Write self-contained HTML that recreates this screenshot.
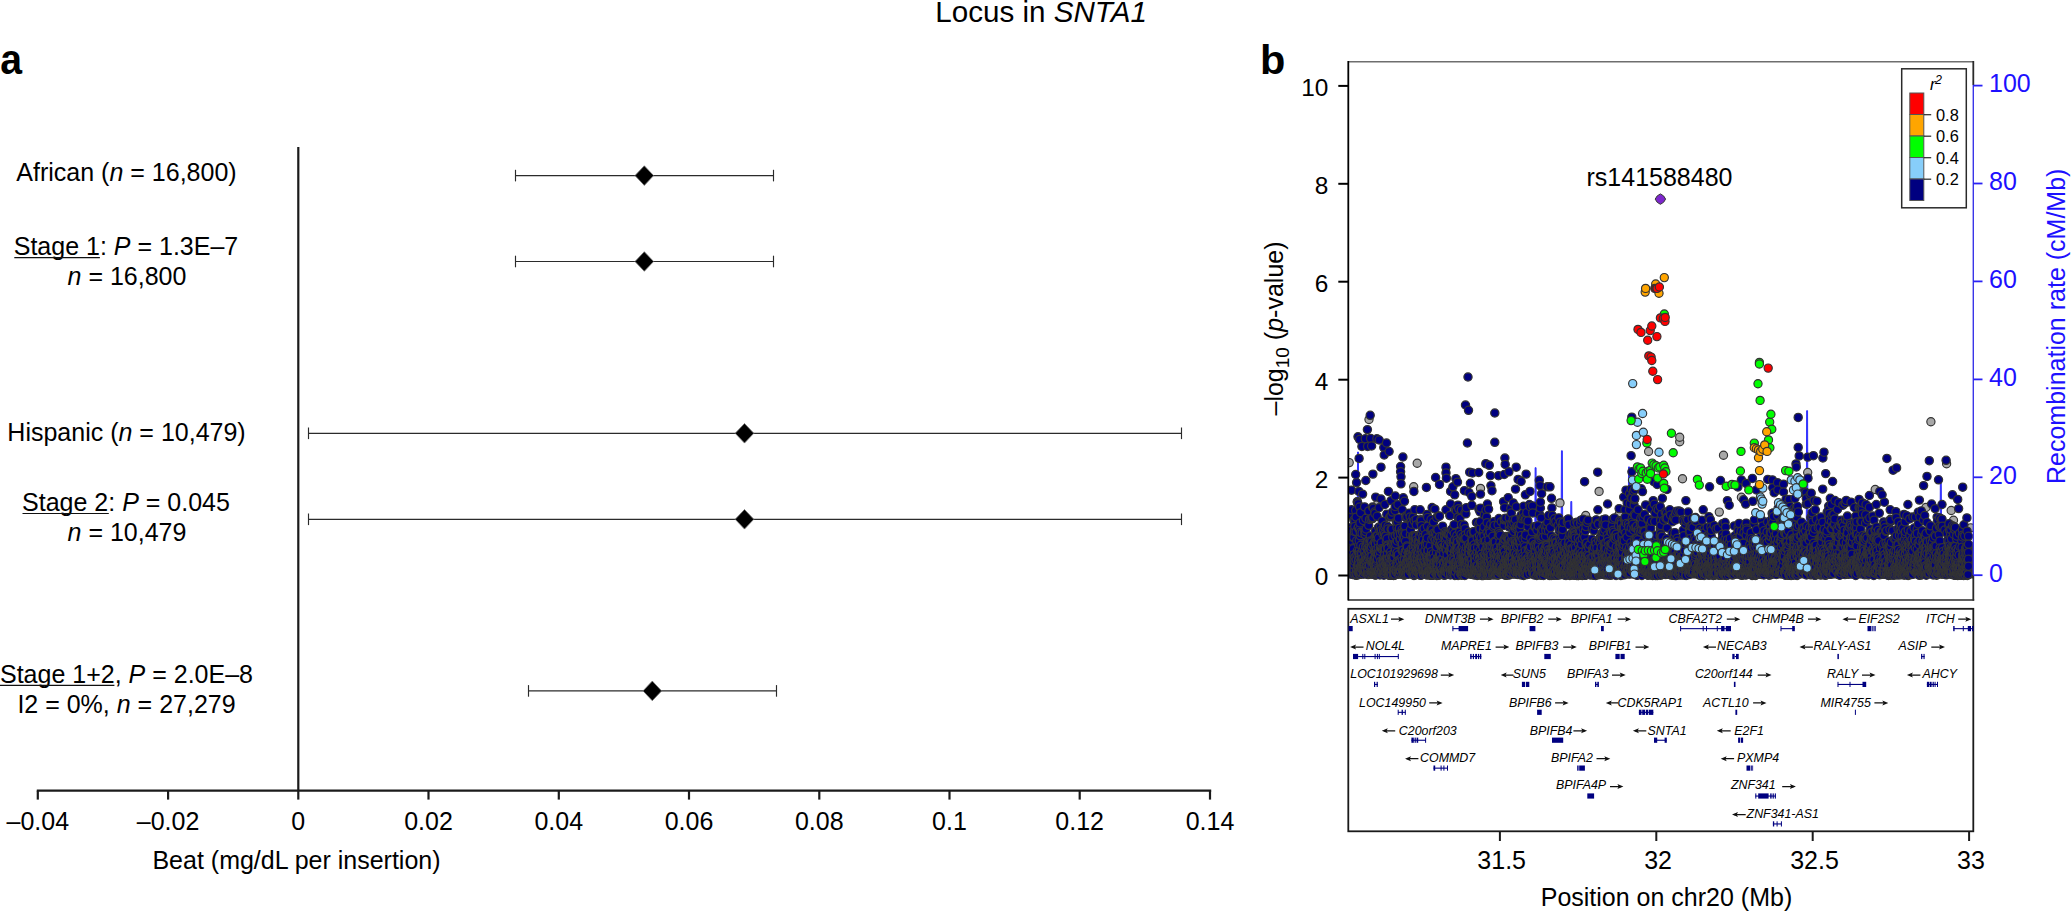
<!DOCTYPE html>
<html lang="en"><head><meta charset="utf-8"><title>Locus in SNTA1</title>
<style>
html,body{margin:0;padding:0;background:#fff;}
body{width:2071px;height:912px;overflow:hidden;}
svg{display:block;position:absolute;left:0;top:0;}
text{font-family:"Liberation Sans",Arial,Helvetica,sans-serif;fill:#000;}
.t25{font-size:25px;}
.i{font-style:italic;}
.b{font-weight:bold;}
.blue{fill:#1d10ff;}
.gene{font-size:12.4px;font-style:italic;}
.leg{font-size:16.4px;}
</style></head><body>
<svg width="2071" height="912" viewBox="0 0 2071 912">
<rect x="0" y="0" width="2071" height="912" fill="#fff"/>
<text x="935.3" y="22.2" style="font-size:29.6px">Locus in <tspan class="i">SNTA1</tspan></text>
<text x="0.2" y="73.6" class="b" style="font-size:42.6px" textLength="21.8" lengthAdjust="spacingAndGlyphs">a</text>
<text x="1260" y="73.6" class="b" style="font-size:41.5px">b</text>
<g stroke="#1a1a1a" stroke-width="2.2" fill="none">
<line x1="298.3" y1="147" x2="298.3" y2="790.6"/>
<line x1="36.8" y1="790.6" x2="1211.2" y2="790.6"/>
<line x1="37.8" y1="790.6" x2="37.8" y2="799.6"/>
<line x1="168.1" y1="790.6" x2="168.1" y2="799.6"/>
<line x1="298.3" y1="790.6" x2="298.3" y2="799.6"/>
<line x1="428.5" y1="790.6" x2="428.5" y2="799.6"/>
<line x1="558.8" y1="790.6" x2="558.8" y2="799.6"/>
<line x1="689.0" y1="790.6" x2="689.0" y2="799.6"/>
<line x1="819.3" y1="790.6" x2="819.3" y2="799.6"/>
<line x1="949.5" y1="790.6" x2="949.5" y2="799.6"/>
<line x1="1079.7" y1="790.6" x2="1079.7" y2="799.6"/>
<line x1="1210.0" y1="790.6" x2="1210.0" y2="799.6"/>
</g>
<text x="37.8" y="829.6" class="t25" text-anchor="middle">–0.04</text>
<text x="168.1" y="829.6" class="t25" text-anchor="middle">–0.02</text>
<text x="298.3" y="829.6" class="t25" text-anchor="middle">0</text>
<text x="428.5" y="829.6" class="t25" text-anchor="middle">0.02</text>
<text x="558.8" y="829.6" class="t25" text-anchor="middle">0.04</text>
<text x="689.0" y="829.6" class="t25" text-anchor="middle">0.06</text>
<text x="819.3" y="829.6" class="t25" text-anchor="middle">0.08</text>
<text x="949.5" y="829.6" class="t25" text-anchor="middle">0.1</text>
<text x="1079.7" y="829.6" class="t25" text-anchor="middle">0.12</text>
<text x="1210.0" y="829.6" class="t25" text-anchor="middle">0.14</text>
<text x="296.5" y="868.6" class="t25" text-anchor="middle">Beat (mg/dL per insertion)</text>
<g stroke="#2b2b2b" stroke-width="1.15" fill="none"><line x1="515.5" y1="175.6" x2="773.5" y2="175.6"/><line x1="515.5" y1="169.79999999999998" x2="515.5" y2="181.4"/><line x1="773.5" y1="169.79999999999998" x2="773.5" y2="181.4"/></g>
<path d="M635.0 175.6L644.3 165.79999999999998L653.5999999999999 175.6L644.3 185.4Z" fill="#000" stroke="#777" stroke-width="0.8"/>
<g stroke="#2b2b2b" stroke-width="1.15" fill="none"><line x1="515.5" y1="261.5" x2="773.5" y2="261.5"/><line x1="515.5" y1="255.7" x2="515.5" y2="267.3"/><line x1="773.5" y1="255.7" x2="773.5" y2="267.3"/></g>
<path d="M635.0 261.5L644.3 251.7L653.5999999999999 261.5L644.3 271.3Z" fill="#000" stroke="#777" stroke-width="0.8"/>
<g stroke="#2b2b2b" stroke-width="1.15" fill="none"><line x1="308.5" y1="433.3" x2="1181.5" y2="433.3"/><line x1="308.5" y1="427.5" x2="308.5" y2="439.1"/><line x1="1181.5" y1="427.5" x2="1181.5" y2="439.1"/></g>
<path d="M735.2 433.3L744.5 423.5L753.8 433.3L744.5 443.1Z" fill="#000" stroke="#777" stroke-width="0.8"/>
<g stroke="#2b2b2b" stroke-width="1.15" fill="none"><line x1="308.5" y1="519.3" x2="1181.5" y2="519.3"/><line x1="308.5" y1="513.5" x2="308.5" y2="525.0999999999999"/><line x1="1181.5" y1="513.5" x2="1181.5" y2="525.0999999999999"/></g>
<path d="M735.2 519.3L744.5 509.49999999999994L753.8 519.3L744.5 529.0999999999999Z" fill="#000" stroke="#777" stroke-width="0.8"/>
<g stroke="#2b2b2b" stroke-width="1.15" fill="none"><line x1="528.5" y1="690.9" x2="776.5" y2="690.9"/><line x1="528.5" y1="685.1" x2="528.5" y2="696.6999999999999"/><line x1="776.5" y1="685.1" x2="776.5" y2="696.6999999999999"/></g>
<path d="M643.0 690.9L652.3 681.1L661.5999999999999 690.9L652.3 700.6999999999999Z" fill="#000" stroke="#777" stroke-width="0.8"/>
<text x="126.5" y="181.3" class="t25" text-anchor="middle">African (<tspan class="i">n</tspan> = 16,800)</text>
<text x="126" y="254.6" class="t25" text-anchor="middle">Stage 1: <tspan class="i">P</tspan> = 1.3E–7</text>
<text x="127" y="284.5" class="t25" text-anchor="middle"><tspan class="i">n</tspan> = 16,800</text>
<text x="126.5" y="441.3" class="t25" text-anchor="middle">Hispanic (<tspan class="i">n</tspan> = 10,479)</text>
<text x="126" y="510.6" class="t25" text-anchor="middle">Stage 2: <tspan class="i">P</tspan> = 0.045</text>
<text x="127" y="540.5" class="t25" text-anchor="middle"><tspan class="i">n</tspan> = 10,479</text>
<text x="126.5" y="682.6" class="t25" text-anchor="middle">Stage 1+2, <tspan class="i">P</tspan> = 2.0E–8</text>
<text x="126.5" y="713.1" class="t25" text-anchor="middle">I2 = 0%, <tspan class="i">n</tspan> = 27,279</text>
<line x1="14.3" y1="257.6" x2="99.9" y2="257.6" stroke="#111" stroke-width="1.1"/>
<line x1="22.5" y1="513.5" x2="108.8" y2="513.5" stroke="#111" stroke-width="1.1"/>
<line x1="-1" y1="685.4" x2="114.4" y2="685.4" stroke="#111" stroke-width="1.1"/>
<g stroke="#2a22f5" stroke-width="1.6" fill="none">
<line x1="1348.3" y1="572" x2="1973.3" y2="572" stroke-width="1.2"/>
<path d="M1357.0 576L1357.55 452L1358.45 452L1359.0 576" fill="#3030ff" stroke="#3030ff" stroke-width="1"/>
<path d="M1534.6 576L1535.1499999999999 467.7L1536.05 467.7L1536.6 576" fill="#3030ff" stroke="#3030ff" stroke-width="1"/>
<path d="M1560.9 576L1561.45 450.8L1562.3500000000001 450.8L1562.9 576" fill="#3030ff" stroke="#3030ff" stroke-width="1"/>
<path d="M1570.3 576L1570.85 501.5L1571.75 501.5L1572.3 576" fill="#3030ff" stroke="#3030ff" stroke-width="1"/>
<path d="M1628.0 576L1628.55 466.9L1629.45 466.9L1630.0 576" fill="#3030ff" stroke="#3030ff" stroke-width="1"/>
<path d="M1806.1 576L1806.6499999999999 410.7L1807.55 410.7L1808.1 576" fill="#3030ff" stroke="#3030ff" stroke-width="1"/>
<path d="M1939.8 576L1940.35 482L1941.25 482L1941.8 576" fill="#3030ff" stroke="#3030ff" stroke-width="1"/>
</g>
<clipPath id="pc"><rect x="1348.3" y="61.7" width="625.0" height="538.1999999999999"/></clipPath>
<g clip-path="url(#pc)">
<polygon points="1348.3,578.5 1349,533.2 1358,532.0 1370,536.8 1385,535.6 1400,532.6 1420,538.6 1440,541.6 1455,533.8 1470,535.0 1490,537.4 1510,536.8 1530,533.8 1545,536.8 1560,542.2 1575,544.0 1590,543.4 1605,544.6 1618,542.8 1624,528.4 1630,523.9 1640,524.8 1648,533.2 1665,537.4 1685,539.8 1700,542.2 1712,544.6 1725,547.0 1745,545.8 1760,542.2 1768,539.2 1775,530.2 1790,528.4 1800,524.8 1810,525.4 1820,529.0 1835,530.8 1850,532.0 1868,532.6 1880,537.4 1895,542.8 1910,540.4 1920,538.0 1935,541.6 1950,544.6 1962,547.0 1973,542.2 1973.3,578.5" fill="#333"/>
<g fill="#a8a8a8" stroke="#333" stroke-width="1.15">
<circle cx="1369.0" cy="419.5" r="4.1"/>
<circle cx="1417.2" cy="463.3" r="4.1"/>
<circle cx="1349.2" cy="462.6" r="4.1"/>
<circle cx="1413.7" cy="486.8" r="4.1"/>
<circle cx="1480.5" cy="488.4" r="4.1"/>
<circle cx="1560.0" cy="502.9" r="4.1"/>
<circle cx="1378.0" cy="502.9" r="4.1"/>
<circle cx="1396.4" cy="505.2" r="4.1"/>
<circle cx="1599.1" cy="491.4" r="4.1"/>
<circle cx="1585.7" cy="515.5" r="4.1"/>
<circle cx="1682.5" cy="478.7" r="4.1"/>
<circle cx="1723.5" cy="455.2" r="4.1"/>
<circle cx="1719.3" cy="512.1" r="4.1"/>
<circle cx="1679.7" cy="441.8" r="4.1"/>
<circle cx="1679.7" cy="437.2" r="4.1"/>
<circle cx="1648.6" cy="451.5" r="4.1"/>
<circle cx="1619.1" cy="514.4" r="4.1"/>
<circle cx="1694.0" cy="528.2" r="4.1"/>
<circle cx="1946.6" cy="463.7" r="4.1"/>
<circle cx="1951.2" cy="510.5" r="4.1"/>
<circle cx="1925.9" cy="507.5" r="4.1"/>
<circle cx="1909.7" cy="517.2" r="4.1"/>
<circle cx="1953.5" cy="520.2" r="4.1"/>
<circle cx="1970.8" cy="527.8" r="4.1"/>
<circle cx="1875.2" cy="489.5" r="4.1"/>
<circle cx="1930.9" cy="421.8" r="4.1"/>
<circle cx="1807.7" cy="472.5" r="4.1"/>
<circle cx="1741.4" cy="497.3" r="4.1"/>
</g>
<g fill="#000080" stroke="#333" stroke-width="1.25">
<circle cx="1350.4" cy="562.7" r="4.1"/>
<circle cx="1350.4" cy="553.4" r="4.1"/>
<circle cx="1350.4" cy="571.6" r="4.1"/>
<circle cx="1350.5" cy="514.9" r="4.1"/>
<circle cx="1350.7" cy="572.0" r="4.1"/>
<circle cx="1350.9" cy="543.0" r="4.1"/>
<circle cx="1350.9" cy="565.6" r="4.1"/>
<circle cx="1350.9" cy="527.6" r="4.1"/>
<circle cx="1351.0" cy="564.1" r="4.1"/>
<circle cx="1351.1" cy="570.1" r="4.1"/>
<circle cx="1351.2" cy="573.7" r="4.1"/>
<circle cx="1351.3" cy="568.3" r="4.1"/>
<circle cx="1351.4" cy="542.5" r="4.1"/>
<circle cx="1351.5" cy="537.5" r="4.1"/>
<circle cx="1351.5" cy="490.2" r="4.1"/>
<circle cx="1351.5" cy="509.8" r="4.1"/>
<circle cx="1351.6" cy="565.1" r="4.1"/>
<circle cx="1351.7" cy="530.2" r="4.1"/>
<circle cx="1351.8" cy="537.4" r="4.1"/>
<circle cx="1351.9" cy="565.1" r="4.1"/>
<circle cx="1352.0" cy="545.1" r="4.1"/>
<circle cx="1352.1" cy="569.2" r="4.1"/>
<circle cx="1352.1" cy="573.2" r="4.1"/>
<circle cx="1352.3" cy="562.6" r="4.1"/>
<circle cx="1352.4" cy="551.9" r="4.1"/>
<circle cx="1352.5" cy="559.4" r="4.1"/>
<circle cx="1352.5" cy="574.5" r="4.1"/>
<circle cx="1352.6" cy="541.9" r="4.1"/>
<circle cx="1352.7" cy="566.8" r="4.1"/>
<circle cx="1352.7" cy="563.8" r="4.1"/>
<circle cx="1352.7" cy="537.2" r="4.1"/>
<circle cx="1352.7" cy="569.3" r="4.1"/>
<circle cx="1352.8" cy="568.7" r="4.1"/>
<circle cx="1352.8" cy="562.6" r="4.1"/>
<circle cx="1352.9" cy="562.6" r="4.1"/>
<circle cx="1353.0" cy="559.4" r="4.1"/>
<circle cx="1353.1" cy="559.5" r="4.1"/>
<circle cx="1353.1" cy="536.9" r="4.1"/>
<circle cx="1353.2" cy="573.0" r="4.1"/>
<circle cx="1353.2" cy="558.0" r="4.1"/>
<circle cx="1353.2" cy="568.2" r="4.1"/>
<circle cx="1353.3" cy="548.0" r="4.1"/>
<circle cx="1353.3" cy="548.7" r="4.1"/>
<circle cx="1353.4" cy="568.2" r="4.1"/>
<circle cx="1353.5" cy="568.4" r="4.1"/>
<circle cx="1353.5" cy="572.1" r="4.1"/>
<circle cx="1353.8" cy="537.3" r="4.1"/>
<circle cx="1353.8" cy="565.6" r="4.1"/>
<circle cx="1353.9" cy="520.0" r="4.1"/>
<circle cx="1354.0" cy="554.8" r="4.1"/>
<circle cx="1354.1" cy="570.5" r="4.1"/>
<circle cx="1354.2" cy="565.1" r="4.1"/>
<circle cx="1354.2" cy="531.0" r="4.1"/>
<circle cx="1354.4" cy="531.5" r="4.1"/>
<circle cx="1354.6" cy="557.6" r="4.1"/>
<circle cx="1354.8" cy="520.9" r="4.1"/>
<circle cx="1354.8" cy="526.4" r="4.1"/>
<circle cx="1354.8" cy="561.4" r="4.1"/>
<circle cx="1355.0" cy="574.9" r="4.1"/>
<circle cx="1355.7" cy="474.5" r="4.1"/>
<circle cx="1355.7" cy="510.5" r="4.1"/>
<circle cx="1356.0" cy="531.6" r="4.1"/>
<circle cx="1356.1" cy="556.2" r="4.1"/>
<circle cx="1356.1" cy="517.1" r="4.1"/>
<circle cx="1356.2" cy="560.0" r="4.1"/>
<circle cx="1356.4" cy="570.4" r="4.1"/>
<circle cx="1356.6" cy="482.6" r="4.1"/>
<circle cx="1356.6" cy="575.3" r="4.1"/>
<circle cx="1356.7" cy="540.7" r="4.1"/>
<circle cx="1356.9" cy="569.0" r="4.1"/>
<circle cx="1356.9" cy="574.3" r="4.1"/>
<circle cx="1357.3" cy="501.7" r="4.1"/>
<circle cx="1357.3" cy="565.9" r="4.1"/>
<circle cx="1357.4" cy="502.2" r="4.1"/>
<circle cx="1357.4" cy="550.5" r="4.1"/>
<circle cx="1357.6" cy="565.0" r="4.1"/>
<circle cx="1357.9" cy="556.1" r="4.1"/>
<circle cx="1358.0" cy="436.8" r="4.1"/>
<circle cx="1358.1" cy="503.8" r="4.1"/>
<circle cx="1358.1" cy="527.7" r="4.1"/>
<circle cx="1358.3" cy="561.3" r="4.1"/>
<circle cx="1358.3" cy="527.4" r="4.1"/>
<circle cx="1358.4" cy="570.0" r="4.1"/>
<circle cx="1358.4" cy="565.8" r="4.1"/>
<circle cx="1358.5" cy="551.8" r="4.1"/>
<circle cx="1358.5" cy="562.4" r="4.1"/>
<circle cx="1358.6" cy="573.2" r="4.1"/>
<circle cx="1358.6" cy="560.4" r="4.1"/>
<circle cx="1358.7" cy="545.3" r="4.1"/>
<circle cx="1358.7" cy="568.2" r="4.1"/>
<circle cx="1358.9" cy="491.4" r="4.1"/>
<circle cx="1358.9" cy="566.2" r="4.1"/>
<circle cx="1359.0" cy="563.8" r="4.1"/>
<circle cx="1359.1" cy="458.4" r="4.1"/>
<circle cx="1359.1" cy="571.6" r="4.1"/>
<circle cx="1359.2" cy="540.4" r="4.1"/>
<circle cx="1359.2" cy="574.4" r="4.1"/>
<circle cx="1359.4" cy="550.4" r="4.1"/>
<circle cx="1359.5" cy="529.8" r="4.1"/>
<circle cx="1359.5" cy="556.3" r="4.1"/>
<circle cx="1359.6" cy="557.2" r="4.1"/>
<circle cx="1359.6" cy="439.5" r="4.1"/>
<circle cx="1359.6" cy="507.0" r="4.1"/>
<circle cx="1359.6" cy="574.1" r="4.1"/>
<circle cx="1359.7" cy="554.0" r="4.1"/>
<circle cx="1360.0" cy="523.0" r="4.1"/>
<circle cx="1360.1" cy="571.6" r="4.1"/>
<circle cx="1360.1" cy="574.3" r="4.1"/>
<circle cx="1360.2" cy="570.4" r="4.1"/>
<circle cx="1360.2" cy="535.8" r="4.1"/>
<circle cx="1360.3" cy="532.4" r="4.1"/>
<circle cx="1360.4" cy="572.7" r="4.1"/>
<circle cx="1360.6" cy="566.1" r="4.1"/>
<circle cx="1360.6" cy="512.7" r="4.1"/>
<circle cx="1360.8" cy="545.3" r="4.1"/>
<circle cx="1361.0" cy="572.2" r="4.1"/>
<circle cx="1361.1" cy="561.0" r="4.1"/>
<circle cx="1361.2" cy="554.0" r="4.1"/>
<circle cx="1361.3" cy="560.1" r="4.1"/>
<circle cx="1361.5" cy="566.1" r="4.1"/>
<circle cx="1361.6" cy="568.7" r="4.1"/>
<circle cx="1361.6" cy="556.6" r="4.1"/>
<circle cx="1361.7" cy="562.9" r="4.1"/>
<circle cx="1361.7" cy="566.9" r="4.1"/>
<circle cx="1361.7" cy="566.5" r="4.1"/>
<circle cx="1361.8" cy="568.1" r="4.1"/>
<circle cx="1361.8" cy="553.4" r="4.1"/>
<circle cx="1361.9" cy="446.4" r="4.1"/>
<circle cx="1362.0" cy="569.2" r="4.1"/>
<circle cx="1362.1" cy="533.2" r="4.1"/>
<circle cx="1362.2" cy="564.5" r="4.1"/>
<circle cx="1362.6" cy="494.1" r="4.1"/>
<circle cx="1362.8" cy="559.1" r="4.1"/>
<circle cx="1362.8" cy="564.1" r="4.1"/>
<circle cx="1362.9" cy="549.5" r="4.1"/>
<circle cx="1363.0" cy="557.9" r="4.1"/>
<circle cx="1363.2" cy="572.0" r="4.1"/>
<circle cx="1363.2" cy="568.7" r="4.1"/>
<circle cx="1363.2" cy="569.5" r="4.1"/>
<circle cx="1363.3" cy="546.9" r="4.1"/>
<circle cx="1363.4" cy="574.1" r="4.1"/>
<circle cx="1363.4" cy="520.4" r="4.1"/>
<circle cx="1363.5" cy="563.7" r="4.1"/>
<circle cx="1363.7" cy="570.6" r="4.1"/>
<circle cx="1363.8" cy="571.4" r="4.1"/>
<circle cx="1363.8" cy="562.1" r="4.1"/>
<circle cx="1364.1" cy="565.6" r="4.1"/>
<circle cx="1364.2" cy="561.4" r="4.1"/>
<circle cx="1364.4" cy="572.3" r="4.1"/>
<circle cx="1364.5" cy="564.8" r="4.1"/>
<circle cx="1364.6" cy="506.9" r="4.1"/>
<circle cx="1364.6" cy="563.2" r="4.1"/>
<circle cx="1364.7" cy="553.6" r="4.1"/>
<circle cx="1364.8" cy="550.7" r="4.1"/>
<circle cx="1364.8" cy="531.3" r="4.1"/>
<circle cx="1364.9" cy="570.3" r="4.1"/>
<circle cx="1365.1" cy="534.2" r="4.1"/>
<circle cx="1365.1" cy="534.6" r="4.1"/>
<circle cx="1365.3" cy="438.8" r="4.1"/>
<circle cx="1365.4" cy="571.6" r="4.1"/>
<circle cx="1365.4" cy="561.2" r="4.1"/>
<circle cx="1365.5" cy="558.1" r="4.1"/>
<circle cx="1365.6" cy="531.8" r="4.1"/>
<circle cx="1365.7" cy="555.6" r="4.1"/>
<circle cx="1365.8" cy="480.5" r="4.1"/>
<circle cx="1365.8" cy="546.6" r="4.1"/>
<circle cx="1365.9" cy="560.4" r="4.1"/>
<circle cx="1365.9" cy="546.7" r="4.1"/>
<circle cx="1365.9" cy="518.3" r="4.1"/>
<circle cx="1366.1" cy="529.0" r="4.1"/>
<circle cx="1366.1" cy="555.4" r="4.1"/>
<circle cx="1366.1" cy="561.3" r="4.1"/>
<circle cx="1366.2" cy="563.0" r="4.1"/>
<circle cx="1366.2" cy="562.5" r="4.1"/>
<circle cx="1366.4" cy="566.3" r="4.1"/>
<circle cx="1366.7" cy="544.3" r="4.1"/>
<circle cx="1366.8" cy="573.3" r="4.1"/>
<circle cx="1366.8" cy="566.8" r="4.1"/>
<circle cx="1367.0" cy="558.9" r="4.1"/>
<circle cx="1367.4" cy="574.0" r="4.1"/>
<circle cx="1367.4" cy="542.5" r="4.1"/>
<circle cx="1367.4" cy="549.5" r="4.1"/>
<circle cx="1367.4" cy="429.6" r="4.1"/>
<circle cx="1367.5" cy="570.9" r="4.1"/>
<circle cx="1367.5" cy="570.2" r="4.1"/>
<circle cx="1367.6" cy="568.3" r="4.1"/>
<circle cx="1367.6" cy="572.3" r="4.1"/>
<circle cx="1367.6" cy="446.4" r="4.1"/>
<circle cx="1367.8" cy="560.0" r="4.1"/>
<circle cx="1367.9" cy="554.8" r="4.1"/>
<circle cx="1368.0" cy="570.5" r="4.1"/>
<circle cx="1368.1" cy="574.6" r="4.1"/>
<circle cx="1368.1" cy="570.0" r="4.1"/>
<circle cx="1368.1" cy="569.3" r="4.1"/>
<circle cx="1368.6" cy="550.6" r="4.1"/>
<circle cx="1368.6" cy="557.7" r="4.1"/>
<circle cx="1368.7" cy="525.3" r="4.1"/>
<circle cx="1368.8" cy="510.9" r="4.1"/>
<circle cx="1368.9" cy="573.3" r="4.1"/>
<circle cx="1369.0" cy="539.7" r="4.1"/>
<circle cx="1369.1" cy="542.8" r="4.1"/>
<circle cx="1369.4" cy="547.6" r="4.1"/>
<circle cx="1369.4" cy="564.7" r="4.1"/>
<circle cx="1369.4" cy="564.0" r="4.1"/>
<circle cx="1369.5" cy="519.4" r="4.1"/>
<circle cx="1369.5" cy="566.5" r="4.1"/>
<circle cx="1369.6" cy="565.2" r="4.1"/>
<circle cx="1369.7" cy="553.4" r="4.1"/>
<circle cx="1369.8" cy="557.2" r="4.1"/>
<circle cx="1370.1" cy="573.7" r="4.1"/>
<circle cx="1370.2" cy="415.3" r="4.1"/>
<circle cx="1370.2" cy="548.9" r="4.1"/>
<circle cx="1370.3" cy="536.0" r="4.1"/>
<circle cx="1370.5" cy="540.9" r="4.1"/>
<circle cx="1370.6" cy="438.4" r="4.1"/>
<circle cx="1370.9" cy="561.5" r="4.1"/>
<circle cx="1371.1" cy="549.5" r="4.1"/>
<circle cx="1371.1" cy="519.0" r="4.1"/>
<circle cx="1371.1" cy="559.9" r="4.1"/>
<circle cx="1371.2" cy="558.5" r="4.1"/>
<circle cx="1371.2" cy="572.0" r="4.1"/>
<circle cx="1371.2" cy="542.3" r="4.1"/>
<circle cx="1371.2" cy="558.1" r="4.1"/>
<circle cx="1371.3" cy="572.6" r="4.1"/>
<circle cx="1371.4" cy="546.7" r="4.1"/>
<circle cx="1371.6" cy="446.0" r="4.1"/>
<circle cx="1371.7" cy="541.8" r="4.1"/>
<circle cx="1371.8" cy="574.1" r="4.1"/>
<circle cx="1371.9" cy="556.2" r="4.1"/>
<circle cx="1372.1" cy="566.4" r="4.1"/>
<circle cx="1372.3" cy="572.3" r="4.1"/>
<circle cx="1372.4" cy="562.5" r="4.1"/>
<circle cx="1372.5" cy="507.0" r="4.1"/>
<circle cx="1372.6" cy="518.6" r="4.1"/>
<circle cx="1372.7" cy="517.5" r="4.1"/>
<circle cx="1372.9" cy="563.3" r="4.1"/>
<circle cx="1372.9" cy="474.1" r="4.1"/>
<circle cx="1373.0" cy="544.8" r="4.1"/>
<circle cx="1373.1" cy="571.1" r="4.1"/>
<circle cx="1373.4" cy="573.1" r="4.1"/>
<circle cx="1373.4" cy="508.1" r="4.1"/>
<circle cx="1373.5" cy="563.2" r="4.1"/>
<circle cx="1373.8" cy="574.4" r="4.1"/>
<circle cx="1373.8" cy="574.2" r="4.1"/>
<circle cx="1373.9" cy="558.5" r="4.1"/>
<circle cx="1373.9" cy="561.6" r="4.1"/>
<circle cx="1374.0" cy="573.4" r="4.1"/>
<circle cx="1374.3" cy="561.8" r="4.1"/>
<circle cx="1374.5" cy="551.5" r="4.1"/>
<circle cx="1374.5" cy="567.4" r="4.1"/>
<circle cx="1374.6" cy="512.1" r="4.1"/>
<circle cx="1374.6" cy="558.1" r="4.1"/>
<circle cx="1374.6" cy="572.7" r="4.1"/>
<circle cx="1374.7" cy="542.3" r="4.1"/>
<circle cx="1374.8" cy="542.7" r="4.1"/>
<circle cx="1374.8" cy="537.3" r="4.1"/>
<circle cx="1374.9" cy="513.5" r="4.1"/>
<circle cx="1375.0" cy="575.0" r="4.1"/>
<circle cx="1375.1" cy="547.6" r="4.1"/>
<circle cx="1375.1" cy="561.8" r="4.1"/>
<circle cx="1375.2" cy="567.9" r="4.1"/>
<circle cx="1375.3" cy="574.6" r="4.1"/>
<circle cx="1375.3" cy="552.8" r="4.1"/>
<circle cx="1375.4" cy="543.9" r="4.1"/>
<circle cx="1375.5" cy="531.2" r="4.1"/>
<circle cx="1375.7" cy="557.5" r="4.1"/>
<circle cx="1375.7" cy="497.1" r="4.1"/>
<circle cx="1375.7" cy="572.3" r="4.1"/>
<circle cx="1375.8" cy="568.5" r="4.1"/>
<circle cx="1376.0" cy="537.7" r="4.1"/>
<circle cx="1376.1" cy="575.0" r="4.1"/>
<circle cx="1376.1" cy="536.0" r="4.1"/>
<circle cx="1376.2" cy="536.7" r="4.1"/>
<circle cx="1376.3" cy="567.6" r="4.1"/>
<circle cx="1376.3" cy="573.2" r="4.1"/>
<circle cx="1376.4" cy="562.5" r="4.1"/>
<circle cx="1376.4" cy="549.5" r="4.1"/>
<circle cx="1376.4" cy="536.4" r="4.1"/>
<circle cx="1376.6" cy="574.0" r="4.1"/>
<circle cx="1376.7" cy="553.4" r="4.1"/>
<circle cx="1376.9" cy="438.8" r="4.1"/>
<circle cx="1377.0" cy="570.9" r="4.1"/>
<circle cx="1377.0" cy="560.0" r="4.1"/>
<circle cx="1377.1" cy="516.3" r="4.1"/>
<circle cx="1377.1" cy="554.8" r="4.1"/>
<circle cx="1377.2" cy="572.7" r="4.1"/>
<circle cx="1377.4" cy="536.0" r="4.1"/>
<circle cx="1377.4" cy="556.5" r="4.1"/>
<circle cx="1377.4" cy="570.0" r="4.1"/>
<circle cx="1377.4" cy="560.9" r="4.1"/>
<circle cx="1377.5" cy="558.9" r="4.1"/>
<circle cx="1377.6" cy="572.6" r="4.1"/>
<circle cx="1377.6" cy="571.3" r="4.1"/>
<circle cx="1377.7" cy="574.3" r="4.1"/>
<circle cx="1377.8" cy="571.6" r="4.1"/>
<circle cx="1378.1" cy="542.3" r="4.1"/>
<circle cx="1378.2" cy="572.6" r="4.1"/>
<circle cx="1378.2" cy="552.5" r="4.1"/>
<circle cx="1378.2" cy="548.0" r="4.1"/>
<circle cx="1378.3" cy="572.6" r="4.1"/>
<circle cx="1378.3" cy="572.0" r="4.1"/>
<circle cx="1378.4" cy="572.6" r="4.1"/>
<circle cx="1378.4" cy="553.9" r="4.1"/>
<circle cx="1378.5" cy="538.0" r="4.1"/>
<circle cx="1378.5" cy="527.3" r="4.1"/>
<circle cx="1379.1" cy="507.6" r="4.1"/>
<circle cx="1379.2" cy="440.0" r="4.1"/>
<circle cx="1379.6" cy="569.3" r="4.1"/>
<circle cx="1379.7" cy="557.0" r="4.1"/>
<circle cx="1379.8" cy="573.5" r="4.1"/>
<circle cx="1380.0" cy="530.6" r="4.1"/>
<circle cx="1380.0" cy="575.0" r="4.1"/>
<circle cx="1380.0" cy="551.2" r="4.1"/>
<circle cx="1380.2" cy="573.0" r="4.1"/>
<circle cx="1380.3" cy="527.1" r="4.1"/>
<circle cx="1380.4" cy="547.7" r="4.1"/>
<circle cx="1380.7" cy="561.1" r="4.1"/>
<circle cx="1380.7" cy="563.3" r="4.1"/>
<circle cx="1380.7" cy="561.4" r="4.1"/>
<circle cx="1381.0" cy="467.2" r="4.1"/>
<circle cx="1381.0" cy="499.0" r="4.1"/>
<circle cx="1381.0" cy="567.6" r="4.1"/>
<circle cx="1381.3" cy="542.7" r="4.1"/>
<circle cx="1381.4" cy="530.2" r="4.1"/>
<circle cx="1381.4" cy="570.5" r="4.1"/>
<circle cx="1381.5" cy="548.7" r="4.1"/>
<circle cx="1381.8" cy="563.8" r="4.1"/>
<circle cx="1381.9" cy="573.4" r="4.1"/>
<circle cx="1381.9" cy="567.5" r="4.1"/>
<circle cx="1381.9" cy="567.2" r="4.1"/>
<circle cx="1382.0" cy="568.0" r="4.1"/>
<circle cx="1382.0" cy="571.8" r="4.1"/>
<circle cx="1382.2" cy="521.1" r="4.1"/>
<circle cx="1382.5" cy="549.6" r="4.1"/>
<circle cx="1382.7" cy="568.7" r="4.1"/>
<circle cx="1382.8" cy="534.3" r="4.1"/>
<circle cx="1383.0" cy="560.4" r="4.1"/>
<circle cx="1383.4" cy="559.4" r="4.1"/>
<circle cx="1383.5" cy="571.7" r="4.1"/>
<circle cx="1383.5" cy="571.7" r="4.1"/>
<circle cx="1383.5" cy="573.5" r="4.1"/>
<circle cx="1383.6" cy="530.1" r="4.1"/>
<circle cx="1383.8" cy="447.6" r="4.1"/>
<circle cx="1383.8" cy="574.2" r="4.1"/>
<circle cx="1383.9" cy="548.9" r="4.1"/>
<circle cx="1383.9" cy="564.9" r="4.1"/>
<circle cx="1383.9" cy="572.4" r="4.1"/>
<circle cx="1383.9" cy="575.2" r="4.1"/>
<circle cx="1384.0" cy="568.5" r="4.1"/>
<circle cx="1384.1" cy="556.9" r="4.1"/>
<circle cx="1384.1" cy="526.4" r="4.1"/>
<circle cx="1384.1" cy="562.2" r="4.1"/>
<circle cx="1384.1" cy="573.5" r="4.1"/>
<circle cx="1384.2" cy="549.5" r="4.1"/>
<circle cx="1384.2" cy="455.0" r="4.1"/>
<circle cx="1384.3" cy="573.6" r="4.1"/>
<circle cx="1384.3" cy="550.2" r="4.1"/>
<circle cx="1384.4" cy="534.0" r="4.1"/>
<circle cx="1384.7" cy="554.6" r="4.1"/>
<circle cx="1384.8" cy="572.0" r="4.1"/>
<circle cx="1384.8" cy="566.5" r="4.1"/>
<circle cx="1384.8" cy="566.0" r="4.1"/>
<circle cx="1384.9" cy="504.5" r="4.1"/>
<circle cx="1385.2" cy="571.9" r="4.1"/>
<circle cx="1385.3" cy="549.0" r="4.1"/>
<circle cx="1385.4" cy="525.3" r="4.1"/>
<circle cx="1385.5" cy="535.4" r="4.1"/>
<circle cx="1385.6" cy="536.3" r="4.1"/>
<circle cx="1385.8" cy="563.6" r="4.1"/>
<circle cx="1385.9" cy="568.7" r="4.1"/>
<circle cx="1386.0" cy="562.8" r="4.1"/>
<circle cx="1386.0" cy="571.1" r="4.1"/>
<circle cx="1386.1" cy="559.9" r="4.1"/>
<circle cx="1386.1" cy="558.2" r="4.1"/>
<circle cx="1386.1" cy="559.7" r="4.1"/>
<circle cx="1386.4" cy="541.7" r="4.1"/>
<circle cx="1386.4" cy="559.7" r="4.1"/>
<circle cx="1386.5" cy="443.0" r="4.1"/>
<circle cx="1386.7" cy="558.6" r="4.1"/>
<circle cx="1386.7" cy="542.7" r="4.1"/>
<circle cx="1386.8" cy="514.2" r="4.1"/>
<circle cx="1386.8" cy="562.3" r="4.1"/>
<circle cx="1387.0" cy="565.6" r="4.1"/>
<circle cx="1387.1" cy="538.7" r="4.1"/>
<circle cx="1387.1" cy="570.3" r="4.1"/>
<circle cx="1387.4" cy="556.8" r="4.1"/>
<circle cx="1387.4" cy="554.5" r="4.1"/>
<circle cx="1387.4" cy="570.5" r="4.1"/>
<circle cx="1387.5" cy="553.1" r="4.1"/>
<circle cx="1387.5" cy="564.3" r="4.1"/>
<circle cx="1387.5" cy="559.8" r="4.1"/>
<circle cx="1387.5" cy="544.9" r="4.1"/>
<circle cx="1387.6" cy="568.1" r="4.1"/>
<circle cx="1387.7" cy="566.2" r="4.1"/>
<circle cx="1387.7" cy="545.9" r="4.1"/>
<circle cx="1387.8" cy="568.4" r="4.1"/>
<circle cx="1387.8" cy="548.3" r="4.1"/>
<circle cx="1387.9" cy="526.5" r="4.1"/>
<circle cx="1388.1" cy="529.0" r="4.1"/>
<circle cx="1388.2" cy="548.1" r="4.1"/>
<circle cx="1388.4" cy="491.4" r="4.1"/>
<circle cx="1388.4" cy="566.5" r="4.1"/>
<circle cx="1388.6" cy="564.4" r="4.1"/>
<circle cx="1388.7" cy="568.1" r="4.1"/>
<circle cx="1388.7" cy="575.2" r="4.1"/>
<circle cx="1388.8" cy="573.9" r="4.1"/>
<circle cx="1388.9" cy="571.0" r="4.1"/>
<circle cx="1389.0" cy="563.3" r="4.1"/>
<circle cx="1389.0" cy="560.8" r="4.1"/>
<circle cx="1389.1" cy="570.3" r="4.1"/>
<circle cx="1389.1" cy="451.5" r="4.1"/>
<circle cx="1389.3" cy="557.7" r="4.1"/>
<circle cx="1389.3" cy="566.2" r="4.1"/>
<circle cx="1389.4" cy="573.1" r="4.1"/>
<circle cx="1389.4" cy="564.7" r="4.1"/>
<circle cx="1389.6" cy="557.0" r="4.1"/>
<circle cx="1389.7" cy="517.1" r="4.1"/>
<circle cx="1389.8" cy="570.3" r="4.1"/>
<circle cx="1390.1" cy="575.3" r="4.1"/>
<circle cx="1390.6" cy="552.0" r="4.1"/>
<circle cx="1390.6" cy="570.2" r="4.1"/>
<circle cx="1390.7" cy="551.8" r="4.1"/>
<circle cx="1390.8" cy="575.3" r="4.1"/>
<circle cx="1390.8" cy="565.6" r="4.1"/>
<circle cx="1390.8" cy="516.1" r="4.1"/>
<circle cx="1390.9" cy="555.1" r="4.1"/>
<circle cx="1391.1" cy="529.2" r="4.1"/>
<circle cx="1391.1" cy="563.3" r="4.1"/>
<circle cx="1391.1" cy="515.8" r="4.1"/>
<circle cx="1391.1" cy="500.6" r="4.1"/>
<circle cx="1391.1" cy="573.8" r="4.1"/>
<circle cx="1391.4" cy="568.9" r="4.1"/>
<circle cx="1391.5" cy="529.9" r="4.1"/>
<circle cx="1391.5" cy="544.2" r="4.1"/>
<circle cx="1391.7" cy="575.2" r="4.1"/>
<circle cx="1391.7" cy="557.0" r="4.1"/>
<circle cx="1391.9" cy="529.1" r="4.1"/>
<circle cx="1392.0" cy="557.4" r="4.1"/>
<circle cx="1392.1" cy="529.3" r="4.1"/>
<circle cx="1392.2" cy="560.2" r="4.1"/>
<circle cx="1392.4" cy="512.1" r="4.1"/>
<circle cx="1392.7" cy="543.5" r="4.1"/>
<circle cx="1392.7" cy="537.3" r="4.1"/>
<circle cx="1392.8" cy="558.6" r="4.1"/>
<circle cx="1392.9" cy="568.5" r="4.1"/>
<circle cx="1392.9" cy="565.3" r="4.1"/>
<circle cx="1393.5" cy="573.3" r="4.1"/>
<circle cx="1393.5" cy="557.1" r="4.1"/>
<circle cx="1393.6" cy="575.4" r="4.1"/>
<circle cx="1393.6" cy="564.2" r="4.1"/>
<circle cx="1393.7" cy="569.4" r="4.1"/>
<circle cx="1393.8" cy="557.3" r="4.1"/>
<circle cx="1394.0" cy="573.9" r="4.1"/>
<circle cx="1394.0" cy="544.1" r="4.1"/>
<circle cx="1394.2" cy="566.4" r="4.1"/>
<circle cx="1394.3" cy="552.3" r="4.1"/>
<circle cx="1394.4" cy="574.9" r="4.1"/>
<circle cx="1394.5" cy="569.6" r="4.1"/>
<circle cx="1394.7" cy="575.2" r="4.1"/>
<circle cx="1394.8" cy="574.2" r="4.1"/>
<circle cx="1395.1" cy="510.5" r="4.1"/>
<circle cx="1395.1" cy="569.1" r="4.1"/>
<circle cx="1395.2" cy="535.6" r="4.1"/>
<circle cx="1395.2" cy="506.5" r="4.1"/>
<circle cx="1395.3" cy="496.0" r="4.1"/>
<circle cx="1395.5" cy="549.6" r="4.1"/>
<circle cx="1395.7" cy="542.8" r="4.1"/>
<circle cx="1395.7" cy="543.9" r="4.1"/>
<circle cx="1396.2" cy="521.3" r="4.1"/>
<circle cx="1396.3" cy="568.3" r="4.1"/>
<circle cx="1396.6" cy="572.7" r="4.1"/>
<circle cx="1396.7" cy="555.0" r="4.1"/>
<circle cx="1396.7" cy="562.9" r="4.1"/>
<circle cx="1397.0" cy="527.7" r="4.1"/>
<circle cx="1397.2" cy="533.6" r="4.1"/>
<circle cx="1397.2" cy="521.5" r="4.1"/>
<circle cx="1397.2" cy="566.1" r="4.1"/>
<circle cx="1397.2" cy="552.4" r="4.1"/>
<circle cx="1397.3" cy="540.9" r="4.1"/>
<circle cx="1397.3" cy="561.3" r="4.1"/>
<circle cx="1397.3" cy="521.8" r="4.1"/>
<circle cx="1397.3" cy="563.9" r="4.1"/>
<circle cx="1397.5" cy="555.6" r="4.1"/>
<circle cx="1397.8" cy="573.1" r="4.1"/>
<circle cx="1397.9" cy="565.3" r="4.1"/>
<circle cx="1398.0" cy="535.3" r="4.1"/>
<circle cx="1398.0" cy="504.6" r="4.1"/>
<circle cx="1398.1" cy="556.4" r="4.1"/>
<circle cx="1398.3" cy="574.2" r="4.1"/>
<circle cx="1398.4" cy="554.8" r="4.1"/>
<circle cx="1398.4" cy="518.2" r="4.1"/>
<circle cx="1399.2" cy="567.5" r="4.1"/>
<circle cx="1399.2" cy="528.8" r="4.1"/>
<circle cx="1399.3" cy="573.3" r="4.1"/>
<circle cx="1399.4" cy="528.1" r="4.1"/>
<circle cx="1399.8" cy="559.6" r="4.1"/>
<circle cx="1399.8" cy="570.8" r="4.1"/>
<circle cx="1400.0" cy="540.1" r="4.1"/>
<circle cx="1400.1" cy="561.3" r="4.1"/>
<circle cx="1400.3" cy="538.5" r="4.1"/>
<circle cx="1400.4" cy="570.5" r="4.1"/>
<circle cx="1400.5" cy="533.5" r="4.1"/>
<circle cx="1400.6" cy="466.5" r="4.1"/>
<circle cx="1400.6" cy="471.8" r="4.1"/>
<circle cx="1401.0" cy="476.8" r="4.1"/>
<circle cx="1401.0" cy="483.8" r="4.1"/>
<circle cx="1401.1" cy="565.9" r="4.1"/>
<circle cx="1401.6" cy="568.2" r="4.1"/>
<circle cx="1401.8" cy="558.0" r="4.1"/>
<circle cx="1401.9" cy="568.8" r="4.1"/>
<circle cx="1402.0" cy="550.3" r="4.1"/>
<circle cx="1402.0" cy="574.3" r="4.1"/>
<circle cx="1402.1" cy="529.8" r="4.1"/>
<circle cx="1402.2" cy="545.8" r="4.1"/>
<circle cx="1402.2" cy="509.8" r="4.1"/>
<circle cx="1402.3" cy="550.8" r="4.1"/>
<circle cx="1402.3" cy="543.8" r="4.1"/>
<circle cx="1402.5" cy="560.5" r="4.1"/>
<circle cx="1402.5" cy="532.3" r="4.1"/>
<circle cx="1402.6" cy="570.4" r="4.1"/>
<circle cx="1402.7" cy="550.2" r="4.1"/>
<circle cx="1402.8" cy="570.5" r="4.1"/>
<circle cx="1402.9" cy="457.0" r="4.1"/>
<circle cx="1403.0" cy="550.2" r="4.1"/>
<circle cx="1403.2" cy="537.8" r="4.1"/>
<circle cx="1403.3" cy="563.8" r="4.1"/>
<circle cx="1403.3" cy="497.8" r="4.1"/>
<circle cx="1403.4" cy="573.0" r="4.1"/>
<circle cx="1403.5" cy="568.6" r="4.1"/>
<circle cx="1403.7" cy="573.8" r="4.1"/>
<circle cx="1403.8" cy="567.7" r="4.1"/>
<circle cx="1404.0" cy="531.2" r="4.1"/>
<circle cx="1404.0" cy="575.1" r="4.1"/>
<circle cx="1404.2" cy="574.8" r="4.1"/>
<circle cx="1404.4" cy="561.1" r="4.1"/>
<circle cx="1404.5" cy="537.5" r="4.1"/>
<circle cx="1404.5" cy="501.3" r="4.1"/>
<circle cx="1404.5" cy="569.8" r="4.1"/>
<circle cx="1404.5" cy="565.5" r="4.1"/>
<circle cx="1404.6" cy="557.2" r="4.1"/>
<circle cx="1404.6" cy="559.5" r="4.1"/>
<circle cx="1404.7" cy="568.2" r="4.1"/>
<circle cx="1404.8" cy="528.5" r="4.1"/>
<circle cx="1404.8" cy="526.1" r="4.1"/>
<circle cx="1405.0" cy="572.0" r="4.1"/>
<circle cx="1405.2" cy="551.4" r="4.1"/>
<circle cx="1405.3" cy="553.1" r="4.1"/>
<circle cx="1405.4" cy="574.3" r="4.1"/>
<circle cx="1405.5" cy="541.2" r="4.1"/>
<circle cx="1405.5" cy="533.6" r="4.1"/>
<circle cx="1405.6" cy="574.1" r="4.1"/>
<circle cx="1405.7" cy="516.1" r="4.1"/>
<circle cx="1405.7" cy="570.0" r="4.1"/>
<circle cx="1405.7" cy="574.6" r="4.1"/>
<circle cx="1405.8" cy="563.8" r="4.1"/>
<circle cx="1405.9" cy="517.7" r="4.1"/>
<circle cx="1406.0" cy="563.0" r="4.1"/>
<circle cx="1406.2" cy="570.6" r="4.1"/>
<circle cx="1406.5" cy="572.5" r="4.1"/>
<circle cx="1406.5" cy="561.4" r="4.1"/>
<circle cx="1406.7" cy="564.1" r="4.1"/>
<circle cx="1406.7" cy="550.4" r="4.1"/>
<circle cx="1406.8" cy="574.2" r="4.1"/>
<circle cx="1406.8" cy="546.0" r="4.1"/>
<circle cx="1406.8" cy="516.6" r="4.1"/>
<circle cx="1406.9" cy="565.2" r="4.1"/>
<circle cx="1407.0" cy="562.2" r="4.1"/>
<circle cx="1407.4" cy="557.9" r="4.1"/>
<circle cx="1407.4" cy="546.9" r="4.1"/>
<circle cx="1407.5" cy="560.8" r="4.1"/>
<circle cx="1407.5" cy="568.4" r="4.1"/>
<circle cx="1408.1" cy="573.4" r="4.1"/>
<circle cx="1408.1" cy="561.4" r="4.1"/>
<circle cx="1408.2" cy="572.7" r="4.1"/>
<circle cx="1408.3" cy="574.2" r="4.1"/>
<circle cx="1408.3" cy="568.7" r="4.1"/>
<circle cx="1408.5" cy="555.7" r="4.1"/>
<circle cx="1408.6" cy="568.3" r="4.1"/>
<circle cx="1408.7" cy="552.2" r="4.1"/>
<circle cx="1408.8" cy="562.4" r="4.1"/>
<circle cx="1409.0" cy="569.0" r="4.1"/>
<circle cx="1409.1" cy="513.2" r="4.1"/>
<circle cx="1409.5" cy="552.8" r="4.1"/>
<circle cx="1409.5" cy="555.2" r="4.1"/>
<circle cx="1409.6" cy="566.0" r="4.1"/>
<circle cx="1409.6" cy="551.4" r="4.1"/>
<circle cx="1409.9" cy="560.2" r="4.1"/>
<circle cx="1410.2" cy="516.9" r="4.1"/>
<circle cx="1410.4" cy="552.4" r="4.1"/>
<circle cx="1410.4" cy="534.6" r="4.1"/>
<circle cx="1410.5" cy="529.5" r="4.1"/>
<circle cx="1410.6" cy="571.4" r="4.1"/>
<circle cx="1410.6" cy="567.9" r="4.1"/>
<circle cx="1410.6" cy="560.4" r="4.1"/>
<circle cx="1410.7" cy="562.6" r="4.1"/>
<circle cx="1410.8" cy="563.5" r="4.1"/>
<circle cx="1410.9" cy="556.4" r="4.1"/>
<circle cx="1411.0" cy="568.2" r="4.1"/>
<circle cx="1411.1" cy="521.5" r="4.1"/>
<circle cx="1411.5" cy="565.2" r="4.1"/>
<circle cx="1411.5" cy="550.1" r="4.1"/>
<circle cx="1411.8" cy="524.2" r="4.1"/>
<circle cx="1411.8" cy="548.4" r="4.1"/>
<circle cx="1412.0" cy="573.2" r="4.1"/>
<circle cx="1412.0" cy="560.2" r="4.1"/>
<circle cx="1412.2" cy="571.4" r="4.1"/>
<circle cx="1412.2" cy="566.6" r="4.1"/>
<circle cx="1412.4" cy="574.1" r="4.1"/>
<circle cx="1412.5" cy="563.9" r="4.1"/>
<circle cx="1412.6" cy="570.7" r="4.1"/>
<circle cx="1412.6" cy="573.3" r="4.1"/>
<circle cx="1412.7" cy="558.0" r="4.1"/>
<circle cx="1412.8" cy="556.9" r="4.1"/>
<circle cx="1412.8" cy="535.8" r="4.1"/>
<circle cx="1412.8" cy="559.3" r="4.1"/>
<circle cx="1413.0" cy="565.7" r="4.1"/>
<circle cx="1413.0" cy="572.2" r="4.1"/>
<circle cx="1413.0" cy="554.1" r="4.1"/>
<circle cx="1413.1" cy="565.0" r="4.1"/>
<circle cx="1413.1" cy="517.2" r="4.1"/>
<circle cx="1413.2" cy="573.5" r="4.1"/>
<circle cx="1413.2" cy="536.5" r="4.1"/>
<circle cx="1413.4" cy="537.1" r="4.1"/>
<circle cx="1413.4" cy="566.7" r="4.1"/>
<circle cx="1413.4" cy="557.5" r="4.1"/>
<circle cx="1413.4" cy="573.1" r="4.1"/>
<circle cx="1413.4" cy="547.0" r="4.1"/>
<circle cx="1413.5" cy="551.3" r="4.1"/>
<circle cx="1413.8" cy="566.0" r="4.1"/>
<circle cx="1413.9" cy="572.3" r="4.1"/>
<circle cx="1413.9" cy="491.4" r="4.1"/>
<circle cx="1414.0" cy="575.5" r="4.1"/>
<circle cx="1414.0" cy="557.5" r="4.1"/>
<circle cx="1414.0" cy="540.9" r="4.1"/>
<circle cx="1414.2" cy="520.8" r="4.1"/>
<circle cx="1414.3" cy="553.9" r="4.1"/>
<circle cx="1414.4" cy="555.8" r="4.1"/>
<circle cx="1414.6" cy="556.3" r="4.1"/>
<circle cx="1414.6" cy="575.1" r="4.1"/>
<circle cx="1414.8" cy="509.7" r="4.1"/>
<circle cx="1414.9" cy="561.7" r="4.1"/>
<circle cx="1414.9" cy="565.1" r="4.1"/>
<circle cx="1415.0" cy="562.5" r="4.1"/>
<circle cx="1415.1" cy="568.9" r="4.1"/>
<circle cx="1415.1" cy="538.2" r="4.1"/>
<circle cx="1415.1" cy="536.9" r="4.1"/>
<circle cx="1415.2" cy="545.6" r="4.1"/>
<circle cx="1415.3" cy="546.2" r="4.1"/>
<circle cx="1415.4" cy="567.2" r="4.1"/>
<circle cx="1415.5" cy="565.8" r="4.1"/>
<circle cx="1415.6" cy="538.5" r="4.1"/>
<circle cx="1415.7" cy="542.6" r="4.1"/>
<circle cx="1415.7" cy="561.7" r="4.1"/>
<circle cx="1415.9" cy="558.1" r="4.1"/>
<circle cx="1415.9" cy="554.2" r="4.1"/>
<circle cx="1415.9" cy="535.5" r="4.1"/>
<circle cx="1416.0" cy="566.1" r="4.1"/>
<circle cx="1416.0" cy="536.4" r="4.1"/>
<circle cx="1416.1" cy="566.4" r="4.1"/>
<circle cx="1416.1" cy="573.9" r="4.1"/>
<circle cx="1416.2" cy="519.5" r="4.1"/>
<circle cx="1416.3" cy="524.9" r="4.1"/>
<circle cx="1416.3" cy="569.4" r="4.1"/>
<circle cx="1416.3" cy="570.6" r="4.1"/>
<circle cx="1416.4" cy="540.0" r="4.1"/>
<circle cx="1416.5" cy="571.2" r="4.1"/>
<circle cx="1416.5" cy="570.6" r="4.1"/>
<circle cx="1416.9" cy="547.7" r="4.1"/>
<circle cx="1417.0" cy="566.3" r="4.1"/>
<circle cx="1417.2" cy="551.1" r="4.1"/>
<circle cx="1417.3" cy="569.2" r="4.1"/>
<circle cx="1417.3" cy="572.3" r="4.1"/>
<circle cx="1417.5" cy="561.4" r="4.1"/>
<circle cx="1417.5" cy="561.4" r="4.1"/>
<circle cx="1417.6" cy="558.2" r="4.1"/>
<circle cx="1417.7" cy="572.0" r="4.1"/>
<circle cx="1417.7" cy="555.0" r="4.1"/>
<circle cx="1417.8" cy="570.2" r="4.1"/>
<circle cx="1417.9" cy="571.8" r="4.1"/>
<circle cx="1418.0" cy="554.2" r="4.1"/>
<circle cx="1418.1" cy="540.8" r="4.1"/>
<circle cx="1418.2" cy="555.3" r="4.1"/>
<circle cx="1418.2" cy="554.4" r="4.1"/>
<circle cx="1418.5" cy="542.0" r="4.1"/>
<circle cx="1418.6" cy="552.0" r="4.1"/>
<circle cx="1418.6" cy="547.0" r="4.1"/>
<circle cx="1418.6" cy="570.2" r="4.1"/>
<circle cx="1418.9" cy="561.3" r="4.1"/>
<circle cx="1419.0" cy="565.2" r="4.1"/>
<circle cx="1419.0" cy="543.0" r="4.1"/>
<circle cx="1419.1" cy="567.9" r="4.1"/>
<circle cx="1419.1" cy="542.9" r="4.1"/>
<circle cx="1419.3" cy="548.8" r="4.1"/>
<circle cx="1419.5" cy="574.8" r="4.1"/>
<circle cx="1419.6" cy="567.9" r="4.1"/>
<circle cx="1419.6" cy="574.0" r="4.1"/>
<circle cx="1419.7" cy="572.2" r="4.1"/>
<circle cx="1419.7" cy="534.7" r="4.1"/>
<circle cx="1419.7" cy="537.3" r="4.1"/>
<circle cx="1419.7" cy="571.9" r="4.1"/>
<circle cx="1419.8" cy="536.6" r="4.1"/>
<circle cx="1420.0" cy="562.3" r="4.1"/>
<circle cx="1420.0" cy="560.4" r="4.1"/>
<circle cx="1420.0" cy="561.5" r="4.1"/>
<circle cx="1420.1" cy="522.2" r="4.1"/>
<circle cx="1420.1" cy="560.7" r="4.1"/>
<circle cx="1420.2" cy="509.8" r="4.1"/>
<circle cx="1420.2" cy="558.2" r="4.1"/>
<circle cx="1420.5" cy="575.1" r="4.1"/>
<circle cx="1420.7" cy="570.3" r="4.1"/>
<circle cx="1420.9" cy="544.4" r="4.1"/>
<circle cx="1420.9" cy="519.7" r="4.1"/>
<circle cx="1420.9" cy="571.4" r="4.1"/>
<circle cx="1421.0" cy="557.1" r="4.1"/>
<circle cx="1421.0" cy="553.6" r="4.1"/>
<circle cx="1421.0" cy="568.5" r="4.1"/>
<circle cx="1421.1" cy="546.7" r="4.1"/>
<circle cx="1421.3" cy="550.1" r="4.1"/>
<circle cx="1421.3" cy="520.8" r="4.1"/>
<circle cx="1421.3" cy="561.0" r="4.1"/>
<circle cx="1421.3" cy="575.2" r="4.1"/>
<circle cx="1421.4" cy="560.0" r="4.1"/>
<circle cx="1421.5" cy="525.7" r="4.1"/>
<circle cx="1421.6" cy="533.4" r="4.1"/>
<circle cx="1421.7" cy="548.7" r="4.1"/>
<circle cx="1421.9" cy="556.9" r="4.1"/>
<circle cx="1422.3" cy="540.3" r="4.1"/>
<circle cx="1422.4" cy="569.8" r="4.1"/>
<circle cx="1422.5" cy="547.2" r="4.1"/>
<circle cx="1422.5" cy="530.1" r="4.1"/>
<circle cx="1422.7" cy="553.6" r="4.1"/>
<circle cx="1422.7" cy="564.5" r="4.1"/>
<circle cx="1422.8" cy="567.7" r="4.1"/>
<circle cx="1422.8" cy="537.1" r="4.1"/>
<circle cx="1422.9" cy="567.0" r="4.1"/>
<circle cx="1423.0" cy="569.5" r="4.1"/>
<circle cx="1423.0" cy="562.7" r="4.1"/>
<circle cx="1423.0" cy="557.1" r="4.1"/>
<circle cx="1423.1" cy="572.2" r="4.1"/>
<circle cx="1423.2" cy="539.8" r="4.1"/>
<circle cx="1423.3" cy="570.4" r="4.1"/>
<circle cx="1423.4" cy="572.6" r="4.1"/>
<circle cx="1423.4" cy="574.1" r="4.1"/>
<circle cx="1423.4" cy="570.6" r="4.1"/>
<circle cx="1423.5" cy="567.2" r="4.1"/>
<circle cx="1424.0" cy="571.3" r="4.1"/>
<circle cx="1424.1" cy="528.4" r="4.1"/>
<circle cx="1424.2" cy="569.4" r="4.1"/>
<circle cx="1424.2" cy="561.2" r="4.1"/>
<circle cx="1424.7" cy="573.2" r="4.1"/>
<circle cx="1424.7" cy="557.3" r="4.1"/>
<circle cx="1424.7" cy="562.0" r="4.1"/>
<circle cx="1424.9" cy="552.4" r="4.1"/>
<circle cx="1424.9" cy="550.3" r="4.1"/>
<circle cx="1425.1" cy="566.5" r="4.1"/>
<circle cx="1425.4" cy="572.1" r="4.1"/>
<circle cx="1425.5" cy="563.8" r="4.1"/>
<circle cx="1425.6" cy="543.0" r="4.1"/>
<circle cx="1425.6" cy="545.2" r="4.1"/>
<circle cx="1425.6" cy="534.5" r="4.1"/>
<circle cx="1425.7" cy="569.9" r="4.1"/>
<circle cx="1425.9" cy="570.7" r="4.1"/>
<circle cx="1426.1" cy="566.1" r="4.1"/>
<circle cx="1426.3" cy="569.8" r="4.1"/>
<circle cx="1426.4" cy="487.4" r="4.1"/>
<circle cx="1426.4" cy="567.5" r="4.1"/>
<circle cx="1426.5" cy="569.9" r="4.1"/>
<circle cx="1426.5" cy="540.5" r="4.1"/>
<circle cx="1426.6" cy="555.3" r="4.1"/>
<circle cx="1426.7" cy="567.0" r="4.1"/>
<circle cx="1426.8" cy="570.5" r="4.1"/>
<circle cx="1426.8" cy="557.7" r="4.1"/>
<circle cx="1426.9" cy="572.7" r="4.1"/>
<circle cx="1426.9" cy="566.7" r="4.1"/>
<circle cx="1426.9" cy="568.8" r="4.1"/>
<circle cx="1427.1" cy="575.1" r="4.1"/>
<circle cx="1427.1" cy="514.4" r="4.1"/>
<circle cx="1427.1" cy="557.3" r="4.1"/>
<circle cx="1427.2" cy="544.2" r="4.1"/>
<circle cx="1427.3" cy="537.9" r="4.1"/>
<circle cx="1427.4" cy="559.2" r="4.1"/>
<circle cx="1427.4" cy="574.0" r="4.1"/>
<circle cx="1427.5" cy="526.5" r="4.1"/>
<circle cx="1427.6" cy="517.4" r="4.1"/>
<circle cx="1427.9" cy="561.1" r="4.1"/>
<circle cx="1427.9" cy="550.4" r="4.1"/>
<circle cx="1428.2" cy="563.2" r="4.1"/>
<circle cx="1428.2" cy="550.5" r="4.1"/>
<circle cx="1428.3" cy="564.6" r="4.1"/>
<circle cx="1428.3" cy="571.1" r="4.1"/>
<circle cx="1428.5" cy="570.6" r="4.1"/>
<circle cx="1428.6" cy="562.8" r="4.1"/>
<circle cx="1428.6" cy="573.1" r="4.1"/>
<circle cx="1428.8" cy="572.3" r="4.1"/>
<circle cx="1428.9" cy="565.9" r="4.1"/>
<circle cx="1429.1" cy="570.5" r="4.1"/>
<circle cx="1429.2" cy="572.6" r="4.1"/>
<circle cx="1429.4" cy="569.8" r="4.1"/>
<circle cx="1429.6" cy="556.8" r="4.1"/>
<circle cx="1429.6" cy="573.2" r="4.1"/>
<circle cx="1429.7" cy="564.4" r="4.1"/>
<circle cx="1430.0" cy="563.1" r="4.1"/>
<circle cx="1430.0" cy="575.1" r="4.1"/>
<circle cx="1430.2" cy="546.0" r="4.1"/>
<circle cx="1430.2" cy="569.9" r="4.1"/>
<circle cx="1430.4" cy="557.0" r="4.1"/>
<circle cx="1430.7" cy="554.8" r="4.1"/>
<circle cx="1430.8" cy="558.9" r="4.1"/>
<circle cx="1430.8" cy="530.4" r="4.1"/>
<circle cx="1430.9" cy="568.9" r="4.1"/>
<circle cx="1431.0" cy="519.5" r="4.1"/>
<circle cx="1431.2" cy="568.5" r="4.1"/>
<circle cx="1431.2" cy="575.2" r="4.1"/>
<circle cx="1431.3" cy="563.5" r="4.1"/>
<circle cx="1431.3" cy="575.1" r="4.1"/>
<circle cx="1431.3" cy="528.3" r="4.1"/>
<circle cx="1431.3" cy="561.7" r="4.1"/>
<circle cx="1431.4" cy="571.7" r="4.1"/>
<circle cx="1431.4" cy="551.6" r="4.1"/>
<circle cx="1431.7" cy="570.8" r="4.1"/>
<circle cx="1431.8" cy="554.8" r="4.1"/>
<circle cx="1431.8" cy="539.1" r="4.1"/>
<circle cx="1431.8" cy="575.3" r="4.1"/>
<circle cx="1431.9" cy="558.6" r="4.1"/>
<circle cx="1431.9" cy="570.5" r="4.1"/>
<circle cx="1432.0" cy="569.2" r="4.1"/>
<circle cx="1432.0" cy="530.5" r="4.1"/>
<circle cx="1432.0" cy="557.1" r="4.1"/>
<circle cx="1432.1" cy="507.5" r="4.1"/>
<circle cx="1432.1" cy="529.8" r="4.1"/>
<circle cx="1432.6" cy="566.8" r="4.1"/>
<circle cx="1432.8" cy="575.1" r="4.1"/>
<circle cx="1432.8" cy="567.4" r="4.1"/>
<circle cx="1433.0" cy="572.0" r="4.1"/>
<circle cx="1433.0" cy="568.5" r="4.1"/>
<circle cx="1433.0" cy="575.2" r="4.1"/>
<circle cx="1433.0" cy="564.5" r="4.1"/>
<circle cx="1433.2" cy="533.4" r="4.1"/>
<circle cx="1433.3" cy="574.6" r="4.1"/>
<circle cx="1433.4" cy="553.8" r="4.1"/>
<circle cx="1433.6" cy="522.0" r="4.1"/>
<circle cx="1433.6" cy="568.3" r="4.1"/>
<circle cx="1433.8" cy="564.4" r="4.1"/>
<circle cx="1433.8" cy="533.5" r="4.1"/>
<circle cx="1433.9" cy="537.5" r="4.1"/>
<circle cx="1434.0" cy="557.9" r="4.1"/>
<circle cx="1434.2" cy="564.7" r="4.1"/>
<circle cx="1434.4" cy="569.2" r="4.1"/>
<circle cx="1434.5" cy="571.8" r="4.1"/>
<circle cx="1434.9" cy="509.1" r="4.1"/>
<circle cx="1435.0" cy="561.7" r="4.1"/>
<circle cx="1435.2" cy="540.1" r="4.1"/>
<circle cx="1435.3" cy="533.9" r="4.1"/>
<circle cx="1435.4" cy="570.2" r="4.1"/>
<circle cx="1435.6" cy="477.5" r="4.1"/>
<circle cx="1435.7" cy="571.4" r="4.1"/>
<circle cx="1435.8" cy="545.7" r="4.1"/>
<circle cx="1436.1" cy="569.3" r="4.1"/>
<circle cx="1436.4" cy="561.3" r="4.1"/>
<circle cx="1436.5" cy="552.7" r="4.1"/>
<circle cx="1436.5" cy="546.9" r="4.1"/>
<circle cx="1436.7" cy="564.1" r="4.1"/>
<circle cx="1436.7" cy="535.0" r="4.1"/>
<circle cx="1436.7" cy="561.6" r="4.1"/>
<circle cx="1436.7" cy="517.7" r="4.1"/>
<circle cx="1436.9" cy="572.0" r="4.1"/>
<circle cx="1436.9" cy="571.9" r="4.1"/>
<circle cx="1436.9" cy="568.7" r="4.1"/>
<circle cx="1436.9" cy="575.5" r="4.1"/>
<circle cx="1437.0" cy="529.1" r="4.1"/>
<circle cx="1437.0" cy="558.8" r="4.1"/>
<circle cx="1437.1" cy="541.5" r="4.1"/>
<circle cx="1437.1" cy="566.3" r="4.1"/>
<circle cx="1437.2" cy="574.7" r="4.1"/>
<circle cx="1437.2" cy="565.4" r="4.1"/>
<circle cx="1437.3" cy="567.4" r="4.1"/>
<circle cx="1437.7" cy="571.1" r="4.1"/>
<circle cx="1437.8" cy="574.8" r="4.1"/>
<circle cx="1437.9" cy="561.4" r="4.1"/>
<circle cx="1437.9" cy="529.8" r="4.1"/>
<circle cx="1437.9" cy="557.9" r="4.1"/>
<circle cx="1438.0" cy="559.7" r="4.1"/>
<circle cx="1438.0" cy="574.5" r="4.1"/>
<circle cx="1438.0" cy="539.2" r="4.1"/>
<circle cx="1438.1" cy="575.3" r="4.1"/>
<circle cx="1438.1" cy="563.8" r="4.1"/>
<circle cx="1438.3" cy="571.8" r="4.1"/>
<circle cx="1438.7" cy="571.1" r="4.1"/>
<circle cx="1438.7" cy="558.0" r="4.1"/>
<circle cx="1438.7" cy="571.1" r="4.1"/>
<circle cx="1438.8" cy="515.9" r="4.1"/>
<circle cx="1439.0" cy="574.0" r="4.1"/>
<circle cx="1439.1" cy="573.6" r="4.1"/>
<circle cx="1439.2" cy="537.5" r="4.1"/>
<circle cx="1439.4" cy="556.7" r="4.1"/>
<circle cx="1439.4" cy="573.1" r="4.1"/>
<circle cx="1439.5" cy="544.4" r="4.1"/>
<circle cx="1439.5" cy="484.4" r="4.1"/>
<circle cx="1439.5" cy="516.2" r="4.1"/>
<circle cx="1439.5" cy="553.8" r="4.1"/>
<circle cx="1439.6" cy="558.8" r="4.1"/>
<circle cx="1439.7" cy="575.0" r="4.1"/>
<circle cx="1439.7" cy="536.8" r="4.1"/>
<circle cx="1439.9" cy="545.3" r="4.1"/>
<circle cx="1439.9" cy="559.3" r="4.1"/>
<circle cx="1439.9" cy="544.8" r="4.1"/>
<circle cx="1440.0" cy="561.9" r="4.1"/>
<circle cx="1440.1" cy="566.9" r="4.1"/>
<circle cx="1440.4" cy="557.6" r="4.1"/>
<circle cx="1440.5" cy="569.2" r="4.1"/>
<circle cx="1440.5" cy="554.6" r="4.1"/>
<circle cx="1440.6" cy="569.8" r="4.1"/>
<circle cx="1440.6" cy="542.1" r="4.1"/>
<circle cx="1440.7" cy="562.0" r="4.1"/>
<circle cx="1440.8" cy="566.0" r="4.1"/>
<circle cx="1441.0" cy="545.7" r="4.1"/>
<circle cx="1441.1" cy="570.5" r="4.1"/>
<circle cx="1441.3" cy="559.1" r="4.1"/>
<circle cx="1441.4" cy="569.9" r="4.1"/>
<circle cx="1441.6" cy="545.1" r="4.1"/>
<circle cx="1441.6" cy="573.5" r="4.1"/>
<circle cx="1441.7" cy="549.5" r="4.1"/>
<circle cx="1442.1" cy="536.5" r="4.1"/>
<circle cx="1442.4" cy="574.6" r="4.1"/>
<circle cx="1442.4" cy="573.6" r="4.1"/>
<circle cx="1442.4" cy="547.5" r="4.1"/>
<circle cx="1442.5" cy="572.6" r="4.1"/>
<circle cx="1442.5" cy="571.8" r="4.1"/>
<circle cx="1442.6" cy="571.7" r="4.1"/>
<circle cx="1442.6" cy="526.1" r="4.1"/>
<circle cx="1442.8" cy="558.4" r="4.1"/>
<circle cx="1443.0" cy="573.6" r="4.1"/>
<circle cx="1443.5" cy="549.0" r="4.1"/>
<circle cx="1443.5" cy="562.5" r="4.1"/>
<circle cx="1443.6" cy="565.3" r="4.1"/>
<circle cx="1443.7" cy="553.3" r="4.1"/>
<circle cx="1444.1" cy="575.2" r="4.1"/>
<circle cx="1444.2" cy="562.0" r="4.1"/>
<circle cx="1444.3" cy="546.4" r="4.1"/>
<circle cx="1444.4" cy="535.2" r="4.1"/>
<circle cx="1444.5" cy="571.3" r="4.1"/>
<circle cx="1444.8" cy="536.9" r="4.1"/>
<circle cx="1445.1" cy="531.7" r="4.1"/>
<circle cx="1445.1" cy="575.1" r="4.1"/>
<circle cx="1445.3" cy="569.2" r="4.1"/>
<circle cx="1445.3" cy="539.1" r="4.1"/>
<circle cx="1445.4" cy="569.6" r="4.1"/>
<circle cx="1445.4" cy="544.8" r="4.1"/>
<circle cx="1445.7" cy="559.6" r="4.1"/>
<circle cx="1445.7" cy="549.6" r="4.1"/>
<circle cx="1445.8" cy="567.1" r="4.1"/>
<circle cx="1445.8" cy="572.0" r="4.1"/>
<circle cx="1446.0" cy="549.5" r="4.1"/>
<circle cx="1446.0" cy="467.2" r="4.1"/>
<circle cx="1446.0" cy="472.9" r="4.1"/>
<circle cx="1446.0" cy="509.8" r="4.1"/>
<circle cx="1446.0" cy="548.8" r="4.1"/>
<circle cx="1446.3" cy="537.2" r="4.1"/>
<circle cx="1446.3" cy="532.9" r="4.1"/>
<circle cx="1446.4" cy="561.4" r="4.1"/>
<circle cx="1446.4" cy="478.2" r="4.1"/>
<circle cx="1446.5" cy="568.9" r="4.1"/>
<circle cx="1446.6" cy="550.0" r="4.1"/>
<circle cx="1446.7" cy="569.2" r="4.1"/>
<circle cx="1446.8" cy="572.3" r="4.1"/>
<circle cx="1446.9" cy="559.9" r="4.1"/>
<circle cx="1447.0" cy="568.3" r="4.1"/>
<circle cx="1447.0" cy="563.7" r="4.1"/>
<circle cx="1447.1" cy="555.0" r="4.1"/>
<circle cx="1447.2" cy="533.9" r="4.1"/>
<circle cx="1447.5" cy="570.1" r="4.1"/>
<circle cx="1447.6" cy="545.4" r="4.1"/>
<circle cx="1447.6" cy="568.0" r="4.1"/>
<circle cx="1447.7" cy="563.1" r="4.1"/>
<circle cx="1447.9" cy="561.5" r="4.1"/>
<circle cx="1448.0" cy="572.1" r="4.1"/>
<circle cx="1448.1" cy="534.5" r="4.1"/>
<circle cx="1448.2" cy="534.1" r="4.1"/>
<circle cx="1448.3" cy="574.0" r="4.1"/>
<circle cx="1449.0" cy="568.1" r="4.1"/>
<circle cx="1449.1" cy="534.7" r="4.1"/>
<circle cx="1449.2" cy="560.4" r="4.1"/>
<circle cx="1449.3" cy="565.7" r="4.1"/>
<circle cx="1449.3" cy="550.2" r="4.1"/>
<circle cx="1449.5" cy="550.6" r="4.1"/>
<circle cx="1449.6" cy="566.4" r="4.1"/>
<circle cx="1449.7" cy="542.5" r="4.1"/>
<circle cx="1449.8" cy="567.3" r="4.1"/>
<circle cx="1449.9" cy="564.0" r="4.1"/>
<circle cx="1449.9" cy="515.6" r="4.1"/>
<circle cx="1450.1" cy="563.2" r="4.1"/>
<circle cx="1450.1" cy="515.5" r="4.1"/>
<circle cx="1450.2" cy="550.4" r="4.1"/>
<circle cx="1450.4" cy="570.1" r="4.1"/>
<circle cx="1450.4" cy="570.7" r="4.1"/>
<circle cx="1450.5" cy="536.9" r="4.1"/>
<circle cx="1450.5" cy="574.9" r="4.1"/>
<circle cx="1450.6" cy="491.4" r="4.1"/>
<circle cx="1450.6" cy="504.0" r="4.1"/>
<circle cx="1450.6" cy="564.2" r="4.1"/>
<circle cx="1450.7" cy="573.4" r="4.1"/>
<circle cx="1450.9" cy="559.7" r="4.1"/>
<circle cx="1451.0" cy="543.8" r="4.1"/>
<circle cx="1451.1" cy="534.9" r="4.1"/>
<circle cx="1451.2" cy="552.9" r="4.1"/>
<circle cx="1451.4" cy="546.0" r="4.1"/>
<circle cx="1451.4" cy="553.3" r="4.1"/>
<circle cx="1451.5" cy="549.1" r="4.1"/>
<circle cx="1451.5" cy="553.0" r="4.1"/>
<circle cx="1451.6" cy="558.6" r="4.1"/>
<circle cx="1451.7" cy="529.3" r="4.1"/>
<circle cx="1451.7" cy="558.4" r="4.1"/>
<circle cx="1452.0" cy="548.1" r="4.1"/>
<circle cx="1452.0" cy="568.5" r="4.1"/>
<circle cx="1452.1" cy="569.4" r="4.1"/>
<circle cx="1452.2" cy="572.6" r="4.1"/>
<circle cx="1452.5" cy="570.7" r="4.1"/>
<circle cx="1452.9" cy="486.8" r="4.1"/>
<circle cx="1452.9" cy="530.9" r="4.1"/>
<circle cx="1453.1" cy="571.2" r="4.1"/>
<circle cx="1453.3" cy="561.3" r="4.1"/>
<circle cx="1453.5" cy="570.5" r="4.1"/>
<circle cx="1453.5" cy="541.8" r="4.1"/>
<circle cx="1453.7" cy="558.5" r="4.1"/>
<circle cx="1453.7" cy="571.5" r="4.1"/>
<circle cx="1454.0" cy="572.1" r="4.1"/>
<circle cx="1454.0" cy="565.8" r="4.1"/>
<circle cx="1454.0" cy="560.0" r="4.1"/>
<circle cx="1454.1" cy="524.6" r="4.1"/>
<circle cx="1454.1" cy="544.1" r="4.1"/>
<circle cx="1454.2" cy="572.6" r="4.1"/>
<circle cx="1454.2" cy="569.6" r="4.1"/>
<circle cx="1454.4" cy="533.5" r="4.1"/>
<circle cx="1454.4" cy="540.1" r="4.1"/>
<circle cx="1454.4" cy="551.9" r="4.1"/>
<circle cx="1454.6" cy="540.0" r="4.1"/>
<circle cx="1454.7" cy="573.9" r="4.1"/>
<circle cx="1454.7" cy="494.8" r="4.1"/>
<circle cx="1454.9" cy="573.7" r="4.1"/>
<circle cx="1454.9" cy="550.0" r="4.1"/>
<circle cx="1454.9" cy="575.4" r="4.1"/>
<circle cx="1455.0" cy="568.3" r="4.1"/>
<circle cx="1455.1" cy="562.1" r="4.1"/>
<circle cx="1455.2" cy="509.6" r="4.1"/>
<circle cx="1455.2" cy="565.1" r="4.1"/>
<circle cx="1455.3" cy="566.5" r="4.1"/>
<circle cx="1455.5" cy="571.6" r="4.1"/>
<circle cx="1455.8" cy="566.6" r="4.1"/>
<circle cx="1455.9" cy="478.7" r="4.1"/>
<circle cx="1455.9" cy="567.5" r="4.1"/>
<circle cx="1455.9" cy="562.2" r="4.1"/>
<circle cx="1456.1" cy="550.0" r="4.1"/>
<circle cx="1456.2" cy="550.7" r="4.1"/>
<circle cx="1456.4" cy="561.9" r="4.1"/>
<circle cx="1456.4" cy="510.7" r="4.1"/>
<circle cx="1456.5" cy="565.7" r="4.1"/>
<circle cx="1456.6" cy="568.4" r="4.1"/>
<circle cx="1456.7" cy="543.6" r="4.1"/>
<circle cx="1456.8" cy="560.7" r="4.1"/>
<circle cx="1456.8" cy="535.6" r="4.1"/>
<circle cx="1457.1" cy="539.8" r="4.1"/>
<circle cx="1457.1" cy="543.9" r="4.1"/>
<circle cx="1457.2" cy="545.1" r="4.1"/>
<circle cx="1457.2" cy="551.5" r="4.1"/>
<circle cx="1457.3" cy="548.0" r="4.1"/>
<circle cx="1457.4" cy="554.2" r="4.1"/>
<circle cx="1457.5" cy="482.1" r="4.1"/>
<circle cx="1457.6" cy="542.1" r="4.1"/>
<circle cx="1457.6" cy="548.5" r="4.1"/>
<circle cx="1457.9" cy="517.2" r="4.1"/>
<circle cx="1457.9" cy="569.1" r="4.1"/>
<circle cx="1457.9" cy="560.2" r="4.1"/>
<circle cx="1457.9" cy="505.2" r="4.1"/>
<circle cx="1458.0" cy="567.1" r="4.1"/>
<circle cx="1458.1" cy="575.4" r="4.1"/>
<circle cx="1458.4" cy="556.6" r="4.1"/>
<circle cx="1458.5" cy="565.5" r="4.1"/>
<circle cx="1458.7" cy="508.6" r="4.1"/>
<circle cx="1458.7" cy="568.6" r="4.1"/>
<circle cx="1458.8" cy="547.4" r="4.1"/>
<circle cx="1459.2" cy="569.4" r="4.1"/>
<circle cx="1459.2" cy="562.2" r="4.1"/>
<circle cx="1459.7" cy="531.7" r="4.1"/>
<circle cx="1459.8" cy="560.6" r="4.1"/>
<circle cx="1459.9" cy="518.4" r="4.1"/>
<circle cx="1460.2" cy="573.1" r="4.1"/>
<circle cx="1460.4" cy="563.5" r="4.1"/>
<circle cx="1460.6" cy="566.0" r="4.1"/>
<circle cx="1460.6" cy="539.8" r="4.1"/>
<circle cx="1460.7" cy="563.2" r="4.1"/>
<circle cx="1460.8" cy="539.9" r="4.1"/>
<circle cx="1460.9" cy="549.0" r="4.1"/>
<circle cx="1461.0" cy="556.2" r="4.1"/>
<circle cx="1461.1" cy="534.5" r="4.1"/>
<circle cx="1461.4" cy="568.9" r="4.1"/>
<circle cx="1461.4" cy="569.2" r="4.1"/>
<circle cx="1461.4" cy="509.9" r="4.1"/>
<circle cx="1461.5" cy="571.7" r="4.1"/>
<circle cx="1461.5" cy="575.2" r="4.1"/>
<circle cx="1461.5" cy="524.5" r="4.1"/>
<circle cx="1461.6" cy="541.8" r="4.1"/>
<circle cx="1461.7" cy="573.7" r="4.1"/>
<circle cx="1462.0" cy="547.8" r="4.1"/>
<circle cx="1462.0" cy="555.5" r="4.1"/>
<circle cx="1462.0" cy="561.3" r="4.1"/>
<circle cx="1462.1" cy="573.9" r="4.1"/>
<circle cx="1462.1" cy="554.0" r="4.1"/>
<circle cx="1462.3" cy="574.6" r="4.1"/>
<circle cx="1462.6" cy="546.4" r="4.1"/>
<circle cx="1462.8" cy="542.3" r="4.1"/>
<circle cx="1463.0" cy="536.5" r="4.1"/>
<circle cx="1463.0" cy="573.0" r="4.1"/>
<circle cx="1463.0" cy="572.7" r="4.1"/>
<circle cx="1463.1" cy="562.8" r="4.1"/>
<circle cx="1463.3" cy="560.2" r="4.1"/>
<circle cx="1463.4" cy="555.8" r="4.1"/>
<circle cx="1463.4" cy="570.8" r="4.1"/>
<circle cx="1463.4" cy="551.2" r="4.1"/>
<circle cx="1463.6" cy="543.9" r="4.1"/>
<circle cx="1463.6" cy="571.6" r="4.1"/>
<circle cx="1463.8" cy="560.6" r="4.1"/>
<circle cx="1463.9" cy="570.9" r="4.1"/>
<circle cx="1464.1" cy="525.0" r="4.1"/>
<circle cx="1464.1" cy="568.3" r="4.1"/>
<circle cx="1464.1" cy="567.2" r="4.1"/>
<circle cx="1464.2" cy="538.8" r="4.1"/>
<circle cx="1464.3" cy="559.9" r="4.1"/>
<circle cx="1464.4" cy="490.7" r="4.1"/>
<circle cx="1464.4" cy="557.7" r="4.1"/>
<circle cx="1464.7" cy="563.4" r="4.1"/>
<circle cx="1464.7" cy="560.7" r="4.1"/>
<circle cx="1464.8" cy="563.0" r="4.1"/>
<circle cx="1464.8" cy="575.4" r="4.1"/>
<circle cx="1464.8" cy="557.1" r="4.1"/>
<circle cx="1464.8" cy="572.2" r="4.1"/>
<circle cx="1464.8" cy="538.6" r="4.1"/>
<circle cx="1464.9" cy="512.9" r="4.1"/>
<circle cx="1465.1" cy="552.4" r="4.1"/>
<circle cx="1465.1" cy="528.8" r="4.1"/>
<circle cx="1465.1" cy="562.5" r="4.1"/>
<circle cx="1465.2" cy="570.9" r="4.1"/>
<circle cx="1465.2" cy="559.7" r="4.1"/>
<circle cx="1465.3" cy="568.0" r="4.1"/>
<circle cx="1465.3" cy="535.0" r="4.1"/>
<circle cx="1465.3" cy="561.3" r="4.1"/>
<circle cx="1465.5" cy="405.0" r="4.1"/>
<circle cx="1465.8" cy="557.5" r="4.1"/>
<circle cx="1465.8" cy="538.1" r="4.1"/>
<circle cx="1465.9" cy="513.8" r="4.1"/>
<circle cx="1465.9" cy="551.1" r="4.1"/>
<circle cx="1466.0" cy="567.1" r="4.1"/>
<circle cx="1466.3" cy="547.3" r="4.1"/>
<circle cx="1466.4" cy="560.8" r="4.1"/>
<circle cx="1466.4" cy="507.7" r="4.1"/>
<circle cx="1466.6" cy="570.9" r="4.1"/>
<circle cx="1466.6" cy="558.0" r="4.1"/>
<circle cx="1466.8" cy="562.2" r="4.1"/>
<circle cx="1467.2" cy="570.7" r="4.1"/>
<circle cx="1467.2" cy="564.4" r="4.1"/>
<circle cx="1467.4" cy="560.9" r="4.1"/>
<circle cx="1467.4" cy="443.0" r="4.1"/>
<circle cx="1467.5" cy="573.3" r="4.1"/>
<circle cx="1467.7" cy="560.9" r="4.1"/>
<circle cx="1468.0" cy="572.3" r="4.1"/>
<circle cx="1468.0" cy="377.0" r="4.1"/>
<circle cx="1468.4" cy="569.2" r="4.1"/>
<circle cx="1468.5" cy="568.0" r="4.1"/>
<circle cx="1468.5" cy="532.3" r="4.1"/>
<circle cx="1468.5" cy="547.6" r="4.1"/>
<circle cx="1468.5" cy="547.7" r="4.1"/>
<circle cx="1468.5" cy="410.3" r="4.1"/>
<circle cx="1468.5" cy="553.1" r="4.1"/>
<circle cx="1468.7" cy="544.3" r="4.1"/>
<circle cx="1468.7" cy="567.4" r="4.1"/>
<circle cx="1469.0" cy="492.5" r="4.1"/>
<circle cx="1469.0" cy="555.4" r="4.1"/>
<circle cx="1469.1" cy="559.0" r="4.1"/>
<circle cx="1469.2" cy="553.3" r="4.1"/>
<circle cx="1469.2" cy="573.4" r="4.1"/>
<circle cx="1469.3" cy="560.9" r="4.1"/>
<circle cx="1469.3" cy="548.2" r="4.1"/>
<circle cx="1469.6" cy="565.3" r="4.1"/>
<circle cx="1469.6" cy="563.4" r="4.1"/>
<circle cx="1469.7" cy="562.1" r="4.1"/>
<circle cx="1469.7" cy="472.2" r="4.1"/>
<circle cx="1470.0" cy="573.2" r="4.1"/>
<circle cx="1470.1" cy="573.9" r="4.1"/>
<circle cx="1470.1" cy="569.9" r="4.1"/>
<circle cx="1470.3" cy="545.5" r="4.1"/>
<circle cx="1470.4" cy="483.3" r="4.1"/>
<circle cx="1470.9" cy="560.4" r="4.1"/>
<circle cx="1471.0" cy="569.1" r="4.1"/>
<circle cx="1471.1" cy="533.6" r="4.1"/>
<circle cx="1471.1" cy="573.5" r="4.1"/>
<circle cx="1471.3" cy="566.9" r="4.1"/>
<circle cx="1471.5" cy="552.7" r="4.1"/>
<circle cx="1471.6" cy="566.2" r="4.1"/>
<circle cx="1471.6" cy="559.6" r="4.1"/>
<circle cx="1471.6" cy="542.9" r="4.1"/>
<circle cx="1471.7" cy="544.1" r="4.1"/>
<circle cx="1471.8" cy="559.1" r="4.1"/>
<circle cx="1471.8" cy="496.4" r="4.1"/>
<circle cx="1471.8" cy="539.4" r="4.1"/>
<circle cx="1471.9" cy="570.4" r="4.1"/>
<circle cx="1471.9" cy="505.3" r="4.1"/>
<circle cx="1471.9" cy="568.6" r="4.1"/>
<circle cx="1472.1" cy="548.4" r="4.1"/>
<circle cx="1472.2" cy="574.5" r="4.1"/>
<circle cx="1472.2" cy="544.2" r="4.1"/>
<circle cx="1472.3" cy="572.5" r="4.1"/>
<circle cx="1472.3" cy="549.1" r="4.1"/>
<circle cx="1472.3" cy="574.0" r="4.1"/>
<circle cx="1472.4" cy="540.6" r="4.1"/>
<circle cx="1472.5" cy="472.9" r="4.1"/>
<circle cx="1472.5" cy="548.3" r="4.1"/>
<circle cx="1472.5" cy="563.9" r="4.1"/>
<circle cx="1472.5" cy="553.6" r="4.1"/>
<circle cx="1472.6" cy="546.8" r="4.1"/>
<circle cx="1472.8" cy="570.0" r="4.1"/>
<circle cx="1472.9" cy="573.4" r="4.1"/>
<circle cx="1472.9" cy="572.7" r="4.1"/>
<circle cx="1473.2" cy="553.5" r="4.1"/>
<circle cx="1473.3" cy="553.6" r="4.1"/>
<circle cx="1473.4" cy="531.8" r="4.1"/>
<circle cx="1473.4" cy="574.6" r="4.1"/>
<circle cx="1473.6" cy="554.6" r="4.1"/>
<circle cx="1473.7" cy="554.1" r="4.1"/>
<circle cx="1474.0" cy="532.4" r="4.1"/>
<circle cx="1474.0" cy="546.8" r="4.1"/>
<circle cx="1474.0" cy="574.7" r="4.1"/>
<circle cx="1474.1" cy="531.7" r="4.1"/>
<circle cx="1474.2" cy="544.6" r="4.1"/>
<circle cx="1474.3" cy="566.2" r="4.1"/>
<circle cx="1474.4" cy="556.7" r="4.1"/>
<circle cx="1474.5" cy="559.9" r="4.1"/>
<circle cx="1474.5" cy="574.7" r="4.1"/>
<circle cx="1474.5" cy="571.1" r="4.1"/>
<circle cx="1474.6" cy="547.9" r="4.1"/>
<circle cx="1474.7" cy="574.5" r="4.1"/>
<circle cx="1474.9" cy="570.3" r="4.1"/>
<circle cx="1474.9" cy="563.3" r="4.1"/>
<circle cx="1475.0" cy="567.5" r="4.1"/>
<circle cx="1475.1" cy="555.9" r="4.1"/>
<circle cx="1475.1" cy="574.3" r="4.1"/>
<circle cx="1475.2" cy="571.5" r="4.1"/>
<circle cx="1475.3" cy="574.0" r="4.1"/>
<circle cx="1475.4" cy="561.1" r="4.1"/>
<circle cx="1475.8" cy="571.0" r="4.1"/>
<circle cx="1475.9" cy="569.5" r="4.1"/>
<circle cx="1476.0" cy="566.1" r="4.1"/>
<circle cx="1476.0" cy="572.5" r="4.1"/>
<circle cx="1476.4" cy="522.5" r="4.1"/>
<circle cx="1476.5" cy="572.1" r="4.1"/>
<circle cx="1476.7" cy="552.8" r="4.1"/>
<circle cx="1476.8" cy="567.3" r="4.1"/>
<circle cx="1477.1" cy="575.4" r="4.1"/>
<circle cx="1477.2" cy="537.7" r="4.1"/>
<circle cx="1477.2" cy="551.5" r="4.1"/>
<circle cx="1477.4" cy="569.3" r="4.1"/>
<circle cx="1477.6" cy="547.3" r="4.1"/>
<circle cx="1477.6" cy="557.7" r="4.1"/>
<circle cx="1477.7" cy="568.8" r="4.1"/>
<circle cx="1477.7" cy="565.4" r="4.1"/>
<circle cx="1477.7" cy="569.7" r="4.1"/>
<circle cx="1478.0" cy="569.0" r="4.1"/>
<circle cx="1478.1" cy="571.2" r="4.1"/>
<circle cx="1478.2" cy="572.3" r="4.1"/>
<circle cx="1478.5" cy="575.0" r="4.1"/>
<circle cx="1478.7" cy="472.5" r="4.1"/>
<circle cx="1478.8" cy="523.6" r="4.1"/>
<circle cx="1478.9" cy="509.3" r="4.1"/>
<circle cx="1478.9" cy="571.1" r="4.1"/>
<circle cx="1479.0" cy="541.9" r="4.1"/>
<circle cx="1479.0" cy="568.8" r="4.1"/>
<circle cx="1479.3" cy="571.6" r="4.1"/>
<circle cx="1479.4" cy="572.1" r="4.1"/>
<circle cx="1479.5" cy="535.4" r="4.1"/>
<circle cx="1479.5" cy="552.6" r="4.1"/>
<circle cx="1479.6" cy="568.9" r="4.1"/>
<circle cx="1479.6" cy="557.8" r="4.1"/>
<circle cx="1479.6" cy="569.1" r="4.1"/>
<circle cx="1479.7" cy="573.8" r="4.1"/>
<circle cx="1479.8" cy="529.5" r="4.1"/>
<circle cx="1480.0" cy="528.4" r="4.1"/>
<circle cx="1480.0" cy="511.8" r="4.1"/>
<circle cx="1480.0" cy="572.5" r="4.1"/>
<circle cx="1480.0" cy="572.0" r="4.1"/>
<circle cx="1480.1" cy="550.3" r="4.1"/>
<circle cx="1480.2" cy="521.7" r="4.1"/>
<circle cx="1480.2" cy="573.0" r="4.1"/>
<circle cx="1480.3" cy="540.8" r="4.1"/>
<circle cx="1480.5" cy="508.1" r="4.1"/>
<circle cx="1480.5" cy="556.5" r="4.1"/>
<circle cx="1480.5" cy="494.1" r="4.1"/>
<circle cx="1480.5" cy="563.0" r="4.1"/>
<circle cx="1480.8" cy="570.3" r="4.1"/>
<circle cx="1481.1" cy="537.8" r="4.1"/>
<circle cx="1481.2" cy="554.3" r="4.1"/>
<circle cx="1481.3" cy="554.3" r="4.1"/>
<circle cx="1481.3" cy="543.7" r="4.1"/>
<circle cx="1481.4" cy="572.8" r="4.1"/>
<circle cx="1481.5" cy="574.6" r="4.1"/>
<circle cx="1481.5" cy="562.8" r="4.1"/>
<circle cx="1481.6" cy="575.5" r="4.1"/>
<circle cx="1481.9" cy="562.4" r="4.1"/>
<circle cx="1481.9" cy="575.2" r="4.1"/>
<circle cx="1481.9" cy="573.5" r="4.1"/>
<circle cx="1482.0" cy="567.7" r="4.1"/>
<circle cx="1482.3" cy="545.2" r="4.1"/>
<circle cx="1482.4" cy="575.4" r="4.1"/>
<circle cx="1482.4" cy="564.7" r="4.1"/>
<circle cx="1482.6" cy="556.4" r="4.1"/>
<circle cx="1482.6" cy="575.3" r="4.1"/>
<circle cx="1482.6" cy="566.5" r="4.1"/>
<circle cx="1482.9" cy="546.9" r="4.1"/>
<circle cx="1483.1" cy="568.8" r="4.1"/>
<circle cx="1483.4" cy="575.3" r="4.1"/>
<circle cx="1483.4" cy="575.4" r="4.1"/>
<circle cx="1483.5" cy="530.1" r="4.1"/>
<circle cx="1483.9" cy="536.1" r="4.1"/>
<circle cx="1484.0" cy="527.0" r="4.1"/>
<circle cx="1484.2" cy="557.3" r="4.1"/>
<circle cx="1484.3" cy="514.9" r="4.1"/>
<circle cx="1484.3" cy="564.2" r="4.1"/>
<circle cx="1484.4" cy="574.7" r="4.1"/>
<circle cx="1484.5" cy="569.1" r="4.1"/>
<circle cx="1484.6" cy="554.8" r="4.1"/>
<circle cx="1484.8" cy="565.6" r="4.1"/>
<circle cx="1484.9" cy="563.1" r="4.1"/>
<circle cx="1484.9" cy="541.5" r="4.1"/>
<circle cx="1485.1" cy="564.5" r="4.1"/>
<circle cx="1485.6" cy="569.3" r="4.1"/>
<circle cx="1485.6" cy="540.7" r="4.1"/>
<circle cx="1485.6" cy="556.0" r="4.1"/>
<circle cx="1485.7" cy="549.5" r="4.1"/>
<circle cx="1485.8" cy="463.7" r="4.1"/>
<circle cx="1485.9" cy="574.9" r="4.1"/>
<circle cx="1486.0" cy="563.8" r="4.1"/>
<circle cx="1486.0" cy="510.0" r="4.1"/>
<circle cx="1486.0" cy="551.6" r="4.1"/>
<circle cx="1486.2" cy="559.2" r="4.1"/>
<circle cx="1486.3" cy="570.8" r="4.1"/>
<circle cx="1486.4" cy="570.6" r="4.1"/>
<circle cx="1486.5" cy="570.0" r="4.1"/>
<circle cx="1486.6" cy="517.2" r="4.1"/>
<circle cx="1486.7" cy="562.1" r="4.1"/>
<circle cx="1486.9" cy="568.1" r="4.1"/>
<circle cx="1487.0" cy="549.0" r="4.1"/>
<circle cx="1487.0" cy="567.5" r="4.1"/>
<circle cx="1487.0" cy="532.4" r="4.1"/>
<circle cx="1487.0" cy="569.9" r="4.1"/>
<circle cx="1487.0" cy="572.2" r="4.1"/>
<circle cx="1487.1" cy="522.7" r="4.1"/>
<circle cx="1487.2" cy="544.9" r="4.1"/>
<circle cx="1487.2" cy="560.1" r="4.1"/>
<circle cx="1487.3" cy="574.3" r="4.1"/>
<circle cx="1487.3" cy="574.7" r="4.1"/>
<circle cx="1487.4" cy="575.0" r="4.1"/>
<circle cx="1487.4" cy="504.0" r="4.1"/>
<circle cx="1487.7" cy="552.6" r="4.1"/>
<circle cx="1487.7" cy="546.3" r="4.1"/>
<circle cx="1487.7" cy="573.7" r="4.1"/>
<circle cx="1487.8" cy="573.7" r="4.1"/>
<circle cx="1487.9" cy="564.7" r="4.1"/>
<circle cx="1488.1" cy="563.2" r="4.1"/>
<circle cx="1488.1" cy="563.6" r="4.1"/>
<circle cx="1488.2" cy="568.4" r="4.1"/>
<circle cx="1488.3" cy="574.1" r="4.1"/>
<circle cx="1488.3" cy="555.3" r="4.1"/>
<circle cx="1488.3" cy="559.6" r="4.1"/>
<circle cx="1488.3" cy="564.0" r="4.1"/>
<circle cx="1488.3" cy="558.7" r="4.1"/>
<circle cx="1488.4" cy="575.3" r="4.1"/>
<circle cx="1488.4" cy="569.5" r="4.1"/>
<circle cx="1488.5" cy="561.4" r="4.1"/>
<circle cx="1488.5" cy="535.4" r="4.1"/>
<circle cx="1488.6" cy="509.1" r="4.1"/>
<circle cx="1488.6" cy="573.4" r="4.1"/>
<circle cx="1488.8" cy="574.8" r="4.1"/>
<circle cx="1488.8" cy="570.3" r="4.1"/>
<circle cx="1488.8" cy="569.3" r="4.1"/>
<circle cx="1488.9" cy="528.5" r="4.1"/>
<circle cx="1488.9" cy="556.9" r="4.1"/>
<circle cx="1488.9" cy="539.8" r="4.1"/>
<circle cx="1489.0" cy="546.7" r="4.1"/>
<circle cx="1489.2" cy="575.2" r="4.1"/>
<circle cx="1489.2" cy="575.2" r="4.1"/>
<circle cx="1489.3" cy="465.3" r="4.1"/>
<circle cx="1489.3" cy="571.5" r="4.1"/>
<circle cx="1489.4" cy="572.4" r="4.1"/>
<circle cx="1489.5" cy="572.0" r="4.1"/>
<circle cx="1489.7" cy="564.0" r="4.1"/>
<circle cx="1489.9" cy="572.5" r="4.1"/>
<circle cx="1489.9" cy="573.1" r="4.1"/>
<circle cx="1490.0" cy="529.3" r="4.1"/>
<circle cx="1490.1" cy="532.6" r="4.1"/>
<circle cx="1490.2" cy="549.6" r="4.1"/>
<circle cx="1490.3" cy="557.5" r="4.1"/>
<circle cx="1490.4" cy="560.0" r="4.1"/>
<circle cx="1490.4" cy="475.7" r="4.1"/>
<circle cx="1490.5" cy="574.8" r="4.1"/>
<circle cx="1490.5" cy="546.2" r="4.1"/>
<circle cx="1490.5" cy="556.2" r="4.1"/>
<circle cx="1490.6" cy="567.8" r="4.1"/>
<circle cx="1490.7" cy="524.5" r="4.1"/>
<circle cx="1490.9" cy="557.8" r="4.1"/>
<circle cx="1490.9" cy="485.6" r="4.1"/>
<circle cx="1491.1" cy="554.7" r="4.1"/>
<circle cx="1491.3" cy="561.5" r="4.1"/>
<circle cx="1491.4" cy="570.3" r="4.1"/>
<circle cx="1491.6" cy="564.9" r="4.1"/>
<circle cx="1491.8" cy="566.6" r="4.1"/>
<circle cx="1492.0" cy="571.9" r="4.1"/>
<circle cx="1492.0" cy="568.5" r="4.1"/>
<circle cx="1492.0" cy="546.0" r="4.1"/>
<circle cx="1492.0" cy="490.7" r="4.1"/>
<circle cx="1492.4" cy="574.8" r="4.1"/>
<circle cx="1492.8" cy="536.1" r="4.1"/>
<circle cx="1492.9" cy="563.2" r="4.1"/>
<circle cx="1492.9" cy="574.4" r="4.1"/>
<circle cx="1493.2" cy="543.2" r="4.1"/>
<circle cx="1493.2" cy="573.4" r="4.1"/>
<circle cx="1493.3" cy="570.7" r="4.1"/>
<circle cx="1493.3" cy="527.0" r="4.1"/>
<circle cx="1493.7" cy="570.8" r="4.1"/>
<circle cx="1493.8" cy="554.1" r="4.1"/>
<circle cx="1493.9" cy="574.7" r="4.1"/>
<circle cx="1493.9" cy="549.6" r="4.1"/>
<circle cx="1494.0" cy="521.8" r="4.1"/>
<circle cx="1494.0" cy="573.3" r="4.1"/>
<circle cx="1494.1" cy="542.3" r="4.1"/>
<circle cx="1494.2" cy="563.5" r="4.1"/>
<circle cx="1494.3" cy="525.4" r="4.1"/>
<circle cx="1494.4" cy="561.7" r="4.1"/>
<circle cx="1494.4" cy="568.8" r="4.1"/>
<circle cx="1494.4" cy="556.1" r="4.1"/>
<circle cx="1494.5" cy="561.4" r="4.1"/>
<circle cx="1494.6" cy="541.4" r="4.1"/>
<circle cx="1494.6" cy="562.3" r="4.1"/>
<circle cx="1494.7" cy="543.6" r="4.1"/>
<circle cx="1494.8" cy="542.8" r="4.1"/>
<circle cx="1494.8" cy="413.0" r="4.1"/>
<circle cx="1494.8" cy="442.3" r="4.1"/>
<circle cx="1494.8" cy="561.8" r="4.1"/>
<circle cx="1494.9" cy="548.0" r="4.1"/>
<circle cx="1495.0" cy="560.8" r="4.1"/>
<circle cx="1495.0" cy="572.3" r="4.1"/>
<circle cx="1495.0" cy="564.0" r="4.1"/>
<circle cx="1495.1" cy="571.6" r="4.1"/>
<circle cx="1495.2" cy="554.4" r="4.1"/>
<circle cx="1495.3" cy="542.0" r="4.1"/>
<circle cx="1495.4" cy="569.5" r="4.1"/>
<circle cx="1495.4" cy="574.9" r="4.1"/>
<circle cx="1496.3" cy="573.6" r="4.1"/>
<circle cx="1496.5" cy="565.8" r="4.1"/>
<circle cx="1496.5" cy="549.2" r="4.1"/>
<circle cx="1496.6" cy="556.0" r="4.1"/>
<circle cx="1496.7" cy="565.6" r="4.1"/>
<circle cx="1496.8" cy="569.2" r="4.1"/>
<circle cx="1496.8" cy="563.5" r="4.1"/>
<circle cx="1496.9" cy="574.7" r="4.1"/>
<circle cx="1496.9" cy="547.4" r="4.1"/>
<circle cx="1497.2" cy="565.1" r="4.1"/>
<circle cx="1497.3" cy="552.3" r="4.1"/>
<circle cx="1497.3" cy="567.7" r="4.1"/>
<circle cx="1497.3" cy="569.6" r="4.1"/>
<circle cx="1497.4" cy="557.9" r="4.1"/>
<circle cx="1497.4" cy="565.3" r="4.1"/>
<circle cx="1497.5" cy="559.1" r="4.1"/>
<circle cx="1497.7" cy="572.2" r="4.1"/>
<circle cx="1498.1" cy="569.1" r="4.1"/>
<circle cx="1498.1" cy="524.7" r="4.1"/>
<circle cx="1498.1" cy="575.2" r="4.1"/>
<circle cx="1498.1" cy="574.4" r="4.1"/>
<circle cx="1498.2" cy="574.6" r="4.1"/>
<circle cx="1498.3" cy="536.1" r="4.1"/>
<circle cx="1498.5" cy="571.5" r="4.1"/>
<circle cx="1498.5" cy="475.7" r="4.1"/>
<circle cx="1498.5" cy="553.1" r="4.1"/>
<circle cx="1498.5" cy="568.9" r="4.1"/>
<circle cx="1498.5" cy="531.7" r="4.1"/>
<circle cx="1498.8" cy="556.5" r="4.1"/>
<circle cx="1498.9" cy="566.8" r="4.1"/>
<circle cx="1498.9" cy="534.0" r="4.1"/>
<circle cx="1498.9" cy="562.1" r="4.1"/>
<circle cx="1498.9" cy="518.5" r="4.1"/>
<circle cx="1499.0" cy="556.6" r="4.1"/>
<circle cx="1499.0" cy="563.1" r="4.1"/>
<circle cx="1499.1" cy="561.7" r="4.1"/>
<circle cx="1499.3" cy="569.2" r="4.1"/>
<circle cx="1499.4" cy="533.6" r="4.1"/>
<circle cx="1499.6" cy="569.7" r="4.1"/>
<circle cx="1499.7" cy="572.1" r="4.1"/>
<circle cx="1499.8" cy="566.5" r="4.1"/>
<circle cx="1499.9" cy="542.3" r="4.1"/>
<circle cx="1500.2" cy="535.3" r="4.1"/>
<circle cx="1500.4" cy="564.9" r="4.1"/>
<circle cx="1500.7" cy="571.4" r="4.1"/>
<circle cx="1500.7" cy="569.8" r="4.1"/>
<circle cx="1500.8" cy="556.6" r="4.1"/>
<circle cx="1500.8" cy="546.6" r="4.1"/>
<circle cx="1500.8" cy="572.0" r="4.1"/>
<circle cx="1500.9" cy="566.8" r="4.1"/>
<circle cx="1500.9" cy="557.7" r="4.1"/>
<circle cx="1501.0" cy="573.3" r="4.1"/>
<circle cx="1501.2" cy="557.2" r="4.1"/>
<circle cx="1501.3" cy="521.6" r="4.1"/>
<circle cx="1501.3" cy="571.9" r="4.1"/>
<circle cx="1501.4" cy="550.5" r="4.1"/>
<circle cx="1501.6" cy="547.2" r="4.1"/>
<circle cx="1501.8" cy="558.0" r="4.1"/>
<circle cx="1501.8" cy="570.8" r="4.1"/>
<circle cx="1502.2" cy="571.2" r="4.1"/>
<circle cx="1502.2" cy="555.9" r="4.1"/>
<circle cx="1502.3" cy="572.3" r="4.1"/>
<circle cx="1502.4" cy="568.3" r="4.1"/>
<circle cx="1503.1" cy="574.1" r="4.1"/>
<circle cx="1503.2" cy="546.4" r="4.1"/>
<circle cx="1503.2" cy="569.5" r="4.1"/>
<circle cx="1503.3" cy="557.1" r="4.1"/>
<circle cx="1503.3" cy="567.0" r="4.1"/>
<circle cx="1503.4" cy="571.6" r="4.1"/>
<circle cx="1503.4" cy="550.4" r="4.1"/>
<circle cx="1503.6" cy="501.7" r="4.1"/>
<circle cx="1503.7" cy="541.4" r="4.1"/>
<circle cx="1503.8" cy="573.6" r="4.1"/>
<circle cx="1503.9" cy="569.1" r="4.1"/>
<circle cx="1503.9" cy="568.5" r="4.1"/>
<circle cx="1503.9" cy="525.4" r="4.1"/>
<circle cx="1503.9" cy="568.1" r="4.1"/>
<circle cx="1504.1" cy="572.7" r="4.1"/>
<circle cx="1504.2" cy="519.8" r="4.1"/>
<circle cx="1504.2" cy="539.3" r="4.1"/>
<circle cx="1504.2" cy="474.5" r="4.1"/>
<circle cx="1504.4" cy="563.7" r="4.1"/>
<circle cx="1504.4" cy="568.9" r="4.1"/>
<circle cx="1504.4" cy="574.5" r="4.1"/>
<circle cx="1504.4" cy="573.2" r="4.1"/>
<circle cx="1504.4" cy="551.4" r="4.1"/>
<circle cx="1504.5" cy="518.8" r="4.1"/>
<circle cx="1504.6" cy="507.7" r="4.1"/>
<circle cx="1504.6" cy="564.1" r="4.1"/>
<circle cx="1504.9" cy="458.0" r="4.1"/>
<circle cx="1505.1" cy="575.2" r="4.1"/>
<circle cx="1505.1" cy="539.0" r="4.1"/>
<circle cx="1505.2" cy="464.4" r="4.1"/>
<circle cx="1505.2" cy="555.4" r="4.1"/>
<circle cx="1505.3" cy="566.2" r="4.1"/>
<circle cx="1505.7" cy="518.1" r="4.1"/>
<circle cx="1505.8" cy="565.7" r="4.1"/>
<circle cx="1505.8" cy="558.7" r="4.1"/>
<circle cx="1505.9" cy="560.0" r="4.1"/>
<circle cx="1505.9" cy="568.1" r="4.1"/>
<circle cx="1506.0" cy="569.6" r="4.1"/>
<circle cx="1506.0" cy="536.4" r="4.1"/>
<circle cx="1506.2" cy="566.3" r="4.1"/>
<circle cx="1506.4" cy="567.8" r="4.1"/>
<circle cx="1506.5" cy="573.6" r="4.1"/>
<circle cx="1506.6" cy="560.4" r="4.1"/>
<circle cx="1506.6" cy="575.0" r="4.1"/>
<circle cx="1506.8" cy="569.8" r="4.1"/>
<circle cx="1506.9" cy="574.9" r="4.1"/>
<circle cx="1507.0" cy="573.4" r="4.1"/>
<circle cx="1507.0" cy="561.7" r="4.1"/>
<circle cx="1507.2" cy="537.3" r="4.1"/>
<circle cx="1507.3" cy="574.7" r="4.1"/>
<circle cx="1507.6" cy="564.1" r="4.1"/>
<circle cx="1507.7" cy="556.5" r="4.1"/>
<circle cx="1507.7" cy="555.2" r="4.1"/>
<circle cx="1507.7" cy="545.6" r="4.1"/>
<circle cx="1507.8" cy="555.8" r="4.1"/>
<circle cx="1507.9" cy="538.1" r="4.1"/>
<circle cx="1507.9" cy="572.2" r="4.1"/>
<circle cx="1508.0" cy="561.9" r="4.1"/>
<circle cx="1508.0" cy="574.8" r="4.1"/>
<circle cx="1508.2" cy="497.6" r="4.1"/>
<circle cx="1508.2" cy="540.0" r="4.1"/>
<circle cx="1508.2" cy="567.8" r="4.1"/>
<circle cx="1508.3" cy="571.7" r="4.1"/>
<circle cx="1508.3" cy="565.5" r="4.1"/>
<circle cx="1508.4" cy="566.2" r="4.1"/>
<circle cx="1508.5" cy="570.9" r="4.1"/>
<circle cx="1508.5" cy="560.1" r="4.1"/>
<circle cx="1508.5" cy="561.4" r="4.1"/>
<circle cx="1508.5" cy="547.9" r="4.1"/>
<circle cx="1508.6" cy="540.5" r="4.1"/>
<circle cx="1508.9" cy="471.8" r="4.1"/>
<circle cx="1508.9" cy="546.2" r="4.1"/>
<circle cx="1509.0" cy="538.5" r="4.1"/>
<circle cx="1509.1" cy="572.6" r="4.1"/>
<circle cx="1509.2" cy="517.8" r="4.1"/>
<circle cx="1509.2" cy="544.3" r="4.1"/>
<circle cx="1509.2" cy="539.2" r="4.1"/>
<circle cx="1509.2" cy="557.6" r="4.1"/>
<circle cx="1509.3" cy="527.1" r="4.1"/>
<circle cx="1509.5" cy="575.0" r="4.1"/>
<circle cx="1509.5" cy="566.0" r="4.1"/>
<circle cx="1509.5" cy="524.6" r="4.1"/>
<circle cx="1509.6" cy="570.6" r="4.1"/>
<circle cx="1509.6" cy="572.0" r="4.1"/>
<circle cx="1509.6" cy="562.5" r="4.1"/>
<circle cx="1509.8" cy="559.3" r="4.1"/>
<circle cx="1510.1" cy="563.6" r="4.1"/>
<circle cx="1510.1" cy="573.2" r="4.1"/>
<circle cx="1510.2" cy="570.1" r="4.1"/>
<circle cx="1510.2" cy="561.5" r="4.1"/>
<circle cx="1510.3" cy="565.1" r="4.1"/>
<circle cx="1510.4" cy="551.9" r="4.1"/>
<circle cx="1510.4" cy="553.9" r="4.1"/>
<circle cx="1510.5" cy="568.5" r="4.1"/>
<circle cx="1510.5" cy="550.0" r="4.1"/>
<circle cx="1510.5" cy="573.2" r="4.1"/>
<circle cx="1510.6" cy="563.8" r="4.1"/>
<circle cx="1510.7" cy="546.3" r="4.1"/>
<circle cx="1510.8" cy="572.4" r="4.1"/>
<circle cx="1510.8" cy="508.3" r="4.1"/>
<circle cx="1510.9" cy="543.0" r="4.1"/>
<circle cx="1511.0" cy="569.5" r="4.1"/>
<circle cx="1511.0" cy="545.3" r="4.1"/>
<circle cx="1511.0" cy="557.0" r="4.1"/>
<circle cx="1511.2" cy="569.7" r="4.1"/>
<circle cx="1511.2" cy="541.2" r="4.1"/>
<circle cx="1511.3" cy="513.1" r="4.1"/>
<circle cx="1511.6" cy="535.1" r="4.1"/>
<circle cx="1511.7" cy="565.6" r="4.1"/>
<circle cx="1511.7" cy="558.4" r="4.1"/>
<circle cx="1511.8" cy="526.3" r="4.1"/>
<circle cx="1511.9" cy="523.7" r="4.1"/>
<circle cx="1512.3" cy="557.2" r="4.1"/>
<circle cx="1512.3" cy="548.1" r="4.1"/>
<circle cx="1512.4" cy="555.0" r="4.1"/>
<circle cx="1512.4" cy="559.1" r="4.1"/>
<circle cx="1512.4" cy="563.1" r="4.1"/>
<circle cx="1512.7" cy="569.2" r="4.1"/>
<circle cx="1512.8" cy="541.3" r="4.1"/>
<circle cx="1512.8" cy="542.5" r="4.1"/>
<circle cx="1513.0" cy="570.9" r="4.1"/>
<circle cx="1513.1" cy="519.9" r="4.1"/>
<circle cx="1513.2" cy="502.9" r="4.1"/>
<circle cx="1513.3" cy="565.9" r="4.1"/>
<circle cx="1513.6" cy="531.5" r="4.1"/>
<circle cx="1513.8" cy="553.1" r="4.1"/>
<circle cx="1513.9" cy="573.9" r="4.1"/>
<circle cx="1513.9" cy="548.4" r="4.1"/>
<circle cx="1514.0" cy="573.6" r="4.1"/>
<circle cx="1514.0" cy="523.1" r="4.1"/>
<circle cx="1514.0" cy="568.8" r="4.1"/>
<circle cx="1514.2" cy="548.3" r="4.1"/>
<circle cx="1514.3" cy="553.0" r="4.1"/>
<circle cx="1514.4" cy="569.4" r="4.1"/>
<circle cx="1514.6" cy="564.3" r="4.1"/>
<circle cx="1514.7" cy="565.5" r="4.1"/>
<circle cx="1514.7" cy="552.7" r="4.1"/>
<circle cx="1514.8" cy="569.5" r="4.1"/>
<circle cx="1514.9" cy="563.8" r="4.1"/>
<circle cx="1515.0" cy="560.7" r="4.1"/>
<circle cx="1515.0" cy="541.1" r="4.1"/>
<circle cx="1515.3" cy="571.6" r="4.1"/>
<circle cx="1515.4" cy="519.7" r="4.1"/>
<circle cx="1515.4" cy="543.0" r="4.1"/>
<circle cx="1515.5" cy="489.1" r="4.1"/>
<circle cx="1515.6" cy="528.7" r="4.1"/>
<circle cx="1515.8" cy="558.9" r="4.1"/>
<circle cx="1515.8" cy="565.4" r="4.1"/>
<circle cx="1515.8" cy="572.5" r="4.1"/>
<circle cx="1516.0" cy="527.0" r="4.1"/>
<circle cx="1516.2" cy="561.6" r="4.1"/>
<circle cx="1516.2" cy="467.2" r="4.1"/>
<circle cx="1516.2" cy="506.8" r="4.1"/>
<circle cx="1516.4" cy="554.8" r="4.1"/>
<circle cx="1516.5" cy="557.7" r="4.1"/>
<circle cx="1516.6" cy="554.1" r="4.1"/>
<circle cx="1516.6" cy="547.1" r="4.1"/>
<circle cx="1516.7" cy="542.4" r="4.1"/>
<circle cx="1517.1" cy="560.7" r="4.1"/>
<circle cx="1517.1" cy="568.0" r="4.1"/>
<circle cx="1517.2" cy="527.8" r="4.1"/>
<circle cx="1517.2" cy="574.4" r="4.1"/>
<circle cx="1517.4" cy="572.0" r="4.1"/>
<circle cx="1517.4" cy="542.8" r="4.1"/>
<circle cx="1517.4" cy="572.4" r="4.1"/>
<circle cx="1517.5" cy="572.2" r="4.1"/>
<circle cx="1517.6" cy="557.0" r="4.1"/>
<circle cx="1517.7" cy="560.7" r="4.1"/>
<circle cx="1517.8" cy="569.2" r="4.1"/>
<circle cx="1517.8" cy="564.8" r="4.1"/>
<circle cx="1517.9" cy="545.8" r="4.1"/>
<circle cx="1517.9" cy="525.9" r="4.1"/>
<circle cx="1518.0" cy="569.2" r="4.1"/>
<circle cx="1518.1" cy="479.4" r="4.1"/>
<circle cx="1518.2" cy="559.6" r="4.1"/>
<circle cx="1518.3" cy="569.6" r="4.1"/>
<circle cx="1518.7" cy="534.9" r="4.1"/>
<circle cx="1518.9" cy="570.8" r="4.1"/>
<circle cx="1518.9" cy="574.1" r="4.1"/>
<circle cx="1519.0" cy="571.2" r="4.1"/>
<circle cx="1519.0" cy="570.2" r="4.1"/>
<circle cx="1519.2" cy="560.0" r="4.1"/>
<circle cx="1519.3" cy="542.7" r="4.1"/>
<circle cx="1519.4" cy="540.0" r="4.1"/>
<circle cx="1519.4" cy="574.2" r="4.1"/>
<circle cx="1519.5" cy="527.2" r="4.1"/>
<circle cx="1519.5" cy="533.9" r="4.1"/>
<circle cx="1519.5" cy="571.1" r="4.1"/>
<circle cx="1519.5" cy="563.7" r="4.1"/>
<circle cx="1519.6" cy="570.3" r="4.1"/>
<circle cx="1519.9" cy="564.1" r="4.1"/>
<circle cx="1519.9" cy="529.0" r="4.1"/>
<circle cx="1520.0" cy="568.7" r="4.1"/>
<circle cx="1520.1" cy="552.5" r="4.1"/>
<circle cx="1520.1" cy="570.9" r="4.1"/>
<circle cx="1520.3" cy="553.9" r="4.1"/>
<circle cx="1520.3" cy="573.9" r="4.1"/>
<circle cx="1520.3" cy="574.4" r="4.1"/>
<circle cx="1520.4" cy="574.8" r="4.1"/>
<circle cx="1520.5" cy="544.9" r="4.1"/>
<circle cx="1520.6" cy="563.3" r="4.1"/>
<circle cx="1520.6" cy="541.3" r="4.1"/>
<circle cx="1520.7" cy="564.0" r="4.1"/>
<circle cx="1520.9" cy="524.6" r="4.1"/>
<circle cx="1521.0" cy="571.8" r="4.1"/>
<circle cx="1521.0" cy="515.3" r="4.1"/>
<circle cx="1521.1" cy="481.5" r="4.1"/>
<circle cx="1521.2" cy="518.7" r="4.1"/>
<circle cx="1521.3" cy="572.8" r="4.1"/>
<circle cx="1521.4" cy="535.5" r="4.1"/>
<circle cx="1521.5" cy="547.9" r="4.1"/>
<circle cx="1521.7" cy="558.7" r="4.1"/>
<circle cx="1521.7" cy="559.8" r="4.1"/>
<circle cx="1521.8" cy="571.5" r="4.1"/>
<circle cx="1521.9" cy="553.8" r="4.1"/>
<circle cx="1521.9" cy="559.1" r="4.1"/>
<circle cx="1522.4" cy="563.4" r="4.1"/>
<circle cx="1522.5" cy="574.6" r="4.1"/>
<circle cx="1522.6" cy="572.6" r="4.1"/>
<circle cx="1522.6" cy="518.4" r="4.1"/>
<circle cx="1522.6" cy="572.9" r="4.1"/>
<circle cx="1522.7" cy="560.5" r="4.1"/>
<circle cx="1522.8" cy="556.7" r="4.1"/>
<circle cx="1522.8" cy="539.2" r="4.1"/>
<circle cx="1522.9" cy="570.1" r="4.1"/>
<circle cx="1523.1" cy="556.2" r="4.1"/>
<circle cx="1523.1" cy="572.6" r="4.1"/>
<circle cx="1523.2" cy="571.2" r="4.1"/>
<circle cx="1523.2" cy="565.7" r="4.1"/>
<circle cx="1523.4" cy="565.9" r="4.1"/>
<circle cx="1523.5" cy="512.9" r="4.1"/>
<circle cx="1523.5" cy="575.4" r="4.1"/>
<circle cx="1523.6" cy="558.6" r="4.1"/>
<circle cx="1523.8" cy="506.1" r="4.1"/>
<circle cx="1523.9" cy="517.5" r="4.1"/>
<circle cx="1524.1" cy="544.5" r="4.1"/>
<circle cx="1524.1" cy="573.4" r="4.1"/>
<circle cx="1524.1" cy="569.1" r="4.1"/>
<circle cx="1524.1" cy="565.6" r="4.1"/>
<circle cx="1524.1" cy="561.3" r="4.1"/>
<circle cx="1524.5" cy="569.2" r="4.1"/>
<circle cx="1524.6" cy="568.3" r="4.1"/>
<circle cx="1524.7" cy="567.5" r="4.1"/>
<circle cx="1524.8" cy="563.7" r="4.1"/>
<circle cx="1524.9" cy="566.3" r="4.1"/>
<circle cx="1524.9" cy="546.8" r="4.1"/>
<circle cx="1525.1" cy="561.1" r="4.1"/>
<circle cx="1525.2" cy="538.2" r="4.1"/>
<circle cx="1525.4" cy="550.8" r="4.1"/>
<circle cx="1525.4" cy="562.9" r="4.1"/>
<circle cx="1525.4" cy="494.8" r="4.1"/>
<circle cx="1525.5" cy="563.0" r="4.1"/>
<circle cx="1525.6" cy="518.3" r="4.1"/>
<circle cx="1525.6" cy="570.0" r="4.1"/>
<circle cx="1525.7" cy="534.4" r="4.1"/>
<circle cx="1525.7" cy="535.0" r="4.1"/>
<circle cx="1525.8" cy="573.5" r="4.1"/>
<circle cx="1525.8" cy="565.3" r="4.1"/>
<circle cx="1525.8" cy="555.8" r="4.1"/>
<circle cx="1525.9" cy="519.9" r="4.1"/>
<circle cx="1526.1" cy="574.6" r="4.1"/>
<circle cx="1526.1" cy="474.1" r="4.1"/>
<circle cx="1526.6" cy="564.5" r="4.1"/>
<circle cx="1526.7" cy="567.1" r="4.1"/>
<circle cx="1526.8" cy="512.6" r="4.1"/>
<circle cx="1527.0" cy="558.9" r="4.1"/>
<circle cx="1527.0" cy="561.1" r="4.1"/>
<circle cx="1527.2" cy="574.3" r="4.1"/>
<circle cx="1527.2" cy="564.1" r="4.1"/>
<circle cx="1527.3" cy="574.5" r="4.1"/>
<circle cx="1527.9" cy="526.5" r="4.1"/>
<circle cx="1527.9" cy="520.9" r="4.1"/>
<circle cx="1528.0" cy="563.2" r="4.1"/>
<circle cx="1528.2" cy="549.1" r="4.1"/>
<circle cx="1528.3" cy="557.3" r="4.1"/>
<circle cx="1528.4" cy="559.1" r="4.1"/>
<circle cx="1528.5" cy="569.1" r="4.1"/>
<circle cx="1528.9" cy="564.7" r="4.1"/>
<circle cx="1529.0" cy="561.6" r="4.1"/>
<circle cx="1529.3" cy="569.9" r="4.1"/>
<circle cx="1529.3" cy="567.6" r="4.1"/>
<circle cx="1529.4" cy="504.5" r="4.1"/>
<circle cx="1529.5" cy="548.6" r="4.1"/>
<circle cx="1529.8" cy="563.6" r="4.1"/>
<circle cx="1530.0" cy="565.6" r="4.1"/>
<circle cx="1530.0" cy="491.4" r="4.1"/>
<circle cx="1530.0" cy="573.5" r="4.1"/>
<circle cx="1530.1" cy="506.7" r="4.1"/>
<circle cx="1530.5" cy="546.8" r="4.1"/>
<circle cx="1530.7" cy="538.1" r="4.1"/>
<circle cx="1530.9" cy="556.4" r="4.1"/>
<circle cx="1531.3" cy="567.9" r="4.1"/>
<circle cx="1531.4" cy="561.3" r="4.1"/>
<circle cx="1531.7" cy="555.6" r="4.1"/>
<circle cx="1531.7" cy="563.5" r="4.1"/>
<circle cx="1531.8" cy="569.4" r="4.1"/>
<circle cx="1531.9" cy="568.5" r="4.1"/>
<circle cx="1532.0" cy="563.1" r="4.1"/>
<circle cx="1532.0" cy="555.7" r="4.1"/>
<circle cx="1532.2" cy="531.8" r="4.1"/>
<circle cx="1532.5" cy="570.1" r="4.1"/>
<circle cx="1532.6" cy="505.9" r="4.1"/>
<circle cx="1532.7" cy="513.0" r="4.1"/>
<circle cx="1532.8" cy="573.0" r="4.1"/>
<circle cx="1532.9" cy="541.6" r="4.1"/>
<circle cx="1533.1" cy="562.1" r="4.1"/>
<circle cx="1533.2" cy="573.0" r="4.1"/>
<circle cx="1533.8" cy="561.9" r="4.1"/>
<circle cx="1533.8" cy="573.9" r="4.1"/>
<circle cx="1533.9" cy="556.2" r="4.1"/>
<circle cx="1534.1" cy="570.8" r="4.1"/>
<circle cx="1534.2" cy="574.9" r="4.1"/>
<circle cx="1534.2" cy="564.5" r="4.1"/>
<circle cx="1534.3" cy="545.0" r="4.1"/>
<circle cx="1534.4" cy="526.7" r="4.1"/>
<circle cx="1534.5" cy="547.3" r="4.1"/>
<circle cx="1534.6" cy="573.9" r="4.1"/>
<circle cx="1534.8" cy="544.8" r="4.1"/>
<circle cx="1534.9" cy="546.4" r="4.1"/>
<circle cx="1535.1" cy="554.2" r="4.1"/>
<circle cx="1535.2" cy="555.5" r="4.1"/>
<circle cx="1535.3" cy="526.6" r="4.1"/>
<circle cx="1535.5" cy="558.6" r="4.1"/>
<circle cx="1535.7" cy="550.9" r="4.1"/>
<circle cx="1535.8" cy="561.5" r="4.1"/>
<circle cx="1536.2" cy="568.8" r="4.1"/>
<circle cx="1536.3" cy="563.8" r="4.1"/>
<circle cx="1536.4" cy="557.8" r="4.1"/>
<circle cx="1536.6" cy="560.5" r="4.1"/>
<circle cx="1536.6" cy="567.2" r="4.1"/>
<circle cx="1536.6" cy="561.6" r="4.1"/>
<circle cx="1536.7" cy="547.2" r="4.1"/>
<circle cx="1536.7" cy="546.2" r="4.1"/>
<circle cx="1536.8" cy="560.8" r="4.1"/>
<circle cx="1536.8" cy="575.5" r="4.1"/>
<circle cx="1537.0" cy="563.2" r="4.1"/>
<circle cx="1537.0" cy="530.2" r="4.1"/>
<circle cx="1537.1" cy="558.1" r="4.1"/>
<circle cx="1537.3" cy="568.5" r="4.1"/>
<circle cx="1537.3" cy="563.4" r="4.1"/>
<circle cx="1537.4" cy="555.7" r="4.1"/>
<circle cx="1537.6" cy="564.8" r="4.1"/>
<circle cx="1537.6" cy="566.6" r="4.1"/>
<circle cx="1537.7" cy="563.7" r="4.1"/>
<circle cx="1537.8" cy="574.3" r="4.1"/>
<circle cx="1538.0" cy="564.2" r="4.1"/>
<circle cx="1538.1" cy="525.8" r="4.1"/>
<circle cx="1538.1" cy="574.0" r="4.1"/>
<circle cx="1538.2" cy="543.4" r="4.1"/>
<circle cx="1538.3" cy="546.2" r="4.1"/>
<circle cx="1538.3" cy="569.6" r="4.1"/>
<circle cx="1538.8" cy="558.9" r="4.1"/>
<circle cx="1538.9" cy="560.3" r="4.1"/>
<circle cx="1539.0" cy="566.8" r="4.1"/>
<circle cx="1539.0" cy="552.3" r="4.1"/>
<circle cx="1539.1" cy="539.5" r="4.1"/>
<circle cx="1539.2" cy="573.5" r="4.1"/>
<circle cx="1539.3" cy="480.3" r="4.1"/>
<circle cx="1539.4" cy="568.9" r="4.1"/>
<circle cx="1539.4" cy="514.2" r="4.1"/>
<circle cx="1539.5" cy="554.1" r="4.1"/>
<circle cx="1539.5" cy="561.2" r="4.1"/>
<circle cx="1539.5" cy="564.1" r="4.1"/>
<circle cx="1539.9" cy="549.5" r="4.1"/>
<circle cx="1540.0" cy="485.6" r="4.1"/>
<circle cx="1540.2" cy="557.6" r="4.1"/>
<circle cx="1540.3" cy="575.0" r="4.1"/>
<circle cx="1540.4" cy="508.0" r="4.1"/>
<circle cx="1540.4" cy="502.2" r="4.1"/>
<circle cx="1540.8" cy="573.1" r="4.1"/>
<circle cx="1540.9" cy="555.2" r="4.1"/>
<circle cx="1540.9" cy="538.2" r="4.1"/>
<circle cx="1541.2" cy="518.0" r="4.1"/>
<circle cx="1541.2" cy="536.1" r="4.1"/>
<circle cx="1541.2" cy="575.2" r="4.1"/>
<circle cx="1541.4" cy="529.8" r="4.1"/>
<circle cx="1541.4" cy="534.1" r="4.1"/>
<circle cx="1541.5" cy="567.7" r="4.1"/>
<circle cx="1541.6" cy="493.7" r="4.1"/>
<circle cx="1541.6" cy="565.8" r="4.1"/>
<circle cx="1541.8" cy="534.2" r="4.1"/>
<circle cx="1541.8" cy="533.7" r="4.1"/>
<circle cx="1541.8" cy="553.6" r="4.1"/>
<circle cx="1541.8" cy="563.5" r="4.1"/>
<circle cx="1541.9" cy="562.5" r="4.1"/>
<circle cx="1542.2" cy="569.4" r="4.1"/>
<circle cx="1542.2" cy="572.3" r="4.1"/>
<circle cx="1542.2" cy="569.2" r="4.1"/>
<circle cx="1542.3" cy="566.3" r="4.1"/>
<circle cx="1542.4" cy="547.3" r="4.1"/>
<circle cx="1542.5" cy="556.5" r="4.1"/>
<circle cx="1542.5" cy="547.0" r="4.1"/>
<circle cx="1542.7" cy="569.9" r="4.1"/>
<circle cx="1542.7" cy="563.8" r="4.1"/>
<circle cx="1542.7" cy="572.6" r="4.1"/>
<circle cx="1542.7" cy="569.4" r="4.1"/>
<circle cx="1542.8" cy="530.4" r="4.1"/>
<circle cx="1542.9" cy="537.1" r="4.1"/>
<circle cx="1543.1" cy="574.3" r="4.1"/>
<circle cx="1543.1" cy="567.6" r="4.1"/>
<circle cx="1543.2" cy="570.6" r="4.1"/>
<circle cx="1543.3" cy="557.3" r="4.1"/>
<circle cx="1543.4" cy="565.5" r="4.1"/>
<circle cx="1543.5" cy="575.5" r="4.1"/>
<circle cx="1543.7" cy="554.0" r="4.1"/>
<circle cx="1543.8" cy="569.1" r="4.1"/>
<circle cx="1543.8" cy="572.6" r="4.1"/>
<circle cx="1544.1" cy="550.6" r="4.1"/>
<circle cx="1544.1" cy="566.0" r="4.1"/>
<circle cx="1544.1" cy="554.2" r="4.1"/>
<circle cx="1544.4" cy="555.7" r="4.1"/>
<circle cx="1544.4" cy="556.5" r="4.1"/>
<circle cx="1544.8" cy="551.7" r="4.1"/>
<circle cx="1544.8" cy="571.9" r="4.1"/>
<circle cx="1544.8" cy="526.1" r="4.1"/>
<circle cx="1545.2" cy="560.9" r="4.1"/>
<circle cx="1545.2" cy="558.7" r="4.1"/>
<circle cx="1545.3" cy="548.0" r="4.1"/>
<circle cx="1545.4" cy="552.8" r="4.1"/>
<circle cx="1545.5" cy="560.4" r="4.1"/>
<circle cx="1545.5" cy="561.7" r="4.1"/>
<circle cx="1545.6" cy="536.2" r="4.1"/>
<circle cx="1545.7" cy="571.1" r="4.1"/>
<circle cx="1545.9" cy="568.6" r="4.1"/>
<circle cx="1545.9" cy="530.4" r="4.1"/>
<circle cx="1546.2" cy="545.5" r="4.1"/>
<circle cx="1546.4" cy="572.2" r="4.1"/>
<circle cx="1546.5" cy="551.0" r="4.1"/>
<circle cx="1546.5" cy="573.8" r="4.1"/>
<circle cx="1546.7" cy="559.9" r="4.1"/>
<circle cx="1546.9" cy="526.1" r="4.1"/>
<circle cx="1547.0" cy="561.8" r="4.1"/>
<circle cx="1547.0" cy="545.5" r="4.1"/>
<circle cx="1547.1" cy="563.6" r="4.1"/>
<circle cx="1547.3" cy="573.6" r="4.1"/>
<circle cx="1547.3" cy="486.8" r="4.1"/>
<circle cx="1547.5" cy="563.9" r="4.1"/>
<circle cx="1547.7" cy="547.0" r="4.1"/>
<circle cx="1547.8" cy="566.1" r="4.1"/>
<circle cx="1547.8" cy="522.3" r="4.1"/>
<circle cx="1548.2" cy="564.2" r="4.1"/>
<circle cx="1548.5" cy="515.5" r="4.1"/>
<circle cx="1548.5" cy="530.9" r="4.1"/>
<circle cx="1548.6" cy="563.5" r="4.1"/>
<circle cx="1548.7" cy="549.7" r="4.1"/>
<circle cx="1548.7" cy="570.9" r="4.1"/>
<circle cx="1548.7" cy="552.9" r="4.1"/>
<circle cx="1548.9" cy="564.3" r="4.1"/>
<circle cx="1549.0" cy="566.5" r="4.1"/>
<circle cx="1549.1" cy="562.2" r="4.1"/>
<circle cx="1549.2" cy="564.7" r="4.1"/>
<circle cx="1549.2" cy="569.2" r="4.1"/>
<circle cx="1549.3" cy="574.7" r="4.1"/>
<circle cx="1549.3" cy="575.4" r="4.1"/>
<circle cx="1549.3" cy="564.7" r="4.1"/>
<circle cx="1549.3" cy="574.4" r="4.1"/>
<circle cx="1549.3" cy="568.2" r="4.1"/>
<circle cx="1549.9" cy="556.3" r="4.1"/>
<circle cx="1550.0" cy="486.8" r="4.1"/>
<circle cx="1550.3" cy="562.9" r="4.1"/>
<circle cx="1550.4" cy="527.7" r="4.1"/>
<circle cx="1550.4" cy="572.2" r="4.1"/>
<circle cx="1550.4" cy="574.3" r="4.1"/>
<circle cx="1550.4" cy="551.5" r="4.1"/>
<circle cx="1550.5" cy="569.8" r="4.1"/>
<circle cx="1550.6" cy="566.8" r="4.1"/>
<circle cx="1550.7" cy="564.6" r="4.1"/>
<circle cx="1550.8" cy="562.6" r="4.1"/>
<circle cx="1550.9" cy="567.0" r="4.1"/>
<circle cx="1551.1" cy="575.5" r="4.1"/>
<circle cx="1551.1" cy="557.0" r="4.1"/>
<circle cx="1551.2" cy="569.3" r="4.1"/>
<circle cx="1551.2" cy="548.2" r="4.1"/>
<circle cx="1551.3" cy="572.5" r="4.1"/>
<circle cx="1551.4" cy="554.5" r="4.1"/>
<circle cx="1551.4" cy="568.8" r="4.1"/>
<circle cx="1551.4" cy="535.8" r="4.1"/>
<circle cx="1551.5" cy="557.6" r="4.1"/>
<circle cx="1551.5" cy="498.3" r="4.1"/>
<circle cx="1551.8" cy="560.7" r="4.1"/>
<circle cx="1551.9" cy="507.9" r="4.1"/>
<circle cx="1552.1" cy="553.6" r="4.1"/>
<circle cx="1552.1" cy="575.3" r="4.1"/>
<circle cx="1552.2" cy="571.4" r="4.1"/>
<circle cx="1552.2" cy="547.7" r="4.1"/>
<circle cx="1552.3" cy="515.5" r="4.1"/>
<circle cx="1552.5" cy="575.0" r="4.1"/>
<circle cx="1553.1" cy="571.3" r="4.1"/>
<circle cx="1553.2" cy="560.7" r="4.1"/>
<circle cx="1553.3" cy="538.4" r="4.1"/>
<circle cx="1553.3" cy="570.5" r="4.1"/>
<circle cx="1553.4" cy="546.3" r="4.1"/>
<circle cx="1553.6" cy="542.4" r="4.1"/>
<circle cx="1553.6" cy="549.4" r="4.1"/>
<circle cx="1553.7" cy="538.1" r="4.1"/>
<circle cx="1553.7" cy="573.6" r="4.1"/>
<circle cx="1553.8" cy="552.1" r="4.1"/>
<circle cx="1553.8" cy="568.3" r="4.1"/>
<circle cx="1553.8" cy="573.2" r="4.1"/>
<circle cx="1553.8" cy="572.3" r="4.1"/>
<circle cx="1553.9" cy="574.0" r="4.1"/>
<circle cx="1553.9" cy="572.2" r="4.1"/>
<circle cx="1554.0" cy="570.5" r="4.1"/>
<circle cx="1554.1" cy="575.1" r="4.1"/>
<circle cx="1554.1" cy="522.1" r="4.1"/>
<circle cx="1554.2" cy="573.4" r="4.1"/>
<circle cx="1554.5" cy="575.2" r="4.1"/>
<circle cx="1554.6" cy="518.8" r="4.1"/>
<circle cx="1554.8" cy="573.4" r="4.1"/>
<circle cx="1554.8" cy="568.0" r="4.1"/>
<circle cx="1554.9" cy="559.1" r="4.1"/>
<circle cx="1555.2" cy="539.5" r="4.1"/>
<circle cx="1555.3" cy="572.7" r="4.1"/>
<circle cx="1555.4" cy="560.3" r="4.1"/>
<circle cx="1555.4" cy="572.4" r="4.1"/>
<circle cx="1555.5" cy="557.4" r="4.1"/>
<circle cx="1555.6" cy="565.7" r="4.1"/>
<circle cx="1555.7" cy="542.1" r="4.1"/>
<circle cx="1555.8" cy="521.6" r="4.1"/>
<circle cx="1555.8" cy="558.7" r="4.1"/>
<circle cx="1555.8" cy="544.2" r="4.1"/>
<circle cx="1556.1" cy="553.5" r="4.1"/>
<circle cx="1556.2" cy="564.0" r="4.1"/>
<circle cx="1556.2" cy="542.6" r="4.1"/>
<circle cx="1556.4" cy="543.0" r="4.1"/>
<circle cx="1556.6" cy="575.1" r="4.1"/>
<circle cx="1556.9" cy="561.5" r="4.1"/>
<circle cx="1557.0" cy="562.5" r="4.1"/>
<circle cx="1557.2" cy="546.9" r="4.1"/>
<circle cx="1557.2" cy="556.6" r="4.1"/>
<circle cx="1557.3" cy="569.6" r="4.1"/>
<circle cx="1557.4" cy="565.9" r="4.1"/>
<circle cx="1557.5" cy="573.4" r="4.1"/>
<circle cx="1557.6" cy="561.4" r="4.1"/>
<circle cx="1557.6" cy="570.9" r="4.1"/>
<circle cx="1557.6" cy="549.2" r="4.1"/>
<circle cx="1557.7" cy="561.8" r="4.1"/>
<circle cx="1557.7" cy="575.3" r="4.1"/>
<circle cx="1558.0" cy="547.9" r="4.1"/>
<circle cx="1558.1" cy="556.8" r="4.1"/>
<circle cx="1558.1" cy="525.4" r="4.1"/>
<circle cx="1558.1" cy="553.9" r="4.1"/>
<circle cx="1558.2" cy="572.1" r="4.1"/>
<circle cx="1558.3" cy="573.5" r="4.1"/>
<circle cx="1558.4" cy="572.9" r="4.1"/>
<circle cx="1558.5" cy="573.3" r="4.1"/>
<circle cx="1558.6" cy="566.0" r="4.1"/>
<circle cx="1558.7" cy="555.8" r="4.1"/>
<circle cx="1558.8" cy="560.5" r="4.1"/>
<circle cx="1558.8" cy="517.9" r="4.1"/>
<circle cx="1559.0" cy="552.0" r="4.1"/>
<circle cx="1559.2" cy="530.8" r="4.1"/>
<circle cx="1559.2" cy="557.1" r="4.1"/>
<circle cx="1559.2" cy="565.3" r="4.1"/>
<circle cx="1559.3" cy="543.3" r="4.1"/>
<circle cx="1559.4" cy="555.9" r="4.1"/>
<circle cx="1559.6" cy="538.6" r="4.1"/>
<circle cx="1559.6" cy="565.4" r="4.1"/>
<circle cx="1559.6" cy="564.7" r="4.1"/>
<circle cx="1559.7" cy="570.2" r="4.1"/>
<circle cx="1559.8" cy="565.4" r="4.1"/>
<circle cx="1559.8" cy="569.6" r="4.1"/>
<circle cx="1560.0" cy="547.2" r="4.1"/>
<circle cx="1560.0" cy="574.6" r="4.1"/>
<circle cx="1560.1" cy="529.0" r="4.1"/>
<circle cx="1560.2" cy="558.8" r="4.1"/>
<circle cx="1560.2" cy="568.3" r="4.1"/>
<circle cx="1560.4" cy="573.0" r="4.1"/>
<circle cx="1560.5" cy="574.5" r="4.1"/>
<circle cx="1560.5" cy="521.9" r="4.1"/>
<circle cx="1560.5" cy="540.9" r="4.1"/>
<circle cx="1560.7" cy="567.6" r="4.1"/>
<circle cx="1561.1" cy="560.7" r="4.1"/>
<circle cx="1561.1" cy="572.8" r="4.1"/>
<circle cx="1561.2" cy="574.6" r="4.1"/>
<circle cx="1561.3" cy="556.1" r="4.1"/>
<circle cx="1561.3" cy="548.9" r="4.1"/>
<circle cx="1561.4" cy="571.7" r="4.1"/>
<circle cx="1561.5" cy="571.6" r="4.1"/>
<circle cx="1561.5" cy="566.3" r="4.1"/>
<circle cx="1561.6" cy="573.7" r="4.1"/>
<circle cx="1561.7" cy="558.3" r="4.1"/>
<circle cx="1561.9" cy="572.5" r="4.1"/>
<circle cx="1562.0" cy="569.8" r="4.1"/>
<circle cx="1562.1" cy="542.6" r="4.1"/>
<circle cx="1562.2" cy="570.4" r="4.1"/>
<circle cx="1562.3" cy="531.7" r="4.1"/>
<circle cx="1562.4" cy="555.2" r="4.1"/>
<circle cx="1562.4" cy="525.9" r="4.1"/>
<circle cx="1562.5" cy="535.7" r="4.1"/>
<circle cx="1562.6" cy="529.6" r="4.1"/>
<circle cx="1562.7" cy="565.1" r="4.1"/>
<circle cx="1562.9" cy="574.0" r="4.1"/>
<circle cx="1562.9" cy="545.3" r="4.1"/>
<circle cx="1562.9" cy="571.4" r="4.1"/>
<circle cx="1563.1" cy="522.5" r="4.1"/>
<circle cx="1563.1" cy="572.7" r="4.1"/>
<circle cx="1563.2" cy="555.4" r="4.1"/>
<circle cx="1563.3" cy="565.1" r="4.1"/>
<circle cx="1563.4" cy="572.7" r="4.1"/>
<circle cx="1564.0" cy="560.8" r="4.1"/>
<circle cx="1564.0" cy="573.9" r="4.1"/>
<circle cx="1564.0" cy="547.6" r="4.1"/>
<circle cx="1564.2" cy="545.8" r="4.1"/>
<circle cx="1564.2" cy="551.0" r="4.1"/>
<circle cx="1564.4" cy="572.5" r="4.1"/>
<circle cx="1564.6" cy="553.3" r="4.1"/>
<circle cx="1564.7" cy="573.9" r="4.1"/>
<circle cx="1564.7" cy="570.7" r="4.1"/>
<circle cx="1564.7" cy="575.2" r="4.1"/>
<circle cx="1564.8" cy="569.4" r="4.1"/>
<circle cx="1564.9" cy="543.0" r="4.1"/>
<circle cx="1565.0" cy="551.5" r="4.1"/>
<circle cx="1565.3" cy="553.9" r="4.1"/>
<circle cx="1565.5" cy="562.9" r="4.1"/>
<circle cx="1565.7" cy="568.4" r="4.1"/>
<circle cx="1565.7" cy="568.3" r="4.1"/>
<circle cx="1565.9" cy="558.1" r="4.1"/>
<circle cx="1566.0" cy="575.5" r="4.1"/>
<circle cx="1566.1" cy="574.1" r="4.1"/>
<circle cx="1566.1" cy="572.3" r="4.1"/>
<circle cx="1566.1" cy="562.9" r="4.1"/>
<circle cx="1566.1" cy="572.9" r="4.1"/>
<circle cx="1566.1" cy="559.0" r="4.1"/>
<circle cx="1566.5" cy="561.8" r="4.1"/>
<circle cx="1566.6" cy="571.8" r="4.1"/>
<circle cx="1566.6" cy="549.6" r="4.1"/>
<circle cx="1566.9" cy="561.1" r="4.1"/>
<circle cx="1567.2" cy="565.7" r="4.1"/>
<circle cx="1567.2" cy="551.4" r="4.1"/>
<circle cx="1567.3" cy="571.8" r="4.1"/>
<circle cx="1567.3" cy="522.2" r="4.1"/>
<circle cx="1567.4" cy="570.4" r="4.1"/>
<circle cx="1567.5" cy="519.5" r="4.1"/>
<circle cx="1567.7" cy="559.6" r="4.1"/>
<circle cx="1567.7" cy="562.1" r="4.1"/>
<circle cx="1567.8" cy="563.2" r="4.1"/>
<circle cx="1567.9" cy="570.0" r="4.1"/>
<circle cx="1568.0" cy="559.0" r="4.1"/>
<circle cx="1568.1" cy="555.3" r="4.1"/>
<circle cx="1568.2" cy="573.7" r="4.1"/>
<circle cx="1568.2" cy="544.3" r="4.1"/>
<circle cx="1568.4" cy="567.1" r="4.1"/>
<circle cx="1568.4" cy="552.5" r="4.1"/>
<circle cx="1568.4" cy="519.0" r="4.1"/>
<circle cx="1568.5" cy="557.2" r="4.1"/>
<circle cx="1568.6" cy="545.4" r="4.1"/>
<circle cx="1568.7" cy="573.7" r="4.1"/>
<circle cx="1568.8" cy="563.2" r="4.1"/>
<circle cx="1568.8" cy="538.2" r="4.1"/>
<circle cx="1568.9" cy="525.0" r="4.1"/>
<circle cx="1568.9" cy="542.1" r="4.1"/>
<circle cx="1568.9" cy="564.5" r="4.1"/>
<circle cx="1569.2" cy="558.8" r="4.1"/>
<circle cx="1569.4" cy="557.7" r="4.1"/>
<circle cx="1569.5" cy="574.2" r="4.1"/>
<circle cx="1569.6" cy="547.6" r="4.1"/>
<circle cx="1569.8" cy="563.0" r="4.1"/>
<circle cx="1569.9" cy="534.5" r="4.1"/>
<circle cx="1569.9" cy="575.5" r="4.1"/>
<circle cx="1570.0" cy="574.5" r="4.1"/>
<circle cx="1570.0" cy="570.3" r="4.1"/>
<circle cx="1570.0" cy="575.0" r="4.1"/>
<circle cx="1570.1" cy="553.7" r="4.1"/>
<circle cx="1570.7" cy="544.8" r="4.1"/>
<circle cx="1570.9" cy="571.3" r="4.1"/>
<circle cx="1570.9" cy="549.0" r="4.1"/>
<circle cx="1571.0" cy="556.3" r="4.1"/>
<circle cx="1571.0" cy="565.9" r="4.1"/>
<circle cx="1571.1" cy="560.3" r="4.1"/>
<circle cx="1571.2" cy="575.0" r="4.1"/>
<circle cx="1571.4" cy="559.4" r="4.1"/>
<circle cx="1571.4" cy="568.2" r="4.1"/>
<circle cx="1571.5" cy="554.9" r="4.1"/>
<circle cx="1571.5" cy="569.0" r="4.1"/>
<circle cx="1571.8" cy="571.8" r="4.1"/>
<circle cx="1572.0" cy="566.8" r="4.1"/>
<circle cx="1572.0" cy="537.3" r="4.1"/>
<circle cx="1572.2" cy="534.7" r="4.1"/>
<circle cx="1572.3" cy="574.1" r="4.1"/>
<circle cx="1572.4" cy="550.6" r="4.1"/>
<circle cx="1572.5" cy="554.3" r="4.1"/>
<circle cx="1572.7" cy="548.4" r="4.1"/>
<circle cx="1572.7" cy="568.6" r="4.1"/>
<circle cx="1572.9" cy="549.9" r="4.1"/>
<circle cx="1572.9" cy="534.0" r="4.1"/>
<circle cx="1573.0" cy="559.1" r="4.1"/>
<circle cx="1573.0" cy="548.8" r="4.1"/>
<circle cx="1573.1" cy="571.4" r="4.1"/>
<circle cx="1573.2" cy="574.9" r="4.1"/>
<circle cx="1573.2" cy="565.6" r="4.1"/>
<circle cx="1573.5" cy="564.3" r="4.1"/>
<circle cx="1573.5" cy="573.3" r="4.1"/>
<circle cx="1573.7" cy="563.3" r="4.1"/>
<circle cx="1573.7" cy="572.8" r="4.1"/>
<circle cx="1573.8" cy="574.1" r="4.1"/>
<circle cx="1573.8" cy="566.8" r="4.1"/>
<circle cx="1573.8" cy="530.1" r="4.1"/>
<circle cx="1573.9" cy="556.4" r="4.1"/>
<circle cx="1574.2" cy="523.0" r="4.1"/>
<circle cx="1574.2" cy="570.8" r="4.1"/>
<circle cx="1574.2" cy="567.6" r="4.1"/>
<circle cx="1574.4" cy="575.3" r="4.1"/>
<circle cx="1574.5" cy="531.7" r="4.1"/>
<circle cx="1574.5" cy="565.9" r="4.1"/>
<circle cx="1574.5" cy="560.9" r="4.1"/>
<circle cx="1574.5" cy="532.6" r="4.1"/>
<circle cx="1574.6" cy="569.7" r="4.1"/>
<circle cx="1574.6" cy="572.3" r="4.1"/>
<circle cx="1574.8" cy="534.7" r="4.1"/>
<circle cx="1574.8" cy="557.3" r="4.1"/>
<circle cx="1574.9" cy="545.6" r="4.1"/>
<circle cx="1574.9" cy="535.9" r="4.1"/>
<circle cx="1575.0" cy="552.7" r="4.1"/>
<circle cx="1575.0" cy="568.6" r="4.1"/>
<circle cx="1575.0" cy="553.0" r="4.1"/>
<circle cx="1575.1" cy="571.6" r="4.1"/>
<circle cx="1575.2" cy="538.1" r="4.1"/>
<circle cx="1575.2" cy="564.3" r="4.1"/>
<circle cx="1575.3" cy="565.1" r="4.1"/>
<circle cx="1575.3" cy="563.7" r="4.1"/>
<circle cx="1575.4" cy="573.2" r="4.1"/>
<circle cx="1575.4" cy="556.5" r="4.1"/>
<circle cx="1575.5" cy="572.0" r="4.1"/>
<circle cx="1575.5" cy="547.8" r="4.1"/>
<circle cx="1575.5" cy="563.7" r="4.1"/>
<circle cx="1575.6" cy="575.2" r="4.1"/>
<circle cx="1576.2" cy="573.5" r="4.1"/>
<circle cx="1576.3" cy="561.9" r="4.1"/>
<circle cx="1576.4" cy="572.3" r="4.1"/>
<circle cx="1576.6" cy="564.2" r="4.1"/>
<circle cx="1576.7" cy="553.0" r="4.1"/>
<circle cx="1576.7" cy="575.5" r="4.1"/>
<circle cx="1576.8" cy="568.1" r="4.1"/>
<circle cx="1576.9" cy="553.6" r="4.1"/>
<circle cx="1576.9" cy="522.1" r="4.1"/>
<circle cx="1577.2" cy="572.4" r="4.1"/>
<circle cx="1577.2" cy="561.9" r="4.1"/>
<circle cx="1577.2" cy="560.2" r="4.1"/>
<circle cx="1577.2" cy="573.3" r="4.1"/>
<circle cx="1577.4" cy="555.7" r="4.1"/>
<circle cx="1577.5" cy="560.4" r="4.1"/>
<circle cx="1577.5" cy="569.2" r="4.1"/>
<circle cx="1577.6" cy="561.7" r="4.1"/>
<circle cx="1577.6" cy="559.8" r="4.1"/>
<circle cx="1577.6" cy="523.6" r="4.1"/>
<circle cx="1577.7" cy="570.5" r="4.1"/>
<circle cx="1577.7" cy="568.7" r="4.1"/>
<circle cx="1577.8" cy="570.1" r="4.1"/>
<circle cx="1578.0" cy="575.4" r="4.1"/>
<circle cx="1578.0" cy="565.5" r="4.1"/>
<circle cx="1578.0" cy="561.4" r="4.1"/>
<circle cx="1578.2" cy="572.0" r="4.1"/>
<circle cx="1578.2" cy="551.9" r="4.1"/>
<circle cx="1578.2" cy="569.8" r="4.1"/>
<circle cx="1578.3" cy="565.5" r="4.1"/>
<circle cx="1578.3" cy="538.1" r="4.1"/>
<circle cx="1578.5" cy="575.4" r="4.1"/>
<circle cx="1578.5" cy="560.8" r="4.1"/>
<circle cx="1578.5" cy="544.1" r="4.1"/>
<circle cx="1578.6" cy="562.3" r="4.1"/>
<circle cx="1579.0" cy="561.8" r="4.1"/>
<circle cx="1579.3" cy="566.8" r="4.1"/>
<circle cx="1579.3" cy="531.0" r="4.1"/>
<circle cx="1579.4" cy="568.2" r="4.1"/>
<circle cx="1579.4" cy="560.9" r="4.1"/>
<circle cx="1579.5" cy="563.1" r="4.1"/>
<circle cx="1579.7" cy="559.6" r="4.1"/>
<circle cx="1579.7" cy="554.3" r="4.1"/>
<circle cx="1579.7" cy="570.2" r="4.1"/>
<circle cx="1579.9" cy="548.1" r="4.1"/>
<circle cx="1579.9" cy="568.1" r="4.1"/>
<circle cx="1580.0" cy="574.7" r="4.1"/>
<circle cx="1580.0" cy="564.0" r="4.1"/>
<circle cx="1580.0" cy="565.0" r="4.1"/>
<circle cx="1580.0" cy="564.9" r="4.1"/>
<circle cx="1580.1" cy="550.2" r="4.1"/>
<circle cx="1580.1" cy="540.6" r="4.1"/>
<circle cx="1580.1" cy="566.0" r="4.1"/>
<circle cx="1580.2" cy="557.8" r="4.1"/>
<circle cx="1580.2" cy="575.2" r="4.1"/>
<circle cx="1580.2" cy="560.2" r="4.1"/>
<circle cx="1580.3" cy="566.7" r="4.1"/>
<circle cx="1580.4" cy="556.2" r="4.1"/>
<circle cx="1580.4" cy="570.9" r="4.1"/>
<circle cx="1580.5" cy="554.0" r="4.1"/>
<circle cx="1580.6" cy="523.4" r="4.1"/>
<circle cx="1580.6" cy="531.0" r="4.1"/>
<circle cx="1580.9" cy="567.3" r="4.1"/>
<circle cx="1581.0" cy="520.2" r="4.1"/>
<circle cx="1581.2" cy="562.9" r="4.1"/>
<circle cx="1581.3" cy="557.3" r="4.1"/>
<circle cx="1581.4" cy="566.1" r="4.1"/>
<circle cx="1581.4" cy="568.4" r="4.1"/>
<circle cx="1581.6" cy="544.3" r="4.1"/>
<circle cx="1581.8" cy="567.8" r="4.1"/>
<circle cx="1581.8" cy="568.0" r="4.1"/>
<circle cx="1582.0" cy="552.1" r="4.1"/>
<circle cx="1582.0" cy="565.9" r="4.1"/>
<circle cx="1582.1" cy="564.1" r="4.1"/>
<circle cx="1582.2" cy="575.5" r="4.1"/>
<circle cx="1582.2" cy="566.0" r="4.1"/>
<circle cx="1582.3" cy="538.3" r="4.1"/>
<circle cx="1582.4" cy="574.9" r="4.1"/>
<circle cx="1582.4" cy="555.7" r="4.1"/>
<circle cx="1582.8" cy="570.3" r="4.1"/>
<circle cx="1582.9" cy="572.8" r="4.1"/>
<circle cx="1583.0" cy="569.9" r="4.1"/>
<circle cx="1583.0" cy="569.9" r="4.1"/>
<circle cx="1583.1" cy="555.0" r="4.1"/>
<circle cx="1583.1" cy="528.7" r="4.1"/>
<circle cx="1583.2" cy="568.2" r="4.1"/>
<circle cx="1583.2" cy="560.2" r="4.1"/>
<circle cx="1583.2" cy="519.1" r="4.1"/>
<circle cx="1583.3" cy="570.6" r="4.1"/>
<circle cx="1583.4" cy="574.8" r="4.1"/>
<circle cx="1583.5" cy="534.8" r="4.1"/>
<circle cx="1583.6" cy="555.7" r="4.1"/>
<circle cx="1583.7" cy="562.2" r="4.1"/>
<circle cx="1583.9" cy="574.2" r="4.1"/>
<circle cx="1584.1" cy="573.4" r="4.1"/>
<circle cx="1584.3" cy="560.8" r="4.1"/>
<circle cx="1584.3" cy="574.8" r="4.1"/>
<circle cx="1584.5" cy="569.3" r="4.1"/>
<circle cx="1584.5" cy="575.3" r="4.1"/>
<circle cx="1584.6" cy="481.7" r="4.1"/>
<circle cx="1584.7" cy="575.3" r="4.1"/>
<circle cx="1584.7" cy="537.3" r="4.1"/>
<circle cx="1585.1" cy="557.3" r="4.1"/>
<circle cx="1585.4" cy="530.8" r="4.1"/>
<circle cx="1585.5" cy="555.7" r="4.1"/>
<circle cx="1585.5" cy="564.9" r="4.1"/>
<circle cx="1585.6" cy="571.5" r="4.1"/>
<circle cx="1585.6" cy="572.7" r="4.1"/>
<circle cx="1585.8" cy="575.2" r="4.1"/>
<circle cx="1585.9" cy="567.8" r="4.1"/>
<circle cx="1585.9" cy="553.4" r="4.1"/>
<circle cx="1585.9" cy="543.8" r="4.1"/>
<circle cx="1586.0" cy="569.9" r="4.1"/>
<circle cx="1586.0" cy="550.8" r="4.1"/>
<circle cx="1586.0" cy="526.6" r="4.1"/>
<circle cx="1586.1" cy="566.2" r="4.1"/>
<circle cx="1586.2" cy="573.6" r="4.1"/>
<circle cx="1586.3" cy="563.2" r="4.1"/>
<circle cx="1586.6" cy="542.9" r="4.1"/>
<circle cx="1586.7" cy="566.4" r="4.1"/>
<circle cx="1586.8" cy="574.0" r="4.1"/>
<circle cx="1586.9" cy="522.5" r="4.1"/>
<circle cx="1586.9" cy="570.0" r="4.1"/>
<circle cx="1586.9" cy="562.9" r="4.1"/>
<circle cx="1587.0" cy="564.5" r="4.1"/>
<circle cx="1587.1" cy="559.8" r="4.1"/>
<circle cx="1587.2" cy="554.6" r="4.1"/>
<circle cx="1587.3" cy="570.1" r="4.1"/>
<circle cx="1587.5" cy="569.7" r="4.1"/>
<circle cx="1587.6" cy="561.2" r="4.1"/>
<circle cx="1587.7" cy="567.4" r="4.1"/>
<circle cx="1587.9" cy="546.5" r="4.1"/>
<circle cx="1587.9" cy="568.6" r="4.1"/>
<circle cx="1588.0" cy="520.1" r="4.1"/>
<circle cx="1588.1" cy="556.4" r="4.1"/>
<circle cx="1588.3" cy="555.9" r="4.1"/>
<circle cx="1588.3" cy="561.2" r="4.1"/>
<circle cx="1588.5" cy="566.3" r="4.1"/>
<circle cx="1588.5" cy="560.1" r="4.1"/>
<circle cx="1588.6" cy="560.4" r="4.1"/>
<circle cx="1588.7" cy="548.0" r="4.1"/>
<circle cx="1588.7" cy="573.8" r="4.1"/>
<circle cx="1588.7" cy="555.8" r="4.1"/>
<circle cx="1589.2" cy="571.3" r="4.1"/>
<circle cx="1589.2" cy="570.3" r="4.1"/>
<circle cx="1589.5" cy="566.8" r="4.1"/>
<circle cx="1589.5" cy="558.7" r="4.1"/>
<circle cx="1589.6" cy="572.2" r="4.1"/>
<circle cx="1589.6" cy="574.6" r="4.1"/>
<circle cx="1589.7" cy="544.6" r="4.1"/>
<circle cx="1589.8" cy="568.2" r="4.1"/>
<circle cx="1589.9" cy="560.8" r="4.1"/>
<circle cx="1590.0" cy="567.7" r="4.1"/>
<circle cx="1590.1" cy="572.6" r="4.1"/>
<circle cx="1590.1" cy="571.0" r="4.1"/>
<circle cx="1590.3" cy="574.9" r="4.1"/>
<circle cx="1590.5" cy="564.8" r="4.1"/>
<circle cx="1590.5" cy="565.8" r="4.1"/>
<circle cx="1590.7" cy="565.6" r="4.1"/>
<circle cx="1591.0" cy="568.5" r="4.1"/>
<circle cx="1591.3" cy="573.9" r="4.1"/>
<circle cx="1591.3" cy="572.7" r="4.1"/>
<circle cx="1591.7" cy="561.1" r="4.1"/>
<circle cx="1591.8" cy="557.4" r="4.1"/>
<circle cx="1591.9" cy="568.0" r="4.1"/>
<circle cx="1591.9" cy="539.0" r="4.1"/>
<circle cx="1592.2" cy="574.9" r="4.1"/>
<circle cx="1592.3" cy="529.0" r="4.1"/>
<circle cx="1592.5" cy="565.8" r="4.1"/>
<circle cx="1592.5" cy="572.2" r="4.1"/>
<circle cx="1592.5" cy="571.3" r="4.1"/>
<circle cx="1592.6" cy="548.3" r="4.1"/>
<circle cx="1592.7" cy="551.1" r="4.1"/>
<circle cx="1592.8" cy="566.5" r="4.1"/>
<circle cx="1592.8" cy="568.9" r="4.1"/>
<circle cx="1592.9" cy="550.0" r="4.1"/>
<circle cx="1592.9" cy="556.8" r="4.1"/>
<circle cx="1593.1" cy="573.9" r="4.1"/>
<circle cx="1593.2" cy="563.0" r="4.1"/>
<circle cx="1593.3" cy="550.5" r="4.1"/>
<circle cx="1593.4" cy="566.9" r="4.1"/>
<circle cx="1593.7" cy="550.9" r="4.1"/>
<circle cx="1593.8" cy="566.9" r="4.1"/>
<circle cx="1594.0" cy="563.2" r="4.1"/>
<circle cx="1594.0" cy="530.6" r="4.1"/>
<circle cx="1594.3" cy="570.0" r="4.1"/>
<circle cx="1594.3" cy="563.9" r="4.1"/>
<circle cx="1594.3" cy="575.3" r="4.1"/>
<circle cx="1594.4" cy="563.2" r="4.1"/>
<circle cx="1594.5" cy="547.4" r="4.1"/>
<circle cx="1594.5" cy="565.0" r="4.1"/>
<circle cx="1594.6" cy="561.4" r="4.1"/>
<circle cx="1594.8" cy="525.4" r="4.1"/>
<circle cx="1595.2" cy="566.6" r="4.1"/>
<circle cx="1595.2" cy="555.1" r="4.1"/>
<circle cx="1595.3" cy="541.1" r="4.1"/>
<circle cx="1595.6" cy="564.8" r="4.1"/>
<circle cx="1595.6" cy="575.4" r="4.1"/>
<circle cx="1595.8" cy="561.5" r="4.1"/>
<circle cx="1596.0" cy="556.0" r="4.1"/>
<circle cx="1596.1" cy="543.6" r="4.1"/>
<circle cx="1596.1" cy="520.2" r="4.1"/>
<circle cx="1596.2" cy="564.0" r="4.1"/>
<circle cx="1596.3" cy="519.9" r="4.1"/>
<circle cx="1596.4" cy="563.8" r="4.1"/>
<circle cx="1596.9" cy="548.0" r="4.1"/>
<circle cx="1597.1" cy="568.8" r="4.1"/>
<circle cx="1597.1" cy="567.0" r="4.1"/>
<circle cx="1597.2" cy="571.6" r="4.1"/>
<circle cx="1597.3" cy="554.4" r="4.1"/>
<circle cx="1597.3" cy="565.1" r="4.1"/>
<circle cx="1597.6" cy="563.4" r="4.1"/>
<circle cx="1597.7" cy="472.2" r="4.1"/>
<circle cx="1597.9" cy="509.8" r="4.1"/>
<circle cx="1598.0" cy="555.1" r="4.1"/>
<circle cx="1598.1" cy="561.1" r="4.1"/>
<circle cx="1598.1" cy="562.1" r="4.1"/>
<circle cx="1598.3" cy="523.1" r="4.1"/>
<circle cx="1598.3" cy="566.7" r="4.1"/>
<circle cx="1598.4" cy="524.2" r="4.1"/>
<circle cx="1598.5" cy="574.3" r="4.1"/>
<circle cx="1598.5" cy="574.8" r="4.1"/>
<circle cx="1598.6" cy="540.6" r="4.1"/>
<circle cx="1598.7" cy="570.1" r="4.1"/>
<circle cx="1598.7" cy="555.6" r="4.1"/>
<circle cx="1598.7" cy="571.4" r="4.1"/>
<circle cx="1598.8" cy="572.4" r="4.1"/>
<circle cx="1599.0" cy="562.6" r="4.1"/>
<circle cx="1599.0" cy="562.8" r="4.1"/>
<circle cx="1599.0" cy="573.1" r="4.1"/>
<circle cx="1599.3" cy="569.7" r="4.1"/>
<circle cx="1599.5" cy="574.3" r="4.1"/>
<circle cx="1599.6" cy="567.9" r="4.1"/>
<circle cx="1599.6" cy="566.1" r="4.1"/>
<circle cx="1599.8" cy="560.6" r="4.1"/>
<circle cx="1600.3" cy="542.9" r="4.1"/>
<circle cx="1600.4" cy="537.1" r="4.1"/>
<circle cx="1600.4" cy="568.1" r="4.1"/>
<circle cx="1600.4" cy="552.0" r="4.1"/>
<circle cx="1600.5" cy="573.8" r="4.1"/>
<circle cx="1600.6" cy="550.2" r="4.1"/>
<circle cx="1601.0" cy="572.9" r="4.1"/>
<circle cx="1601.1" cy="551.9" r="4.1"/>
<circle cx="1601.2" cy="563.6" r="4.1"/>
<circle cx="1601.2" cy="570.8" r="4.1"/>
<circle cx="1601.3" cy="566.0" r="4.1"/>
<circle cx="1601.3" cy="547.2" r="4.1"/>
<circle cx="1601.3" cy="538.3" r="4.1"/>
<circle cx="1601.4" cy="573.9" r="4.1"/>
<circle cx="1601.9" cy="573.9" r="4.1"/>
<circle cx="1602.1" cy="559.1" r="4.1"/>
<circle cx="1602.1" cy="533.0" r="4.1"/>
<circle cx="1602.4" cy="554.1" r="4.1"/>
<circle cx="1602.4" cy="557.4" r="4.1"/>
<circle cx="1602.5" cy="574.2" r="4.1"/>
<circle cx="1602.5" cy="561.4" r="4.1"/>
<circle cx="1602.5" cy="561.0" r="4.1"/>
<circle cx="1602.8" cy="572.6" r="4.1"/>
<circle cx="1602.9" cy="519.8" r="4.1"/>
<circle cx="1603.0" cy="524.5" r="4.1"/>
<circle cx="1603.0" cy="537.6" r="4.1"/>
<circle cx="1603.2" cy="565.2" r="4.1"/>
<circle cx="1603.2" cy="563.2" r="4.1"/>
<circle cx="1603.4" cy="558.5" r="4.1"/>
<circle cx="1603.4" cy="574.5" r="4.1"/>
<circle cx="1603.5" cy="569.7" r="4.1"/>
<circle cx="1603.6" cy="532.1" r="4.1"/>
<circle cx="1603.7" cy="572.8" r="4.1"/>
<circle cx="1603.8" cy="561.4" r="4.1"/>
<circle cx="1603.9" cy="524.5" r="4.1"/>
<circle cx="1603.9" cy="559.9" r="4.1"/>
<circle cx="1603.9" cy="558.7" r="4.1"/>
<circle cx="1604.0" cy="558.1" r="4.1"/>
<circle cx="1604.0" cy="551.5" r="4.1"/>
<circle cx="1604.2" cy="546.7" r="4.1"/>
<circle cx="1604.3" cy="571.9" r="4.1"/>
<circle cx="1604.3" cy="570.6" r="4.1"/>
<circle cx="1604.6" cy="548.8" r="4.1"/>
<circle cx="1604.7" cy="571.6" r="4.1"/>
<circle cx="1604.8" cy="529.5" r="4.1"/>
<circle cx="1604.9" cy="543.1" r="4.1"/>
<circle cx="1605.0" cy="522.4" r="4.1"/>
<circle cx="1605.1" cy="575.0" r="4.1"/>
<circle cx="1605.2" cy="573.6" r="4.1"/>
<circle cx="1605.3" cy="557.0" r="4.1"/>
<circle cx="1605.3" cy="519.0" r="4.1"/>
<circle cx="1605.3" cy="562.0" r="4.1"/>
<circle cx="1605.4" cy="547.1" r="4.1"/>
<circle cx="1605.7" cy="525.0" r="4.1"/>
<circle cx="1605.8" cy="551.9" r="4.1"/>
<circle cx="1605.9" cy="542.8" r="4.1"/>
<circle cx="1606.0" cy="548.8" r="4.1"/>
<circle cx="1606.0" cy="574.3" r="4.1"/>
<circle cx="1606.1" cy="562.7" r="4.1"/>
<circle cx="1606.2" cy="556.4" r="4.1"/>
<circle cx="1606.3" cy="572.7" r="4.1"/>
<circle cx="1606.6" cy="556.9" r="4.1"/>
<circle cx="1606.7" cy="573.2" r="4.1"/>
<circle cx="1607.0" cy="556.9" r="4.1"/>
<circle cx="1607.1" cy="568.0" r="4.1"/>
<circle cx="1607.2" cy="560.7" r="4.1"/>
<circle cx="1607.2" cy="535.0" r="4.1"/>
<circle cx="1607.4" cy="571.2" r="4.1"/>
<circle cx="1607.5" cy="574.9" r="4.1"/>
<circle cx="1607.6" cy="504.0" r="4.1"/>
<circle cx="1607.6" cy="562.4" r="4.1"/>
<circle cx="1607.6" cy="538.5" r="4.1"/>
<circle cx="1608.1" cy="541.7" r="4.1"/>
<circle cx="1608.6" cy="560.2" r="4.1"/>
<circle cx="1608.7" cy="550.7" r="4.1"/>
<circle cx="1608.7" cy="574.9" r="4.1"/>
<circle cx="1608.8" cy="564.5" r="4.1"/>
<circle cx="1608.9" cy="545.3" r="4.1"/>
<circle cx="1609.1" cy="572.3" r="4.1"/>
<circle cx="1609.2" cy="556.2" r="4.1"/>
<circle cx="1609.9" cy="570.3" r="4.1"/>
<circle cx="1609.9" cy="560.1" r="4.1"/>
<circle cx="1609.9" cy="562.2" r="4.1"/>
<circle cx="1610.0" cy="562.8" r="4.1"/>
<circle cx="1610.2" cy="557.4" r="4.1"/>
<circle cx="1610.2" cy="554.4" r="4.1"/>
<circle cx="1610.2" cy="531.5" r="4.1"/>
<circle cx="1610.6" cy="570.9" r="4.1"/>
<circle cx="1610.6" cy="573.3" r="4.1"/>
<circle cx="1610.7" cy="575.3" r="4.1"/>
<circle cx="1610.8" cy="544.1" r="4.1"/>
<circle cx="1610.8" cy="550.6" r="4.1"/>
<circle cx="1611.0" cy="565.4" r="4.1"/>
<circle cx="1611.1" cy="546.9" r="4.1"/>
<circle cx="1611.3" cy="532.6" r="4.1"/>
<circle cx="1611.3" cy="561.2" r="4.1"/>
<circle cx="1611.4" cy="559.9" r="4.1"/>
<circle cx="1611.5" cy="570.7" r="4.1"/>
<circle cx="1611.6" cy="543.7" r="4.1"/>
<circle cx="1611.6" cy="543.4" r="4.1"/>
<circle cx="1611.8" cy="561.7" r="4.1"/>
<circle cx="1612.1" cy="564.7" r="4.1"/>
<circle cx="1612.1" cy="569.0" r="4.1"/>
<circle cx="1612.2" cy="545.0" r="4.1"/>
<circle cx="1612.2" cy="525.9" r="4.1"/>
<circle cx="1612.2" cy="559.1" r="4.1"/>
<circle cx="1612.3" cy="574.3" r="4.1"/>
<circle cx="1612.7" cy="544.3" r="4.1"/>
<circle cx="1612.8" cy="519.3" r="4.1"/>
<circle cx="1612.8" cy="572.7" r="4.1"/>
<circle cx="1612.8" cy="567.1" r="4.1"/>
<circle cx="1613.1" cy="567.8" r="4.1"/>
<circle cx="1613.3" cy="530.2" r="4.1"/>
<circle cx="1613.4" cy="556.3" r="4.1"/>
<circle cx="1613.4" cy="568.1" r="4.1"/>
<circle cx="1613.5" cy="570.4" r="4.1"/>
<circle cx="1613.5" cy="565.7" r="4.1"/>
<circle cx="1613.6" cy="571.8" r="4.1"/>
<circle cx="1613.7" cy="561.6" r="4.1"/>
<circle cx="1613.8" cy="565.4" r="4.1"/>
<circle cx="1613.8" cy="532.3" r="4.1"/>
<circle cx="1614.0" cy="560.3" r="4.1"/>
<circle cx="1614.1" cy="567.2" r="4.1"/>
<circle cx="1614.1" cy="556.3" r="4.1"/>
<circle cx="1614.2" cy="554.9" r="4.1"/>
<circle cx="1614.3" cy="571.7" r="4.1"/>
<circle cx="1614.4" cy="568.6" r="4.1"/>
<circle cx="1614.5" cy="517.9" r="4.1"/>
<circle cx="1614.5" cy="565.0" r="4.1"/>
<circle cx="1614.7" cy="566.5" r="4.1"/>
<circle cx="1615.0" cy="539.1" r="4.1"/>
<circle cx="1615.0" cy="562.6" r="4.1"/>
<circle cx="1615.1" cy="557.3" r="4.1"/>
<circle cx="1615.2" cy="536.1" r="4.1"/>
<circle cx="1615.2" cy="559.0" r="4.1"/>
<circle cx="1615.2" cy="558.7" r="4.1"/>
<circle cx="1615.3" cy="572.2" r="4.1"/>
<circle cx="1615.5" cy="573.4" r="4.1"/>
<circle cx="1615.5" cy="573.9" r="4.1"/>
<circle cx="1615.5" cy="567.1" r="4.1"/>
<circle cx="1615.6" cy="573.8" r="4.1"/>
<circle cx="1615.9" cy="570.5" r="4.1"/>
<circle cx="1616.0" cy="563.2" r="4.1"/>
<circle cx="1616.1" cy="575.5" r="4.1"/>
<circle cx="1616.2" cy="572.1" r="4.1"/>
<circle cx="1616.2" cy="546.9" r="4.1"/>
<circle cx="1616.2" cy="534.2" r="4.1"/>
<circle cx="1616.2" cy="534.2" r="4.1"/>
<circle cx="1616.3" cy="569.8" r="4.1"/>
<circle cx="1616.3" cy="573.5" r="4.1"/>
<circle cx="1616.5" cy="572.4" r="4.1"/>
<circle cx="1616.5" cy="537.4" r="4.1"/>
<circle cx="1617.0" cy="570.6" r="4.1"/>
<circle cx="1617.1" cy="570.8" r="4.1"/>
<circle cx="1617.3" cy="567.5" r="4.1"/>
<circle cx="1617.4" cy="560.5" r="4.1"/>
<circle cx="1617.5" cy="552.5" r="4.1"/>
<circle cx="1617.6" cy="569.1" r="4.1"/>
<circle cx="1617.8" cy="554.8" r="4.1"/>
<circle cx="1617.8" cy="572.5" r="4.1"/>
<circle cx="1617.9" cy="568.6" r="4.1"/>
<circle cx="1617.9" cy="562.7" r="4.1"/>
<circle cx="1618.1" cy="558.4" r="4.1"/>
<circle cx="1618.2" cy="566.7" r="4.1"/>
<circle cx="1618.3" cy="559.1" r="4.1"/>
<circle cx="1618.4" cy="537.0" r="4.1"/>
<circle cx="1618.5" cy="571.4" r="4.1"/>
<circle cx="1618.6" cy="525.9" r="4.1"/>
<circle cx="1618.7" cy="571.5" r="4.1"/>
<circle cx="1618.7" cy="569.3" r="4.1"/>
<circle cx="1618.8" cy="565.9" r="4.1"/>
<circle cx="1618.8" cy="572.1" r="4.1"/>
<circle cx="1619.0" cy="561.9" r="4.1"/>
<circle cx="1619.1" cy="546.7" r="4.1"/>
<circle cx="1619.1" cy="572.8" r="4.1"/>
<circle cx="1619.1" cy="552.8" r="4.1"/>
<circle cx="1619.1" cy="508.6" r="4.1"/>
<circle cx="1619.2" cy="564.7" r="4.1"/>
<circle cx="1619.3" cy="570.3" r="4.1"/>
<circle cx="1619.4" cy="564.8" r="4.1"/>
<circle cx="1619.5" cy="565.9" r="4.1"/>
<circle cx="1619.8" cy="520.6" r="4.1"/>
<circle cx="1620.0" cy="560.5" r="4.1"/>
<circle cx="1620.0" cy="544.5" r="4.1"/>
<circle cx="1620.2" cy="559.7" r="4.1"/>
<circle cx="1620.2" cy="551.9" r="4.1"/>
<circle cx="1620.2" cy="562.8" r="4.1"/>
<circle cx="1620.4" cy="544.1" r="4.1"/>
<circle cx="1620.4" cy="568.4" r="4.1"/>
<circle cx="1620.5" cy="547.7" r="4.1"/>
<circle cx="1620.5" cy="571.3" r="4.1"/>
<circle cx="1620.9" cy="575.4" r="4.1"/>
<circle cx="1621.1" cy="561.4" r="4.1"/>
<circle cx="1621.2" cy="572.7" r="4.1"/>
<circle cx="1621.3" cy="526.9" r="4.1"/>
<circle cx="1621.4" cy="521.3" r="4.1"/>
<circle cx="1621.4" cy="523.6" r="4.1"/>
<circle cx="1621.4" cy="549.8" r="4.1"/>
<circle cx="1621.6" cy="572.0" r="4.1"/>
<circle cx="1621.8" cy="562.8" r="4.1"/>
<circle cx="1621.9" cy="570.5" r="4.1"/>
<circle cx="1621.9" cy="528.8" r="4.1"/>
<circle cx="1621.9" cy="563.6" r="4.1"/>
<circle cx="1622.0" cy="538.7" r="4.1"/>
<circle cx="1622.0" cy="536.0" r="4.1"/>
<circle cx="1622.0" cy="573.9" r="4.1"/>
<circle cx="1622.0" cy="552.7" r="4.1"/>
<circle cx="1622.1" cy="559.5" r="4.1"/>
<circle cx="1622.2" cy="543.9" r="4.1"/>
<circle cx="1622.2" cy="533.2" r="4.1"/>
<circle cx="1622.3" cy="570.7" r="4.1"/>
<circle cx="1622.3" cy="552.0" r="4.1"/>
<circle cx="1622.4" cy="564.5" r="4.1"/>
<circle cx="1622.5" cy="540.6" r="4.1"/>
<circle cx="1622.9" cy="573.7" r="4.1"/>
<circle cx="1622.9" cy="573.7" r="4.1"/>
<circle cx="1623.1" cy="529.6" r="4.1"/>
<circle cx="1623.1" cy="546.8" r="4.1"/>
<circle cx="1623.1" cy="574.7" r="4.1"/>
<circle cx="1623.3" cy="544.5" r="4.1"/>
<circle cx="1623.6" cy="570.5" r="4.1"/>
<circle cx="1623.7" cy="497.1" r="4.1"/>
<circle cx="1623.8" cy="526.6" r="4.1"/>
<circle cx="1623.8" cy="529.5" r="4.1"/>
<circle cx="1623.8" cy="563.6" r="4.1"/>
<circle cx="1623.9" cy="545.0" r="4.1"/>
<circle cx="1624.2" cy="540.8" r="4.1"/>
<circle cx="1624.3" cy="527.8" r="4.1"/>
<circle cx="1624.4" cy="520.0" r="4.1"/>
<circle cx="1624.8" cy="574.7" r="4.1"/>
<circle cx="1624.9" cy="509.7" r="4.1"/>
<circle cx="1625.2" cy="566.6" r="4.1"/>
<circle cx="1625.2" cy="519.2" r="4.1"/>
<circle cx="1625.2" cy="517.1" r="4.1"/>
<circle cx="1625.6" cy="558.8" r="4.1"/>
<circle cx="1625.7" cy="533.0" r="4.1"/>
<circle cx="1625.7" cy="568.3" r="4.1"/>
<circle cx="1625.8" cy="555.9" r="4.1"/>
<circle cx="1625.9" cy="558.4" r="4.1"/>
<circle cx="1626.0" cy="564.8" r="4.1"/>
<circle cx="1626.0" cy="490.2" r="4.1"/>
<circle cx="1626.1" cy="561.3" r="4.1"/>
<circle cx="1626.3" cy="554.6" r="4.1"/>
<circle cx="1626.4" cy="523.5" r="4.1"/>
<circle cx="1626.4" cy="559.8" r="4.1"/>
<circle cx="1626.4" cy="563.0" r="4.1"/>
<circle cx="1626.6" cy="547.5" r="4.1"/>
<circle cx="1626.9" cy="573.3" r="4.1"/>
<circle cx="1627.0" cy="537.2" r="4.1"/>
<circle cx="1627.2" cy="502.9" r="4.1"/>
<circle cx="1627.2" cy="572.2" r="4.1"/>
<circle cx="1627.2" cy="570.4" r="4.1"/>
<circle cx="1627.2" cy="570.7" r="4.1"/>
<circle cx="1627.4" cy="570.7" r="4.1"/>
<circle cx="1628.0" cy="551.0" r="4.1"/>
<circle cx="1628.1" cy="566.7" r="4.1"/>
<circle cx="1628.2" cy="552.0" r="4.1"/>
<circle cx="1628.3" cy="571.5" r="4.1"/>
<circle cx="1628.3" cy="561.8" r="4.1"/>
<circle cx="1628.4" cy="571.3" r="4.1"/>
<circle cx="1628.5" cy="524.2" r="4.1"/>
<circle cx="1628.7" cy="527.3" r="4.1"/>
<circle cx="1628.9" cy="565.3" r="4.1"/>
<circle cx="1629.1" cy="553.1" r="4.1"/>
<circle cx="1629.4" cy="574.0" r="4.1"/>
<circle cx="1629.5" cy="493.7" r="4.1"/>
<circle cx="1629.5" cy="509.8" r="4.1"/>
<circle cx="1629.5" cy="547.5" r="4.1"/>
<circle cx="1629.8" cy="532.3" r="4.1"/>
<circle cx="1629.8" cy="557.9" r="4.1"/>
<circle cx="1629.8" cy="563.6" r="4.1"/>
<circle cx="1629.8" cy="553.6" r="4.1"/>
<circle cx="1630.0" cy="555.4" r="4.1"/>
<circle cx="1630.1" cy="571.5" r="4.1"/>
<circle cx="1630.1" cy="572.9" r="4.1"/>
<circle cx="1630.2" cy="503.7" r="4.1"/>
<circle cx="1630.3" cy="564.5" r="4.1"/>
<circle cx="1630.3" cy="558.6" r="4.1"/>
<circle cx="1630.4" cy="566.1" r="4.1"/>
<circle cx="1630.4" cy="565.3" r="4.1"/>
<circle cx="1630.5" cy="568.9" r="4.1"/>
<circle cx="1630.7" cy="563.6" r="4.1"/>
<circle cx="1630.9" cy="542.6" r="4.1"/>
<circle cx="1631.1" cy="455.7" r="4.1"/>
<circle cx="1631.2" cy="527.9" r="4.1"/>
<circle cx="1631.3" cy="497.1" r="4.1"/>
<circle cx="1631.3" cy="555.7" r="4.1"/>
<circle cx="1631.3" cy="488.9" r="4.1"/>
<circle cx="1631.5" cy="565.6" r="4.1"/>
<circle cx="1631.8" cy="417.2" r="4.1"/>
<circle cx="1631.8" cy="498.3" r="4.1"/>
<circle cx="1631.8" cy="568.3" r="4.1"/>
<circle cx="1631.9" cy="471.8" r="4.1"/>
<circle cx="1631.9" cy="546.4" r="4.1"/>
<circle cx="1632.2" cy="518.3" r="4.1"/>
<circle cx="1632.3" cy="571.1" r="4.1"/>
<circle cx="1632.4" cy="550.2" r="4.1"/>
<circle cx="1632.4" cy="521.9" r="4.1"/>
<circle cx="1632.5" cy="552.1" r="4.1"/>
<circle cx="1632.9" cy="569.1" r="4.1"/>
<circle cx="1632.9" cy="524.3" r="4.1"/>
<circle cx="1632.9" cy="552.5" r="4.1"/>
<circle cx="1633.3" cy="567.8" r="4.1"/>
<circle cx="1633.3" cy="571.8" r="4.1"/>
<circle cx="1633.4" cy="566.8" r="4.1"/>
<circle cx="1633.5" cy="550.1" r="4.1"/>
<circle cx="1633.5" cy="491.2" r="4.1"/>
<circle cx="1633.5" cy="569.8" r="4.1"/>
<circle cx="1633.8" cy="561.0" r="4.1"/>
<circle cx="1633.8" cy="530.2" r="4.1"/>
<circle cx="1634.1" cy="505.2" r="4.1"/>
<circle cx="1634.1" cy="571.0" r="4.1"/>
<circle cx="1634.4" cy="571.5" r="4.1"/>
<circle cx="1634.4" cy="499.8" r="4.1"/>
<circle cx="1634.4" cy="514.4" r="4.1"/>
<circle cx="1634.4" cy="545.7" r="4.1"/>
<circle cx="1634.6" cy="540.0" r="4.1"/>
<circle cx="1634.6" cy="552.5" r="4.1"/>
<circle cx="1634.7" cy="489.4" r="4.1"/>
<circle cx="1634.8" cy="546.3" r="4.1"/>
<circle cx="1634.9" cy="498.6" r="4.1"/>
<circle cx="1635.0" cy="527.7" r="4.1"/>
<circle cx="1635.0" cy="554.1" r="4.1"/>
<circle cx="1635.1" cy="557.9" r="4.1"/>
<circle cx="1635.1" cy="552.8" r="4.1"/>
<circle cx="1635.1" cy="570.4" r="4.1"/>
<circle cx="1635.2" cy="515.5" r="4.1"/>
<circle cx="1635.4" cy="551.1" r="4.1"/>
<circle cx="1635.7" cy="569.2" r="4.1"/>
<circle cx="1635.8" cy="560.4" r="4.1"/>
<circle cx="1635.9" cy="560.9" r="4.1"/>
<circle cx="1636.2" cy="557.8" r="4.1"/>
<circle cx="1636.2" cy="539.9" r="4.1"/>
<circle cx="1636.4" cy="527.8" r="4.1"/>
<circle cx="1636.6" cy="526.2" r="4.1"/>
<circle cx="1636.7" cy="575.1" r="4.1"/>
<circle cx="1636.9" cy="574.2" r="4.1"/>
<circle cx="1636.9" cy="538.5" r="4.1"/>
<circle cx="1636.9" cy="574.2" r="4.1"/>
<circle cx="1637.0" cy="565.9" r="4.1"/>
<circle cx="1637.0" cy="564.8" r="4.1"/>
<circle cx="1637.2" cy="556.4" r="4.1"/>
<circle cx="1637.4" cy="557.5" r="4.1"/>
<circle cx="1637.4" cy="575.2" r="4.1"/>
<circle cx="1637.8" cy="539.8" r="4.1"/>
<circle cx="1637.9" cy="568.9" r="4.1"/>
<circle cx="1637.9" cy="565.8" r="4.1"/>
<circle cx="1638.1" cy="509.7" r="4.1"/>
<circle cx="1638.3" cy="529.4" r="4.1"/>
<circle cx="1638.3" cy="556.8" r="4.1"/>
<circle cx="1638.5" cy="571.9" r="4.1"/>
<circle cx="1638.6" cy="562.6" r="4.1"/>
<circle cx="1638.7" cy="531.6" r="4.1"/>
<circle cx="1639.0" cy="571.1" r="4.1"/>
<circle cx="1639.2" cy="573.2" r="4.1"/>
<circle cx="1639.4" cy="551.2" r="4.1"/>
<circle cx="1639.5" cy="552.1" r="4.1"/>
<circle cx="1639.5" cy="571.6" r="4.1"/>
<circle cx="1639.6" cy="565.6" r="4.1"/>
<circle cx="1639.7" cy="572.8" r="4.1"/>
<circle cx="1639.8" cy="560.5" r="4.1"/>
<circle cx="1639.9" cy="572.3" r="4.1"/>
<circle cx="1640.1" cy="555.0" r="4.1"/>
<circle cx="1640.2" cy="552.3" r="4.1"/>
<circle cx="1640.4" cy="524.3" r="4.1"/>
<circle cx="1640.5" cy="567.6" r="4.1"/>
<circle cx="1640.5" cy="561.8" r="4.1"/>
<circle cx="1640.6" cy="552.7" r="4.1"/>
<circle cx="1640.7" cy="531.9" r="4.1"/>
<circle cx="1640.8" cy="571.3" r="4.1"/>
<circle cx="1640.8" cy="518.3" r="4.1"/>
<circle cx="1640.8" cy="554.4" r="4.1"/>
<circle cx="1640.9" cy="556.7" r="4.1"/>
<circle cx="1641.1" cy="565.9" r="4.1"/>
<circle cx="1641.2" cy="561.4" r="4.1"/>
<circle cx="1641.2" cy="568.0" r="4.1"/>
<circle cx="1641.3" cy="488.8" r="4.1"/>
<circle cx="1641.6" cy="569.5" r="4.1"/>
<circle cx="1641.6" cy="569.8" r="4.1"/>
<circle cx="1641.7" cy="530.0" r="4.1"/>
<circle cx="1641.9" cy="575.5" r="4.1"/>
<circle cx="1642.0" cy="524.7" r="4.1"/>
<circle cx="1642.1" cy="564.1" r="4.1"/>
<circle cx="1642.1" cy="523.6" r="4.1"/>
<circle cx="1642.2" cy="569.6" r="4.1"/>
<circle cx="1642.2" cy="548.0" r="4.1"/>
<circle cx="1642.3" cy="544.4" r="4.1"/>
<circle cx="1642.5" cy="491.6" r="4.1"/>
<circle cx="1642.5" cy="572.1" r="4.1"/>
<circle cx="1642.7" cy="572.5" r="4.1"/>
<circle cx="1642.8" cy="541.5" r="4.1"/>
<circle cx="1642.8" cy="542.3" r="4.1"/>
<circle cx="1642.9" cy="571.5" r="4.1"/>
<circle cx="1643.0" cy="517.0" r="4.1"/>
<circle cx="1643.3" cy="571.3" r="4.1"/>
<circle cx="1643.3" cy="546.8" r="4.1"/>
<circle cx="1643.5" cy="572.8" r="4.1"/>
<circle cx="1643.6" cy="557.3" r="4.1"/>
<circle cx="1643.7" cy="530.9" r="4.1"/>
<circle cx="1643.9" cy="562.4" r="4.1"/>
<circle cx="1644.2" cy="565.2" r="4.1"/>
<circle cx="1644.2" cy="558.4" r="4.1"/>
<circle cx="1644.3" cy="571.1" r="4.1"/>
<circle cx="1644.3" cy="548.1" r="4.1"/>
<circle cx="1644.4" cy="514.4" r="4.1"/>
<circle cx="1644.6" cy="531.4" r="4.1"/>
<circle cx="1644.8" cy="569.4" r="4.1"/>
<circle cx="1644.8" cy="552.9" r="4.1"/>
<circle cx="1645.0" cy="565.3" r="4.1"/>
<circle cx="1645.1" cy="559.1" r="4.1"/>
<circle cx="1645.4" cy="567.0" r="4.1"/>
<circle cx="1645.6" cy="554.9" r="4.1"/>
<circle cx="1645.6" cy="571.9" r="4.1"/>
<circle cx="1645.7" cy="504.9" r="4.1"/>
<circle cx="1645.7" cy="557.6" r="4.1"/>
<circle cx="1645.9" cy="535.8" r="4.1"/>
<circle cx="1646.1" cy="571.7" r="4.1"/>
<circle cx="1646.1" cy="564.0" r="4.1"/>
<circle cx="1646.2" cy="568.1" r="4.1"/>
<circle cx="1646.3" cy="547.3" r="4.1"/>
<circle cx="1646.6" cy="570.9" r="4.1"/>
<circle cx="1646.7" cy="558.9" r="4.1"/>
<circle cx="1646.8" cy="558.8" r="4.1"/>
<circle cx="1647.3" cy="545.6" r="4.1"/>
<circle cx="1647.3" cy="564.1" r="4.1"/>
<circle cx="1647.6" cy="570.7" r="4.1"/>
<circle cx="1647.7" cy="562.4" r="4.1"/>
<circle cx="1647.8" cy="571.1" r="4.1"/>
<circle cx="1647.8" cy="519.8" r="4.1"/>
<circle cx="1647.8" cy="564.7" r="4.1"/>
<circle cx="1647.9" cy="575.2" r="4.1"/>
<circle cx="1648.0" cy="575.1" r="4.1"/>
<circle cx="1648.0" cy="518.9" r="4.1"/>
<circle cx="1648.2" cy="534.7" r="4.1"/>
<circle cx="1648.4" cy="549.8" r="4.1"/>
<circle cx="1648.5" cy="544.7" r="4.1"/>
<circle cx="1648.6" cy="574.2" r="4.1"/>
<circle cx="1648.8" cy="565.9" r="4.1"/>
<circle cx="1648.9" cy="569.7" r="4.1"/>
<circle cx="1649.0" cy="553.1" r="4.1"/>
<circle cx="1649.1" cy="568.7" r="4.1"/>
<circle cx="1649.2" cy="572.3" r="4.1"/>
<circle cx="1649.3" cy="561.5" r="4.1"/>
<circle cx="1649.3" cy="542.2" r="4.1"/>
<circle cx="1649.4" cy="532.9" r="4.1"/>
<circle cx="1649.4" cy="573.8" r="4.1"/>
<circle cx="1649.6" cy="550.7" r="4.1"/>
<circle cx="1649.6" cy="557.3" r="4.1"/>
<circle cx="1649.7" cy="538.8" r="4.1"/>
<circle cx="1649.7" cy="551.7" r="4.1"/>
<circle cx="1649.7" cy="562.1" r="4.1"/>
<circle cx="1649.9" cy="529.0" r="4.1"/>
<circle cx="1650.3" cy="542.1" r="4.1"/>
<circle cx="1650.4" cy="524.0" r="4.1"/>
<circle cx="1650.7" cy="574.9" r="4.1"/>
<circle cx="1650.7" cy="572.0" r="4.1"/>
<circle cx="1650.8" cy="528.3" r="4.1"/>
<circle cx="1650.8" cy="508.4" r="4.1"/>
<circle cx="1650.9" cy="574.1" r="4.1"/>
<circle cx="1650.9" cy="570.7" r="4.1"/>
<circle cx="1651.1" cy="538.5" r="4.1"/>
<circle cx="1651.2" cy="541.7" r="4.1"/>
<circle cx="1651.4" cy="521.3" r="4.1"/>
<circle cx="1651.7" cy="564.9" r="4.1"/>
<circle cx="1651.8" cy="564.8" r="4.1"/>
<circle cx="1652.0" cy="573.3" r="4.1"/>
<circle cx="1652.1" cy="571.1" r="4.1"/>
<circle cx="1652.1" cy="539.5" r="4.1"/>
<circle cx="1652.2" cy="570.5" r="4.1"/>
<circle cx="1652.3" cy="568.1" r="4.1"/>
<circle cx="1652.7" cy="557.0" r="4.1"/>
<circle cx="1652.7" cy="575.4" r="4.1"/>
<circle cx="1652.7" cy="562.7" r="4.1"/>
<circle cx="1652.7" cy="574.6" r="4.1"/>
<circle cx="1652.7" cy="568.9" r="4.1"/>
<circle cx="1652.8" cy="550.8" r="4.1"/>
<circle cx="1652.8" cy="569.4" r="4.1"/>
<circle cx="1652.8" cy="575.1" r="4.1"/>
<circle cx="1652.9" cy="571.9" r="4.1"/>
<circle cx="1653.0" cy="557.5" r="4.1"/>
<circle cx="1653.0" cy="574.7" r="4.1"/>
<circle cx="1653.2" cy="500.6" r="4.1"/>
<circle cx="1653.2" cy="564.3" r="4.1"/>
<circle cx="1653.8" cy="574.2" r="4.1"/>
<circle cx="1653.8" cy="567.6" r="4.1"/>
<circle cx="1653.9" cy="481.7" r="4.1"/>
<circle cx="1654.0" cy="559.8" r="4.1"/>
<circle cx="1654.0" cy="561.8" r="4.1"/>
<circle cx="1654.0" cy="564.1" r="4.1"/>
<circle cx="1654.0" cy="539.3" r="4.1"/>
<circle cx="1654.2" cy="570.8" r="4.1"/>
<circle cx="1654.3" cy="504.3" r="4.1"/>
<circle cx="1654.3" cy="559.8" r="4.1"/>
<circle cx="1654.3" cy="563.7" r="4.1"/>
<circle cx="1654.4" cy="573.6" r="4.1"/>
<circle cx="1654.5" cy="550.8" r="4.1"/>
<circle cx="1654.7" cy="521.5" r="4.1"/>
<circle cx="1655.0" cy="560.2" r="4.1"/>
<circle cx="1655.0" cy="566.3" r="4.1"/>
<circle cx="1655.0" cy="575.1" r="4.1"/>
<circle cx="1655.0" cy="513.3" r="4.1"/>
<circle cx="1655.0" cy="574.1" r="4.1"/>
<circle cx="1655.1" cy="539.6" r="4.1"/>
<circle cx="1655.3" cy="565.4" r="4.1"/>
<circle cx="1655.3" cy="559.8" r="4.1"/>
<circle cx="1655.5" cy="543.7" r="4.1"/>
<circle cx="1655.6" cy="564.6" r="4.1"/>
<circle cx="1655.7" cy="575.4" r="4.1"/>
<circle cx="1655.8" cy="559.9" r="4.1"/>
<circle cx="1656.2" cy="535.2" r="4.1"/>
<circle cx="1656.6" cy="508.6" r="4.1"/>
<circle cx="1656.7" cy="569.7" r="4.1"/>
<circle cx="1656.7" cy="570.9" r="4.1"/>
<circle cx="1656.9" cy="558.4" r="4.1"/>
<circle cx="1657.1" cy="574.4" r="4.1"/>
<circle cx="1657.2" cy="484.4" r="4.1"/>
<circle cx="1657.2" cy="575.4" r="4.1"/>
<circle cx="1657.4" cy="570.9" r="4.1"/>
<circle cx="1657.5" cy="570.0" r="4.1"/>
<circle cx="1657.6" cy="545.5" r="4.1"/>
<circle cx="1657.9" cy="553.0" r="4.1"/>
<circle cx="1658.0" cy="557.6" r="4.1"/>
<circle cx="1658.3" cy="550.7" r="4.1"/>
<circle cx="1658.3" cy="551.3" r="4.1"/>
<circle cx="1658.3" cy="509.8" r="4.1"/>
<circle cx="1658.7" cy="551.0" r="4.1"/>
<circle cx="1658.9" cy="559.6" r="4.1"/>
<circle cx="1659.0" cy="562.6" r="4.1"/>
<circle cx="1659.2" cy="561.4" r="4.1"/>
<circle cx="1659.4" cy="571.2" r="4.1"/>
<circle cx="1659.5" cy="551.2" r="4.1"/>
<circle cx="1659.7" cy="574.7" r="4.1"/>
<circle cx="1659.8" cy="572.9" r="4.1"/>
<circle cx="1659.8" cy="570.5" r="4.1"/>
<circle cx="1660.0" cy="557.5" r="4.1"/>
<circle cx="1660.2" cy="536.3" r="4.1"/>
<circle cx="1660.2" cy="535.3" r="4.1"/>
<circle cx="1660.3" cy="506.7" r="4.1"/>
<circle cx="1660.3" cy="558.9" r="4.1"/>
<circle cx="1660.3" cy="571.4" r="4.1"/>
<circle cx="1660.4" cy="530.4" r="4.1"/>
<circle cx="1660.4" cy="527.2" r="4.1"/>
<circle cx="1660.4" cy="568.8" r="4.1"/>
<circle cx="1660.5" cy="543.6" r="4.1"/>
<circle cx="1660.6" cy="519.0" r="4.1"/>
<circle cx="1660.6" cy="533.8" r="4.1"/>
<circle cx="1660.7" cy="520.4" r="4.1"/>
<circle cx="1660.8" cy="525.6" r="4.1"/>
<circle cx="1660.8" cy="575.2" r="4.1"/>
<circle cx="1660.8" cy="554.4" r="4.1"/>
<circle cx="1661.1" cy="558.8" r="4.1"/>
<circle cx="1661.2" cy="547.0" r="4.1"/>
<circle cx="1661.4" cy="553.9" r="4.1"/>
<circle cx="1661.5" cy="514.4" r="4.1"/>
<circle cx="1661.6" cy="536.2" r="4.1"/>
<circle cx="1661.6" cy="568.6" r="4.1"/>
<circle cx="1661.7" cy="548.0" r="4.1"/>
<circle cx="1661.7" cy="563.7" r="4.1"/>
<circle cx="1661.7" cy="545.8" r="4.1"/>
<circle cx="1661.7" cy="565.2" r="4.1"/>
<circle cx="1662.0" cy="536.5" r="4.1"/>
<circle cx="1662.3" cy="569.8" r="4.1"/>
<circle cx="1662.3" cy="564.7" r="4.1"/>
<circle cx="1662.3" cy="569.9" r="4.1"/>
<circle cx="1662.3" cy="570.5" r="4.1"/>
<circle cx="1662.4" cy="498.3" r="4.1"/>
<circle cx="1662.6" cy="574.5" r="4.1"/>
<circle cx="1662.7" cy="573.6" r="4.1"/>
<circle cx="1663.0" cy="545.4" r="4.1"/>
<circle cx="1663.0" cy="567.2" r="4.1"/>
<circle cx="1663.1" cy="545.8" r="4.1"/>
<circle cx="1663.5" cy="565.7" r="4.1"/>
<circle cx="1663.5" cy="542.4" r="4.1"/>
<circle cx="1663.6" cy="553.5" r="4.1"/>
<circle cx="1663.7" cy="520.2" r="4.1"/>
<circle cx="1663.8" cy="572.2" r="4.1"/>
<circle cx="1663.8" cy="569.9" r="4.1"/>
<circle cx="1663.9" cy="572.8" r="4.1"/>
<circle cx="1664.0" cy="568.2" r="4.1"/>
<circle cx="1664.0" cy="558.9" r="4.1"/>
<circle cx="1664.1" cy="568.2" r="4.1"/>
<circle cx="1664.1" cy="570.3" r="4.1"/>
<circle cx="1664.3" cy="574.3" r="4.1"/>
<circle cx="1664.4" cy="556.9" r="4.1"/>
<circle cx="1665.0" cy="561.8" r="4.1"/>
<circle cx="1665.1" cy="574.2" r="4.1"/>
<circle cx="1665.1" cy="550.8" r="4.1"/>
<circle cx="1665.2" cy="512.1" r="4.1"/>
<circle cx="1665.2" cy="567.5" r="4.1"/>
<circle cx="1665.2" cy="572.1" r="4.1"/>
<circle cx="1665.3" cy="541.9" r="4.1"/>
<circle cx="1665.4" cy="560.8" r="4.1"/>
<circle cx="1665.6" cy="574.6" r="4.1"/>
<circle cx="1665.6" cy="569.1" r="4.1"/>
<circle cx="1665.7" cy="550.5" r="4.1"/>
<circle cx="1665.9" cy="561.1" r="4.1"/>
<circle cx="1665.9" cy="561.5" r="4.1"/>
<circle cx="1665.9" cy="571.6" r="4.1"/>
<circle cx="1665.9" cy="571.3" r="4.1"/>
<circle cx="1666.0" cy="518.5" r="4.1"/>
<circle cx="1666.0" cy="565.6" r="4.1"/>
<circle cx="1666.1" cy="571.0" r="4.1"/>
<circle cx="1666.1" cy="564.0" r="4.1"/>
<circle cx="1666.4" cy="560.3" r="4.1"/>
<circle cx="1666.4" cy="574.3" r="4.1"/>
<circle cx="1666.5" cy="560.7" r="4.1"/>
<circle cx="1666.5" cy="513.0" r="4.1"/>
<circle cx="1666.6" cy="538.7" r="4.1"/>
<circle cx="1666.6" cy="562.7" r="4.1"/>
<circle cx="1666.8" cy="556.8" r="4.1"/>
<circle cx="1666.8" cy="563.2" r="4.1"/>
<circle cx="1666.8" cy="550.6" r="4.1"/>
<circle cx="1666.8" cy="517.3" r="4.1"/>
<circle cx="1666.8" cy="554.0" r="4.1"/>
<circle cx="1667.0" cy="489.4" r="4.1"/>
<circle cx="1667.1" cy="573.0" r="4.1"/>
<circle cx="1667.1" cy="527.9" r="4.1"/>
<circle cx="1667.2" cy="560.2" r="4.1"/>
<circle cx="1667.2" cy="518.2" r="4.1"/>
<circle cx="1667.3" cy="569.4" r="4.1"/>
<circle cx="1667.4" cy="559.0" r="4.1"/>
<circle cx="1667.5" cy="546.7" r="4.1"/>
<circle cx="1667.5" cy="570.9" r="4.1"/>
<circle cx="1667.5" cy="559.6" r="4.1"/>
<circle cx="1667.8" cy="572.1" r="4.1"/>
<circle cx="1667.8" cy="561.9" r="4.1"/>
<circle cx="1668.0" cy="541.6" r="4.1"/>
<circle cx="1668.2" cy="573.2" r="4.1"/>
<circle cx="1668.3" cy="564.0" r="4.1"/>
<circle cx="1668.5" cy="568.4" r="4.1"/>
<circle cx="1668.7" cy="566.3" r="4.1"/>
<circle cx="1668.8" cy="564.8" r="4.1"/>
<circle cx="1668.8" cy="563.2" r="4.1"/>
<circle cx="1668.9" cy="555.4" r="4.1"/>
<circle cx="1668.9" cy="567.3" r="4.1"/>
<circle cx="1668.9" cy="566.8" r="4.1"/>
<circle cx="1669.0" cy="544.8" r="4.1"/>
<circle cx="1669.1" cy="559.3" r="4.1"/>
<circle cx="1669.2" cy="558.2" r="4.1"/>
<circle cx="1669.2" cy="565.3" r="4.1"/>
<circle cx="1669.3" cy="569.9" r="4.1"/>
<circle cx="1669.3" cy="563.4" r="4.1"/>
<circle cx="1669.5" cy="562.4" r="4.1"/>
<circle cx="1669.6" cy="571.5" r="4.1"/>
<circle cx="1669.8" cy="509.8" r="4.1"/>
<circle cx="1670.0" cy="574.6" r="4.1"/>
<circle cx="1670.1" cy="560.3" r="4.1"/>
<circle cx="1670.2" cy="543.4" r="4.1"/>
<circle cx="1670.2" cy="572.4" r="4.1"/>
<circle cx="1670.4" cy="565.4" r="4.1"/>
<circle cx="1670.5" cy="568.3" r="4.1"/>
<circle cx="1670.5" cy="515.0" r="4.1"/>
<circle cx="1670.8" cy="561.7" r="4.1"/>
<circle cx="1670.8" cy="556.4" r="4.1"/>
<circle cx="1671.0" cy="561.3" r="4.1"/>
<circle cx="1671.1" cy="553.6" r="4.1"/>
<circle cx="1671.1" cy="571.7" r="4.1"/>
<circle cx="1671.2" cy="564.0" r="4.1"/>
<circle cx="1671.3" cy="575.1" r="4.1"/>
<circle cx="1671.7" cy="562.9" r="4.1"/>
<circle cx="1671.8" cy="541.0" r="4.1"/>
<circle cx="1671.8" cy="563.7" r="4.1"/>
<circle cx="1671.9" cy="572.7" r="4.1"/>
<circle cx="1672.1" cy="569.9" r="4.1"/>
<circle cx="1672.2" cy="533.1" r="4.1"/>
<circle cx="1672.2" cy="572.3" r="4.1"/>
<circle cx="1672.2" cy="544.8" r="4.1"/>
<circle cx="1672.4" cy="521.7" r="4.1"/>
<circle cx="1672.5" cy="566.2" r="4.1"/>
<circle cx="1672.5" cy="570.2" r="4.1"/>
<circle cx="1672.8" cy="571.3" r="4.1"/>
<circle cx="1672.9" cy="562.1" r="4.1"/>
<circle cx="1673.0" cy="575.2" r="4.1"/>
<circle cx="1673.0" cy="571.9" r="4.1"/>
<circle cx="1673.0" cy="552.2" r="4.1"/>
<circle cx="1673.0" cy="557.5" r="4.1"/>
<circle cx="1673.1" cy="551.8" r="4.1"/>
<circle cx="1673.2" cy="539.7" r="4.1"/>
<circle cx="1673.2" cy="549.9" r="4.1"/>
<circle cx="1673.3" cy="560.7" r="4.1"/>
<circle cx="1673.4" cy="568.1" r="4.1"/>
<circle cx="1673.5" cy="540.3" r="4.1"/>
<circle cx="1673.5" cy="573.1" r="4.1"/>
<circle cx="1673.6" cy="570.2" r="4.1"/>
<circle cx="1673.7" cy="517.1" r="4.1"/>
<circle cx="1673.8" cy="575.1" r="4.1"/>
<circle cx="1673.9" cy="569.7" r="4.1"/>
<circle cx="1673.9" cy="540.1" r="4.1"/>
<circle cx="1674.0" cy="544.0" r="4.1"/>
<circle cx="1674.0" cy="552.2" r="4.1"/>
<circle cx="1674.1" cy="560.1" r="4.1"/>
<circle cx="1674.2" cy="564.2" r="4.1"/>
<circle cx="1674.4" cy="519.0" r="4.1"/>
<circle cx="1674.4" cy="557.5" r="4.1"/>
<circle cx="1674.5" cy="572.1" r="4.1"/>
<circle cx="1674.6" cy="536.0" r="4.1"/>
<circle cx="1674.6" cy="562.0" r="4.1"/>
<circle cx="1674.9" cy="532.7" r="4.1"/>
<circle cx="1674.9" cy="574.9" r="4.1"/>
<circle cx="1675.0" cy="552.0" r="4.1"/>
<circle cx="1675.1" cy="575.4" r="4.1"/>
<circle cx="1675.1" cy="545.3" r="4.1"/>
<circle cx="1675.3" cy="561.4" r="4.1"/>
<circle cx="1675.4" cy="558.5" r="4.1"/>
<circle cx="1675.5" cy="556.0" r="4.1"/>
<circle cx="1675.6" cy="513.9" r="4.1"/>
<circle cx="1675.7" cy="519.9" r="4.1"/>
<circle cx="1675.9" cy="569.9" r="4.1"/>
<circle cx="1676.0" cy="573.9" r="4.1"/>
<circle cx="1676.1" cy="575.5" r="4.1"/>
<circle cx="1676.1" cy="568.4" r="4.1"/>
<circle cx="1676.7" cy="568.2" r="4.1"/>
<circle cx="1676.7" cy="511.2" r="4.1"/>
<circle cx="1676.8" cy="569.5" r="4.1"/>
<circle cx="1676.8" cy="571.6" r="4.1"/>
<circle cx="1676.8" cy="572.3" r="4.1"/>
<circle cx="1677.1" cy="556.5" r="4.1"/>
<circle cx="1677.2" cy="538.1" r="4.1"/>
<circle cx="1677.3" cy="557.5" r="4.1"/>
<circle cx="1677.4" cy="568.6" r="4.1"/>
<circle cx="1677.6" cy="567.0" r="4.1"/>
<circle cx="1677.9" cy="565.5" r="4.1"/>
<circle cx="1677.9" cy="541.1" r="4.1"/>
<circle cx="1678.1" cy="571.5" r="4.1"/>
<circle cx="1678.2" cy="553.1" r="4.1"/>
<circle cx="1678.3" cy="569.6" r="4.1"/>
<circle cx="1678.3" cy="548.0" r="4.1"/>
<circle cx="1678.3" cy="574.0" r="4.1"/>
<circle cx="1678.4" cy="554.2" r="4.1"/>
<circle cx="1678.5" cy="571.3" r="4.1"/>
<circle cx="1678.5" cy="569.3" r="4.1"/>
<circle cx="1678.6" cy="545.6" r="4.1"/>
<circle cx="1678.7" cy="571.9" r="4.1"/>
<circle cx="1678.8" cy="547.0" r="4.1"/>
<circle cx="1678.8" cy="565.5" r="4.1"/>
<circle cx="1678.9" cy="551.1" r="4.1"/>
<circle cx="1678.9" cy="560.6" r="4.1"/>
<circle cx="1679.0" cy="569.0" r="4.1"/>
<circle cx="1679.0" cy="510.9" r="4.1"/>
<circle cx="1679.1" cy="567.5" r="4.1"/>
<circle cx="1679.1" cy="575.1" r="4.1"/>
<circle cx="1679.4" cy="554.9" r="4.1"/>
<circle cx="1679.4" cy="569.0" r="4.1"/>
<circle cx="1679.4" cy="570.4" r="4.1"/>
<circle cx="1679.4" cy="544.9" r="4.1"/>
<circle cx="1679.7" cy="564.9" r="4.1"/>
<circle cx="1679.8" cy="549.4" r="4.1"/>
<circle cx="1680.0" cy="568.8" r="4.1"/>
<circle cx="1680.2" cy="565.7" r="4.1"/>
<circle cx="1680.2" cy="572.3" r="4.1"/>
<circle cx="1680.4" cy="573.9" r="4.1"/>
<circle cx="1680.5" cy="557.9" r="4.1"/>
<circle cx="1680.7" cy="561.6" r="4.1"/>
<circle cx="1680.7" cy="571.8" r="4.1"/>
<circle cx="1680.9" cy="512.1" r="4.1"/>
<circle cx="1680.9" cy="568.8" r="4.1"/>
<circle cx="1681.0" cy="561.8" r="4.1"/>
<circle cx="1681.0" cy="557.2" r="4.1"/>
<circle cx="1681.5" cy="566.3" r="4.1"/>
<circle cx="1681.9" cy="557.7" r="4.1"/>
<circle cx="1682.1" cy="566.1" r="4.1"/>
<circle cx="1682.4" cy="575.1" r="4.1"/>
<circle cx="1682.4" cy="566.8" r="4.1"/>
<circle cx="1682.5" cy="560.2" r="4.1"/>
<circle cx="1682.6" cy="563.9" r="4.1"/>
<circle cx="1682.7" cy="570.6" r="4.1"/>
<circle cx="1682.7" cy="570.6" r="4.1"/>
<circle cx="1682.7" cy="557.7" r="4.1"/>
<circle cx="1682.8" cy="542.2" r="4.1"/>
<circle cx="1682.9" cy="573.4" r="4.1"/>
<circle cx="1683.0" cy="519.9" r="4.1"/>
<circle cx="1683.0" cy="538.8" r="4.1"/>
<circle cx="1683.2" cy="557.7" r="4.1"/>
<circle cx="1683.2" cy="530.2" r="4.1"/>
<circle cx="1683.4" cy="569.1" r="4.1"/>
<circle cx="1683.5" cy="567.3" r="4.1"/>
<circle cx="1683.6" cy="521.3" r="4.1"/>
<circle cx="1683.7" cy="535.8" r="4.1"/>
<circle cx="1683.8" cy="566.7" r="4.1"/>
<circle cx="1683.8" cy="554.6" r="4.1"/>
<circle cx="1684.2" cy="563.4" r="4.1"/>
<circle cx="1684.7" cy="550.4" r="4.1"/>
<circle cx="1685.4" cy="524.3" r="4.1"/>
<circle cx="1685.4" cy="566.2" r="4.1"/>
<circle cx="1685.5" cy="569.3" r="4.1"/>
<circle cx="1685.5" cy="543.9" r="4.1"/>
<circle cx="1685.8" cy="521.0" r="4.1"/>
<circle cx="1685.9" cy="500.6" r="4.1"/>
<circle cx="1685.9" cy="575.3" r="4.1"/>
<circle cx="1686.0" cy="575.0" r="4.1"/>
<circle cx="1686.1" cy="575.5" r="4.1"/>
<circle cx="1686.2" cy="558.2" r="4.1"/>
<circle cx="1686.4" cy="569.8" r="4.1"/>
<circle cx="1686.5" cy="559.8" r="4.1"/>
<circle cx="1686.7" cy="564.7" r="4.1"/>
<circle cx="1687.3" cy="565.8" r="4.1"/>
<circle cx="1687.4" cy="568.7" r="4.1"/>
<circle cx="1687.5" cy="566.4" r="4.1"/>
<circle cx="1687.6" cy="519.8" r="4.1"/>
<circle cx="1687.6" cy="543.1" r="4.1"/>
<circle cx="1687.9" cy="557.9" r="4.1"/>
<circle cx="1688.2" cy="512.1" r="4.1"/>
<circle cx="1688.5" cy="565.0" r="4.1"/>
<circle cx="1688.6" cy="568.1" r="4.1"/>
<circle cx="1688.7" cy="542.6" r="4.1"/>
<circle cx="1688.8" cy="574.2" r="4.1"/>
<circle cx="1688.8" cy="563.6" r="4.1"/>
<circle cx="1689.0" cy="569.2" r="4.1"/>
<circle cx="1689.1" cy="547.6" r="4.1"/>
<circle cx="1689.1" cy="572.9" r="4.1"/>
<circle cx="1689.2" cy="565.9" r="4.1"/>
<circle cx="1689.2" cy="574.5" r="4.1"/>
<circle cx="1689.3" cy="568.3" r="4.1"/>
<circle cx="1689.3" cy="567.1" r="4.1"/>
<circle cx="1689.4" cy="529.2" r="4.1"/>
<circle cx="1689.5" cy="569.5" r="4.1"/>
<circle cx="1689.5" cy="543.9" r="4.1"/>
<circle cx="1689.7" cy="565.5" r="4.1"/>
<circle cx="1689.7" cy="556.9" r="4.1"/>
<circle cx="1689.8" cy="565.5" r="4.1"/>
<circle cx="1689.9" cy="533.7" r="4.1"/>
<circle cx="1689.9" cy="567.1" r="4.1"/>
<circle cx="1690.1" cy="542.9" r="4.1"/>
<circle cx="1690.1" cy="531.4" r="4.1"/>
<circle cx="1690.2" cy="567.8" r="4.1"/>
<circle cx="1690.3" cy="570.9" r="4.1"/>
<circle cx="1690.3" cy="561.5" r="4.1"/>
<circle cx="1690.4" cy="548.2" r="4.1"/>
<circle cx="1690.5" cy="525.9" r="4.1"/>
<circle cx="1690.5" cy="551.2" r="4.1"/>
<circle cx="1690.6" cy="572.7" r="4.1"/>
<circle cx="1690.6" cy="549.9" r="4.1"/>
<circle cx="1690.7" cy="565.4" r="4.1"/>
<circle cx="1690.7" cy="538.5" r="4.1"/>
<circle cx="1690.8" cy="526.1" r="4.1"/>
<circle cx="1691.2" cy="545.5" r="4.1"/>
<circle cx="1691.5" cy="565.5" r="4.1"/>
<circle cx="1691.5" cy="557.7" r="4.1"/>
<circle cx="1691.5" cy="557.2" r="4.1"/>
<circle cx="1691.8" cy="572.0" r="4.1"/>
<circle cx="1692.1" cy="518.4" r="4.1"/>
<circle cx="1692.1" cy="525.2" r="4.1"/>
<circle cx="1692.2" cy="571.1" r="4.1"/>
<circle cx="1692.3" cy="571.9" r="4.1"/>
<circle cx="1692.4" cy="550.6" r="4.1"/>
<circle cx="1692.5" cy="544.8" r="4.1"/>
<circle cx="1692.5" cy="564.5" r="4.1"/>
<circle cx="1692.6" cy="559.1" r="4.1"/>
<circle cx="1692.7" cy="560.4" r="4.1"/>
<circle cx="1692.7" cy="560.6" r="4.1"/>
<circle cx="1692.7" cy="548.0" r="4.1"/>
<circle cx="1692.7" cy="564.4" r="4.1"/>
<circle cx="1692.7" cy="568.5" r="4.1"/>
<circle cx="1692.7" cy="565.5" r="4.1"/>
<circle cx="1692.8" cy="554.7" r="4.1"/>
<circle cx="1692.9" cy="527.5" r="4.1"/>
<circle cx="1693.2" cy="568.0" r="4.1"/>
<circle cx="1693.2" cy="544.0" r="4.1"/>
<circle cx="1693.3" cy="555.0" r="4.1"/>
<circle cx="1693.3" cy="569.6" r="4.1"/>
<circle cx="1693.4" cy="558.2" r="4.1"/>
<circle cx="1693.4" cy="571.7" r="4.1"/>
<circle cx="1693.5" cy="566.9" r="4.1"/>
<circle cx="1693.6" cy="546.2" r="4.1"/>
<circle cx="1693.8" cy="542.6" r="4.1"/>
<circle cx="1694.3" cy="562.6" r="4.1"/>
<circle cx="1694.4" cy="550.8" r="4.1"/>
<circle cx="1694.6" cy="565.1" r="4.1"/>
<circle cx="1694.7" cy="566.0" r="4.1"/>
<circle cx="1694.8" cy="536.6" r="4.1"/>
<circle cx="1695.2" cy="520.9" r="4.1"/>
<circle cx="1695.5" cy="517.5" r="4.1"/>
<circle cx="1695.5" cy="556.8" r="4.1"/>
<circle cx="1695.5" cy="564.4" r="4.1"/>
<circle cx="1695.6" cy="554.5" r="4.1"/>
<circle cx="1695.7" cy="539.8" r="4.1"/>
<circle cx="1695.9" cy="573.6" r="4.1"/>
<circle cx="1696.1" cy="521.3" r="4.1"/>
<circle cx="1696.1" cy="547.1" r="4.1"/>
<circle cx="1696.4" cy="572.6" r="4.1"/>
<circle cx="1696.5" cy="552.7" r="4.1"/>
<circle cx="1696.7" cy="572.0" r="4.1"/>
<circle cx="1696.7" cy="572.4" r="4.1"/>
<circle cx="1696.8" cy="544.1" r="4.1"/>
<circle cx="1696.8" cy="547.8" r="4.1"/>
<circle cx="1696.8" cy="567.1" r="4.1"/>
<circle cx="1697.1" cy="570.0" r="4.1"/>
<circle cx="1697.1" cy="550.3" r="4.1"/>
<circle cx="1697.3" cy="573.2" r="4.1"/>
<circle cx="1697.4" cy="548.7" r="4.1"/>
<circle cx="1697.5" cy="571.5" r="4.1"/>
<circle cx="1697.5" cy="552.2" r="4.1"/>
<circle cx="1697.7" cy="569.9" r="4.1"/>
<circle cx="1697.8" cy="567.4" r="4.1"/>
<circle cx="1698.1" cy="544.9" r="4.1"/>
<circle cx="1698.1" cy="573.2" r="4.1"/>
<circle cx="1698.3" cy="571.2" r="4.1"/>
<circle cx="1698.3" cy="572.8" r="4.1"/>
<circle cx="1698.5" cy="567.5" r="4.1"/>
<circle cx="1698.5" cy="562.3" r="4.1"/>
<circle cx="1699.0" cy="537.1" r="4.1"/>
<circle cx="1699.4" cy="566.1" r="4.1"/>
<circle cx="1699.4" cy="568.2" r="4.1"/>
<circle cx="1699.4" cy="562.7" r="4.1"/>
<circle cx="1699.5" cy="561.6" r="4.1"/>
<circle cx="1699.5" cy="575.2" r="4.1"/>
<circle cx="1699.7" cy="528.2" r="4.1"/>
<circle cx="1699.8" cy="539.6" r="4.1"/>
<circle cx="1700.1" cy="558.5" r="4.1"/>
<circle cx="1700.1" cy="572.8" r="4.1"/>
<circle cx="1700.5" cy="549.6" r="4.1"/>
<circle cx="1700.6" cy="568.2" r="4.1"/>
<circle cx="1700.6" cy="569.1" r="4.1"/>
<circle cx="1700.6" cy="557.2" r="4.1"/>
<circle cx="1700.6" cy="569.5" r="4.1"/>
<circle cx="1700.6" cy="566.9" r="4.1"/>
<circle cx="1700.8" cy="562.3" r="4.1"/>
<circle cx="1700.8" cy="569.9" r="4.1"/>
<circle cx="1700.9" cy="574.7" r="4.1"/>
<circle cx="1701.1" cy="568.6" r="4.1"/>
<circle cx="1701.2" cy="575.3" r="4.1"/>
<circle cx="1701.3" cy="530.5" r="4.1"/>
<circle cx="1701.3" cy="571.1" r="4.1"/>
<circle cx="1701.3" cy="560.5" r="4.1"/>
<circle cx="1701.4" cy="552.2" r="4.1"/>
<circle cx="1701.5" cy="562.3" r="4.1"/>
<circle cx="1701.6" cy="575.3" r="4.1"/>
<circle cx="1701.6" cy="564.9" r="4.1"/>
<circle cx="1701.7" cy="553.7" r="4.1"/>
<circle cx="1701.8" cy="568.9" r="4.1"/>
<circle cx="1702.0" cy="520.2" r="4.1"/>
<circle cx="1702.3" cy="562.3" r="4.1"/>
<circle cx="1702.3" cy="535.6" r="4.1"/>
<circle cx="1702.4" cy="550.0" r="4.1"/>
<circle cx="1702.5" cy="535.2" r="4.1"/>
<circle cx="1702.5" cy="551.7" r="4.1"/>
<circle cx="1702.7" cy="556.3" r="4.1"/>
<circle cx="1702.7" cy="570.7" r="4.1"/>
<circle cx="1702.8" cy="571.8" r="4.1"/>
<circle cx="1702.8" cy="568.8" r="4.1"/>
<circle cx="1702.8" cy="554.2" r="4.1"/>
<circle cx="1702.9" cy="567.7" r="4.1"/>
<circle cx="1702.9" cy="553.5" r="4.1"/>
<circle cx="1703.1" cy="568.6" r="4.1"/>
<circle cx="1703.2" cy="509.8" r="4.1"/>
<circle cx="1703.2" cy="561.9" r="4.1"/>
<circle cx="1703.4" cy="572.8" r="4.1"/>
<circle cx="1703.5" cy="570.9" r="4.1"/>
<circle cx="1703.5" cy="552.7" r="4.1"/>
<circle cx="1703.7" cy="569.7" r="4.1"/>
<circle cx="1703.8" cy="565.7" r="4.1"/>
<circle cx="1704.1" cy="575.4" r="4.1"/>
<circle cx="1704.2" cy="573.0" r="4.1"/>
<circle cx="1704.3" cy="528.9" r="4.1"/>
<circle cx="1704.3" cy="556.6" r="4.1"/>
<circle cx="1704.4" cy="568.4" r="4.1"/>
<circle cx="1704.4" cy="545.0" r="4.1"/>
<circle cx="1704.5" cy="548.2" r="4.1"/>
<circle cx="1704.5" cy="555.7" r="4.1"/>
<circle cx="1704.5" cy="553.9" r="4.1"/>
<circle cx="1704.6" cy="573.5" r="4.1"/>
<circle cx="1704.6" cy="571.0" r="4.1"/>
<circle cx="1704.6" cy="532.6" r="4.1"/>
<circle cx="1704.9" cy="573.6" r="4.1"/>
<circle cx="1704.9" cy="539.7" r="4.1"/>
<circle cx="1704.9" cy="543.6" r="4.1"/>
<circle cx="1705.0" cy="550.6" r="4.1"/>
<circle cx="1705.1" cy="537.4" r="4.1"/>
<circle cx="1705.2" cy="557.9" r="4.1"/>
<circle cx="1705.3" cy="560.7" r="4.1"/>
<circle cx="1705.3" cy="566.0" r="4.1"/>
<circle cx="1705.5" cy="538.0" r="4.1"/>
<circle cx="1705.6" cy="572.7" r="4.1"/>
<circle cx="1705.8" cy="544.2" r="4.1"/>
<circle cx="1706.1" cy="564.8" r="4.1"/>
<circle cx="1706.2" cy="571.9" r="4.1"/>
<circle cx="1706.4" cy="542.5" r="4.1"/>
<circle cx="1706.6" cy="562.3" r="4.1"/>
<circle cx="1706.6" cy="536.1" r="4.1"/>
<circle cx="1706.7" cy="574.6" r="4.1"/>
<circle cx="1706.9" cy="566.5" r="4.1"/>
<circle cx="1707.1" cy="557.5" r="4.1"/>
<circle cx="1707.2" cy="527.3" r="4.1"/>
<circle cx="1707.7" cy="568.5" r="4.1"/>
<circle cx="1707.7" cy="565.1" r="4.1"/>
<circle cx="1707.8" cy="570.4" r="4.1"/>
<circle cx="1707.8" cy="570.8" r="4.1"/>
<circle cx="1707.8" cy="566.2" r="4.1"/>
<circle cx="1708.0" cy="556.6" r="4.1"/>
<circle cx="1708.3" cy="537.7" r="4.1"/>
<circle cx="1708.4" cy="564.6" r="4.1"/>
<circle cx="1708.5" cy="535.5" r="4.1"/>
<circle cx="1708.7" cy="564.8" r="4.1"/>
<circle cx="1708.7" cy="570.5" r="4.1"/>
<circle cx="1708.8" cy="537.9" r="4.1"/>
<circle cx="1708.8" cy="555.2" r="4.1"/>
<circle cx="1708.9" cy="516.7" r="4.1"/>
<circle cx="1709.0" cy="575.3" r="4.1"/>
<circle cx="1709.0" cy="569.1" r="4.1"/>
<circle cx="1709.0" cy="540.8" r="4.1"/>
<circle cx="1709.2" cy="559.6" r="4.1"/>
<circle cx="1709.3" cy="566.0" r="4.1"/>
<circle cx="1709.3" cy="555.0" r="4.1"/>
<circle cx="1709.4" cy="570.7" r="4.1"/>
<circle cx="1709.4" cy="574.0" r="4.1"/>
<circle cx="1709.6" cy="486.8" r="4.1"/>
<circle cx="1709.7" cy="573.9" r="4.1"/>
<circle cx="1709.8" cy="569.9" r="4.1"/>
<circle cx="1710.0" cy="563.3" r="4.1"/>
<circle cx="1710.0" cy="563.9" r="4.1"/>
<circle cx="1710.0" cy="568.7" r="4.1"/>
<circle cx="1710.0" cy="568.8" r="4.1"/>
<circle cx="1710.1" cy="568.0" r="4.1"/>
<circle cx="1710.3" cy="573.5" r="4.1"/>
<circle cx="1710.3" cy="564.8" r="4.1"/>
<circle cx="1710.4" cy="519.7" r="4.1"/>
<circle cx="1710.4" cy="572.9" r="4.1"/>
<circle cx="1710.5" cy="574.0" r="4.1"/>
<circle cx="1710.6" cy="553.2" r="4.1"/>
<circle cx="1710.6" cy="573.1" r="4.1"/>
<circle cx="1710.7" cy="565.2" r="4.1"/>
<circle cx="1710.8" cy="526.9" r="4.1"/>
<circle cx="1710.8" cy="534.8" r="4.1"/>
<circle cx="1711.1" cy="567.6" r="4.1"/>
<circle cx="1711.3" cy="536.9" r="4.1"/>
<circle cx="1711.3" cy="530.5" r="4.1"/>
<circle cx="1711.3" cy="563.1" r="4.1"/>
<circle cx="1711.8" cy="566.7" r="4.1"/>
<circle cx="1711.9" cy="549.0" r="4.1"/>
<circle cx="1712.0" cy="573.6" r="4.1"/>
<circle cx="1712.1" cy="559.1" r="4.1"/>
<circle cx="1712.2" cy="562.6" r="4.1"/>
<circle cx="1712.2" cy="565.2" r="4.1"/>
<circle cx="1712.2" cy="569.4" r="4.1"/>
<circle cx="1712.4" cy="556.8" r="4.1"/>
<circle cx="1712.4" cy="560.8" r="4.1"/>
<circle cx="1712.8" cy="573.9" r="4.1"/>
<circle cx="1712.8" cy="566.0" r="4.1"/>
<circle cx="1713.1" cy="565.0" r="4.1"/>
<circle cx="1713.1" cy="566.8" r="4.1"/>
<circle cx="1713.2" cy="575.5" r="4.1"/>
<circle cx="1713.4" cy="545.3" r="4.1"/>
<circle cx="1713.4" cy="566.7" r="4.1"/>
<circle cx="1713.7" cy="571.2" r="4.1"/>
<circle cx="1714.0" cy="574.1" r="4.1"/>
<circle cx="1714.0" cy="548.1" r="4.1"/>
<circle cx="1714.0" cy="566.2" r="4.1"/>
<circle cx="1714.1" cy="525.5" r="4.1"/>
<circle cx="1714.2" cy="571.7" r="4.1"/>
<circle cx="1714.2" cy="559.7" r="4.1"/>
<circle cx="1714.4" cy="571.6" r="4.1"/>
<circle cx="1714.4" cy="570.3" r="4.1"/>
<circle cx="1714.4" cy="575.3" r="4.1"/>
<circle cx="1714.4" cy="574.7" r="4.1"/>
<circle cx="1714.5" cy="570.4" r="4.1"/>
<circle cx="1714.5" cy="572.5" r="4.1"/>
<circle cx="1714.6" cy="545.9" r="4.1"/>
<circle cx="1714.6" cy="546.0" r="4.1"/>
<circle cx="1714.8" cy="573.2" r="4.1"/>
<circle cx="1714.9" cy="556.4" r="4.1"/>
<circle cx="1715.2" cy="565.9" r="4.1"/>
<circle cx="1715.2" cy="564.1" r="4.1"/>
<circle cx="1715.2" cy="561.4" r="4.1"/>
<circle cx="1715.4" cy="572.8" r="4.1"/>
<circle cx="1715.5" cy="562.3" r="4.1"/>
<circle cx="1715.6" cy="557.5" r="4.1"/>
<circle cx="1715.7" cy="550.4" r="4.1"/>
<circle cx="1715.8" cy="566.1" r="4.1"/>
<circle cx="1715.8" cy="551.7" r="4.1"/>
<circle cx="1715.9" cy="562.8" r="4.1"/>
<circle cx="1716.0" cy="574.1" r="4.1"/>
<circle cx="1716.0" cy="567.8" r="4.1"/>
<circle cx="1716.0" cy="542.4" r="4.1"/>
<circle cx="1716.1" cy="572.9" r="4.1"/>
<circle cx="1716.1" cy="528.9" r="4.1"/>
<circle cx="1716.8" cy="566.8" r="4.1"/>
<circle cx="1717.7" cy="556.7" r="4.1"/>
<circle cx="1717.7" cy="548.8" r="4.1"/>
<circle cx="1718.0" cy="563.4" r="4.1"/>
<circle cx="1718.0" cy="547.5" r="4.1"/>
<circle cx="1718.2" cy="528.2" r="4.1"/>
<circle cx="1718.2" cy="570.6" r="4.1"/>
<circle cx="1718.2" cy="550.1" r="4.1"/>
<circle cx="1718.2" cy="550.7" r="4.1"/>
<circle cx="1718.3" cy="550.8" r="4.1"/>
<circle cx="1718.4" cy="565.3" r="4.1"/>
<circle cx="1718.7" cy="559.5" r="4.1"/>
<circle cx="1718.8" cy="572.2" r="4.1"/>
<circle cx="1718.9" cy="575.3" r="4.1"/>
<circle cx="1719.3" cy="558.9" r="4.1"/>
<circle cx="1719.4" cy="568.5" r="4.1"/>
<circle cx="1719.5" cy="569.6" r="4.1"/>
<circle cx="1719.5" cy="561.9" r="4.1"/>
<circle cx="1719.6" cy="565.6" r="4.1"/>
<circle cx="1719.6" cy="542.8" r="4.1"/>
<circle cx="1719.7" cy="570.4" r="4.1"/>
<circle cx="1719.7" cy="574.7" r="4.1"/>
<circle cx="1719.7" cy="562.7" r="4.1"/>
<circle cx="1719.8" cy="570.6" r="4.1"/>
<circle cx="1719.8" cy="556.0" r="4.1"/>
<circle cx="1719.9" cy="567.2" r="4.1"/>
<circle cx="1719.9" cy="550.2" r="4.1"/>
<circle cx="1720.3" cy="565.4" r="4.1"/>
<circle cx="1720.5" cy="480.5" r="4.1"/>
<circle cx="1720.5" cy="574.4" r="4.1"/>
<circle cx="1720.8" cy="562.5" r="4.1"/>
<circle cx="1721.6" cy="573.8" r="4.1"/>
<circle cx="1721.7" cy="574.2" r="4.1"/>
<circle cx="1721.8" cy="575.3" r="4.1"/>
<circle cx="1721.8" cy="569.5" r="4.1"/>
<circle cx="1721.9" cy="563.5" r="4.1"/>
<circle cx="1722.1" cy="569.0" r="4.1"/>
<circle cx="1722.2" cy="538.9" r="4.1"/>
<circle cx="1722.3" cy="564.0" r="4.1"/>
<circle cx="1722.5" cy="534.1" r="4.1"/>
<circle cx="1722.7" cy="523.6" r="4.1"/>
<circle cx="1722.9" cy="543.4" r="4.1"/>
<circle cx="1722.9" cy="537.8" r="4.1"/>
<circle cx="1723.0" cy="562.6" r="4.1"/>
<circle cx="1723.2" cy="547.6" r="4.1"/>
<circle cx="1723.4" cy="574.0" r="4.1"/>
<circle cx="1723.4" cy="573.8" r="4.1"/>
<circle cx="1723.6" cy="566.6" r="4.1"/>
<circle cx="1723.6" cy="570.0" r="4.1"/>
<circle cx="1723.7" cy="570.8" r="4.1"/>
<circle cx="1723.8" cy="552.3" r="4.1"/>
<circle cx="1724.0" cy="565.7" r="4.1"/>
<circle cx="1724.1" cy="573.1" r="4.1"/>
<circle cx="1724.1" cy="558.7" r="4.1"/>
<circle cx="1724.1" cy="563.0" r="4.1"/>
<circle cx="1724.3" cy="541.3" r="4.1"/>
<circle cx="1724.6" cy="571.9" r="4.1"/>
<circle cx="1724.8" cy="575.2" r="4.1"/>
<circle cx="1724.8" cy="573.6" r="4.1"/>
<circle cx="1725.1" cy="557.0" r="4.1"/>
<circle cx="1725.1" cy="522.5" r="4.1"/>
<circle cx="1725.1" cy="539.0" r="4.1"/>
<circle cx="1725.2" cy="560.4" r="4.1"/>
<circle cx="1725.4" cy="557.5" r="4.1"/>
<circle cx="1725.5" cy="544.1" r="4.1"/>
<circle cx="1725.6" cy="569.2" r="4.1"/>
<circle cx="1725.6" cy="527.1" r="4.1"/>
<circle cx="1725.6" cy="567.9" r="4.1"/>
<circle cx="1725.8" cy="574.2" r="4.1"/>
<circle cx="1725.9" cy="534.0" r="4.1"/>
<circle cx="1726.0" cy="566.9" r="4.1"/>
<circle cx="1726.2" cy="571.7" r="4.1"/>
<circle cx="1726.2" cy="552.0" r="4.1"/>
<circle cx="1726.2" cy="573.8" r="4.1"/>
<circle cx="1726.3" cy="551.3" r="4.1"/>
<circle cx="1726.4" cy="575.4" r="4.1"/>
<circle cx="1726.4" cy="563.6" r="4.1"/>
<circle cx="1726.4" cy="564.6" r="4.1"/>
<circle cx="1726.9" cy="566.7" r="4.1"/>
<circle cx="1727.0" cy="544.1" r="4.1"/>
<circle cx="1727.2" cy="554.3" r="4.1"/>
<circle cx="1727.2" cy="572.4" r="4.1"/>
<circle cx="1727.4" cy="500.6" r="4.1"/>
<circle cx="1727.4" cy="539.7" r="4.1"/>
<circle cx="1727.9" cy="569.9" r="4.1"/>
<circle cx="1727.9" cy="573.9" r="4.1"/>
<circle cx="1728.4" cy="575.0" r="4.1"/>
<circle cx="1728.5" cy="571.9" r="4.1"/>
<circle cx="1728.8" cy="555.8" r="4.1"/>
<circle cx="1728.8" cy="564.2" r="4.1"/>
<circle cx="1729.0" cy="565.4" r="4.1"/>
<circle cx="1729.1" cy="549.2" r="4.1"/>
<circle cx="1729.2" cy="572.5" r="4.1"/>
<circle cx="1729.2" cy="505.2" r="4.1"/>
<circle cx="1729.2" cy="542.6" r="4.1"/>
<circle cx="1729.7" cy="554.9" r="4.1"/>
<circle cx="1729.8" cy="572.9" r="4.1"/>
<circle cx="1729.8" cy="569.2" r="4.1"/>
<circle cx="1730.1" cy="546.1" r="4.1"/>
<circle cx="1730.1" cy="567.9" r="4.1"/>
<circle cx="1730.2" cy="538.3" r="4.1"/>
<circle cx="1730.3" cy="562.2" r="4.1"/>
<circle cx="1730.5" cy="569.4" r="4.1"/>
<circle cx="1730.8" cy="571.9" r="4.1"/>
<circle cx="1731.0" cy="566.4" r="4.1"/>
<circle cx="1731.1" cy="572.0" r="4.1"/>
<circle cx="1731.1" cy="572.2" r="4.1"/>
<circle cx="1731.2" cy="545.0" r="4.1"/>
<circle cx="1731.2" cy="567.1" r="4.1"/>
<circle cx="1731.4" cy="573.8" r="4.1"/>
<circle cx="1731.4" cy="559.6" r="4.1"/>
<circle cx="1731.4" cy="551.2" r="4.1"/>
<circle cx="1731.9" cy="574.5" r="4.1"/>
<circle cx="1731.9" cy="555.5" r="4.1"/>
<circle cx="1732.4" cy="569.7" r="4.1"/>
<circle cx="1732.4" cy="557.5" r="4.1"/>
<circle cx="1732.4" cy="556.5" r="4.1"/>
<circle cx="1732.5" cy="573.1" r="4.1"/>
<circle cx="1732.5" cy="575.1" r="4.1"/>
<circle cx="1732.7" cy="573.7" r="4.1"/>
<circle cx="1732.7" cy="563.0" r="4.1"/>
<circle cx="1733.0" cy="569.9" r="4.1"/>
<circle cx="1733.1" cy="569.7" r="4.1"/>
<circle cx="1733.1" cy="552.1" r="4.1"/>
<circle cx="1733.2" cy="566.2" r="4.1"/>
<circle cx="1733.4" cy="562.9" r="4.1"/>
<circle cx="1733.6" cy="567.4" r="4.1"/>
<circle cx="1733.7" cy="557.4" r="4.1"/>
<circle cx="1733.8" cy="568.1" r="4.1"/>
<circle cx="1733.9" cy="574.4" r="4.1"/>
<circle cx="1734.2" cy="571.6" r="4.1"/>
<circle cx="1734.2" cy="570.8" r="4.1"/>
<circle cx="1734.3" cy="525.9" r="4.1"/>
<circle cx="1734.4" cy="567.0" r="4.1"/>
<circle cx="1735.1" cy="535.7" r="4.1"/>
<circle cx="1735.3" cy="543.5" r="4.1"/>
<circle cx="1735.5" cy="565.0" r="4.1"/>
<circle cx="1735.6" cy="566.9" r="4.1"/>
<circle cx="1735.9" cy="563.8" r="4.1"/>
<circle cx="1735.9" cy="565.0" r="4.1"/>
<circle cx="1736.0" cy="556.1" r="4.1"/>
<circle cx="1736.0" cy="538.1" r="4.1"/>
<circle cx="1736.0" cy="543.8" r="4.1"/>
<circle cx="1736.0" cy="573.4" r="4.1"/>
<circle cx="1736.1" cy="565.1" r="4.1"/>
<circle cx="1736.3" cy="572.1" r="4.1"/>
<circle cx="1736.3" cy="540.3" r="4.1"/>
<circle cx="1736.6" cy="540.3" r="4.1"/>
<circle cx="1736.7" cy="569.6" r="4.1"/>
<circle cx="1736.8" cy="547.5" r="4.1"/>
<circle cx="1736.9" cy="570.2" r="4.1"/>
<circle cx="1737.2" cy="573.3" r="4.1"/>
<circle cx="1737.3" cy="556.9" r="4.1"/>
<circle cx="1737.3" cy="574.1" r="4.1"/>
<circle cx="1737.8" cy="559.2" r="4.1"/>
<circle cx="1737.8" cy="569.5" r="4.1"/>
<circle cx="1737.9" cy="487.0" r="4.1"/>
<circle cx="1738.1" cy="527.4" r="4.1"/>
<circle cx="1738.2" cy="530.9" r="4.1"/>
<circle cx="1738.4" cy="568.3" r="4.1"/>
<circle cx="1738.5" cy="565.7" r="4.1"/>
<circle cx="1738.5" cy="573.0" r="4.1"/>
<circle cx="1738.5" cy="560.6" r="4.1"/>
<circle cx="1738.7" cy="559.7" r="4.1"/>
<circle cx="1738.8" cy="555.3" r="4.1"/>
<circle cx="1738.9" cy="572.2" r="4.1"/>
<circle cx="1739.0" cy="562.7" r="4.1"/>
<circle cx="1739.1" cy="557.4" r="4.1"/>
<circle cx="1739.1" cy="523.4" r="4.1"/>
<circle cx="1739.3" cy="558.0" r="4.1"/>
<circle cx="1739.3" cy="568.7" r="4.1"/>
<circle cx="1739.3" cy="562.0" r="4.1"/>
<circle cx="1739.4" cy="570.8" r="4.1"/>
<circle cx="1739.5" cy="566.7" r="4.1"/>
<circle cx="1739.5" cy="569.9" r="4.1"/>
<circle cx="1739.5" cy="567.3" r="4.1"/>
<circle cx="1739.6" cy="554.4" r="4.1"/>
<circle cx="1739.7" cy="560.4" r="4.1"/>
<circle cx="1739.8" cy="570.6" r="4.1"/>
<circle cx="1739.9" cy="560.4" r="4.1"/>
<circle cx="1739.9" cy="566.0" r="4.1"/>
<circle cx="1739.9" cy="553.5" r="4.1"/>
<circle cx="1740.0" cy="569.4" r="4.1"/>
<circle cx="1740.1" cy="556.2" r="4.1"/>
<circle cx="1740.1" cy="563.0" r="4.1"/>
<circle cx="1740.2" cy="535.4" r="4.1"/>
<circle cx="1740.2" cy="573.5" r="4.1"/>
<circle cx="1740.3" cy="548.9" r="4.1"/>
<circle cx="1740.3" cy="572.4" r="4.1"/>
<circle cx="1740.4" cy="558.6" r="4.1"/>
<circle cx="1740.5" cy="574.1" r="4.1"/>
<circle cx="1740.6" cy="569.9" r="4.1"/>
<circle cx="1740.7" cy="572.4" r="4.1"/>
<circle cx="1740.8" cy="562.6" r="4.1"/>
<circle cx="1740.8" cy="567.8" r="4.1"/>
<circle cx="1741.0" cy="571.0" r="4.1"/>
<circle cx="1741.1" cy="531.2" r="4.1"/>
<circle cx="1741.1" cy="565.3" r="4.1"/>
<circle cx="1741.2" cy="571.8" r="4.1"/>
<circle cx="1741.3" cy="568.1" r="4.1"/>
<circle cx="1741.4" cy="479.9" r="4.1"/>
<circle cx="1741.6" cy="559.0" r="4.1"/>
<circle cx="1741.6" cy="575.3" r="4.1"/>
<circle cx="1741.9" cy="546.1" r="4.1"/>
<circle cx="1742.0" cy="553.3" r="4.1"/>
<circle cx="1742.1" cy="556.1" r="4.1"/>
<circle cx="1742.1" cy="571.0" r="4.1"/>
<circle cx="1742.1" cy="562.6" r="4.1"/>
<circle cx="1742.1" cy="562.3" r="4.1"/>
<circle cx="1742.2" cy="546.8" r="4.1"/>
<circle cx="1742.3" cy="563.0" r="4.1"/>
<circle cx="1742.4" cy="567.0" r="4.1"/>
<circle cx="1742.4" cy="548.9" r="4.1"/>
<circle cx="1742.6" cy="550.3" r="4.1"/>
<circle cx="1742.8" cy="574.5" r="4.1"/>
<circle cx="1742.9" cy="568.4" r="4.1"/>
<circle cx="1742.9" cy="556.0" r="4.1"/>
<circle cx="1742.9" cy="574.7" r="4.1"/>
<circle cx="1743.1" cy="564.7" r="4.1"/>
<circle cx="1743.4" cy="568.5" r="4.1"/>
<circle cx="1743.4" cy="543.2" r="4.1"/>
<circle cx="1743.5" cy="555.7" r="4.1"/>
<circle cx="1743.5" cy="568.1" r="4.1"/>
<circle cx="1743.6" cy="499.8" r="4.1"/>
<circle cx="1743.6" cy="555.3" r="4.1"/>
<circle cx="1743.6" cy="574.1" r="4.1"/>
<circle cx="1743.7" cy="550.0" r="4.1"/>
<circle cx="1743.7" cy="574.8" r="4.1"/>
<circle cx="1743.7" cy="554.4" r="4.1"/>
<circle cx="1743.9" cy="567.7" r="4.1"/>
<circle cx="1743.9" cy="532.7" r="4.1"/>
<circle cx="1744.0" cy="558.8" r="4.1"/>
<circle cx="1744.0" cy="550.6" r="4.1"/>
<circle cx="1744.6" cy="526.4" r="4.1"/>
<circle cx="1744.7" cy="568.6" r="4.1"/>
<circle cx="1744.8" cy="572.2" r="4.1"/>
<circle cx="1744.9" cy="572.2" r="4.1"/>
<circle cx="1745.1" cy="567.8" r="4.1"/>
<circle cx="1745.2" cy="574.0" r="4.1"/>
<circle cx="1745.3" cy="573.9" r="4.1"/>
<circle cx="1745.4" cy="574.7" r="4.1"/>
<circle cx="1745.7" cy="556.0" r="4.1"/>
<circle cx="1745.7" cy="504.1" r="4.1"/>
<circle cx="1745.8" cy="568.2" r="4.1"/>
<circle cx="1745.9" cy="555.8" r="4.1"/>
<circle cx="1746.0" cy="558.6" r="4.1"/>
<circle cx="1746.1" cy="483.4" r="4.1"/>
<circle cx="1746.2" cy="535.4" r="4.1"/>
<circle cx="1746.2" cy="523.2" r="4.1"/>
<circle cx="1746.2" cy="535.3" r="4.1"/>
<circle cx="1746.3" cy="575.0" r="4.1"/>
<circle cx="1746.6" cy="528.1" r="4.1"/>
<circle cx="1746.7" cy="564.8" r="4.1"/>
<circle cx="1746.7" cy="570.0" r="4.1"/>
<circle cx="1746.8" cy="565.4" r="4.1"/>
<circle cx="1746.8" cy="570.3" r="4.1"/>
<circle cx="1746.9" cy="529.9" r="4.1"/>
<circle cx="1747.0" cy="573.0" r="4.1"/>
<circle cx="1747.0" cy="560.3" r="4.1"/>
<circle cx="1747.1" cy="558.6" r="4.1"/>
<circle cx="1747.2" cy="569.5" r="4.1"/>
<circle cx="1747.5" cy="574.1" r="4.1"/>
<circle cx="1747.6" cy="556.2" r="4.1"/>
<circle cx="1747.8" cy="568.3" r="4.1"/>
<circle cx="1748.1" cy="566.6" r="4.1"/>
<circle cx="1748.6" cy="571.4" r="4.1"/>
<circle cx="1748.6" cy="573.0" r="4.1"/>
<circle cx="1749.1" cy="547.4" r="4.1"/>
<circle cx="1749.2" cy="569.3" r="4.1"/>
<circle cx="1749.3" cy="563.5" r="4.1"/>
<circle cx="1749.3" cy="565.5" r="4.1"/>
<circle cx="1749.3" cy="556.9" r="4.1"/>
<circle cx="1749.3" cy="573.5" r="4.1"/>
<circle cx="1749.4" cy="558.0" r="4.1"/>
<circle cx="1749.6" cy="545.1" r="4.1"/>
<circle cx="1749.6" cy="550.7" r="4.1"/>
<circle cx="1749.7" cy="561.8" r="4.1"/>
<circle cx="1749.7" cy="544.8" r="4.1"/>
<circle cx="1749.8" cy="556.0" r="4.1"/>
<circle cx="1749.8" cy="537.8" r="4.1"/>
<circle cx="1750.3" cy="570.8" r="4.1"/>
<circle cx="1750.4" cy="550.5" r="4.1"/>
<circle cx="1750.4" cy="569.4" r="4.1"/>
<circle cx="1750.5" cy="572.1" r="4.1"/>
<circle cx="1750.7" cy="573.9" r="4.1"/>
<circle cx="1750.8" cy="571.7" r="4.1"/>
<circle cx="1750.8" cy="549.3" r="4.1"/>
<circle cx="1750.9" cy="547.6" r="4.1"/>
<circle cx="1751.0" cy="569.2" r="4.1"/>
<circle cx="1751.1" cy="532.4" r="4.1"/>
<circle cx="1751.3" cy="538.8" r="4.1"/>
<circle cx="1751.3" cy="566.5" r="4.1"/>
<circle cx="1751.5" cy="574.4" r="4.1"/>
<circle cx="1751.7" cy="556.3" r="4.1"/>
<circle cx="1751.7" cy="555.2" r="4.1"/>
<circle cx="1752.0" cy="571.4" r="4.1"/>
<circle cx="1752.1" cy="575.4" r="4.1"/>
<circle cx="1752.1" cy="566.5" r="4.1"/>
<circle cx="1752.4" cy="478.4" r="4.1"/>
<circle cx="1752.5" cy="573.3" r="4.1"/>
<circle cx="1752.6" cy="569.2" r="4.1"/>
<circle cx="1752.6" cy="574.2" r="4.1"/>
<circle cx="1752.7" cy="559.2" r="4.1"/>
<circle cx="1752.8" cy="501.3" r="4.1"/>
<circle cx="1752.9" cy="555.7" r="4.1"/>
<circle cx="1753.0" cy="571.5" r="4.1"/>
<circle cx="1753.4" cy="539.9" r="4.1"/>
<circle cx="1753.4" cy="560.6" r="4.1"/>
<circle cx="1753.4" cy="545.0" r="4.1"/>
<circle cx="1753.5" cy="563.2" r="4.1"/>
<circle cx="1753.5" cy="543.5" r="4.1"/>
<circle cx="1753.5" cy="573.7" r="4.1"/>
<circle cx="1753.6" cy="570.4" r="4.1"/>
<circle cx="1753.7" cy="573.5" r="4.1"/>
<circle cx="1753.8" cy="562.7" r="4.1"/>
<circle cx="1753.8" cy="547.0" r="4.1"/>
<circle cx="1753.9" cy="567.7" r="4.1"/>
<circle cx="1753.9" cy="574.0" r="4.1"/>
<circle cx="1753.9" cy="575.1" r="4.1"/>
<circle cx="1753.9" cy="568.0" r="4.1"/>
<circle cx="1754.0" cy="523.7" r="4.1"/>
<circle cx="1754.1" cy="562.7" r="4.1"/>
<circle cx="1754.1" cy="572.4" r="4.1"/>
<circle cx="1754.2" cy="558.6" r="4.1"/>
<circle cx="1754.3" cy="575.3" r="4.1"/>
<circle cx="1754.4" cy="519.8" r="4.1"/>
<circle cx="1754.4" cy="573.4" r="4.1"/>
<circle cx="1754.5" cy="566.6" r="4.1"/>
<circle cx="1754.5" cy="557.6" r="4.1"/>
<circle cx="1754.7" cy="569.7" r="4.1"/>
<circle cx="1754.7" cy="571.0" r="4.1"/>
<circle cx="1754.8" cy="547.5" r="4.1"/>
<circle cx="1754.8" cy="561.7" r="4.1"/>
<circle cx="1754.8" cy="555.4" r="4.1"/>
<circle cx="1755.1" cy="574.1" r="4.1"/>
<circle cx="1755.1" cy="575.1" r="4.1"/>
<circle cx="1755.2" cy="541.4" r="4.1"/>
<circle cx="1755.3" cy="544.0" r="4.1"/>
<circle cx="1755.4" cy="575.5" r="4.1"/>
<circle cx="1755.5" cy="567.2" r="4.1"/>
<circle cx="1755.6" cy="562.8" r="4.1"/>
<circle cx="1755.7" cy="566.9" r="4.1"/>
<circle cx="1755.7" cy="563.2" r="4.1"/>
<circle cx="1755.7" cy="570.3" r="4.1"/>
<circle cx="1755.7" cy="569.1" r="4.1"/>
<circle cx="1755.7" cy="559.5" r="4.1"/>
<circle cx="1756.0" cy="574.6" r="4.1"/>
<circle cx="1756.1" cy="556.8" r="4.1"/>
<circle cx="1756.1" cy="565.0" r="4.1"/>
<circle cx="1756.2" cy="556.2" r="4.1"/>
<circle cx="1756.4" cy="489.9" r="4.1"/>
<circle cx="1756.5" cy="529.8" r="4.1"/>
<circle cx="1756.9" cy="566.1" r="4.1"/>
<circle cx="1756.9" cy="574.2" r="4.1"/>
<circle cx="1757.0" cy="547.3" r="4.1"/>
<circle cx="1757.0" cy="559.5" r="4.1"/>
<circle cx="1757.5" cy="553.0" r="4.1"/>
<circle cx="1757.6" cy="568.5" r="4.1"/>
<circle cx="1757.7" cy="559.4" r="4.1"/>
<circle cx="1757.7" cy="567.3" r="4.1"/>
<circle cx="1757.7" cy="574.3" r="4.1"/>
<circle cx="1758.2" cy="568.8" r="4.1"/>
<circle cx="1758.3" cy="558.9" r="4.1"/>
<circle cx="1758.3" cy="572.7" r="4.1"/>
<circle cx="1758.7" cy="560.4" r="4.1"/>
<circle cx="1758.8" cy="545.3" r="4.1"/>
<circle cx="1758.9" cy="571.8" r="4.1"/>
<circle cx="1758.9" cy="573.7" r="4.1"/>
<circle cx="1759.2" cy="539.2" r="4.1"/>
<circle cx="1759.4" cy="567.8" r="4.1"/>
<circle cx="1759.5" cy="550.5" r="4.1"/>
<circle cx="1759.5" cy="562.9" r="4.1"/>
<circle cx="1759.5" cy="569.0" r="4.1"/>
<circle cx="1759.7" cy="555.3" r="4.1"/>
<circle cx="1759.7" cy="569.9" r="4.1"/>
<circle cx="1760.1" cy="572.2" r="4.1"/>
<circle cx="1760.2" cy="549.3" r="4.1"/>
<circle cx="1760.2" cy="548.4" r="4.1"/>
<circle cx="1760.3" cy="560.0" r="4.1"/>
<circle cx="1760.4" cy="537.0" r="4.1"/>
<circle cx="1760.4" cy="567.4" r="4.1"/>
<circle cx="1760.4" cy="541.8" r="4.1"/>
<circle cx="1760.4" cy="566.0" r="4.1"/>
<circle cx="1760.7" cy="571.7" r="4.1"/>
<circle cx="1760.8" cy="567.7" r="4.1"/>
<circle cx="1760.9" cy="573.1" r="4.1"/>
<circle cx="1760.9" cy="566.6" r="4.1"/>
<circle cx="1761.3" cy="574.4" r="4.1"/>
<circle cx="1761.5" cy="519.5" r="4.1"/>
<circle cx="1761.5" cy="540.9" r="4.1"/>
<circle cx="1761.6" cy="571.1" r="4.1"/>
<circle cx="1761.7" cy="563.4" r="4.1"/>
<circle cx="1761.7" cy="547.0" r="4.1"/>
<circle cx="1761.7" cy="556.6" r="4.1"/>
<circle cx="1761.8" cy="563.0" r="4.1"/>
<circle cx="1762.0" cy="542.4" r="4.1"/>
<circle cx="1762.1" cy="573.6" r="4.1"/>
<circle cx="1762.2" cy="572.7" r="4.1"/>
<circle cx="1762.3" cy="564.2" r="4.1"/>
<circle cx="1762.3" cy="569.9" r="4.1"/>
<circle cx="1762.5" cy="563.8" r="4.1"/>
<circle cx="1762.6" cy="568.7" r="4.1"/>
<circle cx="1762.7" cy="526.0" r="4.1"/>
<circle cx="1762.8" cy="553.1" r="4.1"/>
<circle cx="1763.0" cy="559.0" r="4.1"/>
<circle cx="1763.2" cy="571.3" r="4.1"/>
<circle cx="1763.3" cy="570.9" r="4.1"/>
<circle cx="1763.4" cy="532.3" r="4.1"/>
<circle cx="1763.5" cy="570.7" r="4.1"/>
<circle cx="1763.7" cy="571.0" r="4.1"/>
<circle cx="1763.9" cy="562.3" r="4.1"/>
<circle cx="1763.9" cy="574.9" r="4.1"/>
<circle cx="1764.0" cy="530.6" r="4.1"/>
<circle cx="1764.1" cy="564.5" r="4.1"/>
<circle cx="1764.1" cy="565.2" r="4.1"/>
<circle cx="1764.2" cy="565.8" r="4.1"/>
<circle cx="1764.3" cy="562.2" r="4.1"/>
<circle cx="1764.3" cy="566.5" r="4.1"/>
<circle cx="1764.3" cy="572.3" r="4.1"/>
<circle cx="1764.4" cy="540.5" r="4.1"/>
<circle cx="1764.5" cy="567.4" r="4.1"/>
<circle cx="1764.6" cy="568.9" r="4.1"/>
<circle cx="1764.6" cy="549.2" r="4.1"/>
<circle cx="1764.6" cy="536.7" r="4.1"/>
<circle cx="1764.8" cy="570.6" r="4.1"/>
<circle cx="1764.8" cy="568.8" r="4.1"/>
<circle cx="1764.8" cy="569.1" r="4.1"/>
<circle cx="1765.0" cy="569.3" r="4.1"/>
<circle cx="1765.6" cy="552.3" r="4.1"/>
<circle cx="1765.7" cy="543.8" r="4.1"/>
<circle cx="1765.9" cy="570.3" r="4.1"/>
<circle cx="1765.9" cy="555.3" r="4.1"/>
<circle cx="1765.9" cy="567.6" r="4.1"/>
<circle cx="1766.0" cy="539.9" r="4.1"/>
<circle cx="1766.1" cy="564.0" r="4.1"/>
<circle cx="1766.1" cy="550.7" r="4.1"/>
<circle cx="1766.2" cy="570.8" r="4.1"/>
<circle cx="1766.3" cy="553.3" r="4.1"/>
<circle cx="1766.4" cy="570.2" r="4.1"/>
<circle cx="1766.7" cy="559.1" r="4.1"/>
<circle cx="1766.7" cy="553.1" r="4.1"/>
<circle cx="1766.8" cy="550.3" r="4.1"/>
<circle cx="1766.9" cy="572.0" r="4.1"/>
<circle cx="1767.1" cy="532.1" r="4.1"/>
<circle cx="1767.1" cy="542.6" r="4.1"/>
<circle cx="1767.5" cy="564.8" r="4.1"/>
<circle cx="1767.5" cy="565.7" r="4.1"/>
<circle cx="1767.6" cy="569.6" r="4.1"/>
<circle cx="1767.6" cy="521.9" r="4.1"/>
<circle cx="1767.8" cy="479.4" r="4.1"/>
<circle cx="1767.9" cy="561.6" r="4.1"/>
<circle cx="1767.9" cy="568.6" r="4.1"/>
<circle cx="1768.0" cy="571.9" r="4.1"/>
<circle cx="1768.2" cy="574.4" r="4.1"/>
<circle cx="1768.3" cy="556.3" r="4.1"/>
<circle cx="1768.4" cy="560.2" r="4.1"/>
<circle cx="1768.4" cy="566.2" r="4.1"/>
<circle cx="1768.6" cy="568.2" r="4.1"/>
<circle cx="1768.6" cy="553.7" r="4.1"/>
<circle cx="1768.7" cy="569.3" r="4.1"/>
<circle cx="1768.8" cy="567.4" r="4.1"/>
<circle cx="1768.9" cy="564.0" r="4.1"/>
<circle cx="1769.1" cy="575.2" r="4.1"/>
<circle cx="1769.2" cy="565.8" r="4.1"/>
<circle cx="1769.3" cy="549.4" r="4.1"/>
<circle cx="1769.4" cy="539.7" r="4.1"/>
<circle cx="1769.5" cy="571.9" r="4.1"/>
<circle cx="1769.5" cy="571.1" r="4.1"/>
<circle cx="1769.5" cy="571.0" r="4.1"/>
<circle cx="1769.6" cy="568.7" r="4.1"/>
<circle cx="1769.7" cy="568.3" r="4.1"/>
<circle cx="1769.7" cy="563.3" r="4.1"/>
<circle cx="1769.7" cy="558.6" r="4.1"/>
<circle cx="1769.7" cy="562.8" r="4.1"/>
<circle cx="1769.8" cy="572.0" r="4.1"/>
<circle cx="1769.8" cy="536.1" r="4.1"/>
<circle cx="1769.9" cy="572.9" r="4.1"/>
<circle cx="1769.9" cy="566.6" r="4.1"/>
<circle cx="1770.0" cy="566.6" r="4.1"/>
<circle cx="1770.2" cy="564.6" r="4.1"/>
<circle cx="1770.3" cy="574.3" r="4.1"/>
<circle cx="1770.3" cy="572.7" r="4.1"/>
<circle cx="1770.3" cy="526.1" r="4.1"/>
<circle cx="1770.4" cy="570.1" r="4.1"/>
<circle cx="1770.4" cy="531.9" r="4.1"/>
<circle cx="1770.4" cy="557.8" r="4.1"/>
<circle cx="1770.6" cy="571.2" r="4.1"/>
<circle cx="1770.7" cy="565.4" r="4.1"/>
<circle cx="1770.8" cy="572.5" r="4.1"/>
<circle cx="1770.8" cy="563.1" r="4.1"/>
<circle cx="1770.9" cy="536.6" r="4.1"/>
<circle cx="1771.0" cy="574.7" r="4.1"/>
<circle cx="1771.1" cy="533.0" r="4.1"/>
<circle cx="1771.1" cy="572.9" r="4.1"/>
<circle cx="1771.1" cy="570.1" r="4.1"/>
<circle cx="1771.6" cy="522.3" r="4.1"/>
<circle cx="1771.6" cy="571.7" r="4.1"/>
<circle cx="1771.6" cy="519.3" r="4.1"/>
<circle cx="1772.1" cy="570.4" r="4.1"/>
<circle cx="1772.1" cy="513.4" r="4.1"/>
<circle cx="1772.2" cy="568.5" r="4.1"/>
<circle cx="1772.3" cy="573.3" r="4.1"/>
<circle cx="1772.3" cy="547.9" r="4.1"/>
<circle cx="1772.4" cy="479.9" r="4.1"/>
<circle cx="1772.4" cy="563.7" r="4.1"/>
<circle cx="1772.6" cy="557.6" r="4.1"/>
<circle cx="1772.6" cy="573.4" r="4.1"/>
<circle cx="1772.7" cy="556.3" r="4.1"/>
<circle cx="1772.8" cy="487.7" r="4.1"/>
<circle cx="1772.8" cy="522.7" r="4.1"/>
<circle cx="1773.0" cy="569.5" r="4.1"/>
<circle cx="1773.2" cy="513.0" r="4.1"/>
<circle cx="1773.2" cy="530.2" r="4.1"/>
<circle cx="1773.4" cy="516.5" r="4.1"/>
<circle cx="1773.4" cy="561.1" r="4.1"/>
<circle cx="1773.7" cy="539.1" r="4.1"/>
<circle cx="1773.8" cy="563.5" r="4.1"/>
<circle cx="1773.8" cy="545.3" r="4.1"/>
<circle cx="1774.0" cy="572.6" r="4.1"/>
<circle cx="1774.0" cy="573.5" r="4.1"/>
<circle cx="1774.1" cy="546.1" r="4.1"/>
<circle cx="1774.2" cy="565.7" r="4.1"/>
<circle cx="1774.2" cy="571.4" r="4.1"/>
<circle cx="1774.2" cy="492.7" r="4.1"/>
<circle cx="1774.3" cy="561.1" r="4.1"/>
<circle cx="1774.5" cy="536.2" r="4.1"/>
<circle cx="1774.6" cy="571.0" r="4.1"/>
<circle cx="1774.8" cy="546.1" r="4.1"/>
<circle cx="1774.9" cy="557.6" r="4.1"/>
<circle cx="1774.9" cy="560.9" r="4.1"/>
<circle cx="1775.1" cy="549.2" r="4.1"/>
<circle cx="1775.3" cy="549.8" r="4.1"/>
<circle cx="1775.4" cy="562.0" r="4.1"/>
<circle cx="1775.5" cy="571.0" r="4.1"/>
<circle cx="1775.5" cy="539.3" r="4.1"/>
<circle cx="1775.5" cy="557.1" r="4.1"/>
<circle cx="1775.6" cy="548.8" r="4.1"/>
<circle cx="1775.6" cy="561.5" r="4.1"/>
<circle cx="1775.8" cy="556.3" r="4.1"/>
<circle cx="1775.8" cy="557.5" r="4.1"/>
<circle cx="1776.2" cy="572.6" r="4.1"/>
<circle cx="1776.4" cy="574.5" r="4.1"/>
<circle cx="1776.4" cy="533.7" r="4.1"/>
<circle cx="1776.4" cy="560.6" r="4.1"/>
<circle cx="1776.7" cy="572.5" r="4.1"/>
<circle cx="1777.0" cy="566.0" r="4.1"/>
<circle cx="1777.0" cy="571.0" r="4.1"/>
<circle cx="1777.1" cy="571.1" r="4.1"/>
<circle cx="1777.2" cy="562.9" r="4.1"/>
<circle cx="1777.3" cy="561.1" r="4.1"/>
<circle cx="1777.4" cy="550.8" r="4.1"/>
<circle cx="1777.4" cy="559.8" r="4.1"/>
<circle cx="1777.5" cy="482.7" r="4.1"/>
<circle cx="1777.5" cy="515.2" r="4.1"/>
<circle cx="1777.5" cy="571.3" r="4.1"/>
<circle cx="1777.6" cy="542.4" r="4.1"/>
<circle cx="1777.8" cy="489.9" r="4.1"/>
<circle cx="1777.9" cy="560.8" r="4.1"/>
<circle cx="1778.0" cy="559.3" r="4.1"/>
<circle cx="1778.0" cy="554.2" r="4.1"/>
<circle cx="1778.0" cy="568.0" r="4.1"/>
<circle cx="1778.1" cy="550.4" r="4.1"/>
<circle cx="1778.1" cy="508.4" r="4.1"/>
<circle cx="1778.2" cy="552.3" r="4.1"/>
<circle cx="1778.3" cy="549.9" r="4.1"/>
<circle cx="1778.3" cy="563.1" r="4.1"/>
<circle cx="1778.5" cy="563.8" r="4.1"/>
<circle cx="1778.5" cy="539.2" r="4.1"/>
<circle cx="1778.7" cy="563.9" r="4.1"/>
<circle cx="1778.8" cy="562.3" r="4.1"/>
<circle cx="1778.8" cy="557.8" r="4.1"/>
<circle cx="1778.9" cy="552.9" r="4.1"/>
<circle cx="1779.1" cy="567.9" r="4.1"/>
<circle cx="1779.3" cy="565.5" r="4.1"/>
<circle cx="1779.5" cy="572.6" r="4.1"/>
<circle cx="1779.6" cy="562.7" r="4.1"/>
<circle cx="1779.8" cy="560.3" r="4.1"/>
<circle cx="1779.8" cy="562.6" r="4.1"/>
<circle cx="1779.8" cy="555.2" r="4.1"/>
<circle cx="1779.9" cy="527.8" r="4.1"/>
<circle cx="1779.9" cy="559.6" r="4.1"/>
<circle cx="1780.0" cy="552.4" r="4.1"/>
<circle cx="1780.1" cy="572.0" r="4.1"/>
<circle cx="1780.5" cy="562.2" r="4.1"/>
<circle cx="1780.5" cy="573.3" r="4.1"/>
<circle cx="1780.5" cy="541.0" r="4.1"/>
<circle cx="1780.7" cy="571.4" r="4.1"/>
<circle cx="1780.7" cy="552.3" r="4.1"/>
<circle cx="1780.8" cy="564.5" r="4.1"/>
<circle cx="1781.0" cy="523.9" r="4.1"/>
<circle cx="1781.1" cy="541.3" r="4.1"/>
<circle cx="1781.1" cy="535.9" r="4.1"/>
<circle cx="1781.1" cy="536.6" r="4.1"/>
<circle cx="1781.2" cy="546.8" r="4.1"/>
<circle cx="1781.3" cy="573.7" r="4.1"/>
<circle cx="1781.4" cy="525.5" r="4.1"/>
<circle cx="1781.7" cy="555.3" r="4.1"/>
<circle cx="1781.7" cy="520.0" r="4.1"/>
<circle cx="1781.8" cy="534.6" r="4.1"/>
<circle cx="1781.8" cy="528.5" r="4.1"/>
<circle cx="1782.3" cy="569.9" r="4.1"/>
<circle cx="1782.4" cy="521.7" r="4.1"/>
<circle cx="1782.4" cy="568.2" r="4.1"/>
<circle cx="1782.4" cy="525.1" r="4.1"/>
<circle cx="1782.5" cy="559.5" r="4.1"/>
<circle cx="1782.6" cy="573.6" r="4.1"/>
<circle cx="1782.6" cy="557.8" r="4.1"/>
<circle cx="1783.0" cy="544.6" r="4.1"/>
<circle cx="1783.1" cy="565.4" r="4.1"/>
<circle cx="1783.3" cy="556.0" r="4.1"/>
<circle cx="1783.4" cy="552.1" r="4.1"/>
<circle cx="1783.4" cy="553.1" r="4.1"/>
<circle cx="1783.4" cy="554.1" r="4.1"/>
<circle cx="1783.5" cy="484.2" r="4.1"/>
<circle cx="1783.5" cy="492.0" r="4.1"/>
<circle cx="1783.6" cy="560.4" r="4.1"/>
<circle cx="1784.1" cy="556.5" r="4.1"/>
<circle cx="1784.1" cy="556.7" r="4.1"/>
<circle cx="1784.3" cy="556.2" r="4.1"/>
<circle cx="1784.4" cy="529.5" r="4.1"/>
<circle cx="1784.5" cy="519.0" r="4.1"/>
<circle cx="1784.5" cy="572.7" r="4.1"/>
<circle cx="1784.6" cy="533.1" r="4.1"/>
<circle cx="1784.9" cy="527.5" r="4.1"/>
<circle cx="1784.9" cy="530.0" r="4.1"/>
<circle cx="1785.0" cy="550.4" r="4.1"/>
<circle cx="1785.2" cy="532.4" r="4.1"/>
<circle cx="1785.2" cy="550.9" r="4.1"/>
<circle cx="1785.2" cy="571.6" r="4.1"/>
<circle cx="1785.4" cy="570.8" r="4.1"/>
<circle cx="1785.4" cy="570.6" r="4.1"/>
<circle cx="1785.4" cy="541.8" r="4.1"/>
<circle cx="1785.6" cy="569.1" r="4.1"/>
<circle cx="1785.7" cy="573.7" r="4.1"/>
<circle cx="1785.7" cy="575.3" r="4.1"/>
<circle cx="1785.8" cy="529.9" r="4.1"/>
<circle cx="1786.0" cy="499.3" r="4.1"/>
<circle cx="1786.1" cy="548.3" r="4.1"/>
<circle cx="1786.1" cy="531.2" r="4.1"/>
<circle cx="1786.2" cy="541.9" r="4.1"/>
<circle cx="1786.5" cy="534.2" r="4.1"/>
<circle cx="1786.5" cy="570.5" r="4.1"/>
<circle cx="1786.6" cy="562.8" r="4.1"/>
<circle cx="1786.7" cy="560.2" r="4.1"/>
<circle cx="1786.7" cy="563.8" r="4.1"/>
<circle cx="1786.8" cy="505.8" r="4.1"/>
<circle cx="1786.9" cy="567.6" r="4.1"/>
<circle cx="1787.0" cy="541.9" r="4.1"/>
<circle cx="1787.1" cy="549.2" r="4.1"/>
<circle cx="1787.2" cy="546.6" r="4.1"/>
<circle cx="1787.2" cy="568.9" r="4.1"/>
<circle cx="1787.3" cy="503.6" r="4.1"/>
<circle cx="1787.5" cy="561.0" r="4.1"/>
<circle cx="1787.9" cy="566.5" r="4.1"/>
<circle cx="1788.0" cy="557.6" r="4.1"/>
<circle cx="1788.0" cy="549.6" r="4.1"/>
<circle cx="1788.1" cy="559.7" r="4.1"/>
<circle cx="1788.2" cy="566.7" r="4.1"/>
<circle cx="1788.3" cy="530.9" r="4.1"/>
<circle cx="1788.7" cy="554.1" r="4.1"/>
<circle cx="1788.9" cy="544.8" r="4.1"/>
<circle cx="1788.9" cy="560.0" r="4.1"/>
<circle cx="1789.0" cy="575.1" r="4.1"/>
<circle cx="1789.0" cy="559.4" r="4.1"/>
<circle cx="1789.0" cy="506.0" r="4.1"/>
<circle cx="1789.1" cy="557.8" r="4.1"/>
<circle cx="1789.2" cy="499.4" r="4.1"/>
<circle cx="1789.3" cy="575.3" r="4.1"/>
<circle cx="1789.3" cy="573.8" r="4.1"/>
<circle cx="1789.4" cy="514.6" r="4.1"/>
<circle cx="1789.5" cy="565.5" r="4.1"/>
<circle cx="1789.6" cy="560.6" r="4.1"/>
<circle cx="1789.6" cy="573.8" r="4.1"/>
<circle cx="1789.7" cy="558.2" r="4.1"/>
<circle cx="1789.8" cy="559.9" r="4.1"/>
<circle cx="1789.9" cy="523.9" r="4.1"/>
<circle cx="1790.0" cy="537.7" r="4.1"/>
<circle cx="1790.1" cy="506.5" r="4.1"/>
<circle cx="1790.1" cy="569.8" r="4.1"/>
<circle cx="1790.1" cy="567.4" r="4.1"/>
<circle cx="1790.4" cy="516.1" r="4.1"/>
<circle cx="1790.4" cy="542.9" r="4.1"/>
<circle cx="1790.4" cy="569.0" r="4.1"/>
<circle cx="1790.4" cy="562.3" r="4.1"/>
<circle cx="1790.5" cy="511.3" r="4.1"/>
<circle cx="1790.5" cy="536.8" r="4.1"/>
<circle cx="1790.6" cy="566.3" r="4.1"/>
<circle cx="1790.7" cy="541.1" r="4.1"/>
<circle cx="1791.1" cy="575.5" r="4.1"/>
<circle cx="1791.1" cy="571.8" r="4.1"/>
<circle cx="1791.2" cy="554.4" r="4.1"/>
<circle cx="1791.3" cy="524.3" r="4.1"/>
<circle cx="1791.4" cy="554.1" r="4.1"/>
<circle cx="1791.4" cy="566.7" r="4.1"/>
<circle cx="1791.4" cy="520.1" r="4.1"/>
<circle cx="1791.6" cy="557.7" r="4.1"/>
<circle cx="1791.7" cy="534.7" r="4.1"/>
<circle cx="1791.7" cy="558.6" r="4.1"/>
<circle cx="1791.8" cy="561.2" r="4.1"/>
<circle cx="1792.0" cy="568.6" r="4.1"/>
<circle cx="1792.0" cy="564.9" r="4.1"/>
<circle cx="1792.2" cy="571.1" r="4.1"/>
<circle cx="1792.5" cy="563.8" r="4.1"/>
<circle cx="1792.5" cy="564.1" r="4.1"/>
<circle cx="1792.6" cy="559.9" r="4.1"/>
<circle cx="1792.8" cy="518.9" r="4.1"/>
<circle cx="1792.9" cy="563.9" r="4.1"/>
<circle cx="1792.9" cy="554.3" r="4.1"/>
<circle cx="1793.0" cy="555.3" r="4.1"/>
<circle cx="1793.0" cy="550.8" r="4.1"/>
<circle cx="1793.0" cy="518.2" r="4.1"/>
<circle cx="1793.2" cy="567.6" r="4.1"/>
<circle cx="1793.2" cy="574.7" r="4.1"/>
<circle cx="1793.2" cy="554.2" r="4.1"/>
<circle cx="1793.3" cy="574.6" r="4.1"/>
<circle cx="1793.3" cy="572.2" r="4.1"/>
<circle cx="1793.3" cy="525.0" r="4.1"/>
<circle cx="1793.3" cy="548.2" r="4.1"/>
<circle cx="1793.3" cy="538.4" r="4.1"/>
<circle cx="1793.4" cy="568.5" r="4.1"/>
<circle cx="1793.5" cy="575.2" r="4.1"/>
<circle cx="1793.5" cy="569.7" r="4.1"/>
<circle cx="1793.7" cy="568.0" r="4.1"/>
<circle cx="1793.8" cy="543.4" r="4.1"/>
<circle cx="1794.0" cy="557.4" r="4.1"/>
<circle cx="1794.1" cy="554.7" r="4.1"/>
<circle cx="1794.1" cy="508.5" r="4.1"/>
<circle cx="1794.1" cy="566.8" r="4.1"/>
<circle cx="1794.1" cy="548.9" r="4.1"/>
<circle cx="1794.3" cy="568.7" r="4.1"/>
<circle cx="1794.3" cy="546.9" r="4.1"/>
<circle cx="1794.5" cy="544.3" r="4.1"/>
<circle cx="1794.5" cy="540.1" r="4.1"/>
<circle cx="1794.5" cy="565.8" r="4.1"/>
<circle cx="1794.5" cy="537.6" r="4.1"/>
<circle cx="1794.5" cy="556.9" r="4.1"/>
<circle cx="1794.7" cy="565.0" r="4.1"/>
<circle cx="1794.9" cy="568.0" r="4.1"/>
<circle cx="1794.9" cy="569.1" r="4.1"/>
<circle cx="1794.9" cy="498.4" r="4.1"/>
<circle cx="1795.0" cy="574.1" r="4.1"/>
<circle cx="1795.4" cy="562.5" r="4.1"/>
<circle cx="1795.6" cy="510.5" r="4.1"/>
<circle cx="1795.7" cy="537.6" r="4.1"/>
<circle cx="1795.9" cy="566.6" r="4.1"/>
<circle cx="1796.0" cy="463.9" r="4.1"/>
<circle cx="1796.1" cy="568.8" r="4.1"/>
<circle cx="1796.1" cy="574.4" r="4.1"/>
<circle cx="1796.2" cy="538.1" r="4.1"/>
<circle cx="1796.2" cy="551.4" r="4.1"/>
<circle cx="1796.3" cy="573.9" r="4.1"/>
<circle cx="1796.3" cy="467.0" r="4.1"/>
<circle cx="1796.3" cy="508.1" r="4.1"/>
<circle cx="1796.4" cy="574.3" r="4.1"/>
<circle cx="1796.4" cy="568.9" r="4.1"/>
<circle cx="1796.4" cy="568.4" r="4.1"/>
<circle cx="1796.5" cy="548.1" r="4.1"/>
<circle cx="1796.6" cy="575.0" r="4.1"/>
<circle cx="1796.6" cy="517.1" r="4.1"/>
<circle cx="1796.8" cy="540.4" r="4.1"/>
<circle cx="1796.9" cy="572.2" r="4.1"/>
<circle cx="1797.0" cy="556.0" r="4.1"/>
<circle cx="1797.0" cy="531.2" r="4.1"/>
<circle cx="1797.1" cy="572.2" r="4.1"/>
<circle cx="1797.1" cy="575.4" r="4.1"/>
<circle cx="1797.2" cy="565.9" r="4.1"/>
<circle cx="1797.2" cy="526.8" r="4.1"/>
<circle cx="1797.2" cy="555.9" r="4.1"/>
<circle cx="1797.3" cy="552.2" r="4.1"/>
<circle cx="1797.5" cy="555.8" r="4.1"/>
<circle cx="1797.6" cy="537.5" r="4.1"/>
<circle cx="1797.6" cy="571.5" r="4.1"/>
<circle cx="1797.6" cy="506.5" r="4.1"/>
<circle cx="1797.8" cy="546.9" r="4.1"/>
<circle cx="1798.0" cy="574.0" r="4.1"/>
<circle cx="1798.2" cy="417.4" r="4.1"/>
<circle cx="1798.2" cy="447.4" r="4.1"/>
<circle cx="1798.2" cy="570.3" r="4.1"/>
<circle cx="1798.3" cy="512.0" r="4.1"/>
<circle cx="1798.5" cy="552.8" r="4.1"/>
<circle cx="1798.7" cy="566.6" r="4.1"/>
<circle cx="1799.0" cy="553.0" r="4.1"/>
<circle cx="1799.2" cy="455.9" r="4.1"/>
<circle cx="1799.2" cy="567.2" r="4.1"/>
<circle cx="1799.3" cy="565.7" r="4.1"/>
<circle cx="1799.4" cy="553.0" r="4.1"/>
<circle cx="1799.4" cy="568.8" r="4.1"/>
<circle cx="1799.4" cy="525.4" r="4.1"/>
<circle cx="1799.4" cy="558.8" r="4.1"/>
<circle cx="1799.5" cy="568.2" r="4.1"/>
<circle cx="1799.7" cy="547.2" r="4.1"/>
<circle cx="1800.2" cy="569.1" r="4.1"/>
<circle cx="1800.2" cy="535.8" r="4.1"/>
<circle cx="1800.3" cy="566.7" r="4.1"/>
<circle cx="1800.4" cy="559.6" r="4.1"/>
<circle cx="1800.4" cy="572.7" r="4.1"/>
<circle cx="1800.7" cy="563.7" r="4.1"/>
<circle cx="1800.7" cy="569.3" r="4.1"/>
<circle cx="1801.0" cy="569.0" r="4.1"/>
<circle cx="1801.1" cy="565.9" r="4.1"/>
<circle cx="1801.2" cy="551.2" r="4.1"/>
<circle cx="1801.3" cy="573.0" r="4.1"/>
<circle cx="1801.3" cy="535.4" r="4.1"/>
<circle cx="1801.5" cy="522.1" r="4.1"/>
<circle cx="1801.6" cy="544.3" r="4.1"/>
<circle cx="1801.6" cy="571.8" r="4.1"/>
<circle cx="1801.6" cy="546.0" r="4.1"/>
<circle cx="1801.7" cy="543.4" r="4.1"/>
<circle cx="1802.0" cy="572.9" r="4.1"/>
<circle cx="1802.3" cy="573.3" r="4.1"/>
<circle cx="1802.3" cy="548.6" r="4.1"/>
<circle cx="1802.5" cy="563.9" r="4.1"/>
<circle cx="1802.7" cy="528.0" r="4.1"/>
<circle cx="1802.8" cy="568.2" r="4.1"/>
<circle cx="1802.9" cy="558.6" r="4.1"/>
<circle cx="1802.9" cy="561.9" r="4.1"/>
<circle cx="1803.1" cy="549.3" r="4.1"/>
<circle cx="1803.1" cy="530.7" r="4.1"/>
<circle cx="1803.1" cy="560.7" r="4.1"/>
<circle cx="1803.3" cy="553.0" r="4.1"/>
<circle cx="1803.4" cy="492.7" r="4.1"/>
<circle cx="1803.5" cy="559.5" r="4.1"/>
<circle cx="1803.5" cy="564.4" r="4.1"/>
<circle cx="1803.5" cy="569.0" r="4.1"/>
<circle cx="1803.6" cy="539.7" r="4.1"/>
<circle cx="1803.6" cy="533.2" r="4.1"/>
<circle cx="1803.6" cy="554.2" r="4.1"/>
<circle cx="1803.6" cy="569.7" r="4.1"/>
<circle cx="1803.8" cy="528.5" r="4.1"/>
<circle cx="1803.9" cy="571.0" r="4.1"/>
<circle cx="1803.9" cy="571.6" r="4.1"/>
<circle cx="1803.9" cy="559.8" r="4.1"/>
<circle cx="1803.9" cy="540.5" r="4.1"/>
<circle cx="1804.4" cy="542.7" r="4.1"/>
<circle cx="1804.5" cy="544.3" r="4.1"/>
<circle cx="1804.6" cy="491.8" r="4.1"/>
<circle cx="1804.6" cy="551.5" r="4.1"/>
<circle cx="1804.7" cy="563.0" r="4.1"/>
<circle cx="1804.8" cy="570.5" r="4.1"/>
<circle cx="1805.0" cy="541.7" r="4.1"/>
<circle cx="1805.1" cy="546.6" r="4.1"/>
<circle cx="1805.2" cy="562.0" r="4.1"/>
<circle cx="1805.2" cy="538.2" r="4.1"/>
<circle cx="1805.6" cy="549.8" r="4.1"/>
<circle cx="1805.6" cy="531.1" r="4.1"/>
<circle cx="1805.6" cy="567.4" r="4.1"/>
<circle cx="1805.8" cy="572.6" r="4.1"/>
<circle cx="1805.9" cy="551.6" r="4.1"/>
<circle cx="1805.9" cy="492.6" r="4.1"/>
<circle cx="1806.0" cy="543.0" r="4.1"/>
<circle cx="1806.2" cy="504.2" r="4.1"/>
<circle cx="1806.3" cy="498.4" r="4.1"/>
<circle cx="1806.4" cy="569.3" r="4.1"/>
<circle cx="1806.4" cy="574.9" r="4.1"/>
<circle cx="1806.5" cy="556.5" r="4.1"/>
<circle cx="1806.6" cy="570.3" r="4.1"/>
<circle cx="1806.8" cy="525.9" r="4.1"/>
<circle cx="1806.9" cy="537.4" r="4.1"/>
<circle cx="1807.1" cy="568.8" r="4.1"/>
<circle cx="1807.3" cy="555.6" r="4.1"/>
<circle cx="1807.5" cy="565.5" r="4.1"/>
<circle cx="1807.7" cy="563.0" r="4.1"/>
<circle cx="1807.7" cy="457.1" r="4.1"/>
<circle cx="1807.8" cy="553.3" r="4.1"/>
<circle cx="1807.8" cy="537.8" r="4.1"/>
<circle cx="1807.9" cy="571.6" r="4.1"/>
<circle cx="1807.9" cy="503.7" r="4.1"/>
<circle cx="1807.9" cy="554.0" r="4.1"/>
<circle cx="1808.0" cy="478.2" r="4.1"/>
<circle cx="1808.3" cy="567.2" r="4.1"/>
<circle cx="1808.3" cy="570.0" r="4.1"/>
<circle cx="1808.3" cy="569.3" r="4.1"/>
<circle cx="1808.5" cy="566.8" r="4.1"/>
<circle cx="1808.7" cy="558.7" r="4.1"/>
<circle cx="1808.9" cy="534.1" r="4.1"/>
<circle cx="1809.0" cy="556.5" r="4.1"/>
<circle cx="1809.0" cy="572.6" r="4.1"/>
<circle cx="1809.1" cy="536.8" r="4.1"/>
<circle cx="1809.2" cy="540.3" r="4.1"/>
<circle cx="1809.3" cy="540.5" r="4.1"/>
<circle cx="1809.5" cy="527.5" r="4.1"/>
<circle cx="1809.5" cy="558.7" r="4.1"/>
<circle cx="1809.6" cy="565.4" r="4.1"/>
<circle cx="1809.7" cy="562.2" r="4.1"/>
<circle cx="1809.7" cy="535.8" r="4.1"/>
<circle cx="1809.8" cy="574.1" r="4.1"/>
<circle cx="1810.0" cy="494.8" r="4.1"/>
<circle cx="1810.2" cy="535.2" r="4.1"/>
<circle cx="1810.2" cy="552.5" r="4.1"/>
<circle cx="1810.4" cy="533.2" r="4.1"/>
<circle cx="1810.5" cy="548.9" r="4.1"/>
<circle cx="1810.5" cy="568.2" r="4.1"/>
<circle cx="1810.6" cy="547.8" r="4.1"/>
<circle cx="1810.7" cy="574.8" r="4.1"/>
<circle cx="1810.8" cy="517.6" r="4.1"/>
<circle cx="1810.8" cy="558.1" r="4.1"/>
<circle cx="1811.0" cy="567.5" r="4.1"/>
<circle cx="1811.1" cy="571.5" r="4.1"/>
<circle cx="1811.2" cy="493.2" r="4.1"/>
<circle cx="1811.2" cy="550.4" r="4.1"/>
<circle cx="1811.3" cy="536.9" r="4.1"/>
<circle cx="1811.4" cy="547.7" r="4.1"/>
<circle cx="1811.4" cy="564.6" r="4.1"/>
<circle cx="1811.5" cy="574.6" r="4.1"/>
<circle cx="1811.7" cy="570.6" r="4.1"/>
<circle cx="1811.8" cy="562.7" r="4.1"/>
<circle cx="1812.0" cy="515.9" r="4.1"/>
<circle cx="1812.0" cy="560.0" r="4.1"/>
<circle cx="1812.1" cy="512.6" r="4.1"/>
<circle cx="1812.2" cy="564.8" r="4.1"/>
<circle cx="1812.3" cy="527.1" r="4.1"/>
<circle cx="1812.4" cy="556.2" r="4.1"/>
<circle cx="1812.5" cy="524.1" r="4.1"/>
<circle cx="1812.6" cy="521.9" r="4.1"/>
<circle cx="1812.7" cy="529.0" r="4.1"/>
<circle cx="1813.1" cy="555.8" r="4.1"/>
<circle cx="1813.3" cy="571.2" r="4.1"/>
<circle cx="1813.3" cy="573.4" r="4.1"/>
<circle cx="1813.4" cy="532.4" r="4.1"/>
<circle cx="1813.4" cy="455.7" r="4.1"/>
<circle cx="1813.5" cy="554.0" r="4.1"/>
<circle cx="1813.5" cy="573.1" r="4.1"/>
<circle cx="1813.6" cy="561.0" r="4.1"/>
<circle cx="1813.7" cy="574.5" r="4.1"/>
<circle cx="1813.7" cy="543.2" r="4.1"/>
<circle cx="1813.8" cy="567.5" r="4.1"/>
<circle cx="1813.9" cy="557.9" r="4.1"/>
<circle cx="1813.9" cy="549.1" r="4.1"/>
<circle cx="1814.0" cy="556.9" r="4.1"/>
<circle cx="1814.1" cy="560.6" r="4.1"/>
<circle cx="1814.1" cy="546.5" r="4.1"/>
<circle cx="1814.1" cy="500.6" r="4.1"/>
<circle cx="1814.2" cy="568.6" r="4.1"/>
<circle cx="1814.7" cy="548.2" r="4.1"/>
<circle cx="1814.8" cy="528.9" r="4.1"/>
<circle cx="1815.0" cy="575.1" r="4.1"/>
<circle cx="1815.1" cy="575.3" r="4.1"/>
<circle cx="1815.3" cy="509.8" r="4.1"/>
<circle cx="1815.3" cy="569.2" r="4.1"/>
<circle cx="1815.4" cy="566.9" r="4.1"/>
<circle cx="1815.4" cy="547.8" r="4.1"/>
<circle cx="1815.5" cy="556.6" r="4.1"/>
<circle cx="1815.5" cy="566.9" r="4.1"/>
<circle cx="1815.6" cy="547.7" r="4.1"/>
<circle cx="1815.8" cy="548.4" r="4.1"/>
<circle cx="1815.8" cy="553.3" r="4.1"/>
<circle cx="1816.1" cy="545.3" r="4.1"/>
<circle cx="1816.1" cy="545.3" r="4.1"/>
<circle cx="1816.3" cy="562.4" r="4.1"/>
<circle cx="1816.3" cy="519.4" r="4.1"/>
<circle cx="1816.3" cy="557.0" r="4.1"/>
<circle cx="1816.4" cy="558.5" r="4.1"/>
<circle cx="1816.4" cy="574.2" r="4.1"/>
<circle cx="1816.4" cy="551.2" r="4.1"/>
<circle cx="1816.9" cy="501.2" r="4.1"/>
<circle cx="1817.1" cy="562.4" r="4.1"/>
<circle cx="1817.2" cy="555.3" r="4.1"/>
<circle cx="1817.2" cy="571.8" r="4.1"/>
<circle cx="1817.4" cy="557.9" r="4.1"/>
<circle cx="1817.5" cy="573.7" r="4.1"/>
<circle cx="1817.5" cy="562.9" r="4.1"/>
<circle cx="1817.6" cy="570.9" r="4.1"/>
<circle cx="1817.9" cy="558.1" r="4.1"/>
<circle cx="1817.9" cy="573.0" r="4.1"/>
<circle cx="1818.0" cy="568.2" r="4.1"/>
<circle cx="1818.1" cy="572.3" r="4.1"/>
<circle cx="1818.2" cy="527.4" r="4.1"/>
<circle cx="1818.2" cy="558.8" r="4.1"/>
<circle cx="1818.2" cy="572.6" r="4.1"/>
<circle cx="1818.4" cy="569.5" r="4.1"/>
<circle cx="1818.4" cy="574.5" r="4.1"/>
<circle cx="1818.9" cy="558.8" r="4.1"/>
<circle cx="1819.1" cy="574.3" r="4.1"/>
<circle cx="1819.2" cy="571.3" r="4.1"/>
<circle cx="1819.4" cy="555.4" r="4.1"/>
<circle cx="1819.5" cy="548.7" r="4.1"/>
<circle cx="1819.7" cy="572.6" r="4.1"/>
<circle cx="1819.7" cy="566.6" r="4.1"/>
<circle cx="1819.7" cy="554.4" r="4.1"/>
<circle cx="1819.7" cy="522.9" r="4.1"/>
<circle cx="1819.8" cy="565.6" r="4.1"/>
<circle cx="1819.8" cy="562.1" r="4.1"/>
<circle cx="1819.8" cy="569.8" r="4.1"/>
<circle cx="1819.8" cy="558.8" r="4.1"/>
<circle cx="1820.0" cy="569.2" r="4.1"/>
<circle cx="1820.1" cy="527.4" r="4.1"/>
<circle cx="1820.7" cy="555.3" r="4.1"/>
<circle cx="1820.7" cy="560.7" r="4.1"/>
<circle cx="1820.7" cy="550.7" r="4.1"/>
<circle cx="1820.9" cy="517.0" r="4.1"/>
<circle cx="1820.9" cy="575.1" r="4.1"/>
<circle cx="1821.0" cy="545.0" r="4.1"/>
<circle cx="1821.2" cy="574.3" r="4.1"/>
<circle cx="1821.2" cy="571.0" r="4.1"/>
<circle cx="1821.3" cy="559.0" r="4.1"/>
<circle cx="1821.5" cy="571.4" r="4.1"/>
<circle cx="1821.5" cy="563.8" r="4.1"/>
<circle cx="1821.5" cy="573.7" r="4.1"/>
<circle cx="1821.5" cy="566.6" r="4.1"/>
<circle cx="1821.6" cy="567.1" r="4.1"/>
<circle cx="1821.6" cy="572.7" r="4.1"/>
<circle cx="1821.8" cy="542.0" r="4.1"/>
<circle cx="1821.8" cy="556.2" r="4.1"/>
<circle cx="1822.2" cy="536.5" r="4.1"/>
<circle cx="1822.2" cy="551.9" r="4.1"/>
<circle cx="1822.3" cy="569.8" r="4.1"/>
<circle cx="1822.3" cy="561.7" r="4.1"/>
<circle cx="1822.6" cy="549.5" r="4.1"/>
<circle cx="1822.7" cy="489.1" r="4.1"/>
<circle cx="1822.8" cy="553.6" r="4.1"/>
<circle cx="1822.8" cy="522.2" r="4.1"/>
<circle cx="1822.9" cy="458.0" r="4.1"/>
<circle cx="1822.9" cy="569.0" r="4.1"/>
<circle cx="1823.0" cy="559.2" r="4.1"/>
<circle cx="1823.1" cy="557.7" r="4.1"/>
<circle cx="1823.1" cy="569.0" r="4.1"/>
<circle cx="1823.2" cy="555.8" r="4.1"/>
<circle cx="1823.5" cy="552.9" r="4.1"/>
<circle cx="1823.8" cy="529.9" r="4.1"/>
<circle cx="1823.9" cy="566.1" r="4.1"/>
<circle cx="1823.9" cy="570.5" r="4.1"/>
<circle cx="1824.0" cy="537.5" r="4.1"/>
<circle cx="1824.0" cy="452.2" r="4.1"/>
<circle cx="1824.1" cy="574.4" r="4.1"/>
<circle cx="1824.2" cy="529.3" r="4.1"/>
<circle cx="1824.3" cy="550.9" r="4.1"/>
<circle cx="1824.4" cy="573.1" r="4.1"/>
<circle cx="1824.4" cy="565.0" r="4.1"/>
<circle cx="1824.6" cy="553.9" r="4.1"/>
<circle cx="1824.7" cy="553.7" r="4.1"/>
<circle cx="1824.9" cy="571.8" r="4.1"/>
<circle cx="1825.4" cy="575.3" r="4.1"/>
<circle cx="1825.7" cy="473.6" r="4.1"/>
<circle cx="1825.7" cy="538.0" r="4.1"/>
<circle cx="1825.8" cy="559.7" r="4.1"/>
<circle cx="1825.9" cy="555.8" r="4.1"/>
<circle cx="1826.0" cy="569.7" r="4.1"/>
<circle cx="1826.1" cy="565.9" r="4.1"/>
<circle cx="1826.2" cy="544.5" r="4.1"/>
<circle cx="1826.5" cy="553.8" r="4.1"/>
<circle cx="1826.5" cy="565.6" r="4.1"/>
<circle cx="1826.6" cy="560.9" r="4.1"/>
<circle cx="1826.7" cy="556.4" r="4.1"/>
<circle cx="1826.7" cy="562.5" r="4.1"/>
<circle cx="1826.8" cy="557.0" r="4.1"/>
<circle cx="1826.9" cy="534.4" r="4.1"/>
<circle cx="1826.9" cy="569.2" r="4.1"/>
<circle cx="1826.9" cy="563.3" r="4.1"/>
<circle cx="1827.0" cy="530.9" r="4.1"/>
<circle cx="1827.0" cy="574.4" r="4.1"/>
<circle cx="1827.2" cy="512.1" r="4.1"/>
<circle cx="1827.2" cy="559.5" r="4.1"/>
<circle cx="1827.5" cy="568.8" r="4.1"/>
<circle cx="1827.6" cy="557.5" r="4.1"/>
<circle cx="1827.6" cy="546.7" r="4.1"/>
<circle cx="1827.8" cy="564.6" r="4.1"/>
<circle cx="1827.9" cy="563.6" r="4.1"/>
<circle cx="1827.9" cy="568.8" r="4.1"/>
<circle cx="1828.1" cy="572.3" r="4.1"/>
<circle cx="1828.2" cy="572.4" r="4.1"/>
<circle cx="1828.3" cy="553.6" r="4.1"/>
<circle cx="1828.6" cy="556.4" r="4.1"/>
<circle cx="1828.6" cy="525.0" r="4.1"/>
<circle cx="1828.7" cy="545.0" r="4.1"/>
<circle cx="1828.7" cy="565.3" r="4.1"/>
<circle cx="1828.7" cy="506.1" r="4.1"/>
<circle cx="1828.7" cy="542.9" r="4.1"/>
<circle cx="1828.7" cy="564.1" r="4.1"/>
<circle cx="1828.8" cy="540.5" r="4.1"/>
<circle cx="1828.8" cy="516.4" r="4.1"/>
<circle cx="1828.9" cy="509.3" r="4.1"/>
<circle cx="1829.0" cy="513.4" r="4.1"/>
<circle cx="1829.0" cy="562.8" r="4.1"/>
<circle cx="1829.1" cy="568.1" r="4.1"/>
<circle cx="1829.2" cy="544.6" r="4.1"/>
<circle cx="1829.2" cy="519.8" r="4.1"/>
<circle cx="1829.2" cy="571.8" r="4.1"/>
<circle cx="1829.5" cy="572.7" r="4.1"/>
<circle cx="1829.9" cy="566.2" r="4.1"/>
<circle cx="1830.0" cy="574.0" r="4.1"/>
<circle cx="1830.2" cy="571.4" r="4.1"/>
<circle cx="1830.2" cy="547.3" r="4.1"/>
<circle cx="1830.3" cy="498.3" r="4.1"/>
<circle cx="1830.4" cy="559.0" r="4.1"/>
<circle cx="1830.4" cy="565.1" r="4.1"/>
<circle cx="1830.5" cy="572.8" r="4.1"/>
<circle cx="1830.6" cy="574.3" r="4.1"/>
<circle cx="1830.6" cy="566.8" r="4.1"/>
<circle cx="1830.9" cy="572.5" r="4.1"/>
<circle cx="1831.1" cy="529.1" r="4.1"/>
<circle cx="1831.2" cy="568.5" r="4.1"/>
<circle cx="1831.2" cy="563.1" r="4.1"/>
<circle cx="1831.4" cy="504.5" r="4.1"/>
<circle cx="1831.5" cy="521.3" r="4.1"/>
<circle cx="1831.5" cy="549.3" r="4.1"/>
<circle cx="1831.7" cy="571.3" r="4.1"/>
<circle cx="1831.8" cy="561.6" r="4.1"/>
<circle cx="1831.9" cy="515.6" r="4.1"/>
<circle cx="1831.9" cy="528.8" r="4.1"/>
<circle cx="1831.9" cy="563.1" r="4.1"/>
<circle cx="1831.9" cy="557.3" r="4.1"/>
<circle cx="1832.0" cy="566.3" r="4.1"/>
<circle cx="1832.2" cy="553.4" r="4.1"/>
<circle cx="1832.4" cy="560.6" r="4.1"/>
<circle cx="1832.5" cy="560.9" r="4.1"/>
<circle cx="1832.6" cy="481.5" r="4.1"/>
<circle cx="1832.9" cy="549.4" r="4.1"/>
<circle cx="1833.0" cy="557.3" r="4.1"/>
<circle cx="1833.0" cy="566.3" r="4.1"/>
<circle cx="1833.3" cy="566.9" r="4.1"/>
<circle cx="1833.5" cy="572.1" r="4.1"/>
<circle cx="1833.5" cy="563.9" r="4.1"/>
<circle cx="1833.7" cy="524.6" r="4.1"/>
<circle cx="1833.7" cy="573.4" r="4.1"/>
<circle cx="1833.7" cy="545.9" r="4.1"/>
<circle cx="1833.8" cy="514.4" r="4.1"/>
<circle cx="1833.8" cy="544.3" r="4.1"/>
<circle cx="1833.8" cy="558.5" r="4.1"/>
<circle cx="1834.0" cy="547.0" r="4.1"/>
<circle cx="1834.1" cy="562.6" r="4.1"/>
<circle cx="1834.2" cy="544.2" r="4.1"/>
<circle cx="1834.2" cy="544.4" r="4.1"/>
<circle cx="1834.5" cy="543.5" r="4.1"/>
<circle cx="1834.6" cy="524.1" r="4.1"/>
<circle cx="1834.8" cy="518.9" r="4.1"/>
<circle cx="1834.9" cy="547.1" r="4.1"/>
<circle cx="1835.0" cy="500.5" r="4.1"/>
<circle cx="1835.0" cy="569.1" r="4.1"/>
<circle cx="1835.0" cy="553.3" r="4.1"/>
<circle cx="1835.1" cy="560.5" r="4.1"/>
<circle cx="1835.4" cy="544.8" r="4.1"/>
<circle cx="1835.9" cy="569.3" r="4.1"/>
<circle cx="1836.0" cy="568.3" r="4.1"/>
<circle cx="1836.0" cy="568.0" r="4.1"/>
<circle cx="1836.0" cy="557.5" r="4.1"/>
<circle cx="1836.1" cy="560.4" r="4.1"/>
<circle cx="1836.2" cy="568.4" r="4.1"/>
<circle cx="1836.3" cy="544.8" r="4.1"/>
<circle cx="1836.6" cy="547.2" r="4.1"/>
<circle cx="1836.6" cy="561.7" r="4.1"/>
<circle cx="1836.7" cy="528.5" r="4.1"/>
<circle cx="1836.9" cy="571.3" r="4.1"/>
<circle cx="1836.9" cy="559.5" r="4.1"/>
<circle cx="1837.0" cy="554.4" r="4.1"/>
<circle cx="1837.3" cy="532.5" r="4.1"/>
<circle cx="1837.3" cy="553.1" r="4.1"/>
<circle cx="1837.3" cy="530.3" r="4.1"/>
<circle cx="1837.4" cy="532.8" r="4.1"/>
<circle cx="1837.5" cy="509.4" r="4.1"/>
<circle cx="1837.6" cy="557.1" r="4.1"/>
<circle cx="1837.6" cy="530.3" r="4.1"/>
<circle cx="1837.8" cy="556.0" r="4.1"/>
<circle cx="1837.8" cy="564.6" r="4.1"/>
<circle cx="1838.2" cy="542.7" r="4.1"/>
<circle cx="1838.3" cy="567.2" r="4.1"/>
<circle cx="1838.7" cy="574.7" r="4.1"/>
<circle cx="1838.8" cy="573.7" r="4.1"/>
<circle cx="1838.9" cy="502.7" r="4.1"/>
<circle cx="1838.9" cy="555.2" r="4.1"/>
<circle cx="1838.9" cy="566.5" r="4.1"/>
<circle cx="1838.9" cy="537.1" r="4.1"/>
<circle cx="1839.3" cy="555.1" r="4.1"/>
<circle cx="1839.4" cy="563.1" r="4.1"/>
<circle cx="1839.5" cy="560.3" r="4.1"/>
<circle cx="1839.6" cy="526.4" r="4.1"/>
<circle cx="1839.6" cy="572.3" r="4.1"/>
<circle cx="1839.9" cy="575.2" r="4.1"/>
<circle cx="1839.9" cy="551.8" r="4.1"/>
<circle cx="1840.1" cy="563.1" r="4.1"/>
<circle cx="1840.5" cy="572.4" r="4.1"/>
<circle cx="1840.7" cy="570.7" r="4.1"/>
<circle cx="1840.8" cy="547.2" r="4.1"/>
<circle cx="1840.8" cy="565.0" r="4.1"/>
<circle cx="1840.9" cy="534.9" r="4.1"/>
<circle cx="1841.2" cy="520.3" r="4.1"/>
<circle cx="1841.2" cy="566.4" r="4.1"/>
<circle cx="1841.2" cy="546.0" r="4.1"/>
<circle cx="1841.4" cy="556.8" r="4.1"/>
<circle cx="1841.5" cy="573.0" r="4.1"/>
<circle cx="1841.7" cy="570.5" r="4.1"/>
<circle cx="1841.8" cy="556.0" r="4.1"/>
<circle cx="1841.8" cy="524.8" r="4.1"/>
<circle cx="1842.0" cy="542.7" r="4.1"/>
<circle cx="1842.1" cy="567.4" r="4.1"/>
<circle cx="1842.3" cy="523.2" r="4.1"/>
<circle cx="1842.4" cy="556.1" r="4.1"/>
<circle cx="1842.5" cy="570.5" r="4.1"/>
<circle cx="1842.5" cy="534.7" r="4.1"/>
<circle cx="1842.6" cy="569.2" r="4.1"/>
<circle cx="1842.6" cy="570.5" r="4.1"/>
<circle cx="1842.8" cy="547.7" r="4.1"/>
<circle cx="1842.9" cy="542.5" r="4.1"/>
<circle cx="1842.9" cy="505.2" r="4.1"/>
<circle cx="1842.9" cy="535.8" r="4.1"/>
<circle cx="1843.3" cy="568.0" r="4.1"/>
<circle cx="1843.3" cy="556.1" r="4.1"/>
<circle cx="1843.3" cy="541.7" r="4.1"/>
<circle cx="1843.4" cy="560.7" r="4.1"/>
<circle cx="1843.5" cy="525.8" r="4.1"/>
<circle cx="1843.7" cy="565.4" r="4.1"/>
<circle cx="1843.9" cy="561.6" r="4.1"/>
<circle cx="1844.0" cy="533.8" r="4.1"/>
<circle cx="1844.0" cy="530.2" r="4.1"/>
<circle cx="1844.5" cy="572.8" r="4.1"/>
<circle cx="1844.7" cy="568.0" r="4.1"/>
<circle cx="1844.8" cy="573.3" r="4.1"/>
<circle cx="1844.9" cy="553.2" r="4.1"/>
<circle cx="1845.0" cy="503.2" r="4.1"/>
<circle cx="1845.0" cy="574.6" r="4.1"/>
<circle cx="1845.0" cy="560.4" r="4.1"/>
<circle cx="1845.1" cy="558.6" r="4.1"/>
<circle cx="1845.2" cy="502.9" r="4.1"/>
<circle cx="1845.2" cy="572.6" r="4.1"/>
<circle cx="1845.3" cy="566.6" r="4.1"/>
<circle cx="1845.4" cy="519.6" r="4.1"/>
<circle cx="1845.4" cy="559.8" r="4.1"/>
<circle cx="1845.6" cy="570.0" r="4.1"/>
<circle cx="1845.8" cy="569.5" r="4.1"/>
<circle cx="1845.8" cy="547.2" r="4.1"/>
<circle cx="1845.9" cy="569.6" r="4.1"/>
<circle cx="1846.0" cy="572.1" r="4.1"/>
<circle cx="1846.0" cy="564.6" r="4.1"/>
<circle cx="1846.0" cy="560.7" r="4.1"/>
<circle cx="1846.1" cy="553.3" r="4.1"/>
<circle cx="1846.2" cy="500.4" r="4.1"/>
<circle cx="1846.2" cy="553.6" r="4.1"/>
<circle cx="1846.3" cy="542.8" r="4.1"/>
<circle cx="1846.5" cy="554.9" r="4.1"/>
<circle cx="1846.6" cy="565.5" r="4.1"/>
<circle cx="1846.7" cy="534.8" r="4.1"/>
<circle cx="1846.7" cy="557.5" r="4.1"/>
<circle cx="1847.0" cy="566.1" r="4.1"/>
<circle cx="1847.1" cy="558.9" r="4.1"/>
<circle cx="1847.2" cy="537.4" r="4.1"/>
<circle cx="1847.2" cy="520.0" r="4.1"/>
<circle cx="1847.4" cy="516.1" r="4.1"/>
<circle cx="1847.4" cy="569.2" r="4.1"/>
<circle cx="1847.4" cy="530.4" r="4.1"/>
<circle cx="1847.5" cy="560.7" r="4.1"/>
<circle cx="1847.6" cy="532.9" r="4.1"/>
<circle cx="1847.7" cy="548.1" r="4.1"/>
<circle cx="1847.8" cy="571.3" r="4.1"/>
<circle cx="1847.8" cy="562.4" r="4.1"/>
<circle cx="1848.1" cy="573.0" r="4.1"/>
<circle cx="1848.2" cy="547.7" r="4.1"/>
<circle cx="1848.2" cy="565.0" r="4.1"/>
<circle cx="1848.4" cy="574.2" r="4.1"/>
<circle cx="1848.5" cy="573.6" r="4.1"/>
<circle cx="1848.8" cy="546.9" r="4.1"/>
<circle cx="1848.9" cy="568.0" r="4.1"/>
<circle cx="1848.9" cy="553.5" r="4.1"/>
<circle cx="1849.0" cy="571.9" r="4.1"/>
<circle cx="1849.0" cy="557.0" r="4.1"/>
<circle cx="1849.0" cy="565.4" r="4.1"/>
<circle cx="1849.1" cy="571.8" r="4.1"/>
<circle cx="1849.1" cy="559.6" r="4.1"/>
<circle cx="1849.2" cy="526.9" r="4.1"/>
<circle cx="1849.3" cy="567.4" r="4.1"/>
<circle cx="1849.4" cy="569.0" r="4.1"/>
<circle cx="1849.9" cy="549.8" r="4.1"/>
<circle cx="1849.9" cy="541.1" r="4.1"/>
<circle cx="1850.1" cy="568.3" r="4.1"/>
<circle cx="1850.1" cy="556.8" r="4.1"/>
<circle cx="1850.1" cy="572.6" r="4.1"/>
<circle cx="1850.1" cy="567.1" r="4.1"/>
<circle cx="1850.1" cy="572.7" r="4.1"/>
<circle cx="1850.2" cy="568.6" r="4.1"/>
<circle cx="1850.4" cy="523.3" r="4.1"/>
<circle cx="1850.5" cy="537.8" r="4.1"/>
<circle cx="1850.6" cy="525.1" r="4.1"/>
<circle cx="1850.6" cy="551.1" r="4.1"/>
<circle cx="1850.6" cy="540.6" r="4.1"/>
<circle cx="1850.6" cy="546.7" r="4.1"/>
<circle cx="1850.7" cy="550.7" r="4.1"/>
<circle cx="1850.7" cy="555.7" r="4.1"/>
<circle cx="1850.9" cy="557.3" r="4.1"/>
<circle cx="1851.0" cy="502.2" r="4.1"/>
<circle cx="1851.1" cy="565.4" r="4.1"/>
<circle cx="1851.1" cy="554.8" r="4.1"/>
<circle cx="1851.1" cy="548.3" r="4.1"/>
<circle cx="1851.1" cy="569.2" r="4.1"/>
<circle cx="1851.2" cy="560.5" r="4.1"/>
<circle cx="1851.2" cy="537.2" r="4.1"/>
<circle cx="1851.3" cy="565.6" r="4.1"/>
<circle cx="1851.4" cy="565.0" r="4.1"/>
<circle cx="1851.5" cy="571.9" r="4.1"/>
<circle cx="1851.6" cy="574.0" r="4.1"/>
<circle cx="1851.9" cy="554.3" r="4.1"/>
<circle cx="1852.0" cy="526.7" r="4.1"/>
<circle cx="1852.0" cy="531.0" r="4.1"/>
<circle cx="1852.1" cy="562.4" r="4.1"/>
<circle cx="1852.3" cy="543.3" r="4.1"/>
<circle cx="1852.4" cy="562.4" r="4.1"/>
<circle cx="1852.4" cy="542.1" r="4.1"/>
<circle cx="1852.6" cy="563.9" r="4.1"/>
<circle cx="1852.7" cy="568.4" r="4.1"/>
<circle cx="1853.0" cy="568.9" r="4.1"/>
<circle cx="1853.0" cy="570.9" r="4.1"/>
<circle cx="1853.2" cy="537.1" r="4.1"/>
<circle cx="1853.4" cy="562.2" r="4.1"/>
<circle cx="1853.4" cy="563.0" r="4.1"/>
<circle cx="1853.5" cy="560.1" r="4.1"/>
<circle cx="1853.8" cy="565.4" r="4.1"/>
<circle cx="1853.8" cy="572.4" r="4.1"/>
<circle cx="1854.0" cy="530.1" r="4.1"/>
<circle cx="1854.2" cy="571.3" r="4.1"/>
<circle cx="1854.4" cy="571.8" r="4.1"/>
<circle cx="1854.4" cy="560.9" r="4.1"/>
<circle cx="1854.4" cy="507.5" r="4.1"/>
<circle cx="1854.5" cy="566.8" r="4.1"/>
<circle cx="1854.6" cy="522.8" r="4.1"/>
<circle cx="1854.9" cy="527.1" r="4.1"/>
<circle cx="1855.0" cy="561.8" r="4.1"/>
<circle cx="1855.4" cy="573.5" r="4.1"/>
<circle cx="1855.7" cy="572.3" r="4.1"/>
<circle cx="1855.7" cy="575.4" r="4.1"/>
<circle cx="1855.8" cy="516.1" r="4.1"/>
<circle cx="1856.0" cy="543.0" r="4.1"/>
<circle cx="1856.3" cy="534.7" r="4.1"/>
<circle cx="1856.4" cy="561.9" r="4.1"/>
<circle cx="1856.4" cy="568.3" r="4.1"/>
<circle cx="1856.5" cy="532.4" r="4.1"/>
<circle cx="1856.6" cy="527.4" r="4.1"/>
<circle cx="1856.8" cy="522.0" r="4.1"/>
<circle cx="1856.9" cy="546.0" r="4.1"/>
<circle cx="1856.9" cy="571.0" r="4.1"/>
<circle cx="1857.0" cy="568.5" r="4.1"/>
<circle cx="1857.0" cy="566.8" r="4.1"/>
<circle cx="1857.1" cy="569.2" r="4.1"/>
<circle cx="1857.1" cy="573.5" r="4.1"/>
<circle cx="1857.2" cy="558.4" r="4.1"/>
<circle cx="1857.3" cy="534.1" r="4.1"/>
<circle cx="1857.4" cy="565.3" r="4.1"/>
<circle cx="1857.5" cy="560.3" r="4.1"/>
<circle cx="1857.8" cy="562.5" r="4.1"/>
<circle cx="1857.8" cy="557.9" r="4.1"/>
<circle cx="1858.0" cy="553.4" r="4.1"/>
<circle cx="1858.2" cy="567.4" r="4.1"/>
<circle cx="1858.3" cy="561.9" r="4.1"/>
<circle cx="1858.3" cy="554.3" r="4.1"/>
<circle cx="1858.7" cy="538.3" r="4.1"/>
<circle cx="1858.7" cy="557.1" r="4.1"/>
<circle cx="1858.8" cy="539.8" r="4.1"/>
<circle cx="1859.0" cy="559.9" r="4.1"/>
<circle cx="1859.1" cy="499.4" r="4.1"/>
<circle cx="1859.1" cy="507.5" r="4.1"/>
<circle cx="1859.2" cy="564.3" r="4.1"/>
<circle cx="1859.5" cy="568.9" r="4.1"/>
<circle cx="1859.7" cy="555.4" r="4.1"/>
<circle cx="1859.7" cy="536.3" r="4.1"/>
<circle cx="1859.8" cy="536.0" r="4.1"/>
<circle cx="1859.8" cy="508.5" r="4.1"/>
<circle cx="1859.9" cy="571.3" r="4.1"/>
<circle cx="1860.1" cy="561.3" r="4.1"/>
<circle cx="1860.3" cy="538.6" r="4.1"/>
<circle cx="1860.4" cy="566.2" r="4.1"/>
<circle cx="1860.5" cy="529.0" r="4.1"/>
<circle cx="1860.7" cy="552.3" r="4.1"/>
<circle cx="1860.8" cy="573.6" r="4.1"/>
<circle cx="1860.8" cy="508.9" r="4.1"/>
<circle cx="1860.8" cy="573.0" r="4.1"/>
<circle cx="1860.8" cy="562.2" r="4.1"/>
<circle cx="1860.8" cy="521.3" r="4.1"/>
<circle cx="1860.9" cy="569.8" r="4.1"/>
<circle cx="1861.2" cy="555.4" r="4.1"/>
<circle cx="1861.2" cy="567.2" r="4.1"/>
<circle cx="1861.5" cy="573.3" r="4.1"/>
<circle cx="1861.7" cy="521.6" r="4.1"/>
<circle cx="1861.7" cy="547.3" r="4.1"/>
<circle cx="1861.8" cy="556.3" r="4.1"/>
<circle cx="1861.8" cy="563.1" r="4.1"/>
<circle cx="1861.9" cy="557.8" r="4.1"/>
<circle cx="1862.2" cy="565.7" r="4.1"/>
<circle cx="1862.2" cy="568.0" r="4.1"/>
<circle cx="1862.3" cy="509.1" r="4.1"/>
<circle cx="1862.3" cy="572.4" r="4.1"/>
<circle cx="1862.4" cy="514.1" r="4.1"/>
<circle cx="1862.5" cy="569.3" r="4.1"/>
<circle cx="1862.5" cy="502.9" r="4.1"/>
<circle cx="1862.5" cy="571.3" r="4.1"/>
<circle cx="1862.6" cy="557.8" r="4.1"/>
<circle cx="1862.7" cy="570.7" r="4.1"/>
<circle cx="1863.0" cy="535.5" r="4.1"/>
<circle cx="1863.4" cy="538.5" r="4.1"/>
<circle cx="1863.4" cy="550.9" r="4.1"/>
<circle cx="1863.5" cy="543.0" r="4.1"/>
<circle cx="1863.5" cy="547.3" r="4.1"/>
<circle cx="1863.6" cy="571.3" r="4.1"/>
<circle cx="1863.7" cy="553.9" r="4.1"/>
<circle cx="1863.7" cy="560.0" r="4.1"/>
<circle cx="1863.8" cy="548.7" r="4.1"/>
<circle cx="1864.0" cy="568.7" r="4.1"/>
<circle cx="1864.1" cy="541.2" r="4.1"/>
<circle cx="1864.3" cy="551.0" r="4.1"/>
<circle cx="1864.6" cy="557.6" r="4.1"/>
<circle cx="1864.7" cy="574.8" r="4.1"/>
<circle cx="1864.8" cy="536.7" r="4.1"/>
<circle cx="1865.0" cy="538.4" r="4.1"/>
<circle cx="1865.0" cy="566.7" r="4.1"/>
<circle cx="1865.2" cy="571.1" r="4.1"/>
<circle cx="1865.6" cy="565.0" r="4.1"/>
<circle cx="1865.6" cy="523.0" r="4.1"/>
<circle cx="1865.7" cy="570.1" r="4.1"/>
<circle cx="1865.7" cy="514.8" r="4.1"/>
<circle cx="1865.7" cy="536.2" r="4.1"/>
<circle cx="1865.7" cy="571.5" r="4.1"/>
<circle cx="1865.8" cy="573.2" r="4.1"/>
<circle cx="1865.8" cy="565.2" r="4.1"/>
<circle cx="1865.9" cy="556.8" r="4.1"/>
<circle cx="1865.9" cy="539.7" r="4.1"/>
<circle cx="1866.0" cy="504.5" r="4.1"/>
<circle cx="1866.3" cy="572.2" r="4.1"/>
<circle cx="1866.4" cy="560.0" r="4.1"/>
<circle cx="1866.6" cy="560.4" r="4.1"/>
<circle cx="1866.6" cy="553.5" r="4.1"/>
<circle cx="1866.9" cy="552.5" r="4.1"/>
<circle cx="1867.1" cy="537.9" r="4.1"/>
<circle cx="1867.5" cy="520.0" r="4.1"/>
<circle cx="1867.5" cy="549.1" r="4.1"/>
<circle cx="1867.5" cy="568.7" r="4.1"/>
<circle cx="1867.5" cy="554.4" r="4.1"/>
<circle cx="1867.7" cy="574.3" r="4.1"/>
<circle cx="1868.0" cy="549.5" r="4.1"/>
<circle cx="1868.3" cy="553.9" r="4.1"/>
<circle cx="1868.3" cy="554.8" r="4.1"/>
<circle cx="1868.3" cy="574.9" r="4.1"/>
<circle cx="1868.3" cy="572.5" r="4.1"/>
<circle cx="1868.4" cy="571.7" r="4.1"/>
<circle cx="1868.6" cy="566.2" r="4.1"/>
<circle cx="1868.7" cy="549.2" r="4.1"/>
<circle cx="1868.9" cy="566.1" r="4.1"/>
<circle cx="1868.9" cy="569.0" r="4.1"/>
<circle cx="1868.9" cy="572.5" r="4.1"/>
<circle cx="1869.0" cy="566.0" r="4.1"/>
<circle cx="1869.1" cy="555.5" r="4.1"/>
<circle cx="1869.2" cy="565.9" r="4.1"/>
<circle cx="1869.2" cy="567.2" r="4.1"/>
<circle cx="1869.2" cy="562.8" r="4.1"/>
<circle cx="1869.2" cy="574.4" r="4.1"/>
<circle cx="1869.2" cy="572.1" r="4.1"/>
<circle cx="1869.2" cy="557.9" r="4.1"/>
<circle cx="1869.3" cy="553.3" r="4.1"/>
<circle cx="1869.3" cy="547.4" r="4.1"/>
<circle cx="1869.4" cy="507.3" r="4.1"/>
<circle cx="1869.4" cy="572.0" r="4.1"/>
<circle cx="1869.4" cy="495.5" r="4.1"/>
<circle cx="1869.7" cy="560.1" r="4.1"/>
<circle cx="1869.7" cy="552.8" r="4.1"/>
<circle cx="1869.8" cy="517.8" r="4.1"/>
<circle cx="1869.9" cy="543.2" r="4.1"/>
<circle cx="1869.9" cy="530.2" r="4.1"/>
<circle cx="1870.0" cy="567.3" r="4.1"/>
<circle cx="1870.0" cy="564.4" r="4.1"/>
<circle cx="1870.2" cy="544.7" r="4.1"/>
<circle cx="1870.2" cy="571.6" r="4.1"/>
<circle cx="1870.6" cy="528.9" r="4.1"/>
<circle cx="1870.8" cy="555.0" r="4.1"/>
<circle cx="1870.8" cy="552.5" r="4.1"/>
<circle cx="1870.9" cy="534.4" r="4.1"/>
<circle cx="1871.2" cy="556.9" r="4.1"/>
<circle cx="1871.2" cy="563.3" r="4.1"/>
<circle cx="1871.3" cy="540.0" r="4.1"/>
<circle cx="1871.3" cy="560.8" r="4.1"/>
<circle cx="1871.5" cy="533.4" r="4.1"/>
<circle cx="1871.6" cy="571.2" r="4.1"/>
<circle cx="1871.6" cy="572.6" r="4.1"/>
<circle cx="1871.8" cy="532.1" r="4.1"/>
<circle cx="1872.1" cy="568.9" r="4.1"/>
<circle cx="1872.3" cy="550.1" r="4.1"/>
<circle cx="1872.6" cy="564.1" r="4.1"/>
<circle cx="1872.8" cy="569.6" r="4.1"/>
<circle cx="1872.8" cy="573.1" r="4.1"/>
<circle cx="1873.0" cy="516.0" r="4.1"/>
<circle cx="1873.0" cy="540.3" r="4.1"/>
<circle cx="1873.0" cy="571.1" r="4.1"/>
<circle cx="1873.2" cy="548.3" r="4.1"/>
<circle cx="1873.4" cy="551.8" r="4.1"/>
<circle cx="1873.6" cy="565.7" r="4.1"/>
<circle cx="1873.8" cy="575.4" r="4.1"/>
<circle cx="1873.8" cy="559.5" r="4.1"/>
<circle cx="1874.0" cy="520.2" r="4.1"/>
<circle cx="1874.1" cy="552.0" r="4.1"/>
<circle cx="1874.2" cy="572.7" r="4.1"/>
<circle cx="1874.2" cy="537.9" r="4.1"/>
<circle cx="1874.3" cy="537.0" r="4.1"/>
<circle cx="1874.6" cy="573.1" r="4.1"/>
<circle cx="1874.7" cy="537.2" r="4.1"/>
<circle cx="1874.8" cy="564.8" r="4.1"/>
<circle cx="1874.9" cy="538.7" r="4.1"/>
<circle cx="1874.9" cy="530.3" r="4.1"/>
<circle cx="1875.3" cy="546.5" r="4.1"/>
<circle cx="1875.4" cy="529.2" r="4.1"/>
<circle cx="1875.4" cy="573.0" r="4.1"/>
<circle cx="1875.5" cy="571.9" r="4.1"/>
<circle cx="1875.6" cy="569.7" r="4.1"/>
<circle cx="1876.0" cy="568.6" r="4.1"/>
<circle cx="1876.1" cy="548.7" r="4.1"/>
<circle cx="1876.3" cy="553.5" r="4.1"/>
<circle cx="1876.3" cy="539.3" r="4.1"/>
<circle cx="1876.3" cy="504.5" r="4.1"/>
<circle cx="1876.5" cy="554.3" r="4.1"/>
<circle cx="1876.6" cy="541.1" r="4.1"/>
<circle cx="1876.6" cy="526.9" r="4.1"/>
<circle cx="1876.9" cy="553.0" r="4.1"/>
<circle cx="1877.1" cy="550.6" r="4.1"/>
<circle cx="1877.2" cy="539.7" r="4.1"/>
<circle cx="1877.3" cy="566.7" r="4.1"/>
<circle cx="1877.6" cy="571.0" r="4.1"/>
<circle cx="1877.7" cy="560.0" r="4.1"/>
<circle cx="1877.8" cy="538.8" r="4.1"/>
<circle cx="1878.2" cy="555.3" r="4.1"/>
<circle cx="1878.4" cy="567.1" r="4.1"/>
<circle cx="1878.5" cy="530.3" r="4.1"/>
<circle cx="1878.6" cy="562.9" r="4.1"/>
<circle cx="1878.6" cy="559.1" r="4.1"/>
<circle cx="1878.6" cy="558.0" r="4.1"/>
<circle cx="1878.7" cy="540.6" r="4.1"/>
<circle cx="1878.7" cy="564.5" r="4.1"/>
<circle cx="1878.9" cy="563.2" r="4.1"/>
<circle cx="1879.2" cy="574.7" r="4.1"/>
<circle cx="1879.3" cy="574.0" r="4.1"/>
<circle cx="1879.3" cy="513.2" r="4.1"/>
<circle cx="1879.4" cy="564.1" r="4.1"/>
<circle cx="1879.7" cy="569.2" r="4.1"/>
<circle cx="1879.8" cy="491.4" r="4.1"/>
<circle cx="1879.9" cy="572.8" r="4.1"/>
<circle cx="1880.1" cy="565.8" r="4.1"/>
<circle cx="1880.3" cy="548.1" r="4.1"/>
<circle cx="1880.5" cy="573.0" r="4.1"/>
<circle cx="1880.5" cy="574.6" r="4.1"/>
<circle cx="1880.7" cy="571.1" r="4.1"/>
<circle cx="1880.8" cy="568.3" r="4.1"/>
<circle cx="1881.0" cy="532.1" r="4.1"/>
<circle cx="1881.1" cy="558.5" r="4.1"/>
<circle cx="1881.2" cy="564.0" r="4.1"/>
<circle cx="1881.2" cy="564.5" r="4.1"/>
<circle cx="1881.8" cy="531.5" r="4.1"/>
<circle cx="1881.8" cy="561.3" r="4.1"/>
<circle cx="1882.1" cy="494.8" r="4.1"/>
<circle cx="1882.5" cy="572.0" r="4.1"/>
<circle cx="1882.7" cy="546.0" r="4.1"/>
<circle cx="1882.8" cy="531.4" r="4.1"/>
<circle cx="1882.9" cy="569.9" r="4.1"/>
<circle cx="1883.0" cy="572.3" r="4.1"/>
<circle cx="1883.2" cy="573.5" r="4.1"/>
<circle cx="1883.2" cy="560.7" r="4.1"/>
<circle cx="1883.3" cy="570.8" r="4.1"/>
<circle cx="1883.3" cy="569.4" r="4.1"/>
<circle cx="1883.4" cy="552.7" r="4.1"/>
<circle cx="1883.4" cy="574.0" r="4.1"/>
<circle cx="1883.5" cy="543.8" r="4.1"/>
<circle cx="1883.5" cy="570.5" r="4.1"/>
<circle cx="1883.7" cy="521.9" r="4.1"/>
<circle cx="1883.7" cy="558.0" r="4.1"/>
<circle cx="1883.8" cy="551.1" r="4.1"/>
<circle cx="1883.8" cy="571.4" r="4.1"/>
<circle cx="1884.0" cy="535.6" r="4.1"/>
<circle cx="1884.0" cy="573.9" r="4.1"/>
<circle cx="1884.3" cy="554.8" r="4.1"/>
<circle cx="1884.4" cy="502.2" r="4.1"/>
<circle cx="1884.4" cy="524.0" r="4.1"/>
<circle cx="1884.5" cy="566.2" r="4.1"/>
<circle cx="1884.7" cy="570.7" r="4.1"/>
<circle cx="1884.7" cy="555.0" r="4.1"/>
<circle cx="1884.7" cy="573.8" r="4.1"/>
<circle cx="1884.8" cy="527.8" r="4.1"/>
<circle cx="1884.9" cy="557.6" r="4.1"/>
<circle cx="1885.5" cy="562.1" r="4.1"/>
<circle cx="1885.6" cy="563.5" r="4.1"/>
<circle cx="1886.0" cy="531.5" r="4.1"/>
<circle cx="1886.0" cy="543.1" r="4.1"/>
<circle cx="1886.1" cy="566.3" r="4.1"/>
<circle cx="1886.3" cy="573.9" r="4.1"/>
<circle cx="1886.6" cy="574.6" r="4.1"/>
<circle cx="1886.6" cy="530.6" r="4.1"/>
<circle cx="1886.7" cy="561.1" r="4.1"/>
<circle cx="1886.7" cy="573.7" r="4.1"/>
<circle cx="1886.9" cy="458.4" r="4.1"/>
<circle cx="1887.1" cy="545.3" r="4.1"/>
<circle cx="1887.5" cy="569.4" r="4.1"/>
<circle cx="1887.7" cy="550.7" r="4.1"/>
<circle cx="1887.8" cy="574.5" r="4.1"/>
<circle cx="1888.2" cy="574.5" r="4.1"/>
<circle cx="1888.3" cy="553.8" r="4.1"/>
<circle cx="1888.5" cy="568.6" r="4.1"/>
<circle cx="1888.5" cy="575.4" r="4.1"/>
<circle cx="1888.5" cy="569.0" r="4.1"/>
<circle cx="1888.7" cy="564.2" r="4.1"/>
<circle cx="1888.7" cy="564.2" r="4.1"/>
<circle cx="1888.8" cy="545.8" r="4.1"/>
<circle cx="1888.8" cy="556.1" r="4.1"/>
<circle cx="1888.9" cy="541.1" r="4.1"/>
<circle cx="1889.2" cy="572.5" r="4.1"/>
<circle cx="1889.2" cy="569.5" r="4.1"/>
<circle cx="1889.3" cy="559.5" r="4.1"/>
<circle cx="1889.3" cy="565.0" r="4.1"/>
<circle cx="1889.4" cy="546.7" r="4.1"/>
<circle cx="1889.4" cy="573.0" r="4.1"/>
<circle cx="1889.5" cy="559.7" r="4.1"/>
<circle cx="1889.5" cy="565.2" r="4.1"/>
<circle cx="1889.6" cy="568.0" r="4.1"/>
<circle cx="1889.6" cy="571.6" r="4.1"/>
<circle cx="1889.7" cy="575.1" r="4.1"/>
<circle cx="1889.8" cy="548.5" r="4.1"/>
<circle cx="1889.8" cy="559.9" r="4.1"/>
<circle cx="1889.8" cy="557.3" r="4.1"/>
<circle cx="1889.9" cy="529.6" r="4.1"/>
<circle cx="1890.0" cy="553.2" r="4.1"/>
<circle cx="1890.0" cy="572.3" r="4.1"/>
<circle cx="1890.1" cy="562.9" r="4.1"/>
<circle cx="1890.2" cy="509.8" r="4.1"/>
<circle cx="1890.2" cy="519.5" r="4.1"/>
<circle cx="1890.3" cy="574.9" r="4.1"/>
<circle cx="1890.3" cy="557.2" r="4.1"/>
<circle cx="1890.3" cy="521.9" r="4.1"/>
<circle cx="1890.3" cy="566.4" r="4.1"/>
<circle cx="1890.4" cy="571.2" r="4.1"/>
<circle cx="1890.5" cy="551.3" r="4.1"/>
<circle cx="1890.5" cy="573.3" r="4.1"/>
<circle cx="1890.6" cy="520.3" r="4.1"/>
<circle cx="1890.7" cy="545.0" r="4.1"/>
<circle cx="1890.8" cy="546.5" r="4.1"/>
<circle cx="1891.0" cy="574.2" r="4.1"/>
<circle cx="1891.3" cy="542.5" r="4.1"/>
<circle cx="1891.3" cy="560.9" r="4.1"/>
<circle cx="1891.3" cy="556.2" r="4.1"/>
<circle cx="1891.3" cy="559.8" r="4.1"/>
<circle cx="1891.3" cy="568.4" r="4.1"/>
<circle cx="1891.4" cy="553.6" r="4.1"/>
<circle cx="1891.6" cy="568.1" r="4.1"/>
<circle cx="1891.7" cy="565.2" r="4.1"/>
<circle cx="1891.8" cy="573.4" r="4.1"/>
<circle cx="1891.8" cy="557.3" r="4.1"/>
<circle cx="1891.9" cy="573.7" r="4.1"/>
<circle cx="1891.9" cy="574.3" r="4.1"/>
<circle cx="1892.2" cy="573.6" r="4.1"/>
<circle cx="1892.2" cy="574.7" r="4.1"/>
<circle cx="1892.5" cy="574.9" r="4.1"/>
<circle cx="1892.5" cy="572.2" r="4.1"/>
<circle cx="1892.6" cy="570.7" r="4.1"/>
<circle cx="1892.6" cy="530.6" r="4.1"/>
<circle cx="1893.1" cy="558.5" r="4.1"/>
<circle cx="1893.1" cy="470.2" r="4.1"/>
<circle cx="1893.2" cy="555.2" r="4.1"/>
<circle cx="1893.4" cy="553.3" r="4.1"/>
<circle cx="1893.4" cy="572.7" r="4.1"/>
<circle cx="1893.6" cy="573.2" r="4.1"/>
<circle cx="1893.6" cy="574.7" r="4.1"/>
<circle cx="1893.6" cy="574.5" r="4.1"/>
<circle cx="1893.7" cy="569.7" r="4.1"/>
<circle cx="1894.0" cy="574.2" r="4.1"/>
<circle cx="1894.1" cy="572.3" r="4.1"/>
<circle cx="1894.2" cy="575.2" r="4.1"/>
<circle cx="1894.2" cy="538.6" r="4.1"/>
<circle cx="1894.2" cy="551.1" r="4.1"/>
<circle cx="1894.2" cy="568.2" r="4.1"/>
<circle cx="1894.9" cy="562.3" r="4.1"/>
<circle cx="1895.0" cy="558.8" r="4.1"/>
<circle cx="1895.3" cy="574.2" r="4.1"/>
<circle cx="1895.6" cy="569.4" r="4.1"/>
<circle cx="1895.6" cy="554.2" r="4.1"/>
<circle cx="1895.8" cy="567.5" r="4.1"/>
<circle cx="1895.8" cy="539.4" r="4.1"/>
<circle cx="1895.9" cy="568.0" r="4.1"/>
<circle cx="1895.9" cy="511.6" r="4.1"/>
<circle cx="1895.9" cy="559.6" r="4.1"/>
<circle cx="1896.1" cy="551.4" r="4.1"/>
<circle cx="1896.1" cy="517.6" r="4.1"/>
<circle cx="1896.2" cy="568.5" r="4.1"/>
<circle cx="1896.3" cy="535.9" r="4.1"/>
<circle cx="1896.5" cy="563.7" r="4.1"/>
<circle cx="1896.6" cy="467.9" r="4.1"/>
<circle cx="1896.7" cy="564.1" r="4.1"/>
<circle cx="1896.8" cy="544.8" r="4.1"/>
<circle cx="1897.0" cy="568.8" r="4.1"/>
<circle cx="1897.0" cy="574.9" r="4.1"/>
<circle cx="1897.3" cy="561.9" r="4.1"/>
<circle cx="1897.3" cy="570.5" r="4.1"/>
<circle cx="1897.6" cy="561.0" r="4.1"/>
<circle cx="1897.7" cy="574.2" r="4.1"/>
<circle cx="1897.9" cy="567.0" r="4.1"/>
<circle cx="1898.0" cy="528.6" r="4.1"/>
<circle cx="1898.1" cy="544.9" r="4.1"/>
<circle cx="1898.1" cy="555.8" r="4.1"/>
<circle cx="1898.2" cy="574.4" r="4.1"/>
<circle cx="1898.2" cy="521.8" r="4.1"/>
<circle cx="1898.4" cy="553.0" r="4.1"/>
<circle cx="1898.6" cy="566.4" r="4.1"/>
<circle cx="1898.6" cy="549.4" r="4.1"/>
<circle cx="1898.8" cy="572.6" r="4.1"/>
<circle cx="1899.2" cy="565.4" r="4.1"/>
<circle cx="1899.4" cy="575.0" r="4.1"/>
<circle cx="1899.4" cy="535.4" r="4.1"/>
<circle cx="1899.5" cy="557.4" r="4.1"/>
<circle cx="1899.5" cy="565.6" r="4.1"/>
<circle cx="1899.5" cy="564.3" r="4.1"/>
<circle cx="1899.6" cy="572.9" r="4.1"/>
<circle cx="1899.7" cy="568.9" r="4.1"/>
<circle cx="1899.7" cy="561.3" r="4.1"/>
<circle cx="1899.8" cy="557.7" r="4.1"/>
<circle cx="1899.8" cy="570.3" r="4.1"/>
<circle cx="1899.8" cy="570.5" r="4.1"/>
<circle cx="1900.1" cy="529.2" r="4.1"/>
<circle cx="1900.2" cy="567.3" r="4.1"/>
<circle cx="1900.3" cy="560.7" r="4.1"/>
<circle cx="1900.4" cy="552.6" r="4.1"/>
<circle cx="1900.5" cy="569.3" r="4.1"/>
<circle cx="1900.6" cy="573.8" r="4.1"/>
<circle cx="1900.6" cy="566.4" r="4.1"/>
<circle cx="1900.6" cy="573.9" r="4.1"/>
<circle cx="1900.7" cy="555.1" r="4.1"/>
<circle cx="1900.8" cy="565.3" r="4.1"/>
<circle cx="1900.8" cy="567.3" r="4.1"/>
<circle cx="1900.9" cy="569.1" r="4.1"/>
<circle cx="1900.9" cy="571.3" r="4.1"/>
<circle cx="1901.0" cy="572.5" r="4.1"/>
<circle cx="1901.0" cy="551.0" r="4.1"/>
<circle cx="1901.0" cy="554.7" r="4.1"/>
<circle cx="1901.1" cy="559.6" r="4.1"/>
<circle cx="1901.1" cy="565.7" r="4.1"/>
<circle cx="1901.2" cy="563.3" r="4.1"/>
<circle cx="1901.2" cy="573.1" r="4.1"/>
<circle cx="1901.3" cy="524.9" r="4.1"/>
<circle cx="1901.4" cy="531.4" r="4.1"/>
<circle cx="1901.5" cy="568.1" r="4.1"/>
<circle cx="1901.5" cy="557.0" r="4.1"/>
<circle cx="1901.6" cy="566.6" r="4.1"/>
<circle cx="1901.9" cy="569.5" r="4.1"/>
<circle cx="1902.0" cy="541.4" r="4.1"/>
<circle cx="1902.0" cy="536.5" r="4.1"/>
<circle cx="1902.3" cy="574.8" r="4.1"/>
<circle cx="1902.6" cy="571.3" r="4.1"/>
<circle cx="1902.7" cy="554.8" r="4.1"/>
<circle cx="1902.7" cy="570.7" r="4.1"/>
<circle cx="1902.8" cy="552.4" r="4.1"/>
<circle cx="1902.8" cy="542.5" r="4.1"/>
<circle cx="1902.8" cy="563.6" r="4.1"/>
<circle cx="1902.9" cy="553.3" r="4.1"/>
<circle cx="1902.9" cy="528.5" r="4.1"/>
<circle cx="1902.9" cy="573.5" r="4.1"/>
<circle cx="1903.0" cy="541.5" r="4.1"/>
<circle cx="1903.1" cy="553.3" r="4.1"/>
<circle cx="1903.2" cy="563.5" r="4.1"/>
<circle cx="1903.3" cy="566.9" r="4.1"/>
<circle cx="1903.5" cy="572.5" r="4.1"/>
<circle cx="1903.8" cy="561.4" r="4.1"/>
<circle cx="1903.8" cy="563.3" r="4.1"/>
<circle cx="1903.9" cy="574.6" r="4.1"/>
<circle cx="1903.9" cy="567.8" r="4.1"/>
<circle cx="1904.0" cy="514.4" r="4.1"/>
<circle cx="1904.2" cy="574.4" r="4.1"/>
<circle cx="1904.4" cy="569.4" r="4.1"/>
<circle cx="1904.5" cy="559.8" r="4.1"/>
<circle cx="1904.6" cy="574.9" r="4.1"/>
<circle cx="1904.7" cy="539.4" r="4.1"/>
<circle cx="1904.9" cy="566.9" r="4.1"/>
<circle cx="1904.9" cy="565.4" r="4.1"/>
<circle cx="1905.0" cy="544.7" r="4.1"/>
<circle cx="1905.0" cy="574.8" r="4.1"/>
<circle cx="1905.1" cy="554.6" r="4.1"/>
<circle cx="1905.1" cy="521.8" r="4.1"/>
<circle cx="1905.2" cy="532.1" r="4.1"/>
<circle cx="1905.4" cy="534.4" r="4.1"/>
<circle cx="1905.4" cy="553.1" r="4.1"/>
<circle cx="1905.4" cy="569.3" r="4.1"/>
<circle cx="1905.5" cy="531.7" r="4.1"/>
<circle cx="1905.6" cy="548.6" r="4.1"/>
<circle cx="1905.6" cy="567.6" r="4.1"/>
<circle cx="1905.8" cy="570.8" r="4.1"/>
<circle cx="1905.9" cy="569.3" r="4.1"/>
<circle cx="1906.1" cy="574.0" r="4.1"/>
<circle cx="1906.2" cy="566.9" r="4.1"/>
<circle cx="1906.2" cy="546.4" r="4.1"/>
<circle cx="1906.3" cy="558.5" r="4.1"/>
<circle cx="1906.3" cy="550.1" r="4.1"/>
<circle cx="1906.3" cy="569.4" r="4.1"/>
<circle cx="1906.6" cy="570.4" r="4.1"/>
<circle cx="1906.8" cy="515.8" r="4.1"/>
<circle cx="1906.9" cy="563.7" r="4.1"/>
<circle cx="1906.9" cy="561.5" r="4.1"/>
<circle cx="1907.0" cy="549.0" r="4.1"/>
<circle cx="1907.0" cy="540.9" r="4.1"/>
<circle cx="1907.3" cy="562.1" r="4.1"/>
<circle cx="1907.3" cy="548.2" r="4.1"/>
<circle cx="1907.5" cy="568.9" r="4.1"/>
<circle cx="1907.5" cy="573.8" r="4.1"/>
<circle cx="1907.5" cy="574.6" r="4.1"/>
<circle cx="1907.6" cy="560.3" r="4.1"/>
<circle cx="1907.6" cy="552.4" r="4.1"/>
<circle cx="1907.9" cy="504.5" r="4.1"/>
<circle cx="1907.9" cy="562.4" r="4.1"/>
<circle cx="1908.1" cy="575.4" r="4.1"/>
<circle cx="1908.2" cy="571.6" r="4.1"/>
<circle cx="1908.2" cy="530.0" r="4.1"/>
<circle cx="1908.3" cy="542.8" r="4.1"/>
<circle cx="1908.4" cy="568.2" r="4.1"/>
<circle cx="1908.4" cy="573.4" r="4.1"/>
<circle cx="1908.6" cy="569.6" r="4.1"/>
<circle cx="1908.7" cy="569.3" r="4.1"/>
<circle cx="1908.8" cy="545.0" r="4.1"/>
<circle cx="1909.0" cy="572.0" r="4.1"/>
<circle cx="1909.0" cy="545.0" r="4.1"/>
<circle cx="1909.1" cy="572.7" r="4.1"/>
<circle cx="1909.1" cy="556.6" r="4.1"/>
<circle cx="1909.3" cy="564.0" r="4.1"/>
<circle cx="1909.4" cy="560.2" r="4.1"/>
<circle cx="1909.4" cy="547.0" r="4.1"/>
<circle cx="1909.5" cy="548.9" r="4.1"/>
<circle cx="1909.5" cy="543.5" r="4.1"/>
<circle cx="1909.5" cy="572.1" r="4.1"/>
<circle cx="1909.6" cy="572.6" r="4.1"/>
<circle cx="1909.7" cy="518.9" r="4.1"/>
<circle cx="1909.8" cy="574.4" r="4.1"/>
<circle cx="1909.8" cy="535.6" r="4.1"/>
<circle cx="1909.9" cy="574.7" r="4.1"/>
<circle cx="1910.1" cy="553.7" r="4.1"/>
<circle cx="1910.1" cy="566.1" r="4.1"/>
<circle cx="1910.1" cy="545.5" r="4.1"/>
<circle cx="1910.3" cy="556.3" r="4.1"/>
<circle cx="1910.4" cy="573.5" r="4.1"/>
<circle cx="1910.5" cy="556.9" r="4.1"/>
<circle cx="1910.9" cy="556.9" r="4.1"/>
<circle cx="1910.9" cy="561.9" r="4.1"/>
<circle cx="1911.0" cy="531.1" r="4.1"/>
<circle cx="1911.3" cy="573.8" r="4.1"/>
<circle cx="1911.4" cy="554.6" r="4.1"/>
<circle cx="1911.4" cy="566.8" r="4.1"/>
<circle cx="1911.4" cy="564.4" r="4.1"/>
<circle cx="1911.4" cy="564.4" r="4.1"/>
<circle cx="1911.5" cy="570.2" r="4.1"/>
<circle cx="1911.7" cy="571.6" r="4.1"/>
<circle cx="1911.8" cy="574.5" r="4.1"/>
<circle cx="1911.9" cy="541.6" r="4.1"/>
<circle cx="1912.0" cy="545.0" r="4.1"/>
<circle cx="1912.0" cy="539.4" r="4.1"/>
<circle cx="1912.0" cy="545.9" r="4.1"/>
<circle cx="1912.2" cy="570.2" r="4.1"/>
<circle cx="1912.4" cy="556.9" r="4.1"/>
<circle cx="1912.5" cy="545.2" r="4.1"/>
<circle cx="1912.5" cy="556.1" r="4.1"/>
<circle cx="1912.6" cy="556.7" r="4.1"/>
<circle cx="1912.6" cy="551.1" r="4.1"/>
<circle cx="1912.6" cy="574.2" r="4.1"/>
<circle cx="1912.8" cy="559.5" r="4.1"/>
<circle cx="1912.8" cy="562.6" r="4.1"/>
<circle cx="1912.9" cy="517.0" r="4.1"/>
<circle cx="1913.7" cy="543.8" r="4.1"/>
<circle cx="1913.9" cy="567.6" r="4.1"/>
<circle cx="1913.9" cy="570.6" r="4.1"/>
<circle cx="1914.0" cy="569.9" r="4.1"/>
<circle cx="1914.1" cy="528.0" r="4.1"/>
<circle cx="1914.2" cy="563.7" r="4.1"/>
<circle cx="1914.3" cy="570.5" r="4.1"/>
<circle cx="1914.5" cy="538.9" r="4.1"/>
<circle cx="1914.9" cy="558.6" r="4.1"/>
<circle cx="1915.0" cy="566.3" r="4.1"/>
<circle cx="1915.0" cy="562.7" r="4.1"/>
<circle cx="1915.2" cy="560.1" r="4.1"/>
<circle cx="1915.3" cy="535.4" r="4.1"/>
<circle cx="1915.3" cy="547.9" r="4.1"/>
<circle cx="1915.4" cy="517.0" r="4.1"/>
<circle cx="1915.4" cy="540.9" r="4.1"/>
<circle cx="1915.4" cy="559.2" r="4.1"/>
<circle cx="1915.6" cy="572.7" r="4.1"/>
<circle cx="1915.7" cy="558.8" r="4.1"/>
<circle cx="1916.2" cy="571.6" r="4.1"/>
<circle cx="1916.4" cy="571.8" r="4.1"/>
<circle cx="1916.7" cy="555.0" r="4.1"/>
<circle cx="1917.1" cy="558.2" r="4.1"/>
<circle cx="1917.2" cy="549.3" r="4.1"/>
<circle cx="1917.2" cy="529.3" r="4.1"/>
<circle cx="1917.3" cy="572.1" r="4.1"/>
<circle cx="1917.3" cy="533.5" r="4.1"/>
<circle cx="1917.5" cy="563.8" r="4.1"/>
<circle cx="1917.5" cy="570.7" r="4.1"/>
<circle cx="1918.0" cy="562.3" r="4.1"/>
<circle cx="1918.0" cy="563.3" r="4.1"/>
<circle cx="1918.1" cy="566.6" r="4.1"/>
<circle cx="1918.1" cy="542.6" r="4.1"/>
<circle cx="1918.3" cy="523.9" r="4.1"/>
<circle cx="1918.3" cy="512.2" r="4.1"/>
<circle cx="1918.4" cy="565.7" r="4.1"/>
<circle cx="1918.4" cy="569.2" r="4.1"/>
<circle cx="1918.5" cy="558.7" r="4.1"/>
<circle cx="1918.6" cy="572.7" r="4.1"/>
<circle cx="1918.6" cy="554.1" r="4.1"/>
<circle cx="1918.9" cy="569.3" r="4.1"/>
<circle cx="1918.9" cy="574.0" r="4.1"/>
<circle cx="1919.0" cy="567.4" r="4.1"/>
<circle cx="1919.0" cy="564.8" r="4.1"/>
<circle cx="1919.1" cy="544.7" r="4.1"/>
<circle cx="1919.2" cy="572.4" r="4.1"/>
<circle cx="1919.4" cy="561.7" r="4.1"/>
<circle cx="1919.4" cy="575.3" r="4.1"/>
<circle cx="1919.4" cy="500.1" r="4.1"/>
<circle cx="1919.5" cy="553.8" r="4.1"/>
<circle cx="1919.5" cy="554.2" r="4.1"/>
<circle cx="1919.6" cy="557.3" r="4.1"/>
<circle cx="1919.7" cy="555.9" r="4.1"/>
<circle cx="1919.9" cy="517.0" r="4.1"/>
<circle cx="1920.0" cy="555.1" r="4.1"/>
<circle cx="1920.0" cy="540.6" r="4.1"/>
<circle cx="1920.1" cy="563.4" r="4.1"/>
<circle cx="1920.2" cy="552.5" r="4.1"/>
<circle cx="1920.3" cy="558.3" r="4.1"/>
<circle cx="1920.6" cy="570.5" r="4.1"/>
<circle cx="1920.6" cy="573.7" r="4.1"/>
<circle cx="1920.8" cy="559.2" r="4.1"/>
<circle cx="1920.9" cy="569.0" r="4.1"/>
<circle cx="1921.1" cy="556.3" r="4.1"/>
<circle cx="1921.3" cy="563.5" r="4.1"/>
<circle cx="1921.3" cy="510.9" r="4.1"/>
<circle cx="1921.4" cy="562.7" r="4.1"/>
<circle cx="1921.4" cy="573.1" r="4.1"/>
<circle cx="1921.7" cy="571.9" r="4.1"/>
<circle cx="1921.7" cy="574.8" r="4.1"/>
<circle cx="1921.7" cy="551.1" r="4.1"/>
<circle cx="1921.8" cy="534.2" r="4.1"/>
<circle cx="1921.8" cy="571.1" r="4.1"/>
<circle cx="1921.8" cy="571.9" r="4.1"/>
<circle cx="1922.0" cy="574.4" r="4.1"/>
<circle cx="1922.1" cy="558.4" r="4.1"/>
<circle cx="1922.2" cy="574.5" r="4.1"/>
<circle cx="1922.2" cy="570.3" r="4.1"/>
<circle cx="1922.3" cy="530.6" r="4.1"/>
<circle cx="1922.4" cy="553.9" r="4.1"/>
<circle cx="1922.7" cy="565.4" r="4.1"/>
<circle cx="1922.8" cy="562.2" r="4.1"/>
<circle cx="1922.8" cy="549.9" r="4.1"/>
<circle cx="1922.9" cy="541.4" r="4.1"/>
<circle cx="1923.0" cy="572.7" r="4.1"/>
<circle cx="1923.3" cy="546.1" r="4.1"/>
<circle cx="1923.3" cy="568.2" r="4.1"/>
<circle cx="1923.4" cy="560.1" r="4.1"/>
<circle cx="1923.4" cy="544.4" r="4.1"/>
<circle cx="1923.5" cy="520.1" r="4.1"/>
<circle cx="1923.6" cy="485.6" r="4.1"/>
<circle cx="1923.7" cy="566.0" r="4.1"/>
<circle cx="1923.8" cy="574.1" r="4.1"/>
<circle cx="1923.9" cy="571.4" r="4.1"/>
<circle cx="1923.9" cy="572.7" r="4.1"/>
<circle cx="1924.0" cy="544.6" r="4.1"/>
<circle cx="1924.0" cy="558.5" r="4.1"/>
<circle cx="1924.1" cy="574.2" r="4.1"/>
<circle cx="1924.3" cy="536.4" r="4.1"/>
<circle cx="1924.4" cy="558.8" r="4.1"/>
<circle cx="1924.6" cy="569.9" r="4.1"/>
<circle cx="1924.6" cy="568.0" r="4.1"/>
<circle cx="1924.7" cy="554.9" r="4.1"/>
<circle cx="1924.7" cy="515.5" r="4.1"/>
<circle cx="1924.9" cy="557.4" r="4.1"/>
<circle cx="1924.9" cy="553.1" r="4.1"/>
<circle cx="1924.9" cy="569.7" r="4.1"/>
<circle cx="1924.9" cy="573.5" r="4.1"/>
<circle cx="1924.9" cy="569.1" r="4.1"/>
<circle cx="1925.0" cy="562.5" r="4.1"/>
<circle cx="1925.1" cy="566.1" r="4.1"/>
<circle cx="1925.2" cy="551.7" r="4.1"/>
<circle cx="1925.2" cy="546.9" r="4.1"/>
<circle cx="1925.3" cy="555.0" r="4.1"/>
<circle cx="1925.4" cy="566.0" r="4.1"/>
<circle cx="1925.5" cy="574.4" r="4.1"/>
<circle cx="1925.5" cy="536.7" r="4.1"/>
<circle cx="1925.6" cy="551.7" r="4.1"/>
<circle cx="1926.0" cy="567.5" r="4.1"/>
<circle cx="1926.1" cy="568.8" r="4.1"/>
<circle cx="1926.1" cy="533.4" r="4.1"/>
<circle cx="1926.1" cy="570.2" r="4.1"/>
<circle cx="1926.3" cy="575.2" r="4.1"/>
<circle cx="1926.4" cy="567.2" r="4.1"/>
<circle cx="1926.4" cy="545.3" r="4.1"/>
<circle cx="1926.4" cy="546.7" r="4.1"/>
<circle cx="1926.5" cy="567.1" r="4.1"/>
<circle cx="1926.5" cy="541.4" r="4.1"/>
<circle cx="1926.8" cy="550.2" r="4.1"/>
<circle cx="1927.0" cy="476.4" r="4.1"/>
<circle cx="1927.0" cy="522.5" r="4.1"/>
<circle cx="1927.1" cy="573.7" r="4.1"/>
<circle cx="1927.1" cy="553.9" r="4.1"/>
<circle cx="1927.4" cy="542.0" r="4.1"/>
<circle cx="1927.9" cy="573.3" r="4.1"/>
<circle cx="1928.6" cy="573.3" r="4.1"/>
<circle cx="1928.7" cy="567.0" r="4.1"/>
<circle cx="1929.1" cy="563.2" r="4.1"/>
<circle cx="1929.1" cy="559.6" r="4.1"/>
<circle cx="1929.1" cy="573.3" r="4.1"/>
<circle cx="1929.2" cy="562.4" r="4.1"/>
<circle cx="1929.3" cy="550.5" r="4.1"/>
<circle cx="1929.3" cy="460.7" r="4.1"/>
<circle cx="1929.3" cy="555.8" r="4.1"/>
<circle cx="1929.4" cy="567.0" r="4.1"/>
<circle cx="1929.5" cy="549.6" r="4.1"/>
<circle cx="1929.6" cy="546.0" r="4.1"/>
<circle cx="1929.6" cy="567.3" r="4.1"/>
<circle cx="1929.7" cy="530.0" r="4.1"/>
<circle cx="1929.8" cy="564.5" r="4.1"/>
<circle cx="1930.1" cy="569.9" r="4.1"/>
<circle cx="1930.1" cy="548.9" r="4.1"/>
<circle cx="1930.2" cy="569.0" r="4.1"/>
<circle cx="1930.3" cy="531.1" r="4.1"/>
<circle cx="1930.3" cy="540.6" r="4.1"/>
<circle cx="1930.4" cy="553.2" r="4.1"/>
<circle cx="1930.5" cy="564.3" r="4.1"/>
<circle cx="1930.5" cy="567.3" r="4.1"/>
<circle cx="1930.6" cy="525.8" r="4.1"/>
<circle cx="1930.9" cy="561.0" r="4.1"/>
<circle cx="1930.9" cy="556.0" r="4.1"/>
<circle cx="1931.0" cy="567.1" r="4.1"/>
<circle cx="1931.1" cy="566.7" r="4.1"/>
<circle cx="1931.1" cy="571.8" r="4.1"/>
<circle cx="1931.2" cy="561.0" r="4.1"/>
<circle cx="1931.3" cy="546.4" r="4.1"/>
<circle cx="1931.4" cy="565.2" r="4.1"/>
<circle cx="1931.4" cy="549.2" r="4.1"/>
<circle cx="1931.5" cy="564.0" r="4.1"/>
<circle cx="1931.5" cy="565.9" r="4.1"/>
<circle cx="1931.6" cy="561.3" r="4.1"/>
<circle cx="1931.6" cy="504.0" r="4.1"/>
<circle cx="1931.7" cy="560.1" r="4.1"/>
<circle cx="1931.8" cy="564.0" r="4.1"/>
<circle cx="1931.8" cy="572.5" r="4.1"/>
<circle cx="1932.0" cy="571.4" r="4.1"/>
<circle cx="1932.1" cy="550.9" r="4.1"/>
<circle cx="1932.3" cy="541.9" r="4.1"/>
<circle cx="1932.5" cy="565.4" r="4.1"/>
<circle cx="1932.6" cy="569.7" r="4.1"/>
<circle cx="1932.7" cy="559.0" r="4.1"/>
<circle cx="1933.2" cy="575.0" r="4.1"/>
<circle cx="1933.2" cy="549.2" r="4.1"/>
<circle cx="1933.3" cy="538.0" r="4.1"/>
<circle cx="1933.5" cy="561.3" r="4.1"/>
<circle cx="1933.5" cy="571.3" r="4.1"/>
<circle cx="1933.5" cy="569.3" r="4.1"/>
<circle cx="1933.8" cy="564.4" r="4.1"/>
<circle cx="1933.8" cy="569.9" r="4.1"/>
<circle cx="1934.0" cy="565.5" r="4.1"/>
<circle cx="1934.3" cy="546.4" r="4.1"/>
<circle cx="1934.3" cy="556.8" r="4.1"/>
<circle cx="1934.4" cy="556.5" r="4.1"/>
<circle cx="1934.7" cy="550.0" r="4.1"/>
<circle cx="1934.7" cy="573.4" r="4.1"/>
<circle cx="1934.8" cy="568.9" r="4.1"/>
<circle cx="1934.9" cy="573.2" r="4.1"/>
<circle cx="1935.0" cy="566.7" r="4.1"/>
<circle cx="1935.0" cy="534.9" r="4.1"/>
<circle cx="1935.0" cy="569.7" r="4.1"/>
<circle cx="1935.1" cy="508.6" r="4.1"/>
<circle cx="1935.1" cy="566.0" r="4.1"/>
<circle cx="1935.2" cy="565.1" r="4.1"/>
<circle cx="1935.2" cy="548.0" r="4.1"/>
<circle cx="1935.5" cy="536.1" r="4.1"/>
<circle cx="1935.8" cy="571.2" r="4.1"/>
<circle cx="1936.0" cy="546.2" r="4.1"/>
<circle cx="1936.1" cy="559.9" r="4.1"/>
<circle cx="1936.3" cy="553.8" r="4.1"/>
<circle cx="1936.4" cy="528.2" r="4.1"/>
<circle cx="1936.6" cy="575.2" r="4.1"/>
<circle cx="1936.7" cy="558.0" r="4.1"/>
<circle cx="1936.9" cy="574.5" r="4.1"/>
<circle cx="1937.1" cy="517.1" r="4.1"/>
<circle cx="1937.6" cy="520.2" r="4.1"/>
<circle cx="1937.7" cy="569.0" r="4.1"/>
<circle cx="1937.9" cy="560.9" r="4.1"/>
<circle cx="1937.9" cy="569.2" r="4.1"/>
<circle cx="1937.9" cy="572.8" r="4.1"/>
<circle cx="1938.1" cy="556.2" r="4.1"/>
<circle cx="1938.5" cy="570.3" r="4.1"/>
<circle cx="1938.5" cy="568.2" r="4.1"/>
<circle cx="1938.5" cy="479.8" r="4.1"/>
<circle cx="1938.6" cy="568.2" r="4.1"/>
<circle cx="1939.0" cy="557.7" r="4.1"/>
<circle cx="1939.1" cy="572.9" r="4.1"/>
<circle cx="1939.1" cy="572.8" r="4.1"/>
<circle cx="1939.1" cy="560.1" r="4.1"/>
<circle cx="1939.1" cy="571.6" r="4.1"/>
<circle cx="1939.1" cy="563.4" r="4.1"/>
<circle cx="1939.2" cy="526.1" r="4.1"/>
<circle cx="1939.2" cy="534.6" r="4.1"/>
<circle cx="1939.3" cy="553.9" r="4.1"/>
<circle cx="1939.7" cy="517.9" r="4.1"/>
<circle cx="1939.8" cy="558.9" r="4.1"/>
<circle cx="1939.8" cy="557.9" r="4.1"/>
<circle cx="1939.8" cy="540.9" r="4.1"/>
<circle cx="1939.9" cy="563.0" r="4.1"/>
<circle cx="1939.9" cy="567.1" r="4.1"/>
<circle cx="1940.0" cy="554.0" r="4.1"/>
<circle cx="1940.1" cy="547.9" r="4.1"/>
<circle cx="1940.3" cy="551.0" r="4.1"/>
<circle cx="1940.5" cy="567.2" r="4.1"/>
<circle cx="1940.6" cy="567.1" r="4.1"/>
<circle cx="1940.8" cy="527.3" r="4.1"/>
<circle cx="1940.8" cy="573.1" r="4.1"/>
<circle cx="1940.9" cy="526.9" r="4.1"/>
<circle cx="1941.0" cy="562.6" r="4.1"/>
<circle cx="1941.1" cy="559.6" r="4.1"/>
<circle cx="1941.2" cy="562.4" r="4.1"/>
<circle cx="1941.2" cy="551.9" r="4.1"/>
<circle cx="1941.4" cy="573.8" r="4.1"/>
<circle cx="1941.4" cy="564.7" r="4.1"/>
<circle cx="1941.5" cy="551.0" r="4.1"/>
<circle cx="1941.5" cy="570.3" r="4.1"/>
<circle cx="1941.6" cy="573.9" r="4.1"/>
<circle cx="1941.6" cy="519.7" r="4.1"/>
<circle cx="1941.7" cy="567.4" r="4.1"/>
<circle cx="1941.7" cy="569.8" r="4.1"/>
<circle cx="1941.9" cy="568.3" r="4.1"/>
<circle cx="1942.0" cy="519.1" r="4.1"/>
<circle cx="1942.0" cy="504.5" r="4.1"/>
<circle cx="1942.2" cy="558.2" r="4.1"/>
<circle cx="1942.2" cy="567.4" r="4.1"/>
<circle cx="1942.2" cy="572.5" r="4.1"/>
<circle cx="1942.3" cy="526.3" r="4.1"/>
<circle cx="1942.3" cy="571.3" r="4.1"/>
<circle cx="1942.4" cy="563.4" r="4.1"/>
<circle cx="1942.6" cy="573.6" r="4.1"/>
<circle cx="1942.6" cy="547.7" r="4.1"/>
<circle cx="1942.8" cy="554.1" r="4.1"/>
<circle cx="1942.8" cy="560.2" r="4.1"/>
<circle cx="1942.8" cy="571.0" r="4.1"/>
<circle cx="1942.8" cy="571.4" r="4.1"/>
<circle cx="1942.9" cy="571.3" r="4.1"/>
<circle cx="1942.9" cy="556.9" r="4.1"/>
<circle cx="1943.1" cy="559.9" r="4.1"/>
<circle cx="1943.2" cy="551.4" r="4.1"/>
<circle cx="1943.5" cy="567.6" r="4.1"/>
<circle cx="1943.6" cy="560.7" r="4.1"/>
<circle cx="1943.7" cy="566.6" r="4.1"/>
<circle cx="1943.8" cy="570.9" r="4.1"/>
<circle cx="1943.9" cy="555.0" r="4.1"/>
<circle cx="1944.0" cy="574.1" r="4.1"/>
<circle cx="1944.0" cy="553.7" r="4.1"/>
<circle cx="1944.0" cy="558.7" r="4.1"/>
<circle cx="1944.2" cy="562.0" r="4.1"/>
<circle cx="1944.3" cy="560.2" r="4.1"/>
<circle cx="1944.4" cy="568.4" r="4.1"/>
<circle cx="1944.7" cy="558.3" r="4.1"/>
<circle cx="1944.8" cy="562.3" r="4.1"/>
<circle cx="1944.8" cy="529.9" r="4.1"/>
<circle cx="1945.0" cy="571.7" r="4.1"/>
<circle cx="1945.7" cy="574.0" r="4.1"/>
<circle cx="1945.8" cy="570.0" r="4.1"/>
<circle cx="1946.1" cy="563.1" r="4.1"/>
<circle cx="1946.1" cy="460.3" r="4.1"/>
<circle cx="1946.2" cy="574.8" r="4.1"/>
<circle cx="1946.2" cy="571.4" r="4.1"/>
<circle cx="1946.2" cy="557.3" r="4.1"/>
<circle cx="1946.3" cy="572.9" r="4.1"/>
<circle cx="1946.3" cy="563.8" r="4.1"/>
<circle cx="1946.6" cy="549.1" r="4.1"/>
<circle cx="1946.8" cy="571.2" r="4.1"/>
<circle cx="1946.8" cy="555.1" r="4.1"/>
<circle cx="1947.0" cy="533.3" r="4.1"/>
<circle cx="1947.1" cy="572.4" r="4.1"/>
<circle cx="1947.1" cy="565.4" r="4.1"/>
<circle cx="1947.1" cy="555.9" r="4.1"/>
<circle cx="1947.1" cy="567.5" r="4.1"/>
<circle cx="1947.5" cy="566.4" r="4.1"/>
<circle cx="1947.6" cy="557.0" r="4.1"/>
<circle cx="1947.8" cy="568.4" r="4.1"/>
<circle cx="1947.8" cy="567.0" r="4.1"/>
<circle cx="1947.8" cy="539.8" r="4.1"/>
<circle cx="1948.1" cy="567.1" r="4.1"/>
<circle cx="1948.2" cy="571.1" r="4.1"/>
<circle cx="1948.3" cy="573.2" r="4.1"/>
<circle cx="1948.8" cy="548.6" r="4.1"/>
<circle cx="1948.9" cy="525.9" r="4.1"/>
<circle cx="1948.9" cy="545.2" r="4.1"/>
<circle cx="1948.9" cy="567.6" r="4.1"/>
<circle cx="1949.0" cy="540.9" r="4.1"/>
<circle cx="1949.0" cy="568.8" r="4.1"/>
<circle cx="1949.0" cy="570.4" r="4.1"/>
<circle cx="1949.0" cy="523.7" r="4.1"/>
<circle cx="1949.1" cy="568.1" r="4.1"/>
<circle cx="1949.2" cy="569.0" r="4.1"/>
<circle cx="1949.4" cy="557.7" r="4.1"/>
<circle cx="1949.4" cy="558.0" r="4.1"/>
<circle cx="1949.5" cy="555.4" r="4.1"/>
<circle cx="1949.6" cy="549.6" r="4.1"/>
<circle cx="1949.6" cy="571.5" r="4.1"/>
<circle cx="1949.6" cy="545.7" r="4.1"/>
<circle cx="1949.6" cy="530.5" r="4.1"/>
<circle cx="1949.7" cy="569.1" r="4.1"/>
<circle cx="1949.7" cy="572.7" r="4.1"/>
<circle cx="1949.8" cy="567.5" r="4.1"/>
<circle cx="1949.9" cy="569.9" r="4.1"/>
<circle cx="1949.9" cy="571.4" r="4.1"/>
<circle cx="1950.3" cy="551.3" r="4.1"/>
<circle cx="1950.3" cy="572.5" r="4.1"/>
<circle cx="1950.3" cy="557.5" r="4.1"/>
<circle cx="1950.4" cy="550.2" r="4.1"/>
<circle cx="1950.5" cy="551.9" r="4.1"/>
<circle cx="1950.6" cy="534.5" r="4.1"/>
<circle cx="1950.6" cy="554.2" r="4.1"/>
<circle cx="1950.7" cy="569.6" r="4.1"/>
<circle cx="1950.8" cy="566.9" r="4.1"/>
<circle cx="1950.8" cy="529.6" r="4.1"/>
<circle cx="1950.8" cy="571.9" r="4.1"/>
<circle cx="1950.8" cy="573.4" r="4.1"/>
<circle cx="1950.9" cy="572.2" r="4.1"/>
<circle cx="1950.9" cy="561.9" r="4.1"/>
<circle cx="1950.9" cy="573.9" r="4.1"/>
<circle cx="1951.0" cy="569.0" r="4.1"/>
<circle cx="1951.0" cy="568.0" r="4.1"/>
<circle cx="1951.0" cy="553.7" r="4.1"/>
<circle cx="1951.1" cy="570.6" r="4.1"/>
<circle cx="1951.2" cy="561.3" r="4.1"/>
<circle cx="1951.3" cy="573.2" r="4.1"/>
<circle cx="1951.3" cy="546.8" r="4.1"/>
<circle cx="1951.4" cy="562.0" r="4.1"/>
<circle cx="1951.4" cy="570.3" r="4.1"/>
<circle cx="1951.5" cy="538.7" r="4.1"/>
<circle cx="1951.6" cy="560.6" r="4.1"/>
<circle cx="1951.6" cy="552.1" r="4.1"/>
<circle cx="1951.7" cy="573.6" r="4.1"/>
<circle cx="1951.7" cy="572.1" r="4.1"/>
<circle cx="1951.7" cy="554.4" r="4.1"/>
<circle cx="1951.7" cy="574.5" r="4.1"/>
<circle cx="1951.8" cy="571.8" r="4.1"/>
<circle cx="1952.1" cy="556.6" r="4.1"/>
<circle cx="1952.1" cy="552.1" r="4.1"/>
<circle cx="1952.3" cy="565.2" r="4.1"/>
<circle cx="1952.4" cy="494.8" r="4.1"/>
<circle cx="1952.4" cy="525.8" r="4.1"/>
<circle cx="1952.6" cy="547.0" r="4.1"/>
<circle cx="1952.7" cy="562.9" r="4.1"/>
<circle cx="1952.9" cy="553.5" r="4.1"/>
<circle cx="1953.6" cy="548.2" r="4.1"/>
<circle cx="1953.6" cy="534.2" r="4.1"/>
<circle cx="1953.6" cy="574.7" r="4.1"/>
<circle cx="1953.7" cy="570.4" r="4.1"/>
<circle cx="1953.7" cy="562.2" r="4.1"/>
<circle cx="1953.8" cy="561.9" r="4.1"/>
<circle cx="1954.0" cy="526.6" r="4.1"/>
<circle cx="1954.3" cy="555.0" r="4.1"/>
<circle cx="1954.4" cy="545.7" r="4.1"/>
<circle cx="1954.7" cy="573.4" r="4.1"/>
<circle cx="1954.7" cy="571.3" r="4.1"/>
<circle cx="1954.8" cy="529.6" r="4.1"/>
<circle cx="1954.8" cy="558.1" r="4.1"/>
<circle cx="1954.9" cy="575.3" r="4.1"/>
<circle cx="1955.0" cy="546.4" r="4.1"/>
<circle cx="1955.1" cy="575.2" r="4.1"/>
<circle cx="1955.3" cy="527.5" r="4.1"/>
<circle cx="1955.7" cy="574.9" r="4.1"/>
<circle cx="1956.0" cy="562.6" r="4.1"/>
<circle cx="1956.0" cy="573.4" r="4.1"/>
<circle cx="1956.1" cy="561.8" r="4.1"/>
<circle cx="1956.1" cy="562.9" r="4.1"/>
<circle cx="1956.1" cy="557.8" r="4.1"/>
<circle cx="1956.2" cy="569.5" r="4.1"/>
<circle cx="1956.2" cy="549.5" r="4.1"/>
<circle cx="1956.3" cy="566.0" r="4.1"/>
<circle cx="1956.3" cy="567.6" r="4.1"/>
<circle cx="1956.3" cy="572.9" r="4.1"/>
<circle cx="1956.4" cy="564.9" r="4.1"/>
<circle cx="1956.5" cy="573.5" r="4.1"/>
<circle cx="1956.5" cy="558.0" r="4.1"/>
<circle cx="1956.6" cy="538.8" r="4.1"/>
<circle cx="1956.7" cy="535.9" r="4.1"/>
<circle cx="1956.8" cy="555.8" r="4.1"/>
<circle cx="1957.0" cy="552.5" r="4.1"/>
<circle cx="1957.1" cy="572.5" r="4.1"/>
<circle cx="1957.1" cy="552.2" r="4.1"/>
<circle cx="1957.1" cy="570.6" r="4.1"/>
<circle cx="1957.4" cy="564.2" r="4.1"/>
<circle cx="1957.5" cy="566.8" r="4.1"/>
<circle cx="1957.5" cy="565.1" r="4.1"/>
<circle cx="1957.6" cy="573.2" r="4.1"/>
<circle cx="1957.6" cy="567.6" r="4.1"/>
<circle cx="1957.7" cy="499.4" r="4.1"/>
<circle cx="1957.7" cy="566.7" r="4.1"/>
<circle cx="1957.8" cy="574.8" r="4.1"/>
<circle cx="1957.8" cy="575.5" r="4.1"/>
<circle cx="1958.3" cy="549.7" r="4.1"/>
<circle cx="1958.4" cy="562.9" r="4.1"/>
<circle cx="1958.5" cy="574.4" r="4.1"/>
<circle cx="1958.5" cy="564.8" r="4.1"/>
<circle cx="1958.6" cy="508.6" r="4.1"/>
<circle cx="1958.8" cy="573.6" r="4.1"/>
<circle cx="1958.8" cy="575.3" r="4.1"/>
<circle cx="1958.9" cy="572.9" r="4.1"/>
<circle cx="1958.9" cy="573.9" r="4.1"/>
<circle cx="1958.9" cy="569.1" r="4.1"/>
<circle cx="1959.0" cy="574.3" r="4.1"/>
<circle cx="1959.2" cy="555.2" r="4.1"/>
<circle cx="1959.4" cy="566.2" r="4.1"/>
<circle cx="1959.4" cy="533.4" r="4.1"/>
<circle cx="1959.4" cy="567.8" r="4.1"/>
<circle cx="1959.7" cy="573.5" r="4.1"/>
<circle cx="1959.7" cy="546.5" r="4.1"/>
<circle cx="1959.7" cy="569.2" r="4.1"/>
<circle cx="1959.8" cy="574.3" r="4.1"/>
<circle cx="1960.0" cy="575.3" r="4.1"/>
<circle cx="1960.2" cy="567.3" r="4.1"/>
<circle cx="1960.4" cy="575.2" r="4.1"/>
<circle cx="1960.4" cy="567.6" r="4.1"/>
<circle cx="1960.6" cy="574.6" r="4.1"/>
<circle cx="1961.1" cy="563.1" r="4.1"/>
<circle cx="1961.2" cy="574.5" r="4.1"/>
<circle cx="1961.2" cy="572.1" r="4.1"/>
<circle cx="1961.4" cy="571.6" r="4.1"/>
<circle cx="1961.8" cy="540.9" r="4.1"/>
<circle cx="1961.8" cy="571.4" r="4.1"/>
<circle cx="1962.0" cy="566.3" r="4.1"/>
<circle cx="1962.0" cy="547.1" r="4.1"/>
<circle cx="1962.3" cy="529.8" r="4.1"/>
<circle cx="1962.4" cy="561.7" r="4.1"/>
<circle cx="1962.5" cy="572.9" r="4.1"/>
<circle cx="1962.5" cy="535.1" r="4.1"/>
<circle cx="1962.5" cy="565.0" r="4.1"/>
<circle cx="1962.5" cy="555.0" r="4.1"/>
<circle cx="1962.5" cy="537.0" r="4.1"/>
<circle cx="1962.6" cy="556.8" r="4.1"/>
<circle cx="1962.7" cy="568.9" r="4.1"/>
<circle cx="1962.7" cy="575.1" r="4.1"/>
<circle cx="1962.7" cy="573.8" r="4.1"/>
<circle cx="1962.7" cy="487.2" r="4.1"/>
<circle cx="1962.8" cy="558.2" r="4.1"/>
<circle cx="1963.0" cy="569.6" r="4.1"/>
<circle cx="1963.4" cy="559.9" r="4.1"/>
<circle cx="1963.4" cy="557.1" r="4.1"/>
<circle cx="1963.4" cy="553.0" r="4.1"/>
<circle cx="1963.5" cy="574.9" r="4.1"/>
<circle cx="1963.5" cy="575.0" r="4.1"/>
<circle cx="1963.7" cy="569.6" r="4.1"/>
<circle cx="1963.7" cy="565.3" r="4.1"/>
<circle cx="1963.7" cy="575.4" r="4.1"/>
<circle cx="1963.9" cy="524.8" r="4.1"/>
<circle cx="1964.1" cy="569.5" r="4.1"/>
<circle cx="1964.3" cy="568.6" r="4.1"/>
<circle cx="1964.3" cy="568.2" r="4.1"/>
<circle cx="1964.3" cy="559.5" r="4.1"/>
<circle cx="1964.5" cy="574.5" r="4.1"/>
<circle cx="1964.7" cy="558.2" r="4.1"/>
<circle cx="1964.7" cy="536.0" r="4.1"/>
<circle cx="1965.1" cy="562.0" r="4.1"/>
<circle cx="1965.1" cy="553.1" r="4.1"/>
<circle cx="1965.4" cy="575.1" r="4.1"/>
<circle cx="1965.6" cy="560.2" r="4.1"/>
<circle cx="1965.6" cy="548.2" r="4.1"/>
<circle cx="1965.7" cy="571.6" r="4.1"/>
<circle cx="1965.7" cy="566.7" r="4.1"/>
<circle cx="1965.9" cy="568.4" r="4.1"/>
<circle cx="1966.0" cy="569.0" r="4.1"/>
<circle cx="1966.2" cy="571.7" r="4.1"/>
<circle cx="1966.4" cy="569.5" r="4.1"/>
<circle cx="1966.4" cy="562.6" r="4.1"/>
<circle cx="1966.4" cy="573.0" r="4.1"/>
<circle cx="1966.5" cy="567.6" r="4.1"/>
<circle cx="1966.6" cy="548.9" r="4.1"/>
<circle cx="1966.7" cy="563.8" r="4.1"/>
<circle cx="1966.8" cy="557.7" r="4.1"/>
<circle cx="1966.8" cy="546.2" r="4.1"/>
<circle cx="1966.8" cy="553.6" r="4.1"/>
<circle cx="1966.9" cy="517.9" r="4.1"/>
<circle cx="1966.9" cy="548.1" r="4.1"/>
<circle cx="1967.0" cy="552.9" r="4.1"/>
<circle cx="1967.1" cy="531.2" r="4.1"/>
<circle cx="1967.1" cy="546.5" r="4.1"/>
<circle cx="1967.3" cy="575.4" r="4.1"/>
<circle cx="1967.5" cy="568.5" r="4.1"/>
<circle cx="1967.6" cy="560.2" r="4.1"/>
<circle cx="1967.8" cy="566.9" r="4.1"/>
<circle cx="1968.0" cy="574.6" r="4.1"/>
<circle cx="1968.0" cy="564.9" r="4.1"/>
<circle cx="1968.3" cy="561.2" r="4.1"/>
<circle cx="1968.5" cy="536.3" r="4.1"/>
<circle cx="1968.5" cy="544.3" r="4.1"/>
<circle cx="1968.5" cy="552.4" r="4.1"/>
<circle cx="1968.5" cy="559.3" r="4.1"/>
<circle cx="1968.5" cy="566.2" r="4.1"/>
</g>
<g fill="#87cefa" stroke="#333" stroke-width="1.15">
<circle cx="1594.8" cy="569.9" r="4.1"/>
<circle cx="1609.3" cy="568.7" r="4.1"/>
<circle cx="1618.0" cy="574.1" r="4.1"/>
<circle cx="1627.6" cy="559.9" r="4.1"/>
<circle cx="1629.9" cy="559.1" r="4.1"/>
<circle cx="1632.5" cy="480.1" r="4.1"/>
<circle cx="1632.7" cy="383.6" r="4.1"/>
<circle cx="1633.0" cy="549.2" r="4.1"/>
<circle cx="1633.0" cy="558.4" r="4.1"/>
<circle cx="1634.1" cy="569.1" r="4.1"/>
<circle cx="1634.5" cy="574.1" r="4.1"/>
<circle cx="1636.0" cy="555.3" r="4.1"/>
<circle cx="1636.0" cy="561.1" r="4.1"/>
<circle cx="1636.3" cy="486.6" r="4.1"/>
<circle cx="1636.4" cy="435.4" r="4.1"/>
<circle cx="1636.4" cy="444.6" r="4.1"/>
<circle cx="1636.4" cy="543.8" r="4.1"/>
<circle cx="1637.5" cy="422.3" r="4.1"/>
<circle cx="1642.6" cy="413.5" r="4.1"/>
<circle cx="1643.3" cy="432.2" r="4.1"/>
<circle cx="1643.7" cy="544.6" r="4.1"/>
<circle cx="1648.3" cy="544.2" r="4.1"/>
<circle cx="1649.1" cy="535.0" r="4.1"/>
<circle cx="1654.5" cy="566.8" r="4.1"/>
<circle cx="1659.0" cy="452.2" r="4.1"/>
<circle cx="1660.2" cy="565.7" r="4.1"/>
<circle cx="1667.5" cy="541.9" r="4.1"/>
<circle cx="1669.4" cy="566.4" r="4.1"/>
<circle cx="1669.8" cy="543.0" r="4.1"/>
<circle cx="1671.0" cy="558.8" r="4.1"/>
<circle cx="1672.5" cy="544.2" r="4.1"/>
<circle cx="1674.8" cy="545.3" r="4.1"/>
<circle cx="1677.1" cy="546.9" r="4.1"/>
<circle cx="1680.2" cy="563.4" r="4.1"/>
<circle cx="1685.5" cy="559.5" r="4.1"/>
<circle cx="1685.9" cy="541.1" r="4.1"/>
<circle cx="1687.5" cy="551.5" r="4.1"/>
<circle cx="1692.1" cy="547.6" r="4.1"/>
<circle cx="1694.7" cy="518.3" r="4.1"/>
<circle cx="1695.9" cy="547.6" r="4.1"/>
<circle cx="1697.4" cy="533.0" r="4.1"/>
<circle cx="1699.0" cy="548.4" r="4.1"/>
<circle cx="1699.7" cy="537.7" r="4.1"/>
<circle cx="1701.3" cy="537.0" r="4.1"/>
<circle cx="1702.5" cy="548.9" r="4.1"/>
<circle cx="1706.6" cy="540.9" r="4.1"/>
<circle cx="1713.6" cy="551.3" r="4.1"/>
<circle cx="1714.2" cy="540.9" r="4.1"/>
<circle cx="1720.0" cy="546.6" r="4.1"/>
<circle cx="1722.3" cy="552.4" r="4.1"/>
<circle cx="1727.4" cy="554.7" r="4.1"/>
<circle cx="1729.7" cy="551.3" r="4.1"/>
<circle cx="1734.3" cy="551.3" r="4.1"/>
<circle cx="1735.4" cy="542.0" r="4.1"/>
<circle cx="1736.6" cy="566.7" r="4.1"/>
<circle cx="1737.1" cy="544.8" r="4.1"/>
<circle cx="1743.5" cy="550.6" r="4.1"/>
<circle cx="1755.7" cy="512.7" r="4.1"/>
<circle cx="1755.7" cy="539.7" r="4.1"/>
<circle cx="1759.6" cy="547.8" r="4.1"/>
<circle cx="1760.4" cy="497.0" r="4.1"/>
<circle cx="1760.4" cy="514.8" r="4.1"/>
<circle cx="1761.4" cy="499.1" r="4.1"/>
<circle cx="1761.9" cy="550.6" r="4.1"/>
<circle cx="1762.1" cy="504.1" r="4.1"/>
<circle cx="1762.8" cy="488.1" r="4.1"/>
<circle cx="1762.8" cy="501.3" r="4.1"/>
<circle cx="1768.8" cy="548.9" r="4.1"/>
<circle cx="1771.1" cy="549.4" r="4.1"/>
<circle cx="1777.1" cy="511.2" r="4.1"/>
<circle cx="1778.5" cy="502.7" r="4.1"/>
<circle cx="1780.6" cy="504.8" r="4.1"/>
<circle cx="1781.3" cy="526.9" r="4.1"/>
<circle cx="1782.8" cy="507.0" r="4.1"/>
<circle cx="1784.2" cy="517.7" r="4.1"/>
<circle cx="1784.9" cy="509.8" r="4.1"/>
<circle cx="1787.0" cy="512.7" r="4.1"/>
<circle cx="1788.5" cy="524.1" r="4.1"/>
<circle cx="1790.6" cy="514.8" r="4.1"/>
<circle cx="1791.3" cy="479.9" r="4.1"/>
<circle cx="1793.5" cy="489.9" r="4.1"/>
<circle cx="1794.9" cy="481.3" r="4.1"/>
<circle cx="1796.3" cy="487.7" r="4.1"/>
<circle cx="1797.7" cy="477.7" r="4.1"/>
<circle cx="1797.7" cy="494.1" r="4.1"/>
<circle cx="1799.9" cy="479.9" r="4.1"/>
<circle cx="1800.3" cy="566.2" r="4.1"/>
<circle cx="1803.8" cy="560.5" r="4.1"/>
<circle cx="1807.2" cy="568.1" r="4.1"/>
</g>
<g fill="#00ff00" stroke="#333" stroke-width="1.15">
<circle cx="1631.1" cy="420.6" r="4.1"/>
<circle cx="1637.4" cy="466.9" r="4.1"/>
<circle cx="1638.3" cy="549.5" r="4.1"/>
<circle cx="1638.7" cy="479.0" r="4.1"/>
<circle cx="1639.1" cy="469.1" r="4.1"/>
<circle cx="1640.7" cy="468.0" r="4.1"/>
<circle cx="1641.8" cy="473.5" r="4.1"/>
<circle cx="1642.2" cy="550.7" r="4.1"/>
<circle cx="1642.9" cy="471.3" r="4.1"/>
<circle cx="1643.7" cy="554.5" r="4.1"/>
<circle cx="1644.9" cy="561.4" r="4.1"/>
<circle cx="1645.3" cy="550.7" r="4.1"/>
<circle cx="1646.2" cy="472.9" r="4.1"/>
<circle cx="1646.8" cy="443.0" r="4.1"/>
<circle cx="1647.3" cy="479.2" r="4.1"/>
<circle cx="1648.3" cy="550.3" r="4.1"/>
<circle cx="1648.4" cy="471.3" r="4.1"/>
<circle cx="1650.6" cy="470.2" r="4.1"/>
<circle cx="1650.6" cy="473.5" r="4.1"/>
<circle cx="1651.4" cy="550.7" r="4.1"/>
<circle cx="1652.2" cy="463.1" r="4.1"/>
<circle cx="1653.9" cy="464.7" r="4.1"/>
<circle cx="1654.5" cy="550.3" r="4.1"/>
<circle cx="1656.0" cy="557.6" r="4.1"/>
<circle cx="1656.1" cy="465.8" r="4.1"/>
<circle cx="1656.4" cy="545.7" r="4.1"/>
<circle cx="1657.5" cy="550.7" r="4.1"/>
<circle cx="1657.7" cy="478.1" r="4.1"/>
<circle cx="1658.3" cy="468.0" r="4.1"/>
<circle cx="1659.9" cy="466.9" r="4.1"/>
<circle cx="1661.4" cy="553.0" r="4.1"/>
<circle cx="1663.7" cy="552.2" r="4.1"/>
<circle cx="1663.7" cy="465.3" r="4.1"/>
<circle cx="1663.7" cy="483.4" r="4.1"/>
<circle cx="1664.3" cy="314.0" r="4.1"/>
<circle cx="1664.3" cy="488.3" r="4.1"/>
<circle cx="1664.8" cy="468.0" r="4.1"/>
<circle cx="1665.2" cy="549.5" r="4.1"/>
<circle cx="1665.9" cy="471.8" r="4.1"/>
<circle cx="1671.4" cy="433.3" r="4.1"/>
<circle cx="1673.2" cy="452.7" r="4.1"/>
<circle cx="1697.4" cy="479.4" r="4.1"/>
<circle cx="1699.3" cy="485.1" r="4.1"/>
<circle cx="1726.2" cy="486.3" r="4.1"/>
<circle cx="1732.0" cy="484.4" r="4.1"/>
<circle cx="1735.0" cy="484.9" r="4.1"/>
<circle cx="1740.4" cy="471.0" r="4.1"/>
<circle cx="1741.0" cy="451.4" r="4.1"/>
<circle cx="1748.8" cy="489.9" r="4.1"/>
<circle cx="1754.3" cy="443.1" r="4.1"/>
<circle cx="1758.0" cy="383.8" r="4.1"/>
<circle cx="1759.4" cy="362.4" r="4.1"/>
<circle cx="1759.4" cy="364.0" r="4.1"/>
<circle cx="1760.1" cy="400.4" r="4.1"/>
<circle cx="1768.5" cy="439.9" r="4.1"/>
<circle cx="1769.7" cy="422.1" r="4.1"/>
<circle cx="1769.9" cy="447.8" r="4.1"/>
<circle cx="1770.9" cy="414.3" r="4.1"/>
<circle cx="1771.8" cy="429.3" r="4.1"/>
<circle cx="1774.2" cy="526.6" r="4.1"/>
<circle cx="1785.6" cy="470.6" r="4.1"/>
<circle cx="1788.9" cy="471.3" r="4.1"/>
<circle cx="1803.2" cy="483.9" r="4.1"/>
</g>
<g fill="#ffa500" stroke="#333" stroke-width="1.15">
<circle cx="1645.2" cy="292.1" r="4.1"/>
<circle cx="1645.6" cy="288.4" r="4.1"/>
<circle cx="1655.7" cy="284.0" r="4.1"/>
<circle cx="1659.0" cy="293.3" r="4.1"/>
<circle cx="1664.3" cy="277.6" r="4.1"/>
<circle cx="1754.3" cy="447.8" r="4.1"/>
<circle cx="1756.4" cy="448.8" r="4.1"/>
<circle cx="1758.5" cy="449.9" r="4.1"/>
<circle cx="1758.5" cy="457.8" r="4.1"/>
<circle cx="1759.5" cy="470.6" r="4.1"/>
<circle cx="1759.5" cy="484.6" r="4.1"/>
<circle cx="1760.7" cy="451.4" r="4.1"/>
<circle cx="1762.8" cy="449.2" r="4.1"/>
<circle cx="1764.7" cy="444.9" r="4.1"/>
<circle cx="1766.7" cy="431.8" r="4.1"/>
<circle cx="1767.1" cy="451.4" r="4.1"/>
</g>
<g fill="#5a2020" stroke="#333" stroke-width="1.15">
<circle cx="1654.8" cy="288.4" r="4.1"/>
</g>
<g fill="#ff0000" stroke="#333" stroke-width="1.15">
<circle cx="1638.0" cy="329.4" r="4.1"/>
<circle cx="1641.0" cy="332.4" r="4.1"/>
<circle cx="1647.2" cy="439.5" r="4.1"/>
<circle cx="1647.7" cy="340.2" r="4.1"/>
<circle cx="1648.8" cy="355.9" r="4.1"/>
<circle cx="1650.2" cy="330.6" r="4.1"/>
<circle cx="1651.1" cy="357.1" r="4.1"/>
<circle cx="1651.8" cy="326.0" r="4.1"/>
<circle cx="1651.8" cy="360.5" r="4.1"/>
<circle cx="1652.8" cy="371.3" r="4.1"/>
<circle cx="1656.9" cy="336.6" r="4.1"/>
<circle cx="1657.1" cy="288.4" r="4.1"/>
<circle cx="1657.6" cy="379.6" r="4.1"/>
<circle cx="1659.4" cy="287.0" r="4.1"/>
<circle cx="1660.4" cy="317.9" r="4.1"/>
<circle cx="1663.3" cy="318.6" r="4.1"/>
<circle cx="1663.4" cy="474.0" r="4.1"/>
<circle cx="1665.0" cy="321.4" r="4.1"/>
<circle cx="1665.2" cy="317.4" r="4.1"/>
<circle cx="1768.2" cy="368.1" r="4.1"/>
</g>
</g>
<path d="M1660.4 193.9Q1664.2 195.3 1665.6 199.1Q1664.2 202.9 1660.4 204.3Q1656.6 202.9 1655.2 199.1Q1656.6 195.3 1660.4 193.9Z" fill="#7d26cd" stroke="#333" stroke-width="1" stroke-linejoin="miter"/>
<text x="1659.5" y="185.5" class="t25" text-anchor="middle">rs141588480</text>
<line x1="1348.3" y1="61.7" x2="1973.3" y2="61.7" stroke="#6e6e6e" stroke-width="1.4"/>
<line x1="1348.3" y1="599.9" x2="1974.2" y2="599.9" stroke="#2a2a2a" stroke-width="1.5"/>
<line x1="1348.3" y1="61.0" x2="1348.3" y2="600.6" stroke="#000" stroke-width="1.8"/>
<line x1="1973.3" y1="61.0" x2="1973.3" y2="85" stroke="#2a2a2a" stroke-width="1.8"/>
<line x1="1973.3" y1="85" x2="1973.3" y2="575" stroke="#3a35e8" stroke-width="1.4"/>
<line x1="1973.3" y1="575" x2="1973.3" y2="600.6" stroke="#2a2a2a" stroke-width="1.8"/>
<line x1="1338.3" y1="575.5" x2="1348.3" y2="575.5" stroke="#000" stroke-width="2"/>
<text x="1328.3" y="585.4" class="t25" text-anchor="end" style="font-size:24.4px">0</text>
<line x1="1338.3" y1="477.6" x2="1348.3" y2="477.6" stroke="#000" stroke-width="2"/>
<text x="1328.3" y="487.5" class="t25" text-anchor="end" style="font-size:24.4px">2</text>
<line x1="1338.3" y1="379.7" x2="1348.3" y2="379.7" stroke="#000" stroke-width="2"/>
<text x="1328.3" y="389.6" class="t25" text-anchor="end" style="font-size:24.4px">4</text>
<line x1="1338.3" y1="281.7" x2="1348.3" y2="281.7" stroke="#000" stroke-width="2"/>
<text x="1328.3" y="291.6" class="t25" text-anchor="end" style="font-size:24.4px">6</text>
<line x1="1338.3" y1="183.8" x2="1348.3" y2="183.8" stroke="#000" stroke-width="2"/>
<text x="1328.3" y="193.7" class="t25" text-anchor="end" style="font-size:24.4px">8</text>
<line x1="1338.3" y1="85.9" x2="1348.3" y2="85.9" stroke="#000" stroke-width="2"/>
<text x="1328.3" y="95.8" class="t25" text-anchor="end" style="font-size:24.4px">10</text>
<line x1="1973.3" y1="575.2" x2="1982.5" y2="575.2" stroke="#2a22f5" stroke-width="1.8"/>
<text x="1989" y="581.9" class="t25 blue">0</text>
<line x1="1973.3" y1="477.3" x2="1982.5" y2="477.3" stroke="#2a22f5" stroke-width="1.8"/>
<text x="1989" y="484.0" class="t25 blue">20</text>
<line x1="1973.3" y1="379.4" x2="1982.5" y2="379.4" stroke="#2a22f5" stroke-width="1.8"/>
<text x="1989" y="386.1" class="t25 blue">40</text>
<line x1="1973.3" y1="281.4" x2="1982.5" y2="281.4" stroke="#2a22f5" stroke-width="1.8"/>
<text x="1989" y="288.1" class="t25 blue">60</text>
<line x1="1973.3" y1="183.5" x2="1982.5" y2="183.5" stroke="#2a22f5" stroke-width="1.8"/>
<text x="1989" y="190.2" class="t25 blue">80</text>
<line x1="1973.3" y1="85.6" x2="1982.5" y2="85.6" stroke="#2a22f5" stroke-width="1.8"/>
<text x="1989" y="92.3" class="t25 blue">100</text>
<text transform="translate(1282.5,415.5) rotate(-90)" class="t25">–log<tspan dy="6.6" style="font-size:19px">10</tspan><tspan dy="-6.6"> (</tspan><tspan class="i">p</tspan>-value)</text>
<text transform="translate(2064.6,484) rotate(-90)" class="t25 blue">Recombination rate (cM/Mb)</text>
<text x="1666.5" y="906.3" class="t25" text-anchor="middle">Position on chr20 (Mb)</text>
<rect x="1901.7" y="68.8" width="64.6" height="139" fill="#fff" stroke="#2a2a2a" stroke-width="1.5"/>
<rect x="1909.8" y="93.0" width="14" height="21.5" fill="#ff0000" stroke="#555" stroke-width="1"/>
<rect x="1909.8" y="114.5" width="14" height="21.5" fill="#ffa500" stroke="#555" stroke-width="1"/>
<rect x="1909.8" y="136.0" width="14" height="21.5" fill="#00ff00" stroke="#555" stroke-width="1"/>
<rect x="1909.8" y="157.5" width="14" height="21.5" fill="#87cefa" stroke="#555" stroke-width="1"/>
<rect x="1909.8" y="179.0" width="14" height="21.5" fill="#000080" stroke="#555" stroke-width="1"/>
<line x1="1923.8" y1="114.7" x2="1931.2" y2="114.7" stroke="#2e2e2e" stroke-width="1.25"/>
<text x="1936" y="120.8" class="leg">0.8</text>
<line x1="1923.8" y1="136.2" x2="1931.2" y2="136.2" stroke="#2e2e2e" stroke-width="1.25"/>
<text x="1936" y="142.3" class="leg">0.6</text>
<line x1="1923.8" y1="157.7" x2="1931.2" y2="157.7" stroke="#2e2e2e" stroke-width="1.25"/>
<text x="1936" y="163.8" class="leg">0.4</text>
<line x1="1923.8" y1="179.2" x2="1931.2" y2="179.2" stroke="#2e2e2e" stroke-width="1.25"/>
<text x="1936" y="185.3" class="leg">0.2</text>
<text x="1930" y="89.8" class="leg i">r<tspan dy="-5.5" dx="-0.5" style="font-size:12.5px">2</tspan></text>
<rect x="1348.3" y="608.8" width="625.0" height="222.5" fill="none" stroke="#1a1a1a" stroke-width="1.8"/>
<line x1="1499.9" y1="831.3" x2="1499.9" y2="841" stroke="#1a1a1a" stroke-width="2"/>
<text x="1501.7" y="868.7" class="t25" text-anchor="middle">31.5</text>
<line x1="1656.3" y1="831.3" x2="1656.3" y2="841" stroke="#1a1a1a" stroke-width="2"/>
<text x="1658.1" y="868.7" class="t25" text-anchor="middle">32</text>
<line x1="1812.7" y1="831.3" x2="1812.7" y2="841" stroke="#1a1a1a" stroke-width="2"/>
<text x="1814.5" y="868.7" class="t25" text-anchor="middle">32.5</text>
<line x1="1969.1" y1="831.3" x2="1969.1" y2="841" stroke="#1a1a1a" stroke-width="2"/>
<text x="1970.9" y="868.7" class="t25" text-anchor="middle">33</text>
<clipPath id="gc"><rect x="1348.3" y="608.8" width="626.0" height="222.5"/></clipPath>
<g clip-path="url(#gc)">
<text x="1350.3" y="622.9" class="gene">ASXL1</text>
<path d="M1391 619.2H1402" stroke="#111" stroke-width="1.25" fill="none"/><path d="M1404.3 619.2l-6 -2.5l1.3 2.5l-1.3 2.5z" fill="#111"/>
<rect x="1348.4" y="626.0" width="4.3" height="5.2" fill="#000080"/>
<text x="1424.7" y="622.9" class="gene">DNMT3B</text>
<path d="M1479.9 619.2H1491.3" stroke="#111" stroke-width="1.25" fill="none"/><path d="M1493.6 619.2l-6 -2.5l1.3 2.5l-1.3 2.5z" fill="#111"/>
<rect x="1452.7" y="628.1" width="6.6" height="1.1" fill="#000080"/>
<rect x="1452.4" y="626.0" width="1" height="5.2" fill="#000080"/>
<rect x="1458.6" y="626.0" width="9.5" height="5.2" fill="#000080"/>
<text x="1500.8" y="622.9" class="gene">BPIFB2</text>
<path d="M1548.2 619.2H1559.6" stroke="#111" stroke-width="1.25" fill="none"/><path d="M1561.8999999999999 619.2l-6 -2.5l1.3 2.5l-1.3 2.5z" fill="#111"/>
<rect x="1529.6" y="626.0" width="5.8" height="5.2" fill="#000080"/>
<text x="1570.8" y="622.9" class="gene">BPIFA1</text>
<path d="M1617.7 619.2H1628.8" stroke="#111" stroke-width="1.25" fill="none"/><path d="M1631.1 619.2l-6 -2.5l1.3 2.5l-1.3 2.5z" fill="#111"/>
<rect x="1601.0" y="626.0" width="2.8" height="5.2" fill="#000080"/>
<text x="1668.6" y="622.9" class="gene">CBFA2T2</text>
<path d="M1726.8 619.2H1738" stroke="#111" stroke-width="1.25" fill="none"/><path d="M1740.3 619.2l-6 -2.5l1.3 2.5l-1.3 2.5z" fill="#111"/>
<rect x="1680.5" y="628.1" width="50.2" height="1.1" fill="#000080"/>
<rect x="1680.1" y="626.0" width="1" height="5.2" fill="#000080"/>
<rect x="1702.7" y="626.0" width="1" height="5.2" fill="#000080"/>
<rect x="1706.0" y="626.0" width="1" height="5.2" fill="#000080"/>
<rect x="1716.8" y="626.0" width="1" height="5.2" fill="#000080"/>
<rect x="1721.1" y="626.0" width="3.4" height="5.2" fill="#000080"/>
<rect x="1725.8" y="626.0" width="5.2" height="5.2" fill="#000080"/>
<text x="1752.1" y="622.9" class="gene">CHMP4B</text>
<path d="M1808 619.2H1819.1" stroke="#111" stroke-width="1.25" fill="none"/><path d="M1821.3999999999999 619.2l-6 -2.5l1.3 2.5l-1.3 2.5z" fill="#111"/>
<rect x="1780.9" y="628.1" width="13.9" height="1.1" fill="#000080"/>
<rect x="1780.5" y="626.0" width="1" height="5.2" fill="#000080"/>
<rect x="1792.2" y="626.0" width="2.6" height="5.2" fill="#000080"/>
<text x="1858.4" y="622.9" class="gene">EIF2S2</text>
<path d="M1855.9 619.2H1844.7" stroke="#111" stroke-width="1.25" fill="none"/><path d="M1842.4 619.2l6 -2.5l-1.3 2.5l1.3 2.5z" fill="#111"/>
<rect x="1867.5" y="626.0" width="3.9" height="5.2" fill="#000080"/>
<rect x="1872.3" y="626.0" width="1.2" height="5.2" fill="#000080"/>
<rect x="1874.4" y="626.0" width="1.3" height="5.2" fill="#000080"/>
<text x="1925.9" y="622.9" class="gene">ITCH</text>
<path d="M1958.2 619.2H1969" stroke="#111" stroke-width="1.25" fill="none"/><path d="M1971.3 619.2l-6 -2.5l1.3 2.5l-1.3 2.5z" fill="#111"/>
<rect x="1953.5" y="628.1" width="19.5" height="1.1" fill="#000080"/>
<rect x="1953.2" y="626.0" width="1.4" height="5.2" fill="#000080"/>
<rect x="1962.8" y="626.0" width="1" height="5.2" fill="#000080"/>
<rect x="1967.8" y="626.0" width="3.2" height="5.2" fill="#000080"/>
<rect x="1972.0" y="626.0" width="1.4" height="5.2" fill="#000080"/>
<text x="1365.7" y="649.9" class="gene">NOL4L</text>
<path d="M1363.5 647.1H1352.4" stroke="#111" stroke-width="1.25" fill="none"/><path d="M1350.1000000000001 647.1l6 -2.5l-1.3 2.5l1.3 2.5z" fill="#111"/>
<rect x="1353.0" y="653.9" width="5.1" height="5.2" fill="#000080"/>
<rect x="1358.1" y="656.0" width="40.2" height="1.1" fill="#000080"/>
<rect x="1362.3" y="653.9" width="1" height="5.2" fill="#000080"/>
<rect x="1364.3" y="653.9" width="1" height="5.2" fill="#000080"/>
<rect x="1374.6" y="653.9" width="1" height="5.2" fill="#000080"/>
<rect x="1376.9" y="653.9" width="1" height="5.2" fill="#000080"/>
<rect x="1378.8" y="653.9" width="1" height="5.2" fill="#000080"/>
<rect x="1397.8" y="653.9" width="1" height="5.2" fill="#000080"/>
<text x="1441.0" y="649.9" class="gene">MAPRE1</text>
<path d="M1495.6 647.1H1507.1" stroke="#111" stroke-width="1.25" fill="none"/><path d="M1509.3999999999999 647.1l-6 -2.5l1.3 2.5l-1.3 2.5z" fill="#111"/>
<rect x="1470.2" y="656.0" width="11.1" height="1.1" fill="#000080"/>
<rect x="1470.2" y="653.9" width="1.4" height="5.2" fill="#000080"/>
<rect x="1472.8" y="653.9" width="1.2" height="5.2" fill="#000080"/>
<rect x="1475.2" y="653.9" width="1.8" height="5.2" fill="#000080"/>
<rect x="1477.9" y="653.9" width="1.3" height="5.2" fill="#000080"/>
<rect x="1480.0" y="653.9" width="1.3" height="5.2" fill="#000080"/>
<text x="1515.6" y="649.9" class="gene">BPIFB3</text>
<path d="M1563.2 647.1H1574.5" stroke="#111" stroke-width="1.25" fill="none"/><path d="M1576.8 647.1l-6 -2.5l1.3 2.5l-1.3 2.5z" fill="#111"/>
<rect x="1544.3" y="653.9" width="6.5" height="5.2" fill="#000080"/>
<text x="1588.8" y="649.9" class="gene">BPIFB1</text>
<path d="M1635.5 647.1H1647.1" stroke="#111" stroke-width="1.25" fill="none"/><path d="M1649.3999999999999 647.1l-6 -2.5l1.3 2.5l-1.3 2.5z" fill="#111"/>
<rect x="1615.4" y="653.9" width="4.3" height="5.2" fill="#000080"/>
<rect x="1620.5" y="653.9" width="4.2" height="5.2" fill="#000080"/>
<text x="1717.0" y="649.9" class="gene">NECAB3</text>
<path d="M1716 647.1H1705.2" stroke="#111" stroke-width="1.25" fill="none"/><path d="M1702.9 647.1l6 -2.5l-1.3 2.5l1.3 2.5z" fill="#111"/>
<rect x="1732.3" y="653.9" width="2.3" height="5.2" fill="#000080"/>
<rect x="1734.6" y="656.0" width="1.4" height="1.1" fill="#000080"/>
<rect x="1736.0" y="653.9" width="2.7" height="5.2" fill="#000080"/>
<text x="1813.5" y="649.9" class="gene">RALY-AS1</text>
<path d="M1812.9 647.1H1801.8" stroke="#111" stroke-width="1.25" fill="none"/><path d="M1799.5 647.1l6 -2.5l-1.3 2.5l1.3 2.5z" fill="#111"/>
<rect x="1837.4" y="653.9" width="1.5" height="5.2" fill="#000080"/>
<text x="1898.5" y="649.9" class="gene">ASIP</text>
<path d="M1931.3 647.1H1942.7" stroke="#111" stroke-width="1.25" fill="none"/><path d="M1945.0 647.1l-6 -2.5l1.3 2.5l-1.3 2.5z" fill="#111"/>
<rect x="1921.1" y="656.0" width="3.5" height="1.1" fill="#000080"/>
<rect x="1921.1" y="653.9" width="1.2" height="5.2" fill="#000080"/>
<rect x="1923.5" y="653.9" width="1.1" height="5.2" fill="#000080"/>
<text x="1350.3" y="678.0" class="gene">LOC101929698</text>
<path d="M1440.8 675.0H1451.9" stroke="#111" stroke-width="1.25" fill="none"/><path d="M1454.2 675.0l-6 -2.5l1.3 2.5l-1.3 2.5z" fill="#111"/>
<rect x="1374.0" y="683.9" width="3.8" height="1.1" fill="#000080"/>
<rect x="1374.0" y="681.8" width="1.2" height="5.2" fill="#000080"/>
<rect x="1376.6" y="681.8" width="1.2" height="5.2" fill="#000080"/>
<text x="1512.8" y="678.0" class="gene">SUN5</text>
<path d="M1513.4 675.0H1503" stroke="#111" stroke-width="1.25" fill="none"/><path d="M1500.7 675.0l6 -2.5l-1.3 2.5l1.3 2.5z" fill="#111"/>
<rect x="1521.9" y="681.8" width="3.1" height="5.2" fill="#000080"/>
<rect x="1525.8" y="681.8" width="3.5" height="5.2" fill="#000080"/>
<text x="1566.9" y="678.0" class="gene">BPIFA3</text>
<path d="M1612 675.0H1623.4" stroke="#111" stroke-width="1.25" fill="none"/><path d="M1625.7 675.0l-6 -2.5l1.3 2.5l-1.3 2.5z" fill="#111"/>
<rect x="1595.0" y="681.8" width="1.4" height="5.2" fill="#000080"/>
<rect x="1596.0" y="683.9" width="2.0" height="1.1" fill="#000080"/>
<rect x="1597.3" y="681.8" width="1.6" height="5.2" fill="#000080"/>
<text x="1694.9" y="678.0" class="gene">C20orf144</text>
<path d="M1757.7 675.0H1769.2" stroke="#111" stroke-width="1.25" fill="none"/><path d="M1771.5 675.0l-6 -2.5l1.3 2.5l-1.3 2.5z" fill="#111"/>
<rect x="1733.9" y="681.8" width="1.6" height="5.2" fill="#000080"/>
<text x="1827.1" y="678.0" class="gene">RALY</text>
<path d="M1862 675.0H1873.2" stroke="#111" stroke-width="1.25" fill="none"/><path d="M1875.5 675.0l-6 -2.5l1.3 2.5l-1.3 2.5z" fill="#111"/>
<rect x="1837.8" y="683.9" width="28.1" height="1.1" fill="#000080"/>
<rect x="1837.5" y="681.8" width="1" height="5.2" fill="#000080"/>
<rect x="1849.5" y="681.8" width="1" height="5.2" fill="#000080"/>
<rect x="1862.5" y="681.8" width="3.7" height="5.2" fill="#000080"/>
<text x="1922.5" y="678.0" class="gene">AHCY</text>
<path d="M1920.4 675.0H1909.2" stroke="#111" stroke-width="1.25" fill="none"/><path d="M1906.9 675.0l6 -2.5l-1.3 2.5l1.3 2.5z" fill="#111"/>
<rect x="1926.9" y="683.9" width="10.9" height="1.1" fill="#000080"/>
<rect x="1926.9" y="681.8" width="2.5" height="5.2" fill="#000080"/>
<rect x="1930.0" y="681.8" width="1.6" height="5.2" fill="#000080"/>
<rect x="1932.6" y="681.8" width="1.2" height="5.2" fill="#000080"/>
<rect x="1934.6" y="681.8" width="1.0" height="5.2" fill="#000080"/>
<rect x="1937.0" y="681.8" width="1" height="5.2" fill="#000080"/>
<text x="1359.1" y="707.1" class="gene">LOC149950</text>
<path d="M1429.2 702.9H1440.3" stroke="#111" stroke-width="1.25" fill="none"/><path d="M1442.6 702.9l-6 -2.5l1.3 2.5l-1.3 2.5z" fill="#111"/>
<rect x="1398.0" y="711.8" width="7.6" height="1.1" fill="#000080"/>
<rect x="1397.7" y="709.7" width="1" height="5.2" fill="#000080"/>
<rect x="1401.6" y="709.7" width="1.3" height="5.2" fill="#000080"/>
<rect x="1404.8" y="709.7" width="1" height="5.2" fill="#000080"/>
<text x="1509.0" y="707.1" class="gene">BPIFB6</text>
<path d="M1555.1 702.9H1566.3" stroke="#111" stroke-width="1.25" fill="none"/><path d="M1568.6 702.9l-6 -2.5l1.3 2.5l-1.3 2.5z" fill="#111"/>
<rect x="1537.1" y="709.7" width="4.6" height="5.2" fill="#000080"/>
<text x="1617.6" y="707.1" class="gene">CDK5RAP1</text>
<path d="M1618.2 702.9H1608.1" stroke="#111" stroke-width="1.25" fill="none"/><path d="M1605.8 702.9l6 -2.5l-1.3 2.5l1.3 2.5z" fill="#111"/>
<rect x="1638.9" y="711.8" width="14.4" height="1.1" fill="#000080"/>
<rect x="1638.9" y="709.7" width="2.6" height="5.2" fill="#000080"/>
<rect x="1642.2" y="709.7" width="2.8" height="5.2" fill="#000080"/>
<rect x="1645.8" y="709.7" width="2.5" height="5.2" fill="#000080"/>
<rect x="1649.0" y="709.7" width="4.3" height="5.2" fill="#000080"/>
<text x="1703.1" y="707.1" class="gene">ACTL10</text>
<path d="M1753.1 702.9H1764.2" stroke="#111" stroke-width="1.25" fill="none"/><path d="M1766.5 702.9l-6 -2.5l1.3 2.5l-1.3 2.5z" fill="#111"/>
<rect x="1735.4" y="709.7" width="1.8" height="5.2" fill="#000080"/>
<text x="1820.5" y="707.1" class="gene">MIR4755</text>
<path d="M1874.4 702.9H1886" stroke="#111" stroke-width="1.25" fill="none"/><path d="M1888.3 702.9l-6 -2.5l1.3 2.5l-1.3 2.5z" fill="#111"/>
<rect x="1854.9" y="709.7" width="1" height="5.2" fill="#000080"/>
<text x="1398.8" y="734.7" class="gene">C20orf203</text>
<path d="M1395.2 730.8H1384.1" stroke="#111" stroke-width="1.25" fill="none"/><path d="M1381.8 730.8l6 -2.5l-1.3 2.5l1.3 2.5z" fill="#111"/>
<rect x="1411.4" y="739.7" width="14.4" height="1.1" fill="#000080"/>
<rect x="1411.4" y="737.6" width="2.4" height="5.2" fill="#000080"/>
<rect x="1414.6" y="737.6" width="1.2" height="5.2" fill="#000080"/>
<rect x="1416.6" y="737.6" width="1.6" height="5.2" fill="#000080"/>
<rect x="1425.1" y="737.6" width="1" height="5.2" fill="#000080"/>
<text x="1529.8" y="734.7" class="gene">BPIFB4</text>
<path d="M1573.4 730.8H1584.8" stroke="#111" stroke-width="1.25" fill="none"/><path d="M1587.1 730.8l-6 -2.5l1.3 2.5l-1.3 2.5z" fill="#111"/>
<rect x="1552.0" y="737.6" width="11.2" height="5.2" fill="#000080"/>
<text x="1647.6" y="734.7" class="gene">SNTA1</text>
<path d="M1646.3 730.8H1635.2" stroke="#111" stroke-width="1.25" fill="none"/><path d="M1632.9 730.8l6 -2.5l-1.3 2.5l1.3 2.5z" fill="#111"/>
<rect x="1654.0" y="739.7" width="12.6" height="1.1" fill="#000080"/>
<rect x="1654.0" y="737.6" width="3.2" height="5.2" fill="#000080"/>
<rect x="1664.6" y="737.6" width="2.2" height="5.2" fill="#000080"/>
<text x="1734.3" y="734.7" class="gene">E2F1</text>
<path d="M1730.7 730.8H1719.1" stroke="#111" stroke-width="1.25" fill="none"/><path d="M1716.8 730.8l6 -2.5l-1.3 2.5l1.3 2.5z" fill="#111"/>
<rect x="1738.1" y="737.6" width="2.1" height="5.2" fill="#000080"/>
<rect x="1740.9" y="737.6" width="2.2" height="5.2" fill="#000080"/>
<text x="1420.1" y="762.2" class="gene">COMMD7</text>
<path d="M1418.4 758.7H1407.3" stroke="#111" stroke-width="1.25" fill="none"/><path d="M1405.0 758.7l6 -2.5l-1.3 2.5l1.3 2.5z" fill="#111"/>
<rect x="1433.5" y="767.6" width="14.2" height="1.1" fill="#000080"/>
<rect x="1433.5" y="765.5" width="1.7" height="5.2" fill="#000080"/>
<rect x="1440.6" y="765.5" width="1" height="5.2" fill="#000080"/>
<rect x="1443.4" y="765.5" width="1" height="5.2" fill="#000080"/>
<rect x="1447.0" y="765.5" width="1" height="5.2" fill="#000080"/>
<text x="1551.1" y="762.2" class="gene">BPIFA2</text>
<path d="M1596.5 758.7H1608" stroke="#111" stroke-width="1.25" fill="none"/><path d="M1610.3 758.7l-6 -2.5l1.3 2.5l-1.3 2.5z" fill="#111"/>
<rect x="1577.2" y="765.5" width="1.4" height="5.2" fill="#000080"/>
<rect x="1579.2" y="765.5" width="5.7" height="5.2" fill="#000080"/>
<text x="1737.1" y="762.2" class="gene">PXMP4</text>
<path d="M1734.1 758.7H1723" stroke="#111" stroke-width="1.25" fill="none"/><path d="M1720.7 758.7l6 -2.5l-1.3 2.5l1.3 2.5z" fill="#111"/>
<rect x="1746.5" y="765.5" width="3.8" height="5.2" fill="#000080"/>
<rect x="1750.9" y="765.5" width="0.9" height="5.2" fill="#000080"/>
<rect x="1752.3" y="765.5" width="0.8" height="5.2" fill="#000080"/>
<text x="1556.1" y="789.3" class="gene">BPIFA4P</text>
<path d="M1610 786.6H1621.1" stroke="#111" stroke-width="1.25" fill="none"/><path d="M1623.3999999999999 786.6l-6 -2.5l1.3 2.5l-1.3 2.5z" fill="#111"/>
<rect x="1587.3" y="793.4" width="6.8" height="5.2" fill="#000080"/>
<text x="1730.9" y="789.3" class="gene">ZNF341</text>
<path d="M1782.2 786.6H1793.6" stroke="#111" stroke-width="1.25" fill="none"/><path d="M1795.8999999999999 786.6l-6 -2.5l1.3 2.5l-1.3 2.5z" fill="#111"/>
<rect x="1755.4" y="795.5" width="20.4" height="1.1" fill="#000080"/>
<rect x="1755.3" y="793.4" width="1" height="5.2" fill="#000080"/>
<rect x="1758.2" y="793.4" width="10.4" height="5.2" fill="#000080"/>
<rect x="1770.2" y="793.4" width="1.4" height="5.2" fill="#000080"/>
<rect x="1772.6" y="793.4" width="1.2" height="5.2" fill="#000080"/>
<rect x="1774.8" y="793.4" width="1.1" height="5.2" fill="#000080"/>
<text x="1746.6" y="818.0" class="gene">ZNF341-AS1</text>
<path d="M1745.7 814.5H1734.3" stroke="#111" stroke-width="1.25" fill="none"/><path d="M1732.0 814.5l6 -2.5l-1.3 2.5l1.3 2.5z" fill="#111"/>
<rect x="1772.9" y="823.4" width="8.8" height="1.1" fill="#000080"/>
<rect x="1772.9" y="821.3" width="1.3" height="5.2" fill="#000080"/>
<rect x="1776.6" y="821.3" width="1" height="5.2" fill="#000080"/>
<rect x="1780.9" y="821.3" width="1" height="5.2" fill="#000080"/>
</g>
</svg></body></html>
